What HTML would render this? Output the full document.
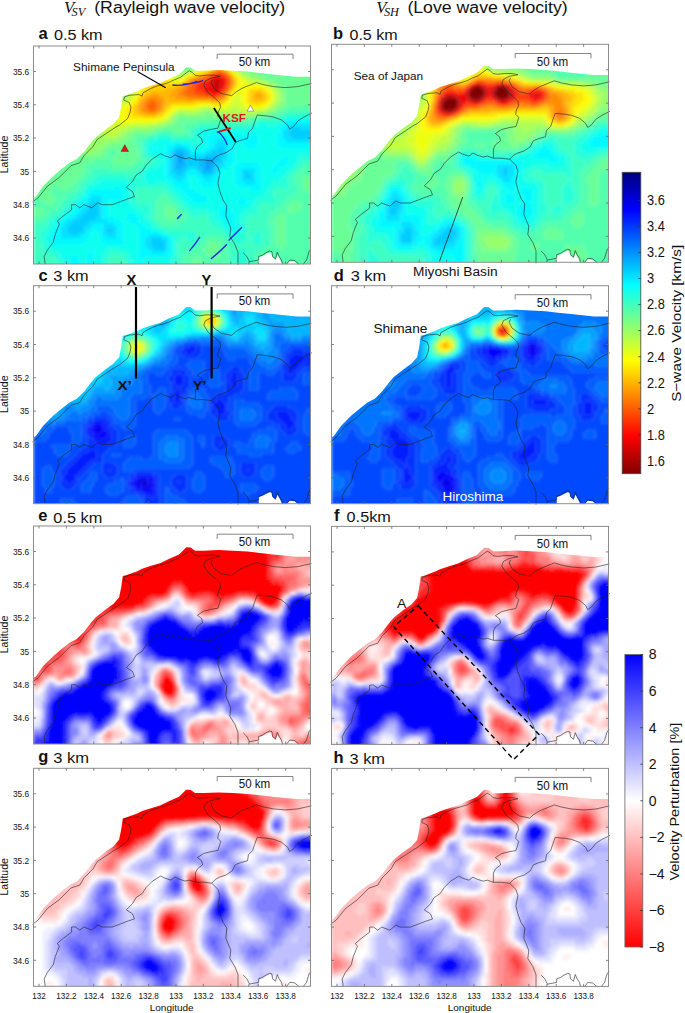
<!DOCTYPE html><html><head><meta charset="utf-8"><style>html,body{margin:0;padding:0;background:#fff;}svg{display:block}text{font-family:"Liberation Sans",sans-serif;fill:#111}</style></head><body><svg width="685" height="1013" viewBox="0 0 685 1013"><defs><clipPath id="mk"><polygon points="-1.0,152.0 2.4,150.4 9.7,140.1 19.9,129.9 28.7,122.6 36.0,116.8 43.3,113.1 50.6,105.8 57.9,96.3 62.3,91.2 72.5,83.2 79.8,78.1 85.6,71.5 87.7,61.3 89.3,50.1 92.6,49.3 103.8,45.2 108.6,42.8 118.3,39.6 126.5,37.2 135.3,32.9 145.5,28.5 150.6,23.4 152.8,21.2 157.2,21.6 161.5,24.8 170.3,24.8 184.9,24.1 199.5,24.8 214.1,25.6 226.5,27.0 239.5,28.4 262.5,30.7 277.0,30.7 277.0,218.0 0.0,218.0 0.0,152.0"/></clipPath><filter id="bl" x="-5%" y="-5%" width="110%" height="110%"><feGaussianBlur stdDeviation="1.6"/></filter><linearGradient id="jet" x1="0" y1="1" x2="0" y2="0"><stop offset="0" stop-color="#800000"/><stop offset="0.125" stop-color="#ff0000"/><stop offset="0.375" stop-color="#ffff00"/><stop offset="0.625" stop-color="#00ffff"/><stop offset="0.875" stop-color="#0000ff"/><stop offset="1" stop-color="#000080"/></linearGradient><linearGradient id="bwr" x1="0" y1="1" x2="0" y2="0"><stop offset="0" stop-color="#ff0000"/><stop offset="0.5" stop-color="#ffffff"/><stop offset="1" stop-color="#0000ff"/></linearGradient></defs><text x="64" y="13.1" font-size="16.8" style="font-family:'Liberation Serif',serif;font-style:italic">V</text><text x="71.6" y="16.2" font-size="12.3" style="font-family:'Liberation Serif',serif;font-style:italic">SV</text><text x="94.2" y="13.1" font-size="17.3" textLength="191" lengthAdjust="spacingAndGlyphs">(Rayleigh wave velocity)</text><text x="376.3" y="13.1" font-size="16.8" style="font-family:'Liberation Serif',serif;font-style:italic">V</text><text x="383.9" y="16.2" font-size="12.3" style="font-family:'Liberation Serif',serif;font-style:italic">SH</text><text x="407.4" y="13.1" font-size="17.3" textLength="160.3" lengthAdjust="spacingAndGlyphs">(Love wave velocity)</text><g transform="translate(33.5,46.0)"><g clip-path="url(#mk)"><g filter="url(#bl)"><g stroke-width="3.3" fill="none"><path stroke="#c2ff3d" d="M0 1.5h15M81 1.5h6M117 1.5h3M168 1.5h6M192 1.5h9M0 4.5h15M81 4.5h6M117 4.5h3M168 4.5h9M192 4.5h9M0 7.5h15M81 7.5h6M117 7.5h3M171 7.5h6M189 7.5h9M0 10.5h18M81 10.5h6M120 10.5h3M174 10.5h6M189 10.5h6M0 13.5h21M81 13.5h9M123 13.5h3M174 13.5h6M192 13.5h3M9 16.5h18M81 16.5h9M126 16.5h6M174 16.5h3M192 16.5h3M12 19.5h15M84 19.5h9M132 19.5h3M195 19.5h3M15 22.5h15M84 22.5h9M168 22.5h3M198 22.5h3M15 25.5h18M87 25.5h6M135 25.5h3M159 25.5h3M201 25.5h3M21 28.5h18M87 28.5h6M138 28.5h3M150 28.5h3M24 31.5h18M87 31.5h6M144 31.5h3M210 31.5h3M27 34.5h15M87 34.5h6M213 34.5h6M27 37.5h21M90 37.5h6M225 37.5h6M30 40.5h27M96 40.5h3M234 40.5h3M36 43.5h24M66 43.5h6M96 43.5h6M39 46.5h39M240 46.5h3M42 49.5h39M96 49.5h3M42 52.5h30M75 52.5h9M93 52.5h3M240 52.5h3M45 55.5h27M78 55.5h15M201 55.5h3M240 55.5h3M51 58.5h21M201 58.5h3M237 58.5h3M54 61.5h21M168 61.5h9M198 61.5h9M234 61.5h3M57 64.5h21M144 64.5h21M183 64.5h15M204 64.5h9M222 64.5h9M57 67.5h21M138 67.5h3M60 70.5h18M135 70.5h3M63 73.5h18M132 73.5h3M69 76.5h12M123 76.5h6M69 79.5h9M93 79.5h21M69 82.5h9M81 82.5h12M69 85.5h18M72 88.5h12"/><path stroke="#acff53" d="M15 1.5h12M60 1.5h21M162 1.5h6M201 1.5h6M15 4.5h12M60 4.5h21M165 4.5h3M201 4.5h6M15 7.5h15M63 7.5h18M120 7.5h3M165 7.5h6M198 7.5h6M18 10.5h15M66 10.5h15M123 10.5h3M168 10.5h6M195 10.5h6M21 13.5h12M69 13.5h12M126 13.5h3M171 13.5h3M195 13.5h3M0 16.5h9M27 16.5h9M69 16.5h12M132 16.5h3M171 16.5h3M195 16.5h3M0 19.5h12M27 19.5h21M69 19.5h15M135 19.5h3M171 19.5h3M0 22.5h15M30 22.5h21M72 22.5h12M135 22.5h3M165 22.5h3M6 25.5h9M33 25.5h21M75 25.5h12M138 25.5h3M156 25.5h3M204 25.5h3M9 28.5h12M39 28.5h24M78 28.5h9M141 28.5h9M207 28.5h6M12 31.5h12M42 31.5h24M81 31.5h6M213 31.5h3M15 34.5h12M42 34.5h27M81 34.5h6M219 34.5h9M18 37.5h9M48 37.5h24M81 37.5h9M231 37.5h3M21 40.5h9M57 40.5h27M87 40.5h9M237 40.5h3M24 43.5h12M60 43.5h6M72 43.5h12M93 43.5h3M240 43.5h3M27 46.5h12M78 46.5h6M93 46.5h6M243 46.5h3M30 49.5h12M81 49.5h6M93 49.5h3M243 49.5h3M33 52.5h9M84 52.5h9M243 52.5h3M36 55.5h9M243 55.5h3M39 58.5h12M240 58.5h3M42 61.5h12M237 61.5h3M45 64.5h12M165 64.5h6M177 64.5h6M198 64.5h6M231 64.5h3M48 67.5h9M141 67.5h3M153 67.5h9M186 67.5h36M51 70.5h9M138 70.5h3M54 73.5h9M135 73.5h3M54 76.5h15M129 76.5h6M60 79.5h9M114 79.5h12M63 82.5h6M93 82.5h6M66 85.5h3M87 85.5h6M66 88.5h6M84 88.5h3M66 91.5h18"/><path stroke="#96ff69" d="M27 1.5h33M120 1.5h3M156 1.5h6M207 1.5h3M27 4.5h33M120 4.5h3M159 4.5h6M207 4.5h3M30 7.5h33M123 7.5h3M162 7.5h3M204 7.5h6M33 10.5h33M126 10.5h3M165 10.5h3M201 10.5h6M33 13.5h36M129 13.5h6M168 13.5h3M198 13.5h3M36 16.5h33M135 16.5h3M168 16.5h3M198 16.5h3M48 19.5h21M168 19.5h3M198 19.5h3M51 22.5h21M138 22.5h3M162 22.5h3M201 22.5h3M0 25.5h6M54 25.5h21M141 25.5h6M150 25.5h6M207 25.5h3M0 28.5h9M63 28.5h15M213 28.5h3M0 31.5h12M66 31.5h15M216 31.5h9M0 34.5h15M69 34.5h12M228 34.5h6M0 37.5h18M72 37.5h9M234 37.5h6M0 40.5h21M84 40.5h3M240 40.5h3M0 43.5h24M84 43.5h9M243 43.5h3M0 46.5h27M84 46.5h9M246 46.5h3M0 49.5h30M87 49.5h6M246 49.5h3M0 52.5h33M246 52.5h3M0 55.5h36M246 55.5h3M0 58.5h39M243 58.5h3M0 61.5h42M240 61.5h3M0 64.5h45M171 64.5h6M234 64.5h6M0 67.5h48M144 67.5h9M162 67.5h6M180 67.5h6M222 67.5h9M0 70.5h51M141 70.5h3M195 70.5h21M0 73.5h54M138 73.5h3M0 76.5h54M135 76.5h3M0 79.5h60M126 79.5h6M12 82.5h51M99 82.5h21M18 85.5h48M93 85.5h6M21 88.5h45M87 88.5h6M24 91.5h42M84 91.5h6M30 94.5h54M36 97.5h39M39 100.5h30M45 103.5h21M51 106.5h9"/><path stroke="#d8ff27" d="M87 1.5h3M114 1.5h3M174 1.5h18M87 4.5h3M114 4.5h3M177 4.5h15M87 7.5h3M114 7.5h3M177 7.5h12M87 10.5h6M117 10.5h3M180 10.5h9M90 13.5h3M120 13.5h3M180 13.5h12M90 16.5h6M123 16.5h3M177 16.5h6M189 16.5h3M93 19.5h6M129 19.5h3M174 19.5h3M192 19.5h3M93 22.5h6M132 22.5h3M171 22.5h3M195 22.5h3M93 25.5h6M132 25.5h3M162 25.5h3M93 28.5h6M135 28.5h3M153 28.5h3M204 28.5h3M93 31.5h6M138 31.5h6M147 31.5h3M207 31.5h3M93 34.5h9M210 34.5h3M96 37.5h6M213 37.5h12M99 40.5h6M231 40.5h3M102 43.5h3M237 43.5h3M99 46.5h3M99 49.5h3M201 49.5h6M240 49.5h3M72 52.5h3M96 52.5h3M198 52.5h9M72 55.5h6M93 55.5h3M198 55.5h3M204 55.5h6M237 55.5h3M72 58.5h21M195 58.5h6M204 58.5h6M75 61.5h12M162 61.5h6M177 61.5h6M192 61.5h6M207 61.5h6M231 61.5h3M78 64.5h6M141 64.5h3M213 64.5h9M78 67.5h6M78 70.5h6M81 73.5h3M129 73.5h3M81 76.5h6M99 76.5h24M78 79.5h15M78 82.5h3"/><path stroke="#eeff11" d="M90 1.5h3M111 1.5h3M90 4.5h3M111 4.5h3M90 7.5h3M111 7.5h3M93 10.5h3M114 10.5h3M93 13.5h6M117 13.5h3M96 16.5h6M120 16.5h3M183 16.5h6M99 19.5h3M126 19.5h3M177 19.5h3M189 19.5h3M99 22.5h6M129 22.5h3M174 22.5h3M99 25.5h6M165 25.5h3M198 25.5h3M99 28.5h6M132 28.5h3M156 28.5h3M201 28.5h3M99 31.5h6M135 31.5h3M150 31.5h3M204 31.5h3M102 34.5h6M138 34.5h9M207 34.5h3M102 37.5h6M207 37.5h6M105 40.5h3M207 40.5h12M225 40.5h6M105 43.5h3M204 43.5h6M234 43.5h3M102 46.5h3M201 46.5h9M237 46.5h3M102 49.5h3M198 49.5h3M207 49.5h3M237 49.5h3M99 52.5h3M207 52.5h3M237 52.5h3M96 55.5h3M195 55.5h3M93 58.5h3M168 58.5h9M192 58.5h3M210 58.5h3M234 58.5h3M87 61.5h6M141 61.5h21M183 61.5h9M213 61.5h18M84 64.5h6M138 64.5h3M84 67.5h6M135 67.5h3M84 70.5h6M132 70.5h3M84 73.5h9M123 73.5h6M87 76.5h12"/><path stroke="#fff900" d="M93 1.5h3M108 1.5h3M93 4.5h6M108 4.5h3M93 7.5h6M108 7.5h3M96 10.5h6M108 10.5h6M99 13.5h18M102 16.5h6M114 16.5h6M102 19.5h6M120 19.5h6M180 19.5h9M105 22.5h3M123 22.5h6M192 22.5h3M105 25.5h3M126 25.5h6M168 25.5h3M105 28.5h6M129 28.5h3M159 28.5h3M105 31.5h6M132 31.5h3M108 34.5h3M135 34.5h3M147 34.5h3M204 34.5h3M108 37.5h3M204 37.5h3M108 40.5h3M204 40.5h3M219 40.5h6M108 43.5h3M201 43.5h3M210 43.5h6M231 43.5h3M105 46.5h3M198 46.5h3M210 46.5h3M234 46.5h3M210 49.5h3M102 52.5h3M195 52.5h3M210 52.5h3M99 55.5h3M192 55.5h3M210 55.5h3M234 55.5h3M96 58.5h3M162 58.5h6M177 58.5h3M189 58.5h3M213 58.5h3M228 58.5h6M93 61.5h3M138 61.5h3M90 64.5h3M135 64.5h3M90 67.5h3M132 67.5h3M90 70.5h6M129 70.5h3M93 73.5h30"/><path stroke="#ffe300" d="M96 1.5h12M99 4.5h9M99 7.5h9M102 10.5h6M108 16.5h6M108 19.5h12M108 22.5h15M177 22.5h3M108 25.5h9M120 25.5h6M171 25.5h3M195 25.5h3M111 28.5h6M123 28.5h6M162 28.5h3M198 28.5h3M111 31.5h6M126 31.5h6M153 31.5h3M201 31.5h3M111 34.5h6M129 34.5h6M150 34.5h3M111 37.5h6M132 37.5h15M111 40.5h6M201 40.5h3M111 43.5h3M216 43.5h15M108 46.5h3M213 46.5h3M231 46.5h3M105 49.5h3M195 49.5h3M213 49.5h3M234 49.5h3M213 52.5h3M234 52.5h3M102 55.5h3M213 55.5h3M231 55.5h3M99 58.5h3M138 58.5h24M180 58.5h9M216 58.5h12M96 61.5h3M135 61.5h3M93 64.5h6M132 64.5h3M93 67.5h6M129 67.5h3M96 70.5h12M123 70.5h6"/><path stroke="#80ff80" d="M123 1.5h3M150 1.5h6M210 1.5h6M123 4.5h3M150 4.5h9M210 4.5h6M126 7.5h3M153 7.5h9M210 7.5h6M129 10.5h6M159 10.5h6M207 10.5h6M135 13.5h3M165 13.5h3M201 13.5h6M138 16.5h3M165 16.5h3M201 16.5h3M138 19.5h6M165 19.5h3M201 19.5h3M141 22.5h3M156 22.5h6M204 22.5h6M147 25.5h3M210 25.5h9M216 28.5h9M225 31.5h6M234 34.5h6M240 37.5h6M243 40.5h6M246 43.5h6M249 46.5h3M249 49.5h3M249 52.5h3M249 55.5h3M246 58.5h6M243 61.5h6M240 64.5h3M168 67.5h12M231 67.5h6M144 70.5h27M180 70.5h15M216 70.5h9M141 73.5h3M198 73.5h12M138 76.5h3M132 79.5h6M0 82.5h12M120 82.5h9M0 85.5h18M99 85.5h21M0 88.5h21M93 88.5h6M0 91.5h24M90 91.5h6M6 94.5h24M84 94.5h9M12 97.5h24M75 97.5h12M15 100.5h24M69 100.5h6M18 103.5h27M66 103.5h6M27 106.5h24M60 106.5h9M33 109.5h33"/><path stroke="#69ff96" d="M126 1.5h6M138 1.5h12M216 1.5h66M126 4.5h9M138 4.5h12M216 4.5h66M129 7.5h24M216 7.5h66M135 10.5h24M213 10.5h69M138 13.5h9M159 13.5h6M207 13.5h75M141 16.5h6M162 16.5h3M204 16.5h78M144 19.5h3M159 19.5h6M204 19.5h78M144 22.5h12M210 22.5h72M219 25.5h63M225 28.5h57M231 31.5h51M240 34.5h42M246 37.5h36M249 40.5h33M252 43.5h30M252 46.5h30M252 49.5h30M252 52.5h30M252 55.5h30M252 58.5h30M249 61.5h6M243 64.5h6M237 67.5h9M171 70.5h9M225 70.5h9M144 73.5h54M210 73.5h9M141 76.5h9M153 76.5h9M138 79.5h12M129 82.5h21M120 85.5h6M141 85.5h9M99 88.5h18M96 91.5h6M0 94.5h6M93 94.5h9M0 97.5h12M87 97.5h15M0 100.5h15M75 100.5h27M0 103.5h18M72 103.5h33M0 106.5h27M69 106.5h6M84 106.5h21M0 109.5h33M66 109.5h9M81 109.5h24M0 112.5h72M78 112.5h27M0 115.5h60M78 115.5h24M0 118.5h54M81 118.5h18M0 121.5h51M0 124.5h51M0 127.5h48M0 130.5h48M270 130.5h12M0 133.5h45M270 133.5h12M0 136.5h42M270 136.5h12M0 139.5h39M270 139.5h12M0 142.5h18M27 142.5h6M270 142.5h12M0 145.5h18M273 145.5h6M0 148.5h18M0 151.5h21M9 154.5h12M12 157.5h6M258 157.5h9M132 160.5h6M255 160.5h12M0 163.5h9M132 163.5h9M255 163.5h12M0 166.5h9M132 166.5h12M255 166.5h6M0 169.5h6M132 169.5h12M246 169.5h6M135 172.5h6M243 172.5h9M240 175.5h12M243 178.5h9M243 181.5h9M243 184.5h9M243 187.5h9M243 190.5h9M243 193.5h9M174 196.5h12M243 196.5h9M174 199.5h12M243 199.5h9M171 202.5h15M246 202.5h3M171 205.5h15M174 208.5h12M162 211.5h3M180 211.5h6M231 211.5h9M159 214.5h9M228 214.5h12M159 217.5h9M228 217.5h12M159 220.5h9M180 220.5h3M228 220.5h12"/><path stroke="#53ffac" d="M132 1.5h6M135 4.5h3M147 13.5h12M147 16.5h15M147 19.5h12M255 61.5h27M249 64.5h33M246 67.5h6M234 70.5h12M219 73.5h6M150 76.5h3M162 76.5h54M150 79.5h15M150 82.5h9M126 85.5h15M150 85.5h6M117 88.5h6M138 88.5h18M102 91.5h12M102 94.5h6M102 97.5h6M102 100.5h6M105 103.5h3M75 106.5h9M105 106.5h3M75 109.5h6M105 109.5h3M72 112.5h6M105 112.5h6M60 115.5h18M102 115.5h9M54 118.5h27M99 118.5h9M51 121.5h12M66 121.5h39M270 121.5h12M51 124.5h6M78 124.5h21M267 124.5h15M48 127.5h9M264 127.5h18M48 130.5h6M261 130.5h9M45 133.5h6M261 133.5h9M42 136.5h6M261 136.5h9M39 139.5h6M264 139.5h6M18 142.5h9M33 142.5h12M264 142.5h6M18 145.5h24M264 145.5h9M279 145.5h3M18 148.5h18M129 148.5h3M261 148.5h21M21 151.5h12M126 151.5h9M255 151.5h27M0 154.5h9M21 154.5h9M123 154.5h15M252 154.5h30M0 157.5h12M18 157.5h9M123 157.5h18M249 157.5h9M267 157.5h15M0 160.5h27M123 160.5h9M138 160.5h6M246 160.5h9M267 160.5h15M9 163.5h15M123 163.5h9M141 163.5h6M243 163.5h12M267 163.5h15M9 166.5h9M123 166.5h9M144 166.5h6M237 166.5h18M261 166.5h21M6 169.5h9M123 169.5h9M144 169.5h9M237 169.5h9M252 169.5h30M0 172.5h12M123 172.5h12M141 172.5h12M234 172.5h9M252 172.5h30M0 175.5h9M126 175.5h24M234 175.5h6M252 175.5h30M129 178.5h15M234 178.5h9M252 178.5h30M237 181.5h6M252 181.5h30M237 184.5h6M252 184.5h30M237 187.5h6M252 187.5h30M174 190.5h15M237 190.5h6M252 190.5h30M171 193.5h21M237 193.5h6M252 193.5h30M168 196.5h6M186 196.5h6M237 196.5h6M252 196.5h30M165 199.5h9M186 199.5h9M234 199.5h9M252 199.5h30M162 202.5h9M186 202.5h9M231 202.5h15M249 202.5h33M153 205.5h18M186 205.5h9M225 205.5h57M150 208.5h24M186 208.5h9M222 208.5h60M150 211.5h12M165 211.5h15M186 211.5h9M222 211.5h9M240 211.5h42M150 214.5h9M168 214.5h27M222 214.5h6M240 214.5h42M150 217.5h9M168 217.5h27M222 217.5h6M240 217.5h42M150 220.5h9M168 220.5h12M183 220.5h12M222 220.5h6M240 220.5h42"/><path stroke="#ffcd00" d="M180 22.5h3M189 22.5h3M117 25.5h3M174 25.5h3M117 28.5h6M165 28.5h3M117 31.5h9M156 31.5h3M117 34.5h12M201 34.5h3M117 37.5h15M147 37.5h3M201 37.5h3M117 40.5h27M114 43.5h18M198 43.5h3M111 46.5h6M195 46.5h3M216 46.5h6M228 46.5h3M108 49.5h3M216 49.5h3M231 49.5h3M105 52.5h3M192 52.5h3M216 52.5h3M231 52.5h3M162 55.5h15M189 55.5h3M216 55.5h6M225 55.5h6M102 58.5h3M135 58.5h3M99 61.5h3M132 61.5h3M99 64.5h3M99 67.5h6M126 67.5h3M108 70.5h15"/><path stroke="#ffb700" d="M183 22.5h6M192 25.5h3M168 28.5h3M195 28.5h3M159 31.5h3M198 31.5h3M153 34.5h3M150 37.5h3M144 40.5h3M198 40.5h3M132 43.5h9M117 46.5h21M222 46.5h6M111 49.5h6M126 49.5h9M192 49.5h3M219 49.5h3M228 49.5h3M108 52.5h3M132 52.5h9M219 52.5h12M105 55.5h3M132 55.5h30M177 55.5h12M222 55.5h3M132 58.5h3M102 61.5h3M129 61.5h3M102 64.5h3M129 64.5h3M105 67.5h6M123 67.5h3"/><path stroke="#ffa100" d="M177 25.5h3M171 28.5h3M162 31.5h3M198 34.5h3M198 37.5h3M147 40.5h3M141 43.5h6M195 43.5h3M138 46.5h6M117 49.5h9M135 49.5h9M222 49.5h6M111 52.5h3M126 52.5h6M141 52.5h12M189 52.5h3M108 55.5h3M129 55.5h3M105 58.5h3M129 58.5h3M105 61.5h3M105 64.5h3M126 64.5h3M111 67.5h12"/><path stroke="#ff8b00" d="M180 25.5h3M189 25.5h3M174 28.5h3M165 31.5h3M156 34.5h3M153 37.5h3M150 40.5h3M147 43.5h3M144 46.5h3M192 46.5h3M144 49.5h6M114 52.5h12M153 52.5h24M186 52.5h3M111 55.5h3M123 55.5h6M108 58.5h3M126 58.5h3M108 61.5h3M126 61.5h3M108 64.5h6M123 64.5h3"/><path stroke="#ff7400" d="M183 25.5h6M192 28.5h3M168 31.5h3M195 31.5h3M159 34.5h3M156 37.5h3M153 40.5h3M195 40.5h3M150 43.5h3M147 46.5h6M150 49.5h12M189 49.5h3M177 52.5h9M114 55.5h9M111 58.5h3M123 58.5h3M111 61.5h3M123 61.5h3M114 64.5h9"/><path stroke="#ff5e00" d="M177 28.5h3M171 31.5h3M162 34.5h6M195 34.5h3M159 37.5h3M195 37.5h3M156 40.5h3M153 43.5h6M192 43.5h3M153 46.5h6M189 46.5h3M162 49.5h9M186 49.5h3M114 58.5h9M114 61.5h9"/><path stroke="#ff4800" d="M180 28.5h3M189 28.5h3M174 31.5h3M192 31.5h3M168 34.5h3M162 37.5h3M159 40.5h3M192 40.5h3M159 43.5h3M159 46.5h9M171 49.5h6M183 49.5h3"/><path stroke="#ff3200" d="M183 28.5h6M171 34.5h3M192 34.5h3M165 37.5h3M192 37.5h3M162 40.5h3M162 43.5h6M189 43.5h3M168 46.5h3M177 49.5h6"/><path stroke="#ff1c00" d="M177 31.5h3M189 31.5h3M174 34.5h3M168 37.5h3M165 40.5h6M168 43.5h3M171 46.5h6M186 46.5h3"/><path stroke="#ff0600" d="M180 31.5h3M186 31.5h3M171 37.5h3M171 40.5h3M189 40.5h3M171 43.5h3M186 43.5h3M177 46.5h9"/><path stroke="#ee0000" d="M183 31.5h3M177 34.5h3M189 34.5h3M174 37.5h3M189 37.5h3M174 40.5h3M174 43.5h6"/><path stroke="#d80000" d="M180 34.5h9M177 37.5h3M186 37.5h3M177 40.5h3M186 40.5h3M180 43.5h6"/><path stroke="#c20000" d="M180 37.5h6M180 40.5h6"/><path stroke="#3dffc2" d="M252 67.5h30M246 70.5h6M225 73.5h21M216 76.5h6M165 79.5h51M159 82.5h6M156 85.5h6M123 88.5h15M156 88.5h3M114 91.5h9M138 91.5h21M108 94.5h6M108 97.5h3M108 100.5h3M108 103.5h3M108 106.5h3M108 109.5h6M111 112.5h6M111 115.5h9M270 115.5h12M108 118.5h9M267 118.5h15M63 121.5h3M105 121.5h9M264 121.5h6M57 124.5h21M99 124.5h9M261 124.5h6M57 127.5h48M258 127.5h6M54 130.5h9M93 130.5h12M255 130.5h6M51 133.5h9M255 133.5h6M48 136.5h9M255 136.5h6M45 139.5h6M255 139.5h9M45 142.5h6M102 142.5h30M243 142.5h9M255 142.5h9M42 145.5h6M102 145.5h33M240 145.5h24M36 148.5h9M102 148.5h27M132 148.5h6M240 148.5h21M33 151.5h9M102 151.5h24M135 151.5h6M240 151.5h15M30 154.5h9M102 154.5h21M138 154.5h6M243 154.5h9M27 157.5h9M105 157.5h9M117 157.5h6M141 157.5h6M228 157.5h21M27 160.5h6M117 160.5h6M144 160.5h6M225 160.5h21M24 163.5h6M117 163.5h6M147 163.5h6M225 163.5h18M18 166.5h9M117 166.5h6M150 166.5h6M225 166.5h12M15 169.5h9M117 169.5h6M153 169.5h6M165 169.5h9M216 169.5h21M12 172.5h6M117 172.5h6M153 172.5h21M213 172.5h21M9 175.5h6M120 175.5h6M150 175.5h27M213 175.5h21M0 178.5h15M123 178.5h6M144 178.5h33M213 178.5h21M0 181.5h12M126 181.5h57M213 181.5h24M0 184.5h9M132 184.5h57M213 184.5h24M0 187.5h6M162 187.5h30M213 187.5h9M228 187.5h9M0 190.5h6M147 190.5h6M162 190.5h12M189 190.5h6M213 190.5h6M228 190.5h9M0 193.5h6M147 193.5h6M162 193.5h9M192 193.5h6M213 193.5h6M228 193.5h9M0 196.5h9M144 196.5h24M192 196.5h9M210 196.5h9M228 196.5h9M0 199.5h9M144 199.5h21M195 199.5h39M0 202.5h9M144 202.5h18M195 202.5h36M0 205.5h12M144 205.5h9M195 205.5h9M213 205.5h12M0 208.5h18M78 208.5h9M144 208.5h6M195 208.5h9M213 208.5h9M0 211.5h21M75 211.5h15M144 211.5h6M195 211.5h6M213 211.5h9M0 214.5h24M75 214.5h18M144 214.5h6M195 214.5h6M213 214.5h9M3 217.5h21M75 217.5h18M144 217.5h6M195 217.5h6M213 217.5h9M0 220.5h24M75 220.5h18M144 220.5h6M195 220.5h6M213 220.5h9"/><path stroke="#27ffd8" d="M252 70.5h30M246 73.5h6M222 76.5h27M216 79.5h9M234 79.5h9M165 82.5h54M162 85.5h6M159 88.5h6M123 91.5h15M159 91.5h6M114 94.5h9M138 94.5h27M111 97.5h6M159 97.5h9M111 100.5h3M111 103.5h3M111 106.5h3M114 109.5h6M267 109.5h15M117 112.5h9M264 112.5h18M120 115.5h9M264 115.5h6M117 118.5h9M261 118.5h6M114 121.5h9M258 121.5h6M108 124.5h6M255 124.5h6M105 127.5h6M252 127.5h6M63 130.5h30M105 130.5h6M249 130.5h6M60 133.5h51M246 133.5h9M57 136.5h9M93 136.5h21M123 136.5h9M240 136.5h15M51 139.5h9M96 139.5h39M237 139.5h18M51 142.5h3M96 142.5h6M132 142.5h6M234 142.5h9M252 142.5h3M48 145.5h3M96 145.5h6M135 145.5h6M234 145.5h6M45 148.5h6M96 148.5h6M138 148.5h6M231 148.5h9M42 151.5h6M96 151.5h6M141 151.5h6M225 151.5h15M39 154.5h6M96 154.5h6M144 154.5h6M222 154.5h21M36 157.5h6M96 157.5h9M114 157.5h3M147 157.5h6M219 157.5h9M33 160.5h6M99 160.5h18M150 160.5h6M219 160.5h6M30 163.5h6M102 163.5h15M153 163.5h9M165 163.5h9M213 163.5h12M27 166.5h6M108 166.5h9M156 166.5h24M210 166.5h15M24 169.5h6M111 169.5h6M159 169.5h6M174 169.5h6M207 169.5h9M18 172.5h9M111 172.5h6M174 172.5h9M207 172.5h6M15 175.5h6M114 175.5h6M177 175.5h9M207 175.5h6M15 178.5h6M117 178.5h6M177 178.5h12M207 178.5h6M12 181.5h6M120 181.5h6M183 181.5h9M207 181.5h6M9 184.5h6M126 184.5h6M189 184.5h6M207 184.5h6M6 187.5h9M132 187.5h30M192 187.5h6M207 187.5h6M222 187.5h6M6 190.5h6M138 190.5h9M153 190.5h9M195 190.5h18M219 190.5h9M6 193.5h6M141 193.5h6M153 193.5h9M198 193.5h15M219 193.5h9M9 196.5h6M141 196.5h3M201 196.5h9M219 196.5h9M9 199.5h6M141 199.5h3M9 202.5h9M75 202.5h9M141 202.5h3M12 205.5h12M72 205.5h21M141 205.5h3M204 205.5h9M18 208.5h9M69 208.5h9M87 208.5h9M141 208.5h3M204 208.5h9M21 211.5h6M69 211.5h6M90 211.5h6M138 211.5h6M201 211.5h12M24 214.5h6M69 214.5h6M93 214.5h6M138 214.5h6M201 214.5h12M0 217.5h3M24 217.5h6M69 217.5h6M93 217.5h6M138 217.5h6M201 217.5h12M24 220.5h3M69 220.5h6M93 220.5h3M138 220.5h6M201 220.5h12"/><path stroke="#11ffee" d="M252 73.5h30M249 76.5h3M225 79.5h9M243 79.5h6M219 82.5h27M168 85.5h78M165 88.5h12M183 88.5h60M165 91.5h9M225 91.5h18M123 94.5h15M165 94.5h9M225 94.5h18M117 97.5h24M147 97.5h12M168 97.5h6M204 97.5h6M225 97.5h18M114 100.5h6M123 100.5h9M156 100.5h18M201 100.5h12M222 100.5h24M114 103.5h6M123 103.5h9M159 103.5h12M201 103.5h81M114 106.5h18M201 106.5h81M120 109.5h12M201 109.5h66M126 112.5h6M201 112.5h48M255 112.5h9M129 115.5h3M201 115.5h45M255 115.5h9M126 118.5h6M198 118.5h6M225 118.5h18M252 118.5h9M123 121.5h9M195 121.5h6M228 121.5h12M246 121.5h12M114 124.5h18M189 124.5h12M228 124.5h9M246 124.5h9M111 127.5h21M189 127.5h12M228 127.5h12M243 127.5h9M111 130.5h21M156 130.5h6M186 130.5h15M228 130.5h21M111 133.5h24M156 133.5h9M186 133.5h15M228 133.5h18M66 136.5h27M114 136.5h9M132 136.5h6M156 136.5h9M183 136.5h18M228 136.5h12M60 139.5h36M135 139.5h6M156 139.5h12M183 139.5h21M228 139.5h9M54 142.5h27M87 142.5h9M138 142.5h9M156 142.5h60M228 142.5h6M51 145.5h6M90 145.5h6M141 145.5h9M162 145.5h72M51 148.5h3M90 148.5h6M144 148.5h9M168 148.5h63M48 151.5h6M90 151.5h6M147 151.5h9M174 151.5h33M210 151.5h15M45 154.5h6M75 154.5h9M90 154.5h6M150 154.5h9M174 154.5h30M213 154.5h9M42 157.5h6M75 157.5h21M153 157.5h51M213 157.5h6M39 160.5h6M75 160.5h24M156 160.5h33M192 160.5h27M36 163.5h6M75 163.5h27M162 163.5h3M174 163.5h12M198 163.5h15M33 166.5h6M75 166.5h33M180 166.5h6M198 166.5h12M30 169.5h6M75 169.5h18M102 169.5h9M180 169.5h6M201 169.5h6M27 172.5h6M81 172.5h12M105 172.5h6M183 172.5h6M201 172.5h6M21 175.5h6M87 175.5h9M105 175.5h9M186 175.5h6M201 175.5h6M21 178.5h3M90 178.5h12M108 178.5h9M189 178.5h6M201 178.5h6M18 181.5h6M90 181.5h15M111 181.5h9M192 181.5h6M201 181.5h6M15 184.5h6M60 184.5h3M90 184.5h15M117 184.5h9M195 184.5h12M15 187.5h6M57 187.5h9M90 187.5h15M126 187.5h6M198 187.5h9M12 190.5h6M57 190.5h9M90 190.5h15M135 190.5h3M12 193.5h6M54 193.5h12M90 193.5h15M138 193.5h3M15 196.5h6M51 196.5h18M90 196.5h15M138 196.5h3M15 199.5h90M138 199.5h3M18 202.5h39M60 202.5h15M84 202.5h21M138 202.5h3M24 205.5h33M60 205.5h12M93 205.5h12M138 205.5h3M27 208.5h27M60 208.5h9M96 208.5h9M135 208.5h6M27 211.5h9M45 211.5h9M60 211.5h9M96 211.5h9M111 211.5h27M30 214.5h6M45 214.5h9M60 214.5h9M99 214.5h6M108 214.5h30M30 217.5h6M48 217.5h6M60 217.5h9M99 217.5h6M108 217.5h30M27 220.5h9M45 220.5h9M60 220.5h9M96 220.5h9M111 220.5h27"/><path stroke="#00f9ff" d="M252 76.5h30M249 79.5h6M246 82.5h6M246 85.5h3M177 88.5h6M243 88.5h6M174 91.5h51M243 91.5h6M174 94.5h9M192 94.5h33M243 94.5h9M141 97.5h6M174 97.5h6M195 97.5h9M210 97.5h15M243 97.5h39M120 100.5h3M132 100.5h9M150 100.5h6M174 100.5h6M195 100.5h6M213 100.5h9M246 100.5h36M120 103.5h3M132 103.5h6M156 103.5h3M171 103.5h6M195 103.5h6M132 106.5h3M159 106.5h12M195 106.5h6M132 109.5h3M195 109.5h6M132 112.5h3M195 112.5h6M249 112.5h6M132 115.5h3M192 115.5h9M246 115.5h9M132 118.5h3M192 118.5h6M204 118.5h21M243 118.5h9M132 121.5h3M189 121.5h6M201 121.5h12M216 121.5h12M240 121.5h6M132 124.5h3M156 124.5h6M186 124.5h3M201 124.5h6M222 124.5h6M237 124.5h9M132 127.5h3M153 127.5h12M183 127.5h6M201 127.5h6M222 127.5h6M240 127.5h3M132 130.5h6M153 130.5h3M162 130.5h6M180 130.5h6M201 130.5h6M222 130.5h6M135 133.5h6M150 133.5h6M165 133.5h6M177 133.5h9M201 133.5h6M222 133.5h6M138 136.5h18M165 136.5h18M201 136.5h9M222 136.5h6M141 139.5h15M168 139.5h15M204 139.5h24M81 142.5h6M147 142.5h9M216 142.5h12M57 145.5h33M150 145.5h12M54 148.5h36M153 148.5h15M54 151.5h3M69 151.5h21M156 151.5h18M207 151.5h3M51 154.5h3M69 154.5h6M84 154.5h6M159 154.5h15M204 154.5h9M48 157.5h6M69 157.5h6M204 157.5h9M45 160.5h6M69 160.5h6M189 160.5h3M42 163.5h6M69 163.5h6M186 163.5h12M39 166.5h6M69 166.5h6M186 166.5h12M36 169.5h6M69 169.5h6M93 169.5h9M186 169.5h15M33 172.5h6M69 172.5h12M93 172.5h12M189 172.5h12M27 175.5h6M75 175.5h12M96 175.5h9M192 175.5h9M24 178.5h6M60 178.5h9M81 178.5h9M102 178.5h6M195 178.5h6M24 181.5h3M57 181.5h12M84 181.5h6M105 181.5h6M198 181.5h3M21 184.5h6M54 184.5h6M63 184.5h6M84 184.5h6M105 184.5h12M21 187.5h6M51 187.5h6M66 187.5h3M84 187.5h6M105 187.5h21M18 190.5h9M48 190.5h9M66 190.5h6M84 190.5h6M105 190.5h9M129 190.5h6M18 193.5h36M66 193.5h24M105 193.5h6M135 193.5h3M21 196.5h30M69 196.5h21M105 196.5h6M135 196.5h3M105 199.5h6M135 199.5h3M57 202.5h3M105 202.5h9M135 202.5h3M57 205.5h3M105 205.5h12M132 205.5h6M54 208.5h6M105 208.5h30M36 211.5h9M54 211.5h6M105 211.5h6M36 214.5h9M54 214.5h6M105 214.5h3M36 217.5h12M54 217.5h6M105 217.5h3M36 220.5h9M54 220.5h6M105 220.5h6"/><path stroke="#00e3ff" d="M255 79.5h27M252 82.5h6M267 82.5h15M249 85.5h6M249 88.5h6M249 91.5h9M183 94.5h9M252 94.5h30M180 97.5h15M141 100.5h9M180 100.5h6M189 100.5h6M138 103.5h3M153 103.5h3M177 103.5h6M192 103.5h3M135 106.5h3M156 106.5h3M171 106.5h6M192 106.5h3M135 109.5h3M156 109.5h15M192 109.5h3M135 112.5h3M189 112.5h6M135 115.5h3M189 115.5h3M135 118.5h3M186 118.5h6M135 121.5h3M156 121.5h6M183 121.5h6M213 121.5h3M135 124.5h3M153 124.5h3M162 124.5h3M183 124.5h3M207 124.5h15M135 127.5h6M150 127.5h3M165 127.5h3M180 127.5h3M207 127.5h3M216 127.5h6M138 130.5h6M147 130.5h6M168 130.5h12M207 130.5h3M219 130.5h3M141 133.5h9M171 133.5h6M207 133.5h15M210 136.5h12M57 151.5h12M54 154.5h15M54 157.5h3M66 157.5h3M51 160.5h3M66 160.5h3M48 163.5h6M66 163.5h3M45 166.5h6M66 166.5h3M42 169.5h6M66 169.5h3M39 172.5h6M63 172.5h6M33 175.5h6M57 175.5h18M30 178.5h6M54 178.5h6M69 178.5h12M27 181.5h6M51 181.5h6M69 181.5h6M78 181.5h6M27 184.5h6M51 184.5h3M69 184.5h3M81 184.5h3M27 187.5h9M45 187.5h6M69 187.5h6M78 187.5h6M27 190.5h21M72 190.5h12M114 190.5h15M111 193.5h6M129 193.5h6M111 196.5h6M132 196.5h3M111 199.5h6M132 199.5h3M114 202.5h6M132 202.5h3M117 205.5h15"/><path stroke="#00cdff" d="M258 82.5h9M255 85.5h27M255 88.5h27M258 91.5h24M186 100.5h3M141 103.5h12M183 103.5h9M138 106.5h3M150 106.5h6M177 106.5h15M138 109.5h3M153 109.5h3M171 109.5h9M183 109.5h9M138 112.5h3M153 112.5h18M186 112.5h3M138 115.5h3M153 115.5h12M183 115.5h6M138 118.5h3M153 118.5h12M183 118.5h3M138 121.5h3M150 121.5h6M162 121.5h6M180 121.5h3M138 124.5h6M147 124.5h6M165 124.5h3M180 124.5h3M141 127.5h9M168 127.5h12M210 127.5h6M144 130.5h3M210 130.5h9M57 157.5h9M54 160.5h12M54 163.5h12M51 166.5h15M48 169.5h18M45 172.5h18M39 175.5h18M36 178.5h18M33 181.5h18M75 181.5h3M33 184.5h18M72 184.5h9M36 187.5h9M75 187.5h3M117 193.5h12M117 196.5h15M117 199.5h15M120 202.5h12"/><path stroke="#00b7ff" d="M141 106.5h9M141 109.5h3M150 109.5h3M180 109.5h3M141 112.5h3M150 112.5h3M171 112.5h15M141 115.5h3M150 115.5h3M165 115.5h6M180 115.5h3M141 118.5h3M147 118.5h6M165 118.5h6M180 118.5h3M141 121.5h9M168 121.5h3M177 121.5h3M144 124.5h3M168 124.5h12"/><path stroke="#00a1ff" d="M144 109.5h6M144 112.5h6M144 115.5h6M171 115.5h9M144 118.5h3M171 118.5h9M171 121.5h6"/></g></g></g><path d="M225.2 218.5V211.5L229 210L233 208L236 206.5L238.2 207L238.8 211L242 214L244 209L247 214.5L249 218.5ZM253 218.5L256.3 215L261 215.5L265 218.5Z" fill="#fff"/><path d="M-1.0 156.0 L4.6 151.8 L14.0 140.1 L25.8 131.4 L37.5 119.7 L46.2 116.8 L50.6 109.5 L59.4 100.7 L63.7 93.4 L72.5 87.6 L81.3 81.7 L86.1 79.0 L94.2 72.5 L96.6 66.1 L97.4 61.3 L95.8 56.5 L90.2 54.0 L91.0 50.9 L95.8 49.3 L105.4 48.5 L108.6 50.1 L109.4 46.8 L118.3 42.0 L124.7 39.6 L129.0 38.5 L135.3 36.5 L139.6 34.3 L146.9 31.4 L150.6 28.5 L155.7 24.8 L158.6 26.3 L161.5 29.2 L165.9 30.0 L173.2 29.2 L180.5 29.2 L186.4 30.4 M186.4 30.4 L177.6 32.1 L171.8 35.1 L170.3 39.4 L174.7 46.7 L182.0 52.6 L186.4 57.0 L187.1 61.3 L184.9 65.7 L184.2 70.0 L187.2 73.0 L186.4 76.0 L184.4 82.2 L178.2 83.2 L170.1 85.2 L163.9 89.3 L168.0 92.4 L169.1 96.5 L163.9 100.6 L161.9 104.7 L161.9 113.9 M179.1 33.6 L177.6 36.5 L180.5 42.4 L187.8 47.5 L198.0 49.7 L202.4 46.0 L208.3 42.4 L215.6 39.4 L222.9 36.5 L229.8 38.6 L240.0 40.6 L252.1 41.6 L264.3 40.6 L278.0 37.5 M209.7 206.8 L213.3 210.4 L215.7 215.2 L215.1 218.5 M215.7 215.8 L225.2 214.0 L225.2 210.4 L228.8 209.2 L232.4 206.8 L236.0 205.0 L238.4 205.6 L239.0 210.4 L242.0 212.8 L243.8 206.2 L245.6 210.4 L248.0 214.0 L249.2 218.5 M252.8 218.5 L256.3 214.0 L261.1 214.6 L265.9 218.5 M269.5 218.5 L273.1 214.0 L275.5 205.6 L277.5 203.0 M11.7 218.0 L10.7 210.5 L13.7 204.4 L19.8 196.3 L21.8 188.1 L25.9 178.0 L23.9 175.0 L29.9 169.9 L38.1 163.8 L38.1 158.7 L42.1 158.7 L46.2 161.8 L50.2 158.7 L58.3 161.8 L64.4 156.7 L68.5 158.7 L78.6 158.7 L86.8 155.7 L94.9 152.6 L101.0 150.6 L99.0 145.5 L92.8 141.5 L99.0 135.4 L102.6 129.2 L108.8 125.1 L112.8 119.0 L119.0 112.8 L127.2 107.7 L131.2 109.8 L137.4 111.8 L141.5 108.7 L145.5 110.8 L151.7 112.8 L155.8 111.8 L161.9 113.9 L170.1 113.9 L178.2 114.9 M178.2 114.9 L184.4 121.0 L186.4 127.1 L184.4 137.4 L186.4 145.5 L189.5 154.0 L193.3 159.7 L192.3 169.9 L197.3 182.0 L196.3 190.2 L201.4 198.3 L204.5 206.4 L204.5 219.0 M178.2 114.9 L182.3 110.8 L186.4 108.7 L192.5 106.7 L198.7 102.6 L201.8 96.5 L206.9 94.4 L214.0 92.4 L215.0 86.3 L219.1 82.2 L221.2 76.0 L223.7 69.0 L233.9 70.0 L240.0 71.0 L248.1 74.0 L254.2 79.1 L256.2 83.2 L260.3 80.2 L264.3 75.0 L270.4 71.0 L278.5 67.0" stroke="#222" stroke-width="0.6" fill="none" stroke-linejoin="round"/><text x="39.6" y="25" font-size="11" textLength="101.6" lengthAdjust="spacingAndGlyphs">Shimane Peninsula</text><path d="M103.9 25.5L132.2 41.7" stroke="#000" stroke-width="1.1"/><path d="M138.9 39Q150 40.5 163.7 35.3M149.1 38.2Q160 38 169.5 34.7" stroke="#1a2ad6" stroke-width="1.3" fill="none"/><path d="M180.4 62.1L202.3 96" stroke="#000" stroke-width="1.8"/><path d="M183.3 86.4L197.3 82" stroke="#e0141e" stroke-width="1.9"/><path d="M184.2 85.5Q190.5 90 193.8 99" stroke="#1a2ad6" stroke-width="1.3" fill="none"/><text x="189.1" y="75.6" font-size="11.6" font-weight="bold" fill="#e0141e" style="fill:#e0141e" textLength="23.4" lengthAdjust="spacingAndGlyphs">KSF</text><path d="M216.9 59.2L220.3 65.2H213.5Z" fill="#fff" stroke="#777" stroke-width="0.6"/><path d="M91.3 98.6L95.1 105.4H87.5Z" fill="#d41a1a" stroke="#801010" stroke-width="0.4"/><path d="M144 172.4L147.7 168.5M156.2 204.6Q162 198 166.1 191.4M177.9 212.5Q186 206 193 198.7M195.6 194L208.1 181.6" stroke="#1a2ad6" stroke-width="1.4" fill="none" stroke-linecap="round"/><rect x="0" y="0" width="277" height="218" fill="none" stroke="#8c8c8c" stroke-width="1"/><path d="M5.5 0v2.5M5.5 218v-2.5M32.9 0v2.5M32.9 218v-2.5M60.3 0v2.5M60.3 218v-2.5M87.7 0v2.5M87.7 218v-2.5M115.1 0v2.5M115.1 218v-2.5M142.5 0v2.5M142.5 218v-2.5M169.9 0v2.5M169.9 218v-2.5M197.3 0v2.5M197.3 218v-2.5M224.7 0v2.5M224.7 218v-2.5M252.1 0v2.5M252.1 218v-2.5M0 25.5h2.5M277 25.5h-2.5M0 58.8h2.5M277 58.8h-2.5M0 92.1h2.5M277 92.1h-2.5M0 125.4h2.5M277 125.4h-2.5M0 158.7h2.5M277 158.7h-2.5M0 192.0h2.5M277 192.0h-2.5" stroke="#666" stroke-width="0.8" fill="none"/><text x="-4.4" y="28.8" font-size="9.8" text-anchor="end" textLength="16.2" lengthAdjust="spacingAndGlyphs">35.6</text><text x="-4.4" y="62.1" font-size="9.8" text-anchor="end" textLength="16.2" lengthAdjust="spacingAndGlyphs">35.4</text><text x="-4.4" y="95.4" font-size="9.8" text-anchor="end" textLength="16.2" lengthAdjust="spacingAndGlyphs">35.2</text><text x="-4.4" y="128.7" font-size="9.8" text-anchor="end" textLength="9.2" lengthAdjust="spacingAndGlyphs">35</text><text x="-4.4" y="162.0" font-size="9.8" text-anchor="end" textLength="16.2" lengthAdjust="spacingAndGlyphs">34.8</text><text x="-4.4" y="195.3" font-size="9.8" text-anchor="end" textLength="16.2" lengthAdjust="spacingAndGlyphs">34.6</text><text x="0" y="0" font-size="10.5" text-anchor="middle" textLength="37.5" lengthAdjust="spacingAndGlyphs" transform="translate(-25.8,108.5) rotate(-90)">Latitude</text><text x="4.9" y="-6.8" font-size="16.5" font-weight="bold">a</text><text x="20.4" y="-6.5" font-size="14.2" textLength="48.6" lengthAdjust="spacingAndGlyphs">0.5 km</text><path d="M183.7 13.0v-4.8h75.8v4.8" stroke="#666" stroke-width="0.8" fill="none"/><text x="221" y="19.7" font-size="12" text-anchor="middle" textLength="31.6" lengthAdjust="spacingAndGlyphs">50 km</text></g><g transform="translate(331.5,44.3)"><g clip-path="url(#mk)"><g filter="url(#bl)"><g stroke-width="3.3" fill="none"><path stroke="#96ff69" d="M0 1.5h54M135 1.5h3M0 4.5h54M0 7.5h57M138 7.5h3M0 10.5h60M144 10.5h3M0 13.5h63M147 13.5h3M0 16.5h66M150 16.5h3M0 19.5h66M153 19.5h3M0 22.5h69M156 22.5h3M0 25.5h69M162 25.5h21M0 28.5h75M186 28.5h6M0 31.5h78M192 31.5h6M0 34.5h54M63 34.5h15M201 34.5h21M0 37.5h54M66 37.5h15M225 37.5h27M0 40.5h54M69 40.5h12M258 40.5h6M0 43.5h57M75 43.5h12M264 43.5h6M0 46.5h60M78 46.5h12M267 46.5h15M0 49.5h63M81 49.5h12M270 49.5h12M0 52.5h63M81 52.5h12M270 52.5h12M0 55.5h66M84 55.5h6M270 55.5h12M0 58.5h66M270 58.5h12M0 61.5h66M267 61.5h15M0 64.5h69M267 64.5h3M0 67.5h72M264 67.5h3M0 70.5h57M66 70.5h12M261 70.5h3M0 73.5h57M66 73.5h15M255 73.5h6M0 76.5h57M63 76.5h15M252 76.5h3M0 79.5h78M168 79.5h15M246 79.5h6M0 82.5h72M126 82.5h6M141 82.5h21M180 82.5h9M204 82.5h9M243 82.5h3M0 85.5h42M48 85.5h21M123 85.5h6M183 85.5h9M198 85.5h12M216 85.5h21M0 88.5h18M21 88.5h21M51 88.5h18M123 88.5h3M183 88.5h21M0 91.5h12M27 91.5h18M57 91.5h6M123 91.5h3M183 91.5h18M33 94.5h12M120 94.5h3M186 94.5h6M39 97.5h9M120 97.5h3M42 100.5h9M117 100.5h6M0 103.5h12M45 103.5h9M114 103.5h6M0 106.5h12M51 106.5h6M105 106.5h9M0 109.5h12M54 109.5h24M102 109.5h3M0 112.5h12M78 112.5h3M99 112.5h3M0 115.5h15M81 115.5h3M96 115.5h3M0 118.5h15M84 118.5h3M93 118.5h3M0 121.5h21M87 121.5h6M9 124.5h15M9 127.5h15M9 130.5h15M0 133.5h21M0 136.5h15M126 136.5h6M0 139.5h12M123 139.5h9M0 142.5h12M123 142.5h9M0 145.5h9M123 145.5h9M126 148.5h6M153 193.5h21M153 196.5h24M156 199.5h21M159 202.5h15"/><path stroke="#acff53" d="M54 1.5h18M54 4.5h18M135 4.5h3M57 7.5h15M135 7.5h3M60 10.5h12M141 10.5h3M63 13.5h9M144 13.5h3M66 16.5h6M147 16.5h3M66 19.5h6M150 19.5h3M69 22.5h6M153 22.5h3M69 25.5h9M156 25.5h6M75 28.5h6M171 28.5h15M78 31.5h3M189 31.5h3M54 34.5h9M78 34.5h6M195 34.5h6M54 37.5h12M81 37.5h3M222 37.5h3M54 40.5h15M81 40.5h6M249 40.5h9M57 43.5h18M87 43.5h6M261 43.5h3M60 46.5h18M90 46.5h3M264 46.5h3M63 49.5h18M264 49.5h6M63 52.5h9M75 52.5h6M267 52.5h3M66 55.5h6M78 55.5h6M90 55.5h3M267 55.5h3M66 58.5h6M78 58.5h12M264 58.5h6M66 61.5h21M264 61.5h3M69 64.5h15M264 64.5h3M72 67.5h12M261 67.5h3M57 70.5h9M78 70.5h6M255 70.5h6M57 73.5h9M81 73.5h3M252 73.5h3M57 76.5h6M78 76.5h6M171 76.5h18M246 76.5h6M78 79.5h3M129 79.5h18M159 79.5h9M183 79.5h30M243 79.5h3M72 82.5h9M123 82.5h3M189 82.5h15M213 82.5h6M237 82.5h6M42 85.5h6M69 85.5h6M120 85.5h3M192 85.5h6M42 88.5h9M69 88.5h6M120 88.5h3M45 91.5h12M63 91.5h9M117 91.5h6M45 94.5h21M117 94.5h3M48 97.5h12M114 97.5h6M51 100.5h6M108 100.5h9M54 103.5h6M105 103.5h9M57 106.5h21M102 106.5h3M78 109.5h3M99 109.5h3M81 112.5h3M96 112.5h3M84 115.5h3M93 115.5h3M87 118.5h6"/><path stroke="#c2ff3d" d="M72 1.5h9M132 1.5h3M72 4.5h9M132 4.5h3M72 7.5h9M72 10.5h6M138 10.5h3M72 13.5h6M141 13.5h3M72 16.5h6M72 19.5h9M75 22.5h6M150 22.5h3M78 25.5h6M81 28.5h3M162 28.5h9M81 31.5h3M186 31.5h3M84 34.5h3M192 34.5h3M84 37.5h3M216 37.5h6M87 40.5h6M228 40.5h21M255 43.5h6M93 46.5h3M261 46.5h3M93 49.5h3M261 49.5h3M72 52.5h3M93 52.5h3M264 52.5h3M72 55.5h6M93 55.5h3M264 55.5h3M72 58.5h6M90 58.5h3M87 61.5h6M261 61.5h3M84 64.5h6M258 64.5h6M84 67.5h3M255 67.5h6M84 70.5h3M252 70.5h3M84 73.5h3M246 73.5h6M84 76.5h3M165 76.5h6M189 76.5h24M243 76.5h3M81 79.5h3M126 79.5h3M147 79.5h12M213 79.5h3M240 79.5h3M81 82.5h3M120 82.5h3M219 82.5h3M234 82.5h3M75 85.5h6M117 85.5h3M75 88.5h3M117 88.5h3M72 91.5h6M111 91.5h6M66 94.5h9M108 94.5h9M60 97.5h15M105 97.5h9M57 100.5h21M102 100.5h6M60 103.5h21M99 103.5h6M78 106.5h6M99 106.5h3M81 109.5h3M96 109.5h3M84 112.5h3M93 112.5h3M87 115.5h6"/><path stroke="#d8ff27" d="M81 1.5h3M129 1.5h3M81 4.5h3M129 4.5h3M81 7.5h6M132 7.5h3M78 10.5h9M135 10.5h3M78 13.5h9M138 13.5h3M78 16.5h12M144 16.5h3M81 19.5h9M147 19.5h3M81 22.5h6M84 25.5h3M153 25.5h3M84 28.5h3M159 28.5h3M84 31.5h3M174 31.5h12M87 34.5h3M189 34.5h3M87 37.5h6M198 37.5h18M93 40.5h3M222 40.5h6M93 43.5h3M246 43.5h9M258 46.5h3M258 49.5h3M261 52.5h3M261 55.5h3M93 58.5h3M261 58.5h3M258 61.5h3M90 64.5h3M255 64.5h3M87 67.5h3M249 67.5h6M87 70.5h3M246 70.5h6M87 73.5h3M168 73.5h45M243 73.5h3M87 76.5h3M129 76.5h36M213 76.5h3M84 79.5h3M123 79.5h3M216 79.5h3M84 82.5h3M117 82.5h3M222 82.5h12M81 85.5h6M114 85.5h3M78 88.5h6M111 88.5h6M78 91.5h6M102 91.5h9M75 94.5h9M99 94.5h9M75 97.5h9M99 97.5h6M78 100.5h6M96 100.5h6M81 103.5h6M96 103.5h3M84 106.5h3M93 106.5h6M84 109.5h12M87 112.5h6"/><path stroke="#eeff11" d="M84 1.5h27M126 1.5h3M84 4.5h27M126 4.5h3M87 7.5h24M126 7.5h6M87 10.5h33M129 10.5h6M87 13.5h9M111 13.5h12M135 13.5h3M90 16.5h3M111 16.5h12M141 16.5h3M90 19.5h3M114 19.5h9M144 19.5h3M87 22.5h6M147 22.5h3M87 25.5h3M150 25.5h3M87 28.5h3M129 28.5h9M156 28.5h3M87 31.5h3M129 31.5h9M168 31.5h6M90 34.5h3M129 34.5h6M186 34.5h3M93 37.5h3M195 37.5h3M219 40.5h3M96 43.5h3M234 43.5h12M96 46.5h3M252 46.5h6M96 49.5h3M255 49.5h3M96 52.5h3M258 52.5h3M96 55.5h3M258 55.5h3M255 58.5h6M93 61.5h3M252 61.5h6M93 64.5h3M249 64.5h6M90 67.5h3M246 67.5h3M90 70.5h3M174 70.5h39M243 70.5h3M162 73.5h6M213 73.5h3M126 76.5h3M240 76.5h3M87 79.5h3M120 79.5h3M219 79.5h3M237 79.5h3M87 82.5h3M114 82.5h3M87 85.5h6M111 85.5h3M84 88.5h27M84 91.5h18M84 94.5h15M84 97.5h15M84 100.5h12M87 103.5h9M87 106.5h6"/><path stroke="#fff900" d="M111 1.5h15M111 4.5h15M111 7.5h15M120 10.5h9M96 13.5h15M123 13.5h12M93 16.5h6M105 16.5h6M123 16.5h6M138 16.5h3M93 19.5h6M108 19.5h6M123 19.5h6M141 19.5h3M93 22.5h3M111 22.5h18M144 22.5h3M90 25.5h6M120 25.5h18M144 25.5h6M90 28.5h6M126 28.5h3M138 28.5h6M150 28.5h6M90 31.5h6M126 31.5h3M138 31.5h3M162 31.5h6M93 34.5h3M126 34.5h3M135 34.5h3M183 34.5h3M96 37.5h3M192 37.5h3M96 40.5h3M216 40.5h3M225 43.5h9M243 46.5h9M252 49.5h3M252 52.5h6M252 55.5h6M96 58.5h3M249 58.5h6M96 61.5h3M246 61.5h6M243 64.5h6M93 67.5h3M243 67.5h3M165 70.5h9M213 70.5h3M90 73.5h3M129 73.5h33M240 73.5h3M90 76.5h3M123 76.5h3M216 76.5h3M237 76.5h3M90 79.5h3M117 79.5h3M222 79.5h3M234 79.5h3M90 82.5h6M111 82.5h3M93 85.5h18"/><path stroke="#80ff80" d="M138 1.5h3M138 4.5h3M141 7.5h3M147 10.5h3M150 13.5h3M153 16.5h3M159 22.5h3M174 22.5h9M183 25.5h9M192 28.5h6M198 31.5h21M222 34.5h3M252 37.5h15M264 40.5h18M270 43.5h12M270 64.5h12M267 67.5h15M264 70.5h6M261 73.5h3M255 76.5h6M252 79.5h3M132 82.5h9M162 82.5h18M246 82.5h6M129 85.5h3M174 85.5h9M210 85.5h6M237 85.5h6M18 88.5h3M126 88.5h3M177 88.5h6M204 88.5h6M12 91.5h15M126 91.5h3M177 91.5h6M201 91.5h3M0 94.5h33M123 94.5h6M177 94.5h9M192 94.5h9M0 97.5h39M123 97.5h6M177 97.5h18M0 100.5h42M123 100.5h3M180 100.5h6M12 103.5h33M120 103.5h3M12 106.5h39M114 106.5h6M12 109.5h42M105 109.5h12M12 112.5h30M51 112.5h27M102 112.5h3M15 115.5h24M78 115.5h3M99 115.5h3M15 118.5h21M81 118.5h3M96 118.5h3M21 121.5h12M84 121.5h3M93 121.5h6M0 124.5h9M24 124.5h9M87 124.5h9M0 127.5h9M24 127.5h9M0 130.5h9M24 130.5h6M21 133.5h9M123 133.5h9M15 136.5h12M120 136.5h6M132 136.5h3M12 139.5h9M120 139.5h3M132 139.5h3M12 142.5h6M120 142.5h3M132 142.5h3M9 145.5h6M120 145.5h3M132 145.5h3M0 148.5h15M120 148.5h6M132 148.5h3M0 151.5h12M123 151.5h9M126 154.5h3M147 187.5h24M147 190.5h30M147 193.5h6M174 193.5h6M147 196.5h6M177 196.5h3M147 199.5h9M177 199.5h3M150 202.5h9M174 202.5h6M150 205.5h27"/><path stroke="#69ff96" d="M141 1.5h3M153 1.5h129M141 4.5h3M153 4.5h129M144 7.5h138M150 10.5h9M162 10.5h120M153 13.5h3M171 13.5h111M156 16.5h3M171 16.5h111M156 19.5h3M171 19.5h111M162 22.5h12M183 22.5h99M192 25.5h30M255 25.5h27M198 28.5h24M261 28.5h21M219 31.5h6M255 31.5h27M225 34.5h57M267 37.5h15M270 70.5h12M264 73.5h18M261 76.5h6M255 79.5h6M252 82.5h3M132 85.5h42M243 85.5h6M129 88.5h6M165 88.5h12M210 88.5h33M129 91.5h3M168 91.5h9M204 91.5h6M129 94.5h6M168 94.5h9M201 94.5h3M129 97.5h6M162 97.5h15M195 97.5h6M126 100.5h6M144 100.5h9M159 100.5h21M186 100.5h9M123 103.5h6M168 103.5h21M120 106.5h6M117 109.5h6M42 112.5h9M105 112.5h15M39 115.5h39M102 115.5h15M273 115.5h6M36 118.5h27M78 118.5h3M99 118.5h6M267 118.5h15M33 121.5h30M81 121.5h3M99 121.5h3M267 121.5h15M33 124.5h30M84 124.5h3M96 124.5h6M264 124.5h18M33 127.5h30M87 127.5h15M261 127.5h9M30 130.5h30M93 130.5h9M117 130.5h15M258 130.5h9M30 133.5h24M96 133.5h9M117 133.5h6M132 133.5h3M255 133.5h12M27 136.5h24M96 136.5h12M114 136.5h6M135 136.5h3M255 136.5h12M21 139.5h30M93 139.5h15M114 139.5h6M135 139.5h3M258 139.5h9M18 142.5h30M93 142.5h9M114 142.5h6M135 142.5h3M258 142.5h9M15 145.5h33M114 145.5h6M135 145.5h3M258 145.5h9M15 148.5h30M117 148.5h3M135 148.5h3M258 148.5h9M12 151.5h30M117 151.5h6M132 151.5h3M258 151.5h9M0 154.5h39M117 154.5h9M129 154.5h6M258 154.5h9M0 157.5h30M120 157.5h15M258 157.5h9M0 160.5h27M120 160.5h15M258 160.5h6M0 163.5h24M123 163.5h15M0 166.5h21M129 166.5h12M0 169.5h21M132 169.5h12M246 169.5h6M0 172.5h18M135 172.5h12M243 172.5h9M0 175.5h18M141 175.5h9M240 175.5h12M0 178.5h18M141 178.5h12M240 178.5h12M0 181.5h18M144 181.5h15M243 181.5h6M0 184.5h21M144 184.5h30M216 184.5h9M0 187.5h21M144 187.5h3M171 187.5h6M213 187.5h18M0 190.5h21M144 190.5h3M177 190.5h6M213 190.5h18M0 193.5h21M144 193.5h3M180 193.5h3M213 193.5h18M0 196.5h21M144 196.5h3M180 196.5h6M0 199.5h21M144 199.5h3M180 199.5h6M201 199.5h6M0 202.5h21M144 202.5h6M180 202.5h6M198 202.5h9M234 202.5h18M0 205.5h21M144 205.5h6M177 205.5h9M201 205.5h6M234 205.5h18M6 208.5h12M144 208.5h42M231 208.5h24M12 211.5h6M147 211.5h36M231 211.5h24M12 214.5h6M147 214.5h36M231 214.5h24M12 217.5h6M147 217.5h36M231 217.5h24M12 220.5h6M147 220.5h36M231 220.5h24"/><path stroke="#53ffac" d="M144 1.5h9M144 4.5h9M159 10.5h3M156 13.5h15M159 16.5h12M159 19.5h12M222 25.5h33M222 28.5h39M225 31.5h30M267 76.5h15M261 79.5h6M255 82.5h6M249 85.5h6M135 88.5h30M243 88.5h6M132 91.5h36M210 91.5h9M225 91.5h18M135 94.5h33M204 94.5h6M135 97.5h27M201 97.5h3M132 100.5h12M153 100.5h6M195 100.5h3M129 103.5h39M189 103.5h6M126 106.5h3M147 106.5h9M159 106.5h27M123 109.5h3M120 112.5h3M270 112.5h12M117 115.5h6M264 115.5h9M279 115.5h3M63 118.5h15M105 118.5h15M261 118.5h6M63 121.5h9M75 121.5h6M102 121.5h21M255 121.5h12M63 124.5h6M78 124.5h6M102 124.5h24M252 124.5h12M63 127.5h6M81 127.5h6M102 127.5h30M249 127.5h12M270 127.5h12M60 130.5h6M84 130.5h9M102 130.5h15M132 130.5h3M249 130.5h9M267 130.5h15M54 133.5h9M84 133.5h12M105 133.5h12M135 133.5h3M249 133.5h6M267 133.5h15M51 136.5h6M84 136.5h12M108 136.5h6M249 136.5h6M267 136.5h15M51 139.5h3M81 139.5h12M108 139.5h6M249 139.5h9M267 139.5h15M48 142.5h3M81 142.5h12M102 142.5h12M249 142.5h9M267 142.5h15M48 145.5h3M81 145.5h33M249 145.5h9M267 145.5h15M45 148.5h3M84 148.5h33M249 148.5h9M267 148.5h15M42 151.5h6M90 151.5h6M108 151.5h9M135 151.5h3M249 151.5h9M267 151.5h15M39 154.5h6M111 154.5h6M135 154.5h3M249 154.5h9M267 154.5h15M30 157.5h15M111 157.5h9M135 157.5h6M249 157.5h9M267 157.5h15M27 160.5h12M114 160.5h6M135 160.5h9M246 160.5h12M264 160.5h18M24 163.5h9M114 163.5h9M138 163.5h9M243 163.5h39M21 166.5h9M120 166.5h9M141 166.5h9M240 166.5h42M21 169.5h6M123 169.5h9M144 169.5h6M237 169.5h9M252 169.5h30M18 172.5h9M129 172.5h6M147 172.5h6M234 172.5h9M252 172.5h30M18 175.5h9M135 175.5h6M150 175.5h6M231 175.5h9M252 175.5h30M18 178.5h9M138 178.5h3M153 178.5h21M213 178.5h27M252 178.5h30M18 181.5h12M138 181.5h6M159 181.5h18M210 181.5h33M249 181.5h33M21 184.5h9M141 184.5h3M174 184.5h6M207 184.5h9M225 184.5h57M21 187.5h9M141 187.5h3M177 187.5h9M204 187.5h9M231 187.5h51M21 190.5h6M141 190.5h3M183 190.5h6M198 190.5h15M231 190.5h51M21 193.5h6M141 193.5h3M183 193.5h30M231 193.5h51M21 196.5h6M141 196.5h3M186 196.5h96M21 199.5h6M141 199.5h3M186 199.5h15M207 199.5h75M21 202.5h6M141 202.5h3M186 202.5h12M207 202.5h27M252 202.5h30M21 205.5h6M141 205.5h3M186 205.5h15M207 205.5h27M252 205.5h30M0 208.5h6M18 208.5h9M141 208.5h3M186 208.5h45M255 208.5h27M0 211.5h12M18 211.5h9M141 211.5h6M183 211.5h48M255 211.5h27M0 214.5h12M18 214.5h9M141 214.5h6M183 214.5h48M255 214.5h27M0 217.5h12M18 217.5h9M141 217.5h6M183 217.5h48M255 217.5h27M0 220.5h12M18 220.5h9M141 220.5h6M183 220.5h48M255 220.5h27"/><path stroke="#ffe300" d="M99 16.5h6M129 16.5h9M99 19.5h9M129 19.5h12M96 22.5h6M105 22.5h6M129 22.5h15M96 25.5h3M114 25.5h6M138 25.5h6M96 28.5h3M120 28.5h6M144 28.5h6M96 31.5h3M123 31.5h3M141 31.5h3M156 31.5h6M96 34.5h6M138 34.5h3M177 34.5h6M99 37.5h3M129 37.5h6M189 37.5h3M99 40.5h3M210 40.5h6M99 43.5h3M222 43.5h3M99 46.5h3M234 46.5h9M99 49.5h3M243 49.5h9M99 52.5h3M246 52.5h6M99 55.5h3M243 55.5h9M243 58.5h6M240 61.5h6M96 64.5h3M240 64.5h3M177 67.5h39M240 67.5h3M93 70.5h3M138 70.5h27M240 70.5h3M93 73.5h3M126 73.5h3M216 73.5h3M93 76.5h3M120 76.5h3M219 76.5h3M93 79.5h3M114 79.5h3M225 79.5h9M96 82.5h6M105 82.5h6"/><path stroke="#ffcd00" d="M102 22.5h3M99 25.5h15M99 28.5h9M117 28.5h3M99 31.5h6M144 31.5h12M102 34.5h3M123 34.5h3M171 34.5h6M102 37.5h3M126 37.5h3M135 37.5h3M186 37.5h3M102 40.5h3M192 40.5h18M102 43.5h3M219 43.5h3M228 46.5h6M237 49.5h6M240 52.5h6M240 55.5h3M99 58.5h3M237 58.5h6M237 61.5h3M207 64.5h9M237 64.5h3M96 67.5h3M159 67.5h18M216 67.5h3M237 67.5h3M132 70.5h6M216 70.5h3M237 70.5h3M237 73.5h3M117 76.5h3M234 76.5h3M96 79.5h3M111 79.5h3M102 82.5h3"/><path stroke="#ffb700" d="M108 28.5h9M105 31.5h3M120 31.5h3M105 34.5h3M141 34.5h3M162 34.5h9M123 37.5h3M183 37.5h3M129 40.5h3M189 40.5h3M216 43.5h3M102 46.5h3M222 46.5h6M102 49.5h3M231 49.5h6M234 52.5h6M234 55.5h6M234 58.5h3M99 61.5h3M213 61.5h3M234 61.5h3M99 64.5h3M180 64.5h27M216 64.5h3M138 67.5h21M96 70.5h3M129 70.5h3M219 70.5h3M96 73.5h3M123 73.5h3M219 73.5h3M234 73.5h3M96 76.5h3M114 76.5h3M222 76.5h3M231 76.5h3M99 79.5h12"/><path stroke="#ffa100" d="M108 31.5h12M108 34.5h3M120 34.5h3M144 34.5h18M105 37.5h3M138 37.5h3M180 37.5h3M105 40.5h3M126 40.5h3M132 40.5h3M186 40.5h3M105 43.5h3M213 43.5h3M219 46.5h3M225 49.5h6M102 52.5h3M228 52.5h6M102 55.5h3M231 55.5h3M231 58.5h3M210 61.5h3M216 61.5h6M231 61.5h3M150 64.5h30M219 64.5h3M234 64.5h3M99 67.5h3M135 67.5h3M219 67.5h3M234 67.5h3M99 70.5h3M234 70.5h3M99 73.5h3M120 73.5h3M222 73.5h3M99 76.5h6M108 76.5h6M225 76.5h6"/><path stroke="#ff8b00" d="M111 34.5h9M108 37.5h3M120 37.5h3M177 37.5h3M108 40.5h3M123 40.5h3M192 43.5h9M210 43.5h3M105 46.5h3M216 46.5h3M105 49.5h3M219 49.5h6M219 52.5h9M219 55.5h12M102 58.5h3M213 58.5h18M156 61.5h6M183 61.5h15M204 61.5h6M222 61.5h9M138 64.5h12M222 64.5h12M132 67.5h3M222 67.5h3M231 67.5h3M126 70.5h3M222 70.5h3M231 70.5h3M102 73.5h3M117 73.5h3M225 73.5h3M231 73.5h3M105 76.5h3"/><path stroke="#ff7400" d="M111 37.5h9M141 37.5h3M156 37.5h6M174 37.5h3M111 40.5h3M120 40.5h3M135 40.5h3M183 40.5h3M108 43.5h3M123 43.5h9M189 43.5h3M201 43.5h9M108 46.5h3M216 49.5h3M216 52.5h3M216 55.5h3M189 58.5h3M210 58.5h3M102 61.5h3M150 61.5h6M162 61.5h3M177 61.5h6M198 61.5h6M102 64.5h3M135 64.5h3M102 67.5h3M129 67.5h3M225 67.5h6M102 70.5h3M225 70.5h6M105 73.5h12M228 73.5h3"/><path stroke="#ff4800" d="M144 37.5h9M183 43.5h3M111 46.5h3M123 46.5h9M186 46.5h3M195 46.5h3M108 49.5h3M189 49.5h6M213 49.5h3M213 52.5h3M105 55.5h3M186 55.5h9M153 58.5h3M162 58.5h3M180 58.5h3M198 58.5h9M135 61.5h12"/><path stroke="#ff5e00" d="M153 37.5h3M162 37.5h12M114 40.5h6M180 40.5h3M111 43.5h12M132 43.5h3M186 43.5h3M189 46.5h6M213 46.5h3M105 52.5h3M213 55.5h3M156 58.5h6M183 58.5h6M192 58.5h6M207 58.5h3M147 61.5h3M165 61.5h12M132 64.5h3M105 70.5h3M123 70.5h3"/><path stroke="#ff3200" d="M138 40.5h3M156 40.5h6M177 40.5h3M114 46.5h9M198 46.5h3M210 46.5h3M186 49.5h3M195 49.5h3M186 52.5h12M156 55.5h6M183 55.5h3M195 55.5h3M210 55.5h3M105 58.5h3M150 58.5h3M177 58.5h3M132 61.5h3M129 64.5h3M105 67.5h3M126 67.5h3M108 70.5h3M120 70.5h3"/><path stroke="#ff0600" d="M141 40.5h3M150 40.5h3M174 40.5h3M156 43.5h3M114 49.5h3M120 49.5h6M183 49.5h3M198 49.5h3M210 49.5h3M156 52.5h3M198 52.5h3M162 55.5h3M180 55.5h3M201 55.5h6M132 58.5h3M138 58.5h3M147 58.5h3M168 58.5h9M129 61.5h3M108 67.5h3M123 67.5h3"/><path stroke="#d80000" d="M144 40.5h6M168 40.5h3M138 43.5h3M177 43.5h3M135 46.5h3M159 46.5h3M159 49.5h3M180 49.5h3M204 49.5h3M111 52.5h3M153 52.5h3M204 52.5h3M135 55.5h3M150 55.5h3"/><path stroke="#ff1c00" d="M153 40.5h3M162 40.5h3M135 43.5h3M180 43.5h3M132 46.5h3M183 46.5h3M201 46.5h9M111 49.5h3M126 49.5h6M108 52.5h3M183 52.5h3M210 52.5h3M153 55.5h3M198 55.5h3M207 55.5h3M135 58.5h3M165 58.5h3M105 61.5h3M105 64.5h3M111 70.5h9"/><path stroke="#ee0000" d="M165 40.5h3M171 40.5h3M153 43.5h3M159 43.5h3M156 46.5h3M180 46.5h3M117 49.5h3M132 49.5h3M156 49.5h3M201 49.5h3M207 49.5h3M126 52.5h9M159 52.5h3M180 52.5h3M201 52.5h3M207 52.5h3M108 55.5h3M129 55.5h6M177 55.5h3M129 58.5h3M141 58.5h6M126 64.5h3"/><path stroke="#800000" d="M141 43.5h9M165 43.5h9M138 46.5h15M165 46.5h12M138 49.5h15M162 49.5h15M138 52.5h12M165 52.5h12M114 55.5h12M144 55.5h3M111 58.5h15M111 61.5h15M111 64.5h12"/><path stroke="#ac0000" d="M150 43.5h3M174 43.5h3M177 46.5h3M135 49.5h3M114 52.5h9M162 52.5h3M177 52.5h3M147 55.5h3M168 55.5h6M126 58.5h3M108 61.5h3M114 67.5h3"/><path stroke="#c20000" d="M162 43.5h3M153 46.5h3M153 49.5h3M123 52.5h3M135 52.5h3M126 55.5h3M138 55.5h3M165 55.5h3M174 55.5h3M108 58.5h3M126 61.5h3M108 64.5h3M111 67.5h3M120 67.5h3"/><path stroke="#960000" d="M162 46.5h3M177 49.5h3M150 52.5h3M111 55.5h3M141 55.5h3M123 64.5h3M117 67.5h3"/><path stroke="#3dffc2" d="M267 79.5h15M261 82.5h6M255 85.5h6M249 88.5h9M219 91.5h6M243 91.5h9M210 94.5h6M222 94.5h24M204 97.5h6M225 97.5h18M198 100.5h6M228 100.5h15M195 103.5h3M228 103.5h15M129 106.5h18M156 106.5h3M186 106.5h9M234 106.5h9M126 109.5h3M147 109.5h39M237 109.5h6M267 109.5h15M123 112.5h3M240 112.5h6M261 112.5h9M123 115.5h3M240 115.5h12M255 115.5h9M120 118.5h6M240 118.5h21M72 121.5h3M123 121.5h3M240 121.5h15M69 124.5h9M126 124.5h6M240 124.5h12M69 127.5h12M132 127.5h3M201 127.5h9M240 127.5h9M66 130.5h18M135 130.5h3M198 130.5h36M240 130.5h9M63 133.5h21M138 133.5h3M204 133.5h33M240 133.5h9M57 136.5h6M75 136.5h9M138 136.5h3M210 136.5h27M240 136.5h9M54 139.5h3M75 139.5h6M138 139.5h3M213 139.5h21M240 139.5h9M51 142.5h3M75 142.5h6M138 142.5h3M159 142.5h3M213 142.5h18M240 142.5h9M51 145.5h3M78 145.5h3M138 145.5h3M156 145.5h9M213 145.5h18M243 145.5h6M48 148.5h3M78 148.5h6M138 148.5h3M156 148.5h9M213 148.5h18M243 148.5h6M48 151.5h3M81 151.5h9M96 151.5h12M138 151.5h3M156 151.5h6M213 151.5h18M243 151.5h6M45 154.5h6M84 154.5h27M138 154.5h6M153 154.5h9M213 154.5h18M243 154.5h6M45 157.5h3M102 157.5h9M141 157.5h18M213 157.5h18M240 157.5h9M39 160.5h6M105 160.5h9M144 160.5h15M216 160.5h12M231 160.5h15M33 163.5h12M102 163.5h12M147 163.5h12M216 163.5h6M231 163.5h12M30 166.5h9M102 166.5h18M150 166.5h9M216 166.5h3M231 166.5h9M27 169.5h9M102 169.5h21M150 169.5h9M165 169.5h9M213 169.5h9M228 169.5h9M27 172.5h6M105 172.5h3M123 172.5h6M153 172.5h24M210 172.5h24M27 175.5h6M129 175.5h6M156 175.5h24M210 175.5h21M27 178.5h6M132 178.5h6M174 178.5h6M207 178.5h6M30 181.5h6M135 181.5h3M177 181.5h6M204 181.5h6M30 184.5h6M138 184.5h3M180 184.5h9M198 184.5h9M30 187.5h6M138 187.5h3M186 187.5h18M27 190.5h9M138 190.5h3M189 190.5h9M27 193.5h9M138 193.5h3M27 196.5h9M42 196.5h6M138 196.5h3M27 199.5h24M138 199.5h3M27 202.5h27M138 202.5h3M27 205.5h9M39 205.5h15M138 205.5h3M27 208.5h9M42 208.5h15M138 208.5h3M27 211.5h9M45 211.5h45M138 211.5h3M27 214.5h9M48 214.5h45M138 214.5h3M27 217.5h9M48 217.5h45M138 217.5h3M27 220.5h9M45 220.5h48M138 220.5h3"/><path stroke="#27ffd8" d="M267 82.5h15M261 85.5h6M258 88.5h6M252 91.5h6M216 94.5h6M246 94.5h9M210 97.5h15M243 97.5h9M204 100.5h6M222 100.5h6M243 100.5h6M198 103.5h6M222 103.5h6M243 103.5h6M195 106.5h6M225 106.5h9M243 106.5h9M267 106.5h15M129 109.5h18M186 109.5h9M228 109.5h9M243 109.5h12M258 109.5h9M126 112.5h3M147 112.5h39M234 112.5h6M246 112.5h15M126 115.5h3M234 115.5h6M252 115.5h3M126 118.5h3M234 118.5h6M126 121.5h6M201 121.5h15M234 121.5h6M132 124.5h6M195 124.5h45M135 127.5h6M192 127.5h9M210 127.5h30M138 130.5h3M192 130.5h6M234 130.5h6M192 133.5h12M237 133.5h3M63 136.5h12M156 136.5h6M195 136.5h15M237 136.5h3M57 139.5h18M141 139.5h3M156 139.5h9M204 139.5h9M234 139.5h6M54 142.5h3M72 142.5h3M141 142.5h3M153 142.5h6M162 142.5h6M207 142.5h6M231 142.5h9M54 145.5h3M72 145.5h6M141 145.5h3M153 145.5h3M165 145.5h3M207 145.5h6M231 145.5h12M51 148.5h3M75 148.5h3M141 148.5h3M150 148.5h6M165 148.5h3M207 148.5h6M231 148.5h12M51 151.5h3M78 151.5h3M141 151.5h15M162 151.5h6M207 151.5h6M231 151.5h12M78 154.5h6M144 154.5h9M162 154.5h6M207 154.5h6M231 154.5h12M48 157.5h3M81 157.5h21M159 157.5h9M207 157.5h6M231 157.5h9M45 160.5h6M84 160.5h21M159 160.5h9M207 160.5h9M228 160.5h3M45 163.5h3M93 163.5h9M159 163.5h12M207 163.5h9M222 163.5h9M39 166.5h6M96 166.5h6M159 166.5h18M207 166.5h9M219 166.5h12M36 169.5h9M96 169.5h6M159 169.5h6M174 169.5h6M207 169.5h6M222 169.5h6M33 172.5h9M96 172.5h9M108 172.5h15M177 172.5h6M204 172.5h6M33 175.5h6M96 175.5h15M123 175.5h6M180 175.5h6M204 175.5h6M33 178.5h6M96 178.5h9M129 178.5h3M180 178.5h9M201 178.5h6M36 181.5h3M132 181.5h3M183 181.5h21M36 184.5h6M135 184.5h3M189 184.5h9M36 187.5h6M135 187.5h3M36 190.5h18M135 190.5h3M36 193.5h21M135 193.5h3M36 196.5h6M48 196.5h9M135 196.5h3M51 199.5h9M135 199.5h3M54 202.5h6M135 202.5h3M36 205.5h3M54 205.5h9M84 205.5h9M135 205.5h3M36 208.5h6M57 208.5h39M135 208.5h3M36 211.5h9M90 211.5h9M135 211.5h3M36 214.5h12M93 214.5h6M135 214.5h3M36 217.5h12M93 217.5h6M135 217.5h3M36 220.5h9M93 220.5h6M135 220.5h3"/><path stroke="#11ffee" d="M267 85.5h15M264 88.5h9M279 88.5h3M258 91.5h9M255 94.5h6M252 97.5h6M210 100.5h12M249 100.5h9M204 103.5h6M216 103.5h6M249 103.5h33M201 106.5h6M219 106.5h6M252 106.5h15M195 109.5h9M222 109.5h6M255 109.5h3M129 112.5h18M186 112.5h15M225 112.5h9M129 115.5h3M144 115.5h72M228 115.5h6M129 118.5h3M192 118.5h42M132 121.5h6M189 121.5h12M216 121.5h18M138 124.5h6M189 124.5h6M141 127.5h6M186 127.5h6M141 130.5h6M150 130.5h12M186 130.5h6M141 133.5h6M150 133.5h15M186 133.5h6M141 136.5h6M150 136.5h6M162 136.5h6M186 136.5h9M150 139.5h6M165 139.5h6M186 139.5h18M57 142.5h15M144 142.5h3M150 142.5h3M168 142.5h6M183 142.5h24M57 145.5h3M69 145.5h3M144 145.5h9M168 145.5h9M183 145.5h6M201 145.5h6M54 148.5h3M72 148.5h3M144 148.5h6M168 148.5h9M180 148.5h9M201 148.5h6M54 151.5h3M72 151.5h6M168 151.5h6M183 151.5h9M201 151.5h6M51 154.5h3M75 154.5h3M168 154.5h6M183 154.5h9M201 154.5h6M51 157.5h3M75 157.5h6M168 157.5h6M183 157.5h9M198 157.5h9M51 160.5h3M75 160.5h9M168 160.5h21M201 160.5h6M48 163.5h3M75 163.5h18M171 163.5h15M201 163.5h6M45 166.5h6M75 166.5h21M177 166.5h9M201 166.5h6M45 169.5h3M75 169.5h21M180 169.5h6M201 169.5h6M42 172.5h6M90 172.5h6M183 172.5h6M198 172.5h6M39 175.5h9M90 175.5h6M111 175.5h12M186 175.5h18M39 178.5h6M90 178.5h6M105 178.5h6M126 178.5h3M189 178.5h12M39 181.5h9M90 181.5h18M129 181.5h3M42 184.5h21M90 184.5h15M132 184.5h3M42 187.5h21M90 187.5h9M132 187.5h3M54 190.5h9M90 190.5h6M132 190.5h3M57 193.5h6M132 193.5h3M57 196.5h6M90 196.5h3M132 196.5h3M60 199.5h3M87 199.5h6M132 199.5h3M60 202.5h6M81 202.5h15M132 202.5h3M63 205.5h21M93 205.5h6M132 205.5h3M96 208.5h6M132 208.5h3M99 211.5h21M132 211.5h3M99 214.5h24M132 214.5h3M99 217.5h24M132 217.5h3M99 220.5h24M132 220.5h3"/><path stroke="#00f9ff" d="M273 88.5h6M267 91.5h15M261 94.5h21M258 97.5h24M258 100.5h24M210 103.5h6M207 106.5h12M204 109.5h18M201 112.5h24M132 115.5h12M216 115.5h12M132 118.5h60M138 121.5h27M183 121.5h6M144 124.5h21M183 124.5h6M147 127.5h18M183 127.5h3M147 130.5h3M162 130.5h3M183 130.5h3M147 133.5h3M165 133.5h3M180 133.5h6M147 136.5h3M168 136.5h3M180 136.5h6M144 139.5h6M171 139.5h15M147 142.5h3M174 142.5h9M60 145.5h9M177 145.5h6M189 145.5h12M57 148.5h3M66 148.5h6M177 148.5h3M189 148.5h12M57 151.5h3M69 151.5h3M174 151.5h9M192 151.5h9M54 154.5h3M72 154.5h3M174 154.5h9M192 154.5h9M54 157.5h3M72 157.5h3M174 157.5h9M192 157.5h6M54 160.5h3M72 160.5h3M189 160.5h12M51 163.5h3M72 163.5h3M186 163.5h15M51 166.5h3M72 166.5h3M186 166.5h15M48 169.5h6M69 169.5h6M186 169.5h15M48 172.5h6M69 172.5h21M189 172.5h9M48 175.5h6M69 175.5h21M45 178.5h24M81 178.5h9M111 178.5h15M48 181.5h21M84 181.5h6M108 181.5h6M126 181.5h3M63 184.5h6M84 184.5h6M105 184.5h3M129 184.5h3M63 187.5h3M87 187.5h3M99 187.5h6M129 187.5h3M63 190.5h3M87 190.5h3M96 190.5h6M129 190.5h3M63 193.5h3M84 193.5h15M129 193.5h3M63 196.5h3M84 196.5h6M93 196.5h6M126 196.5h6M63 199.5h6M81 199.5h6M93 199.5h6M126 199.5h6M66 202.5h15M96 202.5h3M123 202.5h9M99 205.5h6M114 205.5h18M102 208.5h30M120 211.5h12M123 214.5h9M123 217.5h9M123 220.5h9"/><path stroke="#00e3ff" d="M165 121.5h18M165 124.5h6M177 124.5h6M165 127.5h6M177 127.5h6M165 130.5h6M177 130.5h6M168 133.5h12M171 136.5h9M60 148.5h6M60 151.5h9M57 154.5h6M66 154.5h6M57 157.5h3M69 157.5h3M57 160.5h3M69 160.5h3M54 163.5h3M69 163.5h3M54 166.5h3M66 166.5h6M54 169.5h3M66 169.5h3M54 172.5h15M54 175.5h15M69 178.5h12M69 181.5h15M114 181.5h12M69 184.5h3M81 184.5h3M108 184.5h6M123 184.5h6M66 187.5h6M81 187.5h6M105 187.5h6M126 187.5h3M66 190.5h3M81 190.5h6M102 190.5h6M126 190.5h3M66 193.5h3M81 193.5h3M99 193.5h6M123 193.5h6M66 196.5h3M81 196.5h3M99 196.5h3M123 196.5h3M69 199.5h12M99 199.5h3M117 199.5h9M99 202.5h24M105 205.5h9"/><path stroke="#00cdff" d="M171 124.5h6M171 127.5h6M171 130.5h6M63 154.5h3M60 157.5h9M60 160.5h9M57 163.5h12M57 166.5h9M57 169.5h9M72 184.5h9M114 184.5h9M72 187.5h9M111 187.5h15M69 190.5h12M108 190.5h18M69 193.5h12M105 193.5h18M69 196.5h12M102 196.5h21M102 199.5h15"/></g></g></g><path d="M225.2 218.5V211.5L229 210L233 208L236 206.5L238.2 207L238.8 211L242 214L244 209L247 214.5L249 218.5ZM253 218.5L256.3 215L261 215.5L265 218.5Z" fill="#fff"/><path d="M-1.0 156.0 L4.6 151.8 L14.0 140.1 L25.8 131.4 L37.5 119.7 L46.2 116.8 L50.6 109.5 L59.4 100.7 L63.7 93.4 L72.5 87.6 L81.3 81.7 L86.1 79.0 L94.2 72.5 L96.6 66.1 L97.4 61.3 L95.8 56.5 L90.2 54.0 L91.0 50.9 L95.8 49.3 L105.4 48.5 L108.6 50.1 L109.4 46.8 L118.3 42.0 L124.7 39.6 L129.0 38.5 L135.3 36.5 L139.6 34.3 L146.9 31.4 L150.6 28.5 L155.7 24.8 L158.6 26.3 L161.5 29.2 L165.9 30.0 L173.2 29.2 L180.5 29.2 L186.4 30.4 M186.4 30.4 L177.6 32.1 L171.8 35.1 L170.3 39.4 L174.7 46.7 L182.0 52.6 L186.4 57.0 L187.1 61.3 L184.9 65.7 L184.2 70.0 L187.2 73.0 L186.4 76.0 L184.4 82.2 L178.2 83.2 L170.1 85.2 L163.9 89.3 L168.0 92.4 L169.1 96.5 L163.9 100.6 L161.9 104.7 L161.9 113.9 M179.1 33.6 L177.6 36.5 L180.5 42.4 L187.8 47.5 L198.0 49.7 L202.4 46.0 L208.3 42.4 L215.6 39.4 L222.9 36.5 L229.8 38.6 L240.0 40.6 L252.1 41.6 L264.3 40.6 L278.0 37.5 M209.7 206.8 L213.3 210.4 L215.7 215.2 L215.1 218.5 M215.7 215.8 L225.2 214.0 L225.2 210.4 L228.8 209.2 L232.4 206.8 L236.0 205.0 L238.4 205.6 L239.0 210.4 L242.0 212.8 L243.8 206.2 L245.6 210.4 L248.0 214.0 L249.2 218.5 M252.8 218.5 L256.3 214.0 L261.1 214.6 L265.9 218.5 M269.5 218.5 L273.1 214.0 L275.5 205.6 L277.5 203.0 M11.7 218.0 L10.7 210.5 L13.7 204.4 L19.8 196.3 L21.8 188.1 L25.9 178.0 L23.9 175.0 L29.9 169.9 L38.1 163.8 L38.1 158.7 L42.1 158.7 L46.2 161.8 L50.2 158.7 L58.3 161.8 L64.4 156.7 L68.5 158.7 L78.6 158.7 L86.8 155.7 L94.9 152.6 L101.0 150.6 L99.0 145.5 L92.8 141.5 L99.0 135.4 L102.6 129.2 L108.8 125.1 L112.8 119.0 L119.0 112.8 L127.2 107.7 L131.2 109.8 L137.4 111.8 L141.5 108.7 L145.5 110.8 L151.7 112.8 L155.8 111.8 L161.9 113.9 L170.1 113.9 L178.2 114.9 M178.2 114.9 L184.4 121.0 L186.4 127.1 L184.4 137.4 L186.4 145.5 L189.5 154.0 L193.3 159.7 L192.3 169.9 L197.3 182.0 L196.3 190.2 L201.4 198.3 L204.5 206.4 L204.5 219.0 M178.2 114.9 L182.3 110.8 L186.4 108.7 L192.5 106.7 L198.7 102.6 L201.8 96.5 L206.9 94.4 L214.0 92.4 L215.0 86.3 L219.1 82.2 L221.2 76.0 L223.7 69.0 L233.9 70.0 L240.0 71.0 L248.1 74.0 L254.2 79.1 L256.2 83.2 L260.3 80.2 L264.3 75.0 L270.4 71.0 L278.5 67.0" stroke="#222" stroke-width="0.6" fill="none" stroke-linejoin="round"/><text x="22.2" y="35.9" font-size="11.5" textLength="69.4" lengthAdjust="spacingAndGlyphs">Sea of Japan</text><path d="M131.2 152.7L107.9 217.2" stroke="#222" stroke-width="0.8"/><text x="81.6" y="231.7" font-size="12.3" textLength="84.5" lengthAdjust="spacingAndGlyphs">Miyoshi Basin</text><rect x="0" y="0" width="277" height="218" fill="none" stroke="#8c8c8c" stroke-width="1"/><path d="M5.5 0v2.5M5.5 218v-2.5M32.9 0v2.5M32.9 218v-2.5M60.3 0v2.5M60.3 218v-2.5M87.7 0v2.5M87.7 218v-2.5M115.1 0v2.5M115.1 218v-2.5M142.5 0v2.5M142.5 218v-2.5M169.9 0v2.5M169.9 218v-2.5M197.3 0v2.5M197.3 218v-2.5M224.7 0v2.5M224.7 218v-2.5M252.1 0v2.5M252.1 218v-2.5M0 25.5h2.5M277 25.5h-2.5M0 58.8h2.5M277 58.8h-2.5M0 92.1h2.5M277 92.1h-2.5M0 125.4h2.5M277 125.4h-2.5M0 158.7h2.5M277 158.7h-2.5M0 192.0h2.5M277 192.0h-2.5" stroke="#666" stroke-width="0.8" fill="none"/><text x="1.6" y="-5.4" font-size="16.5" font-weight="bold">b</text><text x="18.0" y="-3.9" font-size="14.2" textLength="48.1" lengthAdjust="spacingAndGlyphs">0.5 km</text><path d="M183.7 14.0v-4.8h75.8v4.8" stroke="#666" stroke-width="0.8" fill="none"/><text x="221" y="22.2" font-size="12" text-anchor="middle" textLength="31.6" lengthAdjust="spacingAndGlyphs">50 km</text></g><g transform="translate(33.5,285.7)"><g clip-path="url(#mk)"><g filter="url(#bl)"><g stroke-width="3.3" fill="none"><path stroke="#00e3ff" d="M0 1.5h90M117 1.5h57M0 4.5h90M120 4.5h51M0 7.5h90M123 7.5h45M0 10.5h93M126 10.5h39M0 13.5h75M81 13.5h15M126 13.5h36M0 16.5h75M84 16.5h18M126 16.5h39M0 19.5h45M48 19.5h27M87 19.5h18M129 19.5h42M0 22.5h45M51 22.5h30M102 22.5h6M132 22.5h30M180 22.5h3M0 25.5h45M57 25.5h24M102 25.5h9M135 25.5h9M147 25.5h12M189 25.5h3M0 28.5h48M63 28.5h21M105 28.5h9M138 28.5h3M153 28.5h3M192 28.5h3M0 31.5h48M66 31.5h18M108 31.5h9M138 31.5h3M213 31.5h6M0 34.5h51M69 34.5h15M114 34.5h6M138 34.5h3M213 34.5h6M0 37.5h51M75 37.5h12M96 37.5h12M111 37.5h9M135 37.5h3M195 37.5h3M213 37.5h9M0 40.5h54M84 40.5h36M135 40.5h3M195 40.5h3M0 43.5h57M84 43.5h18M111 43.5h6M132 43.5h3M192 43.5h12M222 43.5h6M0 46.5h60M84 46.5h12M114 46.5h6M129 46.5h6M180 46.5h3M195 46.5h9M222 46.5h9M0 49.5h60M87 49.5h3M117 49.5h18M150 49.5h6M198 49.5h6M225 49.5h6M0 52.5h63M123 52.5h18M225 52.5h6M0 55.5h63M126 55.5h3M0 58.5h66M126 58.5h3M0 61.5h69M0 64.5h72M123 64.5h3M0 67.5h57M63 67.5h12M120 67.5h3M0 70.5h57M66 70.5h12M117 70.5h3M0 73.5h57M69 73.5h21M0 76.5h57M69 76.5h15M90 76.5h6M108 76.5h3M9 79.5h54M15 82.5h30M51 82.5h15M18 85.5h24M54 85.5h12M21 88.5h21M54 88.5h12M24 91.5h18M51 91.5h15M30 94.5h30M36 97.5h18M39 100.5h15M42 103.5h9M42 106.5h6"/><path stroke="#00cdff" d="M90 1.5h6M114 1.5h3M174 1.5h15M90 4.5h6M114 4.5h6M171 4.5h18M90 7.5h6M114 7.5h9M168 7.5h15M93 10.5h6M117 10.5h9M165 10.5h9M96 13.5h9M120 13.5h6M162 13.5h9M102 16.5h6M123 16.5h3M165 16.5h6M105 19.5h6M123 19.5h6M171 19.5h9M108 22.5h3M126 22.5h6M183 22.5h6M111 25.5h6M129 25.5h6M192 25.5h3M213 25.5h6M114 28.5h6M135 28.5h3M210 28.5h12M117 31.5h6M135 31.5h3M195 31.5h3M210 31.5h3M219 31.5h3M120 34.5h3M135 34.5h3M195 34.5h3M207 34.5h6M219 34.5h6M120 37.5h3M198 37.5h3M207 37.5h6M222 37.5h6M120 40.5h6M132 40.5h3M198 40.5h33M117 43.5h15M204 43.5h18M228 43.5h6M120 46.5h9M183 46.5h12M204 46.5h6M219 46.5h3M231 46.5h3M156 49.5h18M195 49.5h3M204 49.5h3M222 49.5h3M231 49.5h3M141 52.5h9M198 52.5h6M222 52.5h3M231 52.5h3M129 55.5h6M225 55.5h6M129 58.5h3M126 61.5h3M126 64.5h3M57 67.5h6M123 67.5h3M57 70.5h9M120 70.5h3M57 73.5h12M114 73.5h3M57 76.5h12M84 76.5h6M111 76.5h3M0 79.5h9M63 79.5h42M0 82.5h15M45 82.5h6M66 82.5h12M0 85.5h18M42 85.5h12M66 85.5h6M0 88.5h21M42 88.5h12M66 88.5h6M12 91.5h12M42 91.5h9M66 91.5h3M15 94.5h15M60 94.5h9M18 97.5h18M54 97.5h12M27 100.5h12M54 100.5h6M33 103.5h9M51 103.5h6M36 106.5h6M48 106.5h6M39 109.5h12"/><path stroke="#00b7ff" d="M96 1.5h6M105 1.5h9M189 1.5h93M96 4.5h6M105 4.5h9M189 4.5h93M96 7.5h18M183 7.5h99M99 10.5h18M174 10.5h36M222 10.5h60M105 13.5h15M171 13.5h6M198 13.5h12M222 13.5h60M108 16.5h15M171 16.5h6M198 16.5h12M222 16.5h60M111 19.5h12M180 19.5h6M198 19.5h15M219 19.5h63M111 22.5h15M189 22.5h9M201 22.5h27M234 22.5h48M117 25.5h12M195 25.5h3M204 25.5h9M219 25.5h9M237 25.5h21M267 25.5h15M120 28.5h15M195 28.5h3M204 28.5h6M222 28.5h6M237 28.5h18M270 28.5h12M123 31.5h12M198 31.5h3M204 31.5h6M222 31.5h6M237 31.5h21M267 31.5h15M123 34.5h12M198 34.5h9M225 34.5h6M240 34.5h42M123 37.5h12M201 37.5h6M228 37.5h6M252 37.5h30M126 40.5h6M231 40.5h3M252 40.5h30M234 43.5h3M255 43.5h27M210 46.5h9M234 46.5h3M255 46.5h27M174 49.5h6M192 49.5h3M207 49.5h3M216 49.5h6M234 49.5h3M258 49.5h9M150 52.5h3M195 52.5h3M204 52.5h3M219 52.5h3M135 55.5h6M201 55.5h3M222 55.5h3M231 55.5h3M132 58.5h3M222 58.5h12M129 61.5h3M228 61.5h3M126 67.5h3M123 70.5h3M117 73.5h3M114 76.5h3M105 79.5h6M78 82.5h24M72 85.5h24M72 88.5h6M81 88.5h12M0 91.5h12M69 91.5h6M0 94.5h15M69 94.5h9M9 97.5h9M66 97.5h12M12 100.5h15M60 100.5h18M15 103.5h18M57 103.5h3M72 103.5h3M27 106.5h9M54 106.5h3M0 109.5h6M33 109.5h6M51 109.5h6M0 112.5h9M33 112.5h21M0 115.5h9M39 115.5h12M18 124.5h3M18 127.5h6"/><path stroke="#00a1ff" d="M102 1.5h3M102 4.5h3M210 10.5h12M177 13.5h21M210 13.5h12M177 16.5h21M210 16.5h12M186 19.5h12M213 19.5h6M198 22.5h3M228 22.5h6M198 25.5h6M228 25.5h9M258 25.5h9M198 28.5h6M228 28.5h9M255 28.5h15M201 31.5h3M228 31.5h9M258 31.5h9M231 34.5h9M234 37.5h18M234 40.5h18M237 43.5h3M249 43.5h6M252 46.5h3M180 49.5h12M210 49.5h6M252 49.5h6M267 49.5h15M153 52.5h12M192 52.5h3M207 52.5h12M234 52.5h3M258 52.5h9M141 55.5h6M195 55.5h6M204 55.5h6M216 55.5h6M234 55.5h3M135 58.5h3M219 58.5h3M234 58.5h3M132 61.5h3M222 61.5h6M231 61.5h6M129 64.5h3M225 64.5h12M129 67.5h3M231 67.5h3M126 70.5h3M120 73.5h6M117 76.5h3M111 79.5h3M102 82.5h6M96 85.5h6M78 88.5h3M93 88.5h6M75 91.5h21M78 94.5h12M0 97.5h9M78 97.5h6M0 100.5h12M78 100.5h6M0 103.5h15M60 103.5h12M75 103.5h6M0 106.5h27M57 106.5h24M6 109.5h27M57 109.5h3M9 112.5h9M24 112.5h9M54 112.5h3M9 115.5h9M27 115.5h12M51 115.5h3M0 118.5h54M0 121.5h30M42 121.5h6M9 124.5h9M21 124.5h9M12 127.5h6M24 127.5h6M12 130.5h15M18 133.5h6"/><path stroke="#00f9ff" d="M75 13.5h6M75 16.5h9M45 19.5h3M75 19.5h12M45 22.5h6M81 22.5h21M162 22.5h6M177 22.5h3M45 25.5h12M81 25.5h21M144 25.5h3M159 25.5h3M186 25.5h3M48 28.5h15M84 28.5h21M141 28.5h12M156 28.5h3M189 28.5h3M48 31.5h18M84 31.5h24M141 31.5h3M147 31.5h12M192 31.5h3M51 34.5h18M84 34.5h30M141 34.5h3M153 34.5h6M192 34.5h3M51 37.5h24M87 37.5h9M108 37.5h3M138 37.5h3M192 37.5h3M54 40.5h30M138 40.5h3M192 40.5h3M57 43.5h12M75 43.5h9M102 43.5h9M135 43.5h3M189 43.5h3M60 46.5h9M78 46.5h6M96 46.5h6M108 46.5h6M135 46.5h3M153 46.5h18M177 46.5h3M60 49.5h9M81 49.5h6M90 49.5h6M114 49.5h3M135 49.5h15M63 52.5h6M81 52.5h9M120 52.5h3M63 55.5h9M123 55.5h3M66 58.5h12M123 58.5h3M69 61.5h12M123 61.5h3M72 64.5h9M120 64.5h3M75 67.5h9M78 70.5h12M90 73.5h3M111 73.5h3M96 76.5h12"/><path stroke="#11ffee" d="M168 22.5h9M162 25.5h3M183 25.5h3M159 28.5h3M144 31.5h3M159 31.5h3M144 34.5h9M141 37.5h3M150 37.5h9M141 40.5h3M153 40.5h6M69 43.5h6M138 43.5h3M150 43.5h12M186 43.5h3M69 46.5h9M102 46.5h6M138 46.5h15M171 46.5h6M69 49.5h12M96 49.5h3M111 49.5h3M69 52.5h12M90 52.5h3M117 52.5h3M72 55.5h18M120 55.5h3M78 58.5h9M120 58.5h3M81 61.5h6M120 61.5h3M81 64.5h6M84 67.5h6M117 67.5h3M90 70.5h3M114 70.5h3M93 73.5h3M108 73.5h3"/><path stroke="#27ffd8" d="M165 25.5h3M162 28.5h3M189 31.5h3M159 34.5h3M144 37.5h6M159 37.5h3M144 40.5h9M159 40.5h3M189 40.5h3M141 43.5h9M162 43.5h3M183 43.5h3M99 49.5h12M93 52.5h3M114 52.5h3M90 55.5h3M117 55.5h3M87 58.5h3M87 64.5h3M117 64.5h3M96 73.5h6M105 73.5h3"/><path stroke="#3dffc2" d="M168 25.5h3M180 25.5h3M186 28.5h3M162 31.5h3M189 34.5h3M189 37.5h3M162 40.5h3M165 43.5h3M96 52.5h3M111 52.5h3M114 55.5h3M117 58.5h3M87 61.5h3M117 61.5h3M90 67.5h3M114 67.5h3M93 70.5h3M111 70.5h3M102 73.5h3"/><path stroke="#53ffac" d="M171 25.5h9M165 28.5h3M162 34.5h3M162 37.5h3M186 40.5h3M168 43.5h3M180 43.5h3M108 52.5h3M93 55.5h3M90 58.5h3M90 61.5h3M90 64.5h3M96 70.5h3M108 70.5h3"/><path stroke="#80ff80" d="M168 28.5h3M165 31.5h3M165 37.5h3M186 37.5h3M96 55.5h3M93 58.5h3M93 64.5h3M102 70.5h6"/><path stroke="#acff53" d="M171 28.5h9M183 31.5h3M99 55.5h9M96 58.5h3M111 61.5h3M99 67.5h3"/><path stroke="#96ff69" d="M180 28.5h3M165 34.5h3M186 34.5h3M168 40.5h3M183 40.5h3M108 55.5h3M111 58.5h3M93 61.5h3M111 64.5h3M96 67.5h3M108 67.5h3"/><path stroke="#69ff96" d="M183 28.5h3M186 31.5h3M165 40.5h3M171 43.5h9M99 52.5h9M111 55.5h3M114 58.5h3M114 61.5h3M114 64.5h3M93 67.5h3M111 67.5h3M99 70.5h3"/><path stroke="#c2ff3d" d="M168 31.5h3M168 37.5h3M171 40.5h3M180 40.5h3M108 58.5h3M96 61.5h3M96 64.5h3M102 67.5h6"/><path stroke="#eeff11" d="M171 31.5h3M180 31.5h3M102 58.5h6M99 61.5h3M99 64.5h3M105 64.5h3"/><path stroke="#fff900" d="M174 31.5h6M171 37.5h3M105 61.5h3M102 64.5h3"/><path stroke="#d8ff27" d="M168 34.5h3M183 34.5h3M183 37.5h3M174 40.5h6M99 58.5h3M108 61.5h3M108 64.5h3"/><path stroke="#ffe300" d="M171 34.5h3M180 34.5h3M180 37.5h3M102 61.5h3"/><path stroke="#ffb700" d="M174 34.5h6"/><path stroke="#ffcd00" d="M174 37.5h6"/><path stroke="#008bff" d="M240 43.5h9M237 46.5h6M246 46.5h6M237 49.5h3M249 49.5h3M165 52.5h12M189 52.5h3M237 52.5h3M252 52.5h6M267 52.5h15M147 55.5h6M192 55.5h3M210 55.5h6M237 55.5h3M258 55.5h9M138 58.5h3M195 58.5h24M237 58.5h3M135 61.5h3M216 61.5h6M237 61.5h3M132 64.5h3M219 64.5h6M237 64.5h6M132 67.5h3M222 67.5h9M234 67.5h9M129 70.5h3M225 70.5h18M126 73.5h6M228 73.5h12M120 76.5h6M234 76.5h3M114 79.5h3M108 82.5h3M102 85.5h3M99 88.5h3M96 91.5h6M90 94.5h9M84 97.5h15M84 100.5h6M81 103.5h6M81 106.5h6M60 109.5h27M18 112.5h6M57 112.5h6M69 112.5h15M18 115.5h9M54 115.5h6M54 118.5h6M30 121.5h12M48 121.5h9M0 124.5h9M30 124.5h24M6 127.5h6M30 127.5h6M45 127.5h3M9 130.5h3M27 130.5h6M9 133.5h9M24 133.5h6M12 136.5h9M135 157.5h9M132 160.5h12M132 163.5h12M132 166.5h12M135 169.5h9"/><path stroke="#0074ff" d="M243 46.5h3M240 49.5h9M177 52.5h12M240 52.5h12M153 55.5h6M165 55.5h12M189 55.5h3M240 55.5h18M267 55.5h15M141 58.5h6M192 58.5h3M240 58.5h6M138 61.5h3M195 61.5h21M240 61.5h6M135 64.5h3M213 64.5h6M243 64.5h3M135 67.5h3M216 67.5h6M243 67.5h3M132 70.5h6M219 70.5h6M243 70.5h3M132 73.5h6M222 73.5h6M240 73.5h6M126 76.5h9M225 76.5h9M237 76.5h9M117 79.5h15M228 79.5h15M111 82.5h6M234 82.5h6M105 85.5h6M102 88.5h6M102 91.5h3M99 94.5h9M99 97.5h9M90 100.5h18M87 103.5h21M87 106.5h21M87 109.5h12M159 109.5h6M63 112.5h6M84 112.5h12M156 112.5h12M60 115.5h36M156 115.5h12M60 118.5h36M156 118.5h12M57 121.5h6M78 121.5h18M159 121.5h9M54 124.5h9M81 124.5h15M207 124.5h12M0 127.5h6M36 127.5h9M48 127.5h9M81 127.5h15M207 127.5h15M0 130.5h9M33 130.5h21M84 130.5h12M207 130.5h15M0 133.5h9M30 133.5h6M39 133.5h9M87 133.5h6M207 133.5h12M0 136.5h12M21 136.5h9M0 139.5h21M0 142.5h12M0 145.5h12M0 148.5h9M132 151.5h12M225 151.5h9M129 154.5h21M222 154.5h15M126 157.5h9M144 157.5h6M222 157.5h12M126 160.5h6M144 160.5h6M222 160.5h12M126 163.5h6M144 163.5h6M126 166.5h6M144 166.5h6M126 169.5h9M144 169.5h6M126 172.5h24M132 175.5h15"/><path stroke="#005eff" d="M159 55.5h6M177 55.5h12M147 58.5h3M168 58.5h24M246 58.5h36M141 61.5h3M189 61.5h6M246 61.5h9M138 64.5h3M189 64.5h24M246 64.5h6M138 67.5h3M192 67.5h24M246 67.5h3M138 70.5h6M192 70.5h27M246 70.5h3M138 73.5h6M195 73.5h6M216 73.5h6M246 73.5h3M135 76.5h9M156 76.5h15M216 76.5h9M246 76.5h3M132 79.5h9M153 79.5h18M219 79.5h9M243 79.5h3M117 82.5h18M156 82.5h15M219 82.5h15M240 82.5h6M111 85.5h21M159 85.5h12M180 85.5h6M216 85.5h27M108 88.5h6M123 88.5h6M159 88.5h9M177 88.5h9M216 88.5h9M234 88.5h6M270 88.5h12M105 91.5h9M177 91.5h9M216 91.5h9M270 91.5h12M108 94.5h6M177 94.5h9M216 94.5h9M270 94.5h12M108 97.5h6M174 97.5h15M216 97.5h9M270 97.5h12M108 100.5h9M177 100.5h9M216 100.5h9M108 103.5h9M126 103.5h6M159 103.5h12M216 103.5h9M246 103.5h15M108 106.5h9M123 106.5h9M156 106.5h15M237 106.5h27M99 109.5h18M120 109.5h12M156 109.5h3M165 109.5h9M234 109.5h30M96 112.5h15M120 112.5h12M153 112.5h3M168 112.5h6M234 112.5h30M96 115.5h6M120 115.5h12M153 115.5h3M168 115.5h6M201 115.5h9M96 118.5h6M120 118.5h12M153 118.5h3M168 118.5h6M201 118.5h24M63 121.5h15M96 121.5h6M120 121.5h12M153 121.5h6M168 121.5h6M201 121.5h27M63 124.5h18M96 124.5h6M120 124.5h9M153 124.5h21M201 124.5h6M219 124.5h9M273 124.5h6M57 127.5h9M75 127.5h6M96 127.5h6M123 127.5h3M156 127.5h15M201 127.5h6M222 127.5h6M273 127.5h6M54 130.5h6M78 130.5h6M96 130.5h6M165 130.5h6M201 130.5h6M222 130.5h6M270 130.5h12M36 133.5h3M48 133.5h6M81 133.5h6M93 133.5h9M141 133.5h6M201 133.5h6M219 133.5h9M270 133.5h12M30 136.5h21M81 136.5h21M201 136.5h24M270 136.5h12M21 139.5h27M87 139.5h15M204 139.5h18M270 139.5h12M12 142.5h9M36 142.5h12M90 142.5h9M234 142.5h6M270 142.5h12M12 145.5h6M36 145.5h12M123 145.5h30M225 145.5h18M270 145.5h12M9 148.5h6M39 148.5h9M120 148.5h36M219 148.5h24M273 148.5h6M0 151.5h15M39 151.5h9M93 151.5h9M120 151.5h12M144 151.5h15M165 151.5h6M219 151.5h6M234 151.5h9M0 154.5h12M39 154.5h9M93 154.5h9M120 154.5h9M150 154.5h9M165 154.5h6M216 154.5h6M237 154.5h6M39 157.5h6M90 157.5h12M120 157.5h6M150 157.5h9M168 157.5h3M201 157.5h6M216 157.5h6M234 157.5h6M258 157.5h6M18 160.5h21M90 160.5h9M120 160.5h6M150 160.5h9M168 160.5h3M201 160.5h21M234 160.5h6M255 160.5h12M21 163.5h15M120 163.5h6M150 163.5h9M204 163.5h36M252 163.5h15M21 166.5h15M120 166.5h6M150 166.5h9M204 166.5h36M255 166.5h6M24 169.5h9M78 169.5h9M120 169.5h6M150 169.5h9M216 169.5h12M96 172.5h12M117 172.5h9M150 172.5h9M177 172.5h21M93 175.5h39M147 175.5h12M177 175.5h21M90 178.5h69M180 178.5h21M12 181.5h6M90 181.5h66M186 181.5h15M231 181.5h9M9 184.5h9M90 184.5h9M189 184.5h12M228 184.5h12M9 187.5h12M57 187.5h6M162 187.5h6M192 187.5h9M228 187.5h12M9 190.5h12M57 190.5h6M162 190.5h9M192 190.5h6M228 190.5h12M9 193.5h12M54 193.5h9M87 193.5h3M159 193.5h12M231 193.5h6M9 196.5h12M51 196.5h9M81 196.5h9M159 196.5h12M9 199.5h12M48 199.5h12M75 199.5h15M159 199.5h12M207 199.5h15M12 202.5h6M48 202.5h9M72 202.5h18M132 202.5h3M159 202.5h12M207 202.5h18M12 205.5h6M48 205.5h9M72 205.5h18M132 205.5h3M162 205.5h6M207 205.5h15M75 208.5h9M132 208.5h6M213 208.5h3M93 211.5h12M132 211.5h12M27 214.5h12M90 214.5h18M132 214.5h18M27 217.5h15M90 217.5h18M132 217.5h21M30 220.5h9M93 220.5h12M132 220.5h15"/><path stroke="#0048ff" d="M150 58.5h18M144 61.5h6M168 61.5h21M255 61.5h27M141 64.5h6M168 64.5h21M252 64.5h6M270 64.5h12M141 67.5h6M168 67.5h24M249 67.5h6M144 70.5h6M165 70.5h27M249 70.5h3M144 73.5h51M201 73.5h15M249 73.5h3M144 76.5h12M171 76.5h45M249 76.5h3M141 79.5h12M171 79.5h48M246 79.5h3M135 82.5h9M147 82.5h9M171 82.5h27M207 82.5h12M246 82.5h3M270 82.5h12M132 85.5h6M153 85.5h6M171 85.5h9M186 85.5h9M207 85.5h9M243 85.5h6M267 85.5h15M114 88.5h9M129 88.5h9M153 88.5h6M168 88.5h9M186 88.5h6M210 88.5h6M225 88.5h9M240 88.5h9M264 88.5h6M114 91.5h21M156 91.5h21M186 91.5h6M210 91.5h6M225 91.5h24M264 91.5h6M114 94.5h21M156 94.5h21M186 94.5h6M210 94.5h6M225 94.5h24M261 94.5h9M114 97.5h24M156 97.5h18M189 97.5h3M210 97.5h6M225 97.5h45M117 100.5h21M156 100.5h21M186 100.5h6M210 100.5h6M225 100.5h57M117 103.5h9M132 103.5h6M153 103.5h6M171 103.5h21M210 103.5h6M225 103.5h21M261 103.5h21M117 106.5h6M132 106.5h6M153 106.5h3M171 106.5h21M207 106.5h30M264 106.5h18M117 109.5h3M132 109.5h3M150 109.5h6M174 109.5h9M201 109.5h33M264 109.5h18M111 112.5h9M132 112.5h3M150 112.5h3M174 112.5h3M195 112.5h39M264 112.5h18M102 115.5h18M132 115.5h3M150 115.5h3M174 115.5h3M195 115.5h6M210 115.5h72M102 118.5h18M132 118.5h6M150 118.5h3M174 118.5h3M195 118.5h6M225 118.5h57M102 121.5h18M132 121.5h6M147 121.5h6M174 121.5h3M195 121.5h6M228 121.5h12M255 121.5h27M102 124.5h18M129 124.5h24M174 124.5h3M195 124.5h6M228 124.5h9M261 124.5h12M279 124.5h3M66 127.5h9M102 127.5h21M126 127.5h30M171 127.5h6M198 127.5h3M228 127.5h6M264 127.5h9M279 127.5h3M60 130.5h18M102 130.5h63M171 130.5h9M195 130.5h6M228 130.5h6M264 130.5h6M54 133.5h6M75 133.5h6M102 133.5h39M147 133.5h36M195 133.5h6M228 133.5h6M264 133.5h6M51 136.5h3M78 136.5h3M102 136.5h99M225 136.5h15M264 136.5h6M48 139.5h6M78 139.5h9M102 139.5h102M222 139.5h24M264 139.5h6M21 142.5h15M48 142.5h3M81 142.5h9M99 142.5h135M240 142.5h6M264 142.5h6M18 145.5h18M48 145.5h3M84 145.5h39M153 145.5h72M243 145.5h6M264 145.5h6M15 148.5h24M48 148.5h3M84 148.5h36M156 148.5h63M243 148.5h9M261 148.5h12M279 148.5h3M15 151.5h24M48 151.5h6M84 151.5h9M102 151.5h18M159 151.5h6M171 151.5h9M192 151.5h27M243 151.5h39M12 154.5h27M48 154.5h6M84 154.5h9M102 154.5h18M159 154.5h6M171 154.5h9M195 154.5h21M243 154.5h39M0 157.5h39M45 157.5h9M84 157.5h6M102 157.5h18M159 157.5h9M171 157.5h9M195 157.5h6M207 157.5h9M240 157.5h18M264 157.5h18M0 160.5h18M39 160.5h15M81 160.5h9M99 160.5h21M159 160.5h9M171 160.5h9M195 160.5h6M240 160.5h15M267 160.5h15M0 163.5h21M36 163.5h12M75 163.5h45M159 163.5h24M192 163.5h12M240 163.5h12M267 163.5h15M0 166.5h21M36 166.5h9M72 166.5h48M159 166.5h45M240 166.5h15M261 166.5h21M0 169.5h24M33 169.5h9M69 169.5h9M87 169.5h33M159 169.5h57M228 169.5h54M0 172.5h39M69 172.5h27M108 172.5h9M159 172.5h18M198 172.5h84M0 175.5h36M69 175.5h24M159 175.5h18M198 175.5h84M0 178.5h33M60 178.5h9M81 178.5h9M159 178.5h21M201 178.5h6M222 178.5h60M0 181.5h12M18 181.5h12M57 181.5h12M84 181.5h6M156 181.5h30M201 181.5h6M222 181.5h9M240 181.5h42M0 184.5h9M18 184.5h9M54 184.5h15M84 184.5h6M99 184.5h90M201 184.5h6M222 184.5h6M240 184.5h42M0 187.5h9M21 187.5h6M51 187.5h6M63 187.5h6M84 187.5h18M120 187.5h42M168 187.5h24M201 187.5h6M222 187.5h6M240 187.5h42M0 190.5h9M21 190.5h6M48 190.5h9M63 190.5h9M81 190.5h15M126 190.5h15M153 190.5h9M171 190.5h21M198 190.5h12M219 190.5h9M240 190.5h42M0 193.5h9M21 193.5h6M45 193.5h9M63 193.5h24M90 193.5h6M126 193.5h12M153 193.5h6M171 193.5h60M237 193.5h45M0 196.5h9M21 196.5h6M45 196.5h6M60 196.5h21M90 196.5h3M126 196.5h12M153 196.5h6M171 196.5h111M0 199.5h9M21 199.5h6M42 199.5h6M60 199.5h15M90 199.5h3M126 199.5h12M153 199.5h6M171 199.5h36M222 199.5h60M0 202.5h12M18 202.5h12M39 202.5h9M57 202.5h15M90 202.5h6M126 202.5h6M135 202.5h6M153 202.5h6M171 202.5h36M225 202.5h57M0 205.5h12M18 205.5h30M57 205.5h15M90 205.5h6M126 205.5h6M135 205.5h9M150 205.5h12M168 205.5h39M222 205.5h60M0 208.5h75M84 208.5h21M126 208.5h6M138 208.5h75M216 208.5h66M0 211.5h93M105 211.5h6M126 211.5h6M144 211.5h138M0 214.5h27M39 214.5h51M108 214.5h3M126 214.5h6M150 214.5h132M0 217.5h27M42 217.5h48M108 217.5h3M126 217.5h6M153 217.5h129M0 220.5h30M39 220.5h54M105 220.5h6M126 220.5h6M147 220.5h135"/><path stroke="#0032ff" d="M150 61.5h6M162 61.5h6M147 64.5h3M162 64.5h6M258 64.5h12M147 67.5h6M159 67.5h9M255 67.5h27M150 70.5h15M252 70.5h6M270 70.5h12M252 73.5h3M252 76.5h3M270 76.5h12M249 79.5h6M267 79.5h15M144 82.5h3M198 82.5h9M249 82.5h6M264 82.5h6M138 85.5h15M195 85.5h12M249 85.5h3M261 85.5h6M138 88.5h6M147 88.5h6M192 88.5h6M204 88.5h6M249 88.5h6M258 88.5h6M135 91.5h6M150 91.5h6M192 91.5h6M204 91.5h6M249 91.5h15M135 94.5h6M150 94.5h6M192 94.5h3M204 94.5h6M249 94.5h12M138 97.5h3M150 97.5h6M192 97.5h6M204 97.5h6M138 100.5h6M147 100.5h9M192 100.5h6M204 100.5h6M138 103.5h6M147 103.5h6M192 103.5h18M138 106.5h3M147 106.5h6M192 106.5h15M135 109.5h6M147 109.5h3M183 109.5h18M135 112.5h6M147 112.5h3M177 112.5h18M135 115.5h6M147 115.5h3M177 115.5h6M189 115.5h6M138 118.5h12M177 118.5h3M192 118.5h3M138 121.5h9M177 121.5h3M192 121.5h3M240 121.5h15M177 124.5h6M192 124.5h3M237 124.5h24M177 127.5h6M192 127.5h6M234 127.5h9M255 127.5h9M180 130.5h15M234 130.5h9M258 130.5h6M60 133.5h15M183 133.5h12M234 133.5h12M258 133.5h6M54 136.5h6M72 136.5h6M240 136.5h9M261 136.5h3M54 139.5h3M75 139.5h3M246 139.5h6M261 139.5h3M51 142.5h3M75 142.5h6M246 142.5h6M258 142.5h6M51 145.5h3M78 145.5h6M249 145.5h15M51 148.5h3M78 148.5h6M252 148.5h9M54 151.5h3M78 151.5h6M180 151.5h12M54 154.5h6M78 154.5h6M180 154.5h15M54 157.5h9M75 157.5h9M180 157.5h6M189 157.5h6M54 160.5h27M180 160.5h15M48 163.5h27M183 163.5h9M45 166.5h9M63 166.5h9M42 169.5h6M63 169.5h6M39 172.5h6M63 172.5h6M36 175.5h6M57 175.5h12M33 178.5h6M54 178.5h6M69 178.5h12M207 178.5h15M30 181.5h6M51 181.5h6M69 181.5h15M207 181.5h15M27 184.5h6M48 184.5h6M69 184.5h6M78 184.5h6M207 184.5h6M216 184.5h6M27 187.5h6M45 187.5h6M69 187.5h15M102 187.5h18M207 187.5h15M27 190.5h3M42 190.5h6M72 190.5h9M96 190.5h6M120 190.5h6M141 190.5h12M210 190.5h9M27 193.5h3M42 193.5h3M96 193.5h3M123 193.5h3M138 193.5h15M27 196.5h6M39 196.5h6M93 196.5h3M123 196.5h3M138 196.5h6M147 196.5h6M27 199.5h15M93 199.5h3M123 199.5h3M138 199.5h15M30 202.5h9M96 202.5h3M123 202.5h3M141 202.5h12M96 205.5h6M123 205.5h3M144 205.5h6M105 208.5h6M123 208.5h3M111 211.5h6M120 211.5h6M111 214.5h15M111 217.5h15M111 220.5h15"/><path stroke="#001cff" d="M156 61.5h6M150 64.5h12M153 67.5h6M258 70.5h12M255 73.5h27M255 76.5h15M255 79.5h12M255 82.5h9M252 85.5h9M144 88.5h3M198 88.5h6M255 88.5h3M141 91.5h9M198 91.5h6M141 94.5h9M195 94.5h9M141 97.5h9M198 97.5h6M144 100.5h3M198 100.5h6M144 103.5h3M141 106.5h6M141 109.5h6M141 112.5h6M141 115.5h6M183 115.5h6M180 118.5h12M180 121.5h12M183 124.5h9M183 127.5h9M243 127.5h12M243 130.5h15M246 133.5h12M60 136.5h12M249 136.5h12M57 139.5h3M69 139.5h6M252 139.5h9M54 142.5h3M72 142.5h3M252 142.5h6M54 145.5h3M72 145.5h6M54 148.5h6M75 148.5h3M57 151.5h3M72 151.5h6M60 154.5h18M63 157.5h12M186 157.5h3M54 166.5h9M48 169.5h15M45 172.5h18M42 175.5h15M39 178.5h15M36 181.5h15M33 184.5h15M75 184.5h3M213 184.5h3M33 187.5h12M30 190.5h12M102 190.5h18M30 193.5h12M99 193.5h3M120 193.5h3M33 196.5h6M96 196.5h3M120 196.5h3M144 196.5h3M96 199.5h3M99 202.5h3M120 202.5h3M102 205.5h6M120 205.5h3M111 208.5h12M117 211.5h3"/><path stroke="#0006ff" d="M60 139.5h9M57 142.5h3M69 142.5h3M57 145.5h3M69 145.5h3M60 148.5h3M66 148.5h9M60 151.5h12M102 193.5h3M114 193.5h6M99 196.5h3M117 196.5h3M99 199.5h3M120 199.5h3M102 202.5h6M117 202.5h3M108 205.5h12"/><path stroke="#0000ee" d="M60 142.5h9M60 145.5h9M63 148.5h3M105 193.5h9M102 196.5h6M114 196.5h3M102 199.5h6M114 199.5h6M108 202.5h9"/><path stroke="#0000d8" d="M108 196.5h6M108 199.5h6"/></g></g></g><path d="M225.2 218.5V211.5L229 210L233 208L236 206.5L238.2 207L238.8 211L242 214L244 209L247 214.5L249 218.5ZM253 218.5L256.3 215L261 215.5L265 218.5Z" fill="#fff"/><path d="M-1.0 156.0 L4.6 151.8 L14.0 140.1 L25.8 131.4 L37.5 119.7 L46.2 116.8 L50.6 109.5 L59.4 100.7 L63.7 93.4 L72.5 87.6 L81.3 81.7 L86.1 79.0 L94.2 72.5 L96.6 66.1 L97.4 61.3 L95.8 56.5 L90.2 54.0 L91.0 50.9 L95.8 49.3 L105.4 48.5 L108.6 50.1 L109.4 46.8 L118.3 42.0 L124.7 39.6 L129.0 38.5 L135.3 36.5 L139.6 34.3 L146.9 31.4 L150.6 28.5 L155.7 24.8 L158.6 26.3 L161.5 29.2 L165.9 30.0 L173.2 29.2 L180.5 29.2 L186.4 30.4 M186.4 30.4 L177.6 32.1 L171.8 35.1 L170.3 39.4 L174.7 46.7 L182.0 52.6 L186.4 57.0 L187.1 61.3 L184.9 65.7 L184.2 70.0 L187.2 73.0 L186.4 76.0 L184.4 82.2 L178.2 83.2 L170.1 85.2 L163.9 89.3 L168.0 92.4 L169.1 96.5 L163.9 100.6 L161.9 104.7 L161.9 113.9 M179.1 33.6 L177.6 36.5 L180.5 42.4 L187.8 47.5 L198.0 49.7 L202.4 46.0 L208.3 42.4 L215.6 39.4 L222.9 36.5 L229.8 38.6 L240.0 40.6 L252.1 41.6 L264.3 40.6 L278.0 37.5 M209.7 206.8 L213.3 210.4 L215.7 215.2 L215.1 218.5 M215.7 215.8 L225.2 214.0 L225.2 210.4 L228.8 209.2 L232.4 206.8 L236.0 205.0 L238.4 205.6 L239.0 210.4 L242.0 212.8 L243.8 206.2 L245.6 210.4 L248.0 214.0 L249.2 218.5 M252.8 218.5 L256.3 214.0 L261.1 214.6 L265.9 218.5 M269.5 218.5 L273.1 214.0 L275.5 205.6 L277.5 203.0 M11.7 218.0 L10.7 210.5 L13.7 204.4 L19.8 196.3 L21.8 188.1 L25.9 178.0 L23.9 175.0 L29.9 169.9 L38.1 163.8 L38.1 158.7 L42.1 158.7 L46.2 161.8 L50.2 158.7 L58.3 161.8 L64.4 156.7 L68.5 158.7 L78.6 158.7 L86.8 155.7 L94.9 152.6 L101.0 150.6 L99.0 145.5 L92.8 141.5 L99.0 135.4 L102.6 129.2 L108.8 125.1 L112.8 119.0 L119.0 112.8 L127.2 107.7 L131.2 109.8 L137.4 111.8 L141.5 108.7 L145.5 110.8 L151.7 112.8 L155.8 111.8 L161.9 113.9 L170.1 113.9 L178.2 114.9 M178.2 114.9 L184.4 121.0 L186.4 127.1 L184.4 137.4 L186.4 145.5 L189.5 154.0 L193.3 159.7 L192.3 169.9 L197.3 182.0 L196.3 190.2 L201.4 198.3 L204.5 206.4 L204.5 219.0 M178.2 114.9 L182.3 110.8 L186.4 108.7 L192.5 106.7 L198.7 102.6 L201.8 96.5 L206.9 94.4 L214.0 92.4 L215.0 86.3 L219.1 82.2 L221.2 76.0 L223.7 69.0 L233.9 70.0 L240.0 71.0 L248.1 74.0 L254.2 79.1 L256.2 83.2 L260.3 80.2 L264.3 75.0 L270.4 71.0 L278.5 67.0" stroke="#222" stroke-width="0.6" fill="none" stroke-linejoin="round"/><path d="M102.5 1.3V92.7M178.1 1.3V92.7" stroke="#000" stroke-width="2.2"/><text x="93.1" y="-0.3" font-size="14" font-weight="bold" textLength="9.8" lengthAdjust="spacingAndGlyphs">X</text><text x="168.1" y="-0.3" font-size="14" font-weight="bold" textLength="9.8" lengthAdjust="spacingAndGlyphs">Y</text><text x="83.9" y="104.3" font-size="13.5" font-weight="bold" textLength="14.3" lengthAdjust="spacingAndGlyphs">X’</text><text x="159.5" y="104.3" font-size="13.5" font-weight="bold" textLength="13.3" lengthAdjust="spacingAndGlyphs">Y’</text><rect x="0" y="0" width="277" height="218" fill="none" stroke="#8c8c8c" stroke-width="1"/><path d="M5.5 0v2.5M5.5 218v-2.5M32.9 0v2.5M32.9 218v-2.5M60.3 0v2.5M60.3 218v-2.5M87.7 0v2.5M87.7 218v-2.5M115.1 0v2.5M115.1 218v-2.5M142.5 0v2.5M142.5 218v-2.5M169.9 0v2.5M169.9 218v-2.5M197.3 0v2.5M197.3 218v-2.5M224.7 0v2.5M224.7 218v-2.5M252.1 0v2.5M252.1 218v-2.5M0 25.5h2.5M277 25.5h-2.5M0 58.8h2.5M277 58.8h-2.5M0 92.1h2.5M277 92.1h-2.5M0 125.4h2.5M277 125.4h-2.5M0 158.7h2.5M277 158.7h-2.5M0 192.0h2.5M277 192.0h-2.5" stroke="#666" stroke-width="0.8" fill="none"/><text x="-4.4" y="28.8" font-size="9.8" text-anchor="end" textLength="16.2" lengthAdjust="spacingAndGlyphs">35.6</text><text x="-4.4" y="62.1" font-size="9.8" text-anchor="end" textLength="16.2" lengthAdjust="spacingAndGlyphs">35.4</text><text x="-4.4" y="95.4" font-size="9.8" text-anchor="end" textLength="16.2" lengthAdjust="spacingAndGlyphs">35.2</text><text x="-4.4" y="128.7" font-size="9.8" text-anchor="end" textLength="9.2" lengthAdjust="spacingAndGlyphs">35</text><text x="-4.4" y="162.0" font-size="9.8" text-anchor="end" textLength="16.2" lengthAdjust="spacingAndGlyphs">34.8</text><text x="-4.4" y="195.3" font-size="9.8" text-anchor="end" textLength="16.2" lengthAdjust="spacingAndGlyphs">34.6</text><text x="0" y="0" font-size="10.5" text-anchor="middle" textLength="37.5" lengthAdjust="spacingAndGlyphs" transform="translate(-25.8,108.5) rotate(-90)">Latitude</text><text x="5.0" y="-5.0" font-size="16.5" font-weight="bold">c</text><text x="19.8" y="-4.7" font-size="14.2" textLength="35.3" lengthAdjust="spacingAndGlyphs">3 km</text><path d="M183.7 13.0v-4.8h75.8v4.8" stroke="#666" stroke-width="0.8" fill="none"/><text x="221" y="19.7" font-size="12" text-anchor="middle" textLength="31.6" lengthAdjust="spacingAndGlyphs">50 km</text></g><g transform="translate(331.5,285.7)"><g clip-path="url(#mk)"><g filter="url(#bl)"><g stroke-width="3.3" fill="none"><path stroke="#0074ff" d="M0 1.5h12M183 1.5h99M0 4.5h12M183 4.5h99M0 7.5h12M180 7.5h102M0 10.5h12M174 10.5h108M0 13.5h15M168 13.5h114M0 16.5h21M168 16.5h114M0 19.5h24M171 19.5h111M0 22.5h27M177 22.5h105M0 25.5h27M189 25.5h93M0 28.5h33M192 28.5h90M0 31.5h36M192 31.5h90M0 34.5h39M192 34.5h90M0 37.5h42M195 37.5h3M207 37.5h45M264 37.5h18M0 40.5h45M213 40.5h36M270 40.5h12M0 43.5h48M213 43.5h33M270 43.5h12M0 46.5h51M195 46.5h6M210 46.5h36M270 46.5h12M0 49.5h54M192 49.5h3M201 49.5h42M267 49.5h15M0 52.5h57M189 52.5h3M213 52.5h24M267 52.5h3M0 55.5h60M216 55.5h15M264 55.5h3M0 58.5h63M138 58.5h12M162 58.5h3M219 58.5h12M264 58.5h3M0 61.5h66M135 61.5h3M222 61.5h9M264 61.5h3M0 64.5h66M132 64.5h3M225 64.5h6M264 64.5h3M0 67.5h69M132 67.5h3M228 67.5h6M261 67.5h6M0 70.5h75M129 70.5h3M231 70.5h6M261 70.5h21M0 73.5h78M123 73.5h3M237 73.5h6M255 73.5h27M0 76.5h81M114 76.5h3M240 76.5h42M0 79.5h81M108 79.5h3M264 79.5h18M0 82.5h81M105 82.5h3M0 85.5h81M96 85.5h6M0 88.5h96M0 91.5h93M0 94.5h75M213 94.5h12M0 97.5h57M63 97.5h9M210 97.5h21M267 97.5h15M0 100.5h57M60 100.5h9M207 100.5h12M225 100.5h9M264 100.5h18M0 103.5h66M210 103.5h24M264 103.5h18M0 106.5h63M219 106.5h15M267 106.5h15M0 109.5h57M270 109.5h12M0 112.5h54M141 112.5h21M0 115.5h54M141 115.5h9M156 115.5h9M0 118.5h57M141 118.5h6M159 118.5h6M0 121.5h60M141 121.5h3M159 121.5h6M0 124.5h63M141 124.5h3M159 124.5h6M0 127.5h51M60 127.5h6M141 127.5h6M156 127.5h9M0 130.5h66M141 130.5h24M0 133.5h60M129 133.5h36M0 136.5h15M24 136.5h21M123 136.5h6M135 136.5h6M150 136.5h18M225 136.5h6M0 139.5h12M27 139.5h18M123 139.5h3M138 139.5h3M153 139.5h15M222 139.5h12M0 142.5h12M30 142.5h12M120 142.5h3M138 142.5h3M156 142.5h12M222 142.5h12M0 145.5h9M30 145.5h12M120 145.5h3M138 145.5h3M156 145.5h9M222 145.5h12M0 148.5h9M33 148.5h6M120 148.5h3M138 148.5h3M159 148.5h6M225 148.5h6M120 151.5h6M138 151.5h3M123 154.5h6M135 154.5h3M126 157.5h12M159 178.5h15M156 181.5h21M153 184.5h9M171 184.5h9M153 187.5h6M174 187.5h6M0 190.5h6M153 190.5h6M174 190.5h6M0 193.5h12M153 193.5h6M174 193.5h6M0 196.5h12M153 196.5h9M171 196.5h9M0 199.5h12M156 199.5h21M0 202.5h9M159 202.5h15"/><path stroke="#008bff" d="M12 1.5h6M165 1.5h18M12 4.5h9M165 4.5h18M12 7.5h9M165 7.5h15M12 10.5h12M162 10.5h12M15 13.5h12M162 13.5h6M21 16.5h9M165 16.5h3M24 19.5h6M165 19.5h6M27 22.5h6M168 22.5h9M27 25.5h12M180 25.5h9M33 28.5h9M186 28.5h6M36 31.5h9M189 31.5h3M39 34.5h6M189 34.5h3M42 37.5h6M192 37.5h3M198 37.5h9M252 37.5h12M45 40.5h9M192 40.5h21M249 40.5h21M48 43.5h9M192 43.5h21M246 43.5h6M261 43.5h9M51 46.5h6M192 46.5h3M201 46.5h9M246 46.5h3M264 46.5h6M54 49.5h6M189 49.5h3M243 49.5h3M264 49.5h3M57 52.5h6M237 52.5h6M264 52.5h3M60 55.5h6M153 55.5h6M186 55.5h3M231 55.5h9M261 55.5h3M63 58.5h6M135 58.5h3M165 58.5h3M183 58.5h3M231 58.5h6M261 58.5h3M66 61.5h6M132 61.5h3M231 61.5h6M261 61.5h3M66 64.5h9M231 64.5h6M258 64.5h6M69 67.5h15M129 67.5h3M234 67.5h6M258 67.5h3M75 70.5h9M126 70.5h3M237 70.5h9M252 70.5h9M78 73.5h6M120 73.5h3M243 73.5h12M81 76.5h6M111 76.5h3M81 79.5h6M105 79.5h3M81 82.5h9M99 82.5h6M81 85.5h15M57 97.5h6M57 100.5h3M219 100.5h6M150 115.5h6M147 118.5h12M144 121.5h15M144 124.5h15M51 127.5h9M147 127.5h9M129 136.5h6M126 139.5h3M135 139.5h3M123 142.5h3M135 142.5h3M123 145.5h3M135 145.5h3M123 148.5h3M135 148.5h3M126 151.5h3M132 151.5h6M129 154.5h6M162 184.5h9M159 187.5h15M159 190.5h15M159 193.5h15M162 196.5h9"/><path stroke="#00a1ff" d="M18 1.5h12M102 1.5h6M132 1.5h3M147 1.5h18M21 4.5h9M147 4.5h18M21 7.5h12M147 7.5h18M24 10.5h12M147 10.5h15M27 13.5h9M147 13.5h15M30 16.5h9M117 16.5h3M156 16.5h9M30 19.5h12M159 19.5h6M33 22.5h15M162 22.5h6M39 25.5h12M171 25.5h9M42 28.5h9M183 28.5h3M45 31.5h9M186 31.5h3M45 34.5h12M186 34.5h3M48 37.5h12M129 37.5h3M189 37.5h3M54 40.5h9M129 40.5h3M189 40.5h3M57 43.5h12M129 43.5h3M189 43.5h3M252 43.5h9M57 46.5h12M189 46.5h3M249 46.5h15M60 49.5h12M84 49.5h6M246 49.5h6M258 49.5h6M63 52.5h12M81 52.5h9M243 52.5h6M258 52.5h6M66 55.5h24M132 55.5h9M150 55.5h3M159 55.5h3M240 55.5h6M258 55.5h3M69 58.5h21M132 58.5h3M168 58.5h3M180 58.5h3M237 58.5h6M258 58.5h3M72 61.5h18M237 61.5h6M258 61.5h3M75 64.5h15M237 64.5h6M255 64.5h3M84 67.5h6M240 67.5h18M84 70.5h6M246 70.5h6M84 73.5h6M117 73.5h3M87 76.5h3M108 76.5h3M87 79.5h6M102 79.5h3M90 82.5h9M129 139.5h6M126 142.5h9M126 145.5h3M132 145.5h3M126 148.5h9M129 151.5h3"/><path stroke="#00b7ff" d="M30 1.5h54M87 1.5h15M108 1.5h24M135 1.5h12M30 4.5h54M90 4.5h57M33 7.5h51M90 7.5h57M36 10.5h45M93 10.5h54M36 13.5h45M99 13.5h48M39 16.5h42M105 16.5h12M120 16.5h36M42 19.5h39M108 19.5h51M48 22.5h36M111 22.5h51M51 25.5h33M117 25.5h54M51 28.5h33M120 28.5h39M180 28.5h3M54 31.5h33M123 31.5h15M183 31.5h3M57 34.5h30M123 34.5h15M60 37.5h30M123 37.5h6M132 37.5h3M186 37.5h3M63 40.5h30M126 40.5h3M132 40.5h3M69 43.5h30M126 43.5h3M132 43.5h3M69 46.5h30M126 46.5h9M72 49.5h12M90 49.5h6M129 49.5h6M252 49.5h6M75 52.5h6M90 52.5h6M129 52.5h9M186 52.5h3M249 52.5h9M90 55.5h3M141 55.5h9M183 55.5h3M246 55.5h12M90 58.5h3M171 58.5h9M243 58.5h15M90 61.5h3M243 61.5h15M90 64.5h3M129 64.5h3M243 64.5h12M90 67.5h3M90 70.5h3M123 70.5h3M90 73.5h3M114 73.5h3M90 76.5h6M105 76.5h3M93 79.5h9M129 145.5h3"/><path stroke="#00cdff" d="M84 1.5h3M84 4.5h6M84 7.5h6M81 10.5h12M81 13.5h18M81 16.5h24M81 19.5h27M84 22.5h12M105 22.5h6M84 25.5h9M108 25.5h9M84 28.5h9M114 28.5h6M159 28.5h6M174 28.5h6M87 31.5h6M117 31.5h6M138 31.5h21M87 34.5h9M120 34.5h3M138 34.5h3M183 34.5h3M90 37.5h9M120 37.5h3M135 37.5h3M93 40.5h9M123 40.5h3M135 40.5h3M186 40.5h3M99 43.5h6M123 43.5h3M99 46.5h3M96 49.5h3M126 49.5h3M135 49.5h3M186 49.5h3M96 52.5h3M153 52.5h6M93 55.5h3M129 55.5h3M162 55.5h3M93 58.5h3M129 58.5h3M129 61.5h3M126 67.5h3M93 73.5h3M111 73.5h3M96 76.5h9"/><path stroke="#00e3ff" d="M96 22.5h9M93 25.5h15M93 28.5h21M165 28.5h9M93 31.5h9M108 31.5h9M159 31.5h3M180 31.5h3M96 34.5h9M114 34.5h6M141 34.5h18M99 37.5h9M117 37.5h3M138 37.5h3M102 40.5h6M120 40.5h3M105 43.5h3M120 43.5h3M135 43.5h3M186 43.5h3M102 46.5h3M123 46.5h3M135 46.5h3M186 46.5h3M99 49.5h3M138 52.5h3M150 52.5h3M96 55.5h3M93 61.5h3M93 64.5h3M93 67.5h3M93 70.5h3M120 70.5h3M96 73.5h3M108 73.5h3"/><path stroke="#00f9ff" d="M102 31.5h6M162 31.5h3M177 31.5h3M105 34.5h9M159 34.5h3M108 37.5h9M141 37.5h3M153 37.5h6M183 37.5h3M108 40.5h12M138 40.5h3M108 43.5h3M105 46.5h3M102 49.5h3M138 49.5h3M99 52.5h3M126 52.5h3M141 52.5h3M159 52.5h3M183 52.5h3M180 55.5h3M96 58.5h3M126 64.5h3M123 67.5h3M96 70.5h3M117 70.5h3M99 73.5h9"/><path stroke="#11ffee" d="M165 31.5h3M174 31.5h3M180 34.5h3M144 37.5h9M111 43.5h9M138 43.5h3M108 46.5h3M120 46.5h3M138 46.5h3M123 49.5h3M153 49.5h6M144 52.5h6M99 55.5h3M126 55.5h3M165 55.5h3M126 58.5h3M96 61.5h3M126 61.5h3M96 64.5h3M96 67.5h3M99 70.5h3"/><path stroke="#27ffd8" d="M168 31.5h6M162 34.5h3M159 37.5h3M141 40.5h3M153 40.5h6M183 40.5h3M111 46.5h3M117 46.5h3M105 49.5h3M183 49.5h3M102 52.5h3M177 55.5h3M99 67.5h3M102 70.5h3M114 70.5h3"/><path stroke="#53ffac" d="M165 34.5h3M180 37.5h3M159 40.5h3M141 43.5h3M150 43.5h3M141 46.5h3M150 46.5h3M108 49.5h3M144 49.5h6M159 49.5h3M105 52.5h3M162 52.5h3M180 52.5h3M102 55.5h3M171 55.5h6M102 67.5h3"/><path stroke="#80ff80" d="M168 34.5h6M180 40.5h3M159 43.5h3M144 46.5h6M159 46.5h3M120 52.5h3M102 58.5h3M123 58.5h3M102 64.5h3M105 67.5h3"/><path stroke="#69ff96" d="M174 34.5h3M162 37.5h3M144 43.5h6M111 49.5h9M123 55.5h3M123 61.5h3M117 67.5h3"/><path stroke="#3dffc2" d="M177 34.5h3M144 40.5h9M153 43.5h6M183 43.5h3M114 46.5h3M153 46.5h6M183 46.5h3M120 49.5h3M141 49.5h3M150 49.5h3M123 52.5h3M168 55.5h3M99 58.5h3M99 61.5h3M99 64.5h3M123 64.5h3M120 67.5h3M105 70.5h9"/><path stroke="#acff53" d="M165 37.5h3M180 43.5h3M180 46.5h3M117 52.5h3M120 55.5h3M111 67.5h3"/><path stroke="#eeff11" d="M168 37.5h6M177 40.5h3M174 52.5h3M117 55.5h3M108 64.5h3"/><path stroke="#d8ff27" d="M174 37.5h3M162 49.5h3M108 55.5h3M105 58.5h3M120 58.5h3M105 61.5h3M120 61.5h3M117 64.5h3"/><path stroke="#96ff69" d="M177 37.5h3M180 49.5h3M108 52.5h3M177 52.5h3M105 55.5h3M102 61.5h3M120 64.5h3M108 67.5h3M114 67.5h3"/><path stroke="#c2ff3d" d="M162 40.5h3M111 52.5h6M165 52.5h3M105 64.5h3"/><path stroke="#ffcd00" d="M165 40.5h3M177 46.5h3"/><path stroke="#ff8b00" d="M168 40.5h6M174 49.5h3"/><path stroke="#ffb700" d="M174 40.5h3M111 58.5h6M111 61.5h6"/><path stroke="#fff900" d="M162 43.5h3M177 49.5h3M168 52.5h6M111 55.5h3M111 64.5h6"/><path stroke="#ff5e00" d="M165 43.5h3M174 43.5h3"/><path stroke="#ff0600" d="M168 43.5h3M171 46.5h3"/><path stroke="#ff1c00" d="M171 43.5h3"/><path stroke="#ffe300" d="M177 43.5h3M162 46.5h3M114 55.5h3M108 58.5h3M117 58.5h3M108 61.5h3M117 61.5h3"/><path stroke="#ff4800" d="M165 46.5h3M174 46.5h3M168 49.5h6"/><path stroke="#ee0000" d="M168 46.5h3"/><path stroke="#ffa100" d="M165 49.5h3"/><path stroke="#005eff" d="M195 49.5h6M192 52.5h3M207 52.5h6M270 52.5h12M189 55.5h3M213 55.5h3M267 55.5h6M279 55.5h3M150 58.5h6M159 58.5h3M186 58.5h3M213 58.5h6M267 58.5h3M138 61.5h6M174 61.5h12M216 61.5h6M267 61.5h3M135 64.5h3M216 64.5h9M267 64.5h6M279 64.5h3M135 67.5h3M216 67.5h12M267 67.5h15M132 70.5h6M216 70.5h15M126 73.5h12M177 73.5h9M216 73.5h21M117 76.5h3M135 76.5h12M171 76.5h15M231 76.5h9M111 79.5h3M135 79.5h12M174 79.5h15M234 79.5h30M108 82.5h3M135 82.5h15M183 82.5h6M237 82.5h45M102 85.5h6M135 85.5h18M186 85.5h9M240 85.5h42M96 88.5h6M132 88.5h9M150 88.5h9M189 88.5h9M93 91.5h9M132 91.5h6M153 91.5h6M189 91.5h48M264 91.5h18M75 94.5h24M132 94.5h6M189 94.5h24M225 94.5h15M258 94.5h24M72 97.5h27M132 97.5h6M192 97.5h18M231 97.5h9M255 97.5h12M69 100.5h9M90 100.5h12M132 100.5h9M201 100.5h6M234 100.5h6M255 100.5h9M66 103.5h9M93 103.5h12M132 103.5h15M159 103.5h24M204 103.5h6M234 103.5h9M258 103.5h6M63 106.5h12M90 106.5h15M132 106.5h54M210 106.5h9M234 106.5h9M261 106.5h6M57 109.5h18M87 109.5h18M132 109.5h54M219 109.5h24M264 109.5h6M54 112.5h9M75 112.5h27M132 112.5h9M162 112.5h24M225 112.5h18M267 112.5h15M54 115.5h6M132 115.5h9M165 115.5h6M228 115.5h15M270 115.5h12M57 118.5h6M108 118.5h12M135 118.5h6M165 118.5h6M231 118.5h12M60 121.5h9M105 121.5h15M135 121.5h6M165 121.5h6M234 121.5h6M63 124.5h6M105 124.5h15M135 124.5h6M165 124.5h6M234 124.5h6M273 124.5h3M66 127.5h3M105 127.5h12M135 127.5h6M165 127.5h6M234 127.5h6M273 127.5h6M66 130.5h3M105 130.5h9M129 130.5h12M165 130.5h6M192 130.5h27M225 130.5h15M270 130.5h12M60 133.5h9M120 133.5h9M165 133.5h6M189 133.5h54M270 133.5h12M15 136.5h9M45 136.5h15M120 136.5h3M141 136.5h9M168 136.5h3M189 136.5h36M231 136.5h12M270 136.5h12M12 139.5h15M45 139.5h6M120 139.5h3M141 139.5h12M168 139.5h3M189 139.5h18M213 139.5h9M234 139.5h9M12 142.5h6M21 142.5h9M42 142.5h6M78 142.5h6M117 142.5h3M141 142.5h3M150 142.5h6M168 142.5h3M189 142.5h12M216 142.5h6M234 142.5h9M9 145.5h9M24 145.5h6M42 145.5h6M78 145.5h24M117 145.5h3M141 145.5h3M150 145.5h6M165 145.5h6M186 145.5h3M216 145.5h6M234 145.5h6M255 145.5h9M9 148.5h6M24 148.5h9M39 148.5h9M81 148.5h21M117 148.5h3M141 148.5h3M153 148.5h6M165 148.5h6M180 148.5h9M216 148.5h9M231 148.5h9M252 148.5h12M0 151.5h15M27 151.5h21M87 151.5h15M117 151.5h3M141 151.5h3M153 151.5h18M177 151.5h12M216 151.5h24M252 151.5h12M0 154.5h12M30 154.5h18M90 154.5h12M117 154.5h6M138 154.5h6M156 154.5h12M177 154.5h12M216 154.5h21M39 157.5h9M90 157.5h12M120 157.5h6M138 157.5h6M177 157.5h9M216 157.5h9M42 160.5h6M93 160.5h12M123 160.5h21M216 160.5h6M42 163.5h6M90 163.5h15M129 163.5h15M216 163.5h6M39 166.5h9M90 166.5h15M129 166.5h15M216 166.5h6M39 169.5h9M90 169.5h15M132 169.5h12M165 169.5h6M216 169.5h9M36 172.5h12M90 172.5h12M132 172.5h9M156 172.5h18M216 172.5h9M39 175.5h6M90 175.5h6M135 175.5h3M150 175.5h27M219 175.5h6M147 178.5h12M174 178.5h6M147 181.5h9M177 181.5h6M51 184.5h12M147 184.5h6M180 184.5h6M0 187.5h18M51 187.5h12M132 187.5h6M147 187.5h6M180 187.5h9M195 187.5h15M6 190.5h12M51 190.5h12M132 190.5h6M147 190.5h6M180 190.5h9M195 190.5h15M12 193.5h6M51 193.5h12M132 193.5h9M147 193.5h6M180 193.5h9M201 193.5h6M12 196.5h9M51 196.5h12M132 196.5h9M147 196.5h6M180 196.5h6M12 199.5h9M51 199.5h9M132 199.5h9M147 199.5h9M177 199.5h9M9 202.5h9M54 202.5h6M132 202.5h9M150 202.5h9M174 202.5h9M0 205.5h18M93 205.5h3M132 205.5h12M150 205.5h33M0 208.5h18M93 208.5h6M132 208.5h12M153 208.5h27M93 211.5h9M132 211.5h12M66 214.5h15M93 214.5h12M132 214.5h12M66 217.5h15M93 217.5h12M132 217.5h12M69 220.5h9M93 220.5h12M132 220.5h12"/><path stroke="#0048ff" d="M195 52.5h12M192 55.5h3M207 55.5h6M273 55.5h6M156 58.5h3M189 58.5h3M210 58.5h3M270 58.5h12M144 61.5h6M168 61.5h6M186 61.5h3M213 61.5h3M270 61.5h12M138 64.5h6M180 64.5h9M213 64.5h3M273 64.5h6M138 67.5h6M180 67.5h9M213 67.5h3M138 70.5h9M177 70.5h12M210 70.5h6M138 73.5h12M171 73.5h6M186 73.5h6M210 73.5h6M120 76.5h15M147 76.5h6M168 76.5h3M186 76.5h6M207 76.5h24M114 79.5h3M129 79.5h6M147 79.5h9M165 79.5h9M189 79.5h9M204 79.5h30M111 82.5h3M129 82.5h6M150 82.5h33M189 82.5h48M108 85.5h3M126 85.5h9M153 85.5h12M180 85.5h6M195 85.5h45M102 88.5h6M126 88.5h6M141 88.5h9M159 88.5h6M183 88.5h6M198 88.5h84M102 91.5h6M126 91.5h6M138 91.5h15M159 91.5h6M183 91.5h6M237 91.5h27M99 94.5h6M126 94.5h6M138 94.5h27M180 94.5h9M240 94.5h18M99 97.5h9M126 97.5h6M138 97.5h33M174 97.5h18M240 97.5h15M78 100.5h12M102 100.5h6M126 100.5h6M141 100.5h60M240 100.5h15M75 103.5h18M105 103.5h6M126 103.5h6M147 103.5h12M183 103.5h21M243 103.5h15M75 106.5h15M105 106.5h6M126 106.5h6M186 106.5h24M243 106.5h18M75 109.5h12M105 109.5h12M120 109.5h12M186 109.5h9M210 109.5h9M243 109.5h6M258 109.5h6M63 112.5h12M102 112.5h30M186 112.5h9M219 112.5h6M243 112.5h6M261 112.5h6M60 115.5h72M171 115.5h24M222 115.5h6M243 115.5h6M264 115.5h6M63 118.5h45M120 118.5h15M171 118.5h24M225 118.5h6M243 118.5h3M267 118.5h15M69 121.5h6M90 121.5h15M120 121.5h15M171 121.5h24M225 121.5h9M240 121.5h6M267 121.5h15M69 124.5h3M96 124.5h9M120 124.5h15M171 124.5h30M219 124.5h15M240 124.5h6M267 124.5h6M276 124.5h6M69 127.5h3M96 127.5h9M117 127.5h18M171 127.5h63M240 127.5h6M264 127.5h9M279 127.5h3M69 130.5h3M96 130.5h9M114 130.5h15M171 130.5h21M219 130.5h6M240 130.5h9M264 130.5h6M69 133.5h3M96 133.5h24M171 133.5h18M243 133.5h6M261 133.5h9M60 136.5h15M93 136.5h27M171 136.5h18M243 136.5h27M51 139.5h9M66 139.5h54M171 139.5h18M207 139.5h6M243 139.5h39M18 142.5h3M48 142.5h6M69 142.5h9M84 142.5h33M144 142.5h6M171 142.5h18M201 142.5h15M243 142.5h39M18 145.5h6M48 145.5h3M72 145.5h6M102 145.5h15M144 145.5h6M171 145.5h15M189 145.5h27M240 145.5h15M264 145.5h18M15 148.5h9M48 148.5h3M75 148.5h6M102 148.5h15M144 148.5h9M171 148.5h9M189 148.5h27M240 148.5h12M264 148.5h18M15 151.5h12M48 151.5h6M78 151.5h9M102 151.5h15M144 151.5h9M171 151.5h6M189 151.5h9M207 151.5h9M240 151.5h12M264 151.5h18M12 154.5h18M48 154.5h6M81 154.5h9M102 154.5h15M144 154.5h12M168 154.5h9M189 154.5h6M210 154.5h6M237 154.5h45M0 157.5h39M48 157.5h6M84 157.5h6M102 157.5h18M144 157.5h33M186 157.5h6M210 157.5h6M225 157.5h57M0 160.5h42M48 160.5h9M84 160.5h9M105 160.5h18M144 160.5h45M210 160.5h6M222 160.5h60M0 163.5h42M48 163.5h6M84 163.5h6M105 163.5h9M120 163.5h9M144 163.5h42M210 163.5h6M222 163.5h60M0 166.5h39M48 166.5h6M84 166.5h6M105 166.5h6M123 166.5h6M144 166.5h36M210 166.5h6M222 166.5h60M0 169.5h39M48 169.5h6M84 169.5h6M105 169.5h3M126 169.5h6M144 169.5h21M171 169.5h9M207 169.5h9M225 169.5h57M0 172.5h36M48 172.5h9M84 172.5h6M102 172.5h6M126 172.5h6M141 172.5h15M174 172.5h6M207 172.5h9M225 172.5h57M0 175.5h39M45 175.5h15M84 175.5h6M96 175.5h9M126 175.5h9M138 175.5h12M177 175.5h6M204 175.5h15M225 175.5h57M0 178.5h63M84 178.5h18M126 178.5h21M180 178.5h6M198 178.5h84M0 181.5h66M84 181.5h15M123 181.5h24M183 181.5h99M0 184.5h51M63 184.5h6M84 184.5h15M126 184.5h21M186 184.5h96M18 187.5h33M63 187.5h6M84 187.5h15M126 187.5h6M138 187.5h9M189 187.5h6M210 187.5h72M18 190.5h33M63 190.5h6M84 190.5h15M126 190.5h6M138 190.5h9M189 190.5h6M210 190.5h72M18 193.5h33M63 193.5h6M84 193.5h15M129 193.5h3M141 193.5h6M189 193.5h12M207 193.5h75M21 196.5h30M63 196.5h3M84 196.5h15M129 196.5h3M141 196.5h6M186 196.5h96M21 199.5h30M60 199.5h9M84 199.5h15M129 199.5h3M141 199.5h6M186 199.5h96M18 202.5h36M60 202.5h9M81 202.5h21M129 202.5h3M141 202.5h9M183 202.5h99M18 205.5h75M96 205.5h9M129 205.5h3M144 205.5h6M183 205.5h99M18 208.5h75M99 208.5h9M126 208.5h6M144 208.5h9M180 208.5h102M0 211.5h93M102 211.5h6M126 211.5h6M144 211.5h138M0 214.5h66M81 214.5h12M105 214.5h6M126 214.5h6M144 214.5h138M0 217.5h66M81 217.5h12M105 217.5h6M126 217.5h6M144 217.5h138M0 220.5h69M78 220.5h15M105 220.5h6M126 220.5h6M144 220.5h138"/><path stroke="#0032ff" d="M195 55.5h12M192 58.5h3M207 58.5h3M150 61.5h6M162 61.5h6M189 61.5h3M210 61.5h3M144 64.5h6M177 64.5h3M189 64.5h3M210 64.5h3M144 67.5h6M177 67.5h3M189 67.5h3M210 67.5h3M147 70.5h6M171 70.5h6M189 70.5h3M207 70.5h3M150 73.5h6M165 73.5h6M192 73.5h3M204 73.5h6M153 76.5h15M192 76.5h15M117 79.5h12M156 79.5h9M198 79.5h6M114 82.5h3M123 82.5h6M111 85.5h3M123 85.5h3M165 85.5h15M108 88.5h6M120 88.5h6M165 88.5h6M174 88.5h9M108 91.5h6M120 91.5h6M165 91.5h6M177 91.5h6M105 94.5h9M120 94.5h6M165 94.5h15M108 97.5h6M120 97.5h6M171 97.5h3M108 100.5h6M120 100.5h6M111 103.5h15M111 106.5h15M117 109.5h3M195 109.5h15M249 109.5h9M195 112.5h9M207 112.5h12M249 112.5h12M195 115.5h6M216 115.5h6M249 115.5h6M258 115.5h6M195 118.5h6M216 118.5h9M246 118.5h6M261 118.5h6M75 121.5h15M195 121.5h30M246 121.5h6M261 121.5h6M72 124.5h9M84 124.5h12M201 124.5h18M246 124.5h6M261 124.5h6M72 127.5h3M90 127.5h6M246 127.5h6M261 127.5h3M72 130.5h3M90 130.5h6M249 130.5h15M72 133.5h6M87 133.5h9M249 133.5h12M75 136.5h18M60 139.5h6M54 142.5h15M51 145.5h6M66 145.5h6M51 148.5h6M69 148.5h6M54 151.5h3M69 151.5h9M198 151.5h9M54 154.5h6M75 154.5h6M195 154.5h15M54 157.5h9M78 157.5h6M192 157.5h6M204 157.5h6M57 160.5h6M78 160.5h6M189 160.5h6M204 160.5h6M54 163.5h6M78 163.5h6M114 163.5h6M186 163.5h6M204 163.5h6M54 166.5h6M78 166.5h6M111 166.5h12M180 166.5h9M204 166.5h6M54 169.5h6M78 169.5h6M108 169.5h9M120 169.5h6M180 169.5h6M201 169.5h6M57 172.5h6M75 172.5h9M108 172.5h6M120 172.5h6M180 172.5h6M198 172.5h9M60 175.5h9M75 175.5h9M105 175.5h9M120 175.5h6M183 175.5h21M63 178.5h9M75 178.5h9M102 178.5h9M117 178.5h9M186 178.5h12M66 181.5h9M78 181.5h6M99 181.5h6M117 181.5h6M69 184.5h3M78 184.5h6M99 184.5h3M120 184.5h6M69 187.5h3M78 187.5h6M99 187.5h3M120 187.5h6M69 190.5h3M81 190.5h3M99 190.5h3M123 190.5h3M69 193.5h3M81 193.5h3M99 193.5h3M126 193.5h3M66 196.5h6M78 196.5h6M99 196.5h3M126 196.5h3M69 199.5h15M99 199.5h6M126 199.5h3M69 202.5h12M102 202.5h3M126 202.5h3M105 205.5h3M123 205.5h6M108 208.5h3M123 208.5h3M108 211.5h9M120 211.5h6M111 214.5h15M111 217.5h15M111 220.5h15"/><path stroke="#001cff" d="M195 58.5h3M204 58.5h3M156 61.5h6M192 61.5h3M207 61.5h3M150 64.5h6M171 64.5h6M192 64.5h3M207 64.5h3M150 67.5h6M171 67.5h6M192 67.5h3M207 67.5h3M153 70.5h6M165 70.5h6M192 70.5h6M204 70.5h3M156 73.5h9M195 73.5h9M117 82.5h6M114 85.5h9M114 88.5h6M171 88.5h3M114 91.5h6M171 91.5h6M114 94.5h6M114 97.5h6M114 100.5h6M204 112.5h3M201 115.5h15M255 115.5h3M201 118.5h15M252 118.5h9M252 121.5h9M81 124.5h3M252 124.5h9M75 127.5h15M252 127.5h9M75 130.5h15M78 133.5h9M57 145.5h9M57 148.5h12M57 151.5h12M60 154.5h15M63 157.5h15M198 157.5h6M63 160.5h15M195 160.5h9M60 163.5h18M192 163.5h12M60 166.5h18M189 166.5h15M60 169.5h18M117 169.5h3M186 169.5h15M63 172.5h12M114 172.5h6M186 172.5h12M69 175.5h6M114 175.5h6M72 178.5h3M111 178.5h6M75 181.5h3M105 181.5h12M72 184.5h6M102 184.5h18M72 187.5h6M102 187.5h6M114 187.5h6M72 190.5h9M102 190.5h3M120 190.5h3M72 193.5h9M102 193.5h3M123 193.5h3M72 196.5h6M102 196.5h6M123 196.5h3M105 199.5h3M123 199.5h3M105 202.5h6M123 202.5h3M108 205.5h6M120 205.5h3M111 208.5h12M117 211.5h3"/><path stroke="#0006ff" d="M198 58.5h6M195 61.5h3M204 61.5h3M156 64.5h15M195 64.5h3M204 64.5h3M156 67.5h15M195 67.5h3M204 67.5h3M159 70.5h6M198 70.5h6M108 187.5h6M105 190.5h15M105 193.5h6M117 193.5h6M108 196.5h3M120 196.5h3M108 199.5h3M120 199.5h3M111 202.5h12M114 205.5h6"/><path stroke="#0000ee" d="M198 61.5h6M198 64.5h6M198 67.5h6M111 193.5h6M111 196.5h9M111 199.5h9"/></g></g></g><path d="M225.2 218.5V211.5L229 210L233 208L236 206.5L238.2 207L238.8 211L242 214L244 209L247 214.5L249 218.5ZM253 218.5L256.3 215L261 215.5L265 218.5Z" fill="#fff"/><path d="M-1.0 156.0 L4.6 151.8 L14.0 140.1 L25.8 131.4 L37.5 119.7 L46.2 116.8 L50.6 109.5 L59.4 100.7 L63.7 93.4 L72.5 87.6 L81.3 81.7 L86.1 79.0 L94.2 72.5 L96.6 66.1 L97.4 61.3 L95.8 56.5 L90.2 54.0 L91.0 50.9 L95.8 49.3 L105.4 48.5 L108.6 50.1 L109.4 46.8 L118.3 42.0 L124.7 39.6 L129.0 38.5 L135.3 36.5 L139.6 34.3 L146.9 31.4 L150.6 28.5 L155.7 24.8 L158.6 26.3 L161.5 29.2 L165.9 30.0 L173.2 29.2 L180.5 29.2 L186.4 30.4 M186.4 30.4 L177.6 32.1 L171.8 35.1 L170.3 39.4 L174.7 46.7 L182.0 52.6 L186.4 57.0 L187.1 61.3 L184.9 65.7 L184.2 70.0 L187.2 73.0 L186.4 76.0 L184.4 82.2 L178.2 83.2 L170.1 85.2 L163.9 89.3 L168.0 92.4 L169.1 96.5 L163.9 100.6 L161.9 104.7 L161.9 113.9 M179.1 33.6 L177.6 36.5 L180.5 42.4 L187.8 47.5 L198.0 49.7 L202.4 46.0 L208.3 42.4 L215.6 39.4 L222.9 36.5 L229.8 38.6 L240.0 40.6 L252.1 41.6 L264.3 40.6 L278.0 37.5 M209.7 206.8 L213.3 210.4 L215.7 215.2 L215.1 218.5 M215.7 215.8 L225.2 214.0 L225.2 210.4 L228.8 209.2 L232.4 206.8 L236.0 205.0 L238.4 205.6 L239.0 210.4 L242.0 212.8 L243.8 206.2 L245.6 210.4 L248.0 214.0 L249.2 218.5 M252.8 218.5 L256.3 214.0 L261.1 214.6 L265.9 218.5 M269.5 218.5 L273.1 214.0 L275.5 205.6 L277.5 203.0 M11.7 218.0 L10.7 210.5 L13.7 204.4 L19.8 196.3 L21.8 188.1 L25.9 178.0 L23.9 175.0 L29.9 169.9 L38.1 163.8 L38.1 158.7 L42.1 158.7 L46.2 161.8 L50.2 158.7 L58.3 161.8 L64.4 156.7 L68.5 158.7 L78.6 158.7 L86.8 155.7 L94.9 152.6 L101.0 150.6 L99.0 145.5 L92.8 141.5 L99.0 135.4 L102.6 129.2 L108.8 125.1 L112.8 119.0 L119.0 112.8 L127.2 107.7 L131.2 109.8 L137.4 111.8 L141.5 108.7 L145.5 110.8 L151.7 112.8 L155.8 111.8 L161.9 113.9 L170.1 113.9 L178.2 114.9 M178.2 114.9 L184.4 121.0 L186.4 127.1 L184.4 137.4 L186.4 145.5 L189.5 154.0 L193.3 159.7 L192.3 169.9 L197.3 182.0 L196.3 190.2 L201.4 198.3 L204.5 206.4 L204.5 219.0 M178.2 114.9 L182.3 110.8 L186.4 108.7 L192.5 106.7 L198.7 102.6 L201.8 96.5 L206.9 94.4 L214.0 92.4 L215.0 86.3 L219.1 82.2 L221.2 76.0 L223.7 69.0 L233.9 70.0 L240.0 71.0 L248.1 74.0 L254.2 79.1 L256.2 83.2 L260.3 80.2 L264.3 75.0 L270.4 71.0 L278.5 67.0" stroke="#222" stroke-width="0.6" fill="none" stroke-linejoin="round"/><text x="41.9" y="47.2" font-size="13.4" textLength="54" lengthAdjust="spacingAndGlyphs">Shimane</text><text x="111" y="215.6" font-size="12.8" fill="#fff" style="fill:#fff" textLength="60.8" lengthAdjust="spacingAndGlyphs">Hiroshima</text><rect x="0" y="0" width="277" height="218" fill="none" stroke="#8c8c8c" stroke-width="1"/><path d="M5.5 0v2.5M5.5 218v-2.5M32.9 0v2.5M32.9 218v-2.5M60.3 0v2.5M60.3 218v-2.5M87.7 0v2.5M87.7 218v-2.5M115.1 0v2.5M115.1 218v-2.5M142.5 0v2.5M142.5 218v-2.5M169.9 0v2.5M169.9 218v-2.5M197.3 0v2.5M197.3 218v-2.5M224.7 0v2.5M224.7 218v-2.5M252.1 0v2.5M252.1 218v-2.5M0 25.5h2.5M277 25.5h-2.5M0 58.8h2.5M277 58.8h-2.5M0 92.1h2.5M277 92.1h-2.5M0 125.4h2.5M277 125.4h-2.5M0 158.7h2.5M277 158.7h-2.5M0 192.0h2.5M277 192.0h-2.5" stroke="#666" stroke-width="0.8" fill="none"/><text x="2.2" y="-5.2" font-size="16.5" font-weight="bold">d</text><text x="19.2" y="-4.7" font-size="14.2" textLength="35.5" lengthAdjust="spacingAndGlyphs">3 km</text><path d="M183.7 13.8v-4.8h75.8v4.8" stroke="#666" stroke-width="0.8" fill="none"/><text x="221" y="21.8" font-size="12" text-anchor="middle" textLength="31.6" lengthAdjust="spacingAndGlyphs">50 km</text></g><g transform="translate(33.5,526.0)"><g clip-path="url(#mk)"><g filter="url(#bl)"><g stroke-width="3.3" fill="none"><path stroke="#ff0000" d="M0 1.5h222M234 1.5h6M267 1.5h3M0 4.5h225M0 7.5h231M0 10.5h231M0 13.5h234M0 16.5h234M0 19.5h234M12 22.5h222M15 25.5h219M15 28.5h219M18 31.5h216M18 34.5h216M18 37.5h216M27 40.5h207M33 43.5h201M33 46.5h201M36 49.5h198M39 52.5h195M42 55.5h99M147 55.5h90M45 58.5h93M150 58.5h90M54 61.5h81M153 61.5h96M57 64.5h78M153 64.5h96M57 67.5h75M180 67.5h21M222 67.5h24M63 70.5h51M225 70.5h21M66 73.5h45M225 73.5h21M69 76.5h42M228 76.5h15M72 79.5h30M132 151.5h3M129 154.5h9M129 157.5h12M129 160.5h12M129 163.5h12M129 166.5h12"/><path stroke="#ff0f0f" d="M222 1.5h12M240 1.5h6M264 1.5h3M270 1.5h3M225 4.5h21M231 7.5h15M231 10.5h6M243 10.5h3M234 13.5h12M234 16.5h15M234 19.5h6M0 22.5h12M234 22.5h3M9 25.5h6M234 25.5h3M12 28.5h3M234 28.5h3M15 31.5h3M234 31.5h3M15 34.5h3M234 34.5h3M15 37.5h3M234 37.5h3M18 40.5h9M30 43.5h3M33 49.5h3M36 52.5h3M234 52.5h3M36 55.5h6M141 55.5h6M3 58.5h6M39 58.5h6M240 58.5h6M48 61.5h6M135 61.5h3M150 61.5h3M54 64.5h3M54 67.5h3M156 67.5h9M177 67.5h3M201 67.5h3M219 67.5h3M57 70.5h6M114 70.5h3M186 70.5h6M222 70.5h3M63 73.5h3M111 73.5h3M66 76.5h3M69 79.5h3M102 79.5h3M234 79.5h6M75 82.5h9M126 160.5h3M135 169.5h3"/><path stroke="#ff1f1f" d="M246 1.5h3M273 1.5h3M246 4.5h3M267 4.5h9M246 7.5h3M237 10.5h6M246 10.5h3M246 13.5h3M249 16.5h3M240 19.5h9M237 22.5h3M0 25.5h9M237 25.5h3M9 28.5h3M237 28.5h3M12 31.5h3M237 31.5h3M12 34.5h3M15 40.5h3M234 40.5h3M18 43.5h12M234 43.5h3M30 46.5h3M234 46.5h3M234 49.5h3M33 52.5h3M0 55.5h9M33 55.5h3M237 55.5h3M0 58.5h3M9 58.5h3M33 58.5h6M138 58.5h3M147 58.5h3M246 58.5h3M0 61.5h12M42 61.5h6M249 61.5h3M0 64.5h3M15 64.5h6M48 64.5h6M15 67.5h6M132 67.5h3M153 67.5h3M165 67.5h6M174 67.5h3M204 67.5h3M213 67.5h6M246 67.5h3M18 70.5h3M54 70.5h3M117 70.5h3M180 70.5h6M192 70.5h6M57 73.5h6M60 76.5h6M63 79.5h6M105 79.5h3M63 82.5h12M84 82.5h15M12 85.5h6M63 85.5h3M15 88.5h3M15 91.5h3M57 91.5h3M0 97.5h3M39 106.5h9M39 109.5h9M42 112.5h6M129 151.5h3M135 151.5h3M126 157.5h3M132 169.5h3"/><path stroke="#ff3f3f" d="M249 1.5h3M261 1.5h3M279 1.5h3M249 4.5h3M249 7.5h3M267 7.5h9M252 13.5h6M261 16.5h3M249 22.5h12M246 25.5h3M0 28.5h3M246 28.5h3M3 31.5h6M3 34.5h9M240 34.5h3M0 37.5h12M237 37.5h3M0 40.5h12M0 43.5h15M3 46.5h12M237 46.5h3M3 49.5h3M9 49.5h3M15 49.5h3M21 49.5h9M237 49.5h3M0 52.5h3M9 52.5h21M240 52.5h3M15 55.5h15M246 55.5h6M18 58.5h12M24 61.5h6M138 61.5h3M147 61.5h3M6 64.5h6M24 64.5h6M39 64.5h3M3 67.5h3M12 67.5h3M24 67.5h3M45 67.5h3M150 67.5h3M0 70.5h3M12 70.5h3M24 70.5h3M48 70.5h3M129 70.5h3M153 70.5h3M162 70.5h6M174 70.5h3M201 70.5h3M219 70.5h3M246 70.5h3M0 73.5h6M12 73.5h3M21 73.5h3M48 73.5h6M192 73.5h3M222 73.5h3M0 76.5h6M12 76.5h3M18 76.5h6M27 76.5h12M48 76.5h9M180 76.5h6M3 79.5h9M18 79.5h6M30 79.5h30M6 82.5h3M21 82.5h3M33 82.5h3M42 82.5h18M3 85.5h3M21 85.5h24M51 85.5h9M81 85.5h6M0 88.5h6M21 88.5h15M54 88.5h3M69 88.5h3M21 91.5h3M30 91.5h3M66 91.5h3M6 94.5h6M21 94.5h12M63 94.5h3M3 97.5h3M9 97.5h6M24 97.5h15M51 97.5h3M60 97.5h3M3 100.5h3M12 100.5h3M36 100.5h21M0 103.5h3M9 103.5h3M21 103.5h6M51 103.5h3M0 106.5h3M6 106.5h6M18 106.5h3M27 106.5h3M51 106.5h3M0 109.5h18M30 109.5h6M15 112.5h3M36 112.5h3M0 115.5h3M15 115.5h6M39 115.5h3M3 118.5h24M21 121.5h9M21 124.5h9M21 127.5h9M24 130.5h3M12 133.5h3M6 136.5h9M0 139.5h15M3 142.5h3M0 145.5h3M129 148.5h3M141 160.5h3M279 172.5h3"/><path stroke="#ff6f6f" d="M252 1.5h3M258 1.5h3M252 4.5h3M261 7.5h3M258 10.5h3M267 13.5h3M264 19.5h3M261 25.5h3M249 31.5h3M243 37.5h3M240 40.5h3M240 46.5h3M243 49.5h21M261 52.5h3M258 55.5h6M255 58.5h9M255 61.5h3M138 64.5h3M150 70.5h3M207 70.5h6M123 73.5h3M156 73.5h18M198 73.5h3M246 73.5h3M117 76.5h3M171 76.5h3M192 76.5h3M114 79.5h3M186 79.5h3M228 79.5h3M108 82.5h3M168 82.5h3M183 82.5h3M237 82.5h3M168 85.5h3M177 85.5h3M78 88.5h9M42 91.5h9M72 91.5h3M42 94.5h6M72 94.5h3M63 100.5h3M57 103.5h3M54 106.5h3M33 118.5h6M48 118.5h3M33 121.5h3M39 121.5h9M0 124.5h6M33 124.5h3M0 127.5h12M3 130.5h6M30 133.5h3M24 136.5h6M18 139.5h3M18 142.5h3M30 145.5h9M6 148.5h3M126 148.5h3M6 151.5h3M267 151.5h6M267 154.5h3M141 157.5h3M276 157.5h3M270 160.5h3M279 160.5h3M273 163.5h9M273 166.5h9M129 169.5h3M273 169.5h3M138 172.5h3M270 175.5h3M267 178.5h3M267 181.5h3M279 181.5h3M267 184.5h3M267 187.5h6M267 190.5h3M261 193.5h6M261 196.5h3M171 199.5h3M177 199.5h3M258 199.5h3M168 202.5h3M174 202.5h3M156 205.5h6M168 205.5h6M159 208.5h6M270 214.5h3M264 217.5h3M273 220.5h3"/><path stroke="#ff7f7f" d="M255 1.5h3M258 4.5h3M255 7.5h6M270 13.5h12M267 16.5h3M264 22.5h3M276 25.5h3M252 28.5h15M273 28.5h9M264 31.5h3M249 34.5h3M246 37.5h6M240 43.5h3M249 43.5h6M249 46.5h18M264 49.5h3M264 52.5h3M264 55.5h3M264 58.5h3M258 61.5h6M255 64.5h3M147 67.5h3M126 73.5h6M153 73.5h3M201 73.5h3M219 73.5h3M168 76.5h3M246 76.5h3M168 79.5h3M111 82.5h3M234 82.5h3M240 82.5h3M99 85.5h3M180 85.5h3M87 88.5h3M171 88.5h3M75 91.5h3M72 97.5h3M66 100.5h6M60 103.5h3M54 109.5h3M51 115.5h3M36 121.5h3M48 121.5h3M36 124.5h3M33 127.5h3M33 130.5h3M30 136.5h3M21 139.5h9M30 142.5h9M18 145.5h3M27 145.5h3M135 145.5h3M9 148.5h6M27 148.5h12M138 148.5h3M267 148.5h6M6 154.5h3M273 154.5h3M0 157.5h3M123 157.5h3M267 157.5h3M279 157.5h3M123 160.5h3M270 163.5h3M126 166.5h3M141 169.5h3M132 172.5h3M270 172.5h3M267 175.5h3M255 190.5h12M270 190.5h12M252 193.5h3M267 193.5h3M174 196.5h6M252 196.5h3M264 196.5h3M255 199.5h3M261 199.5h3M156 202.5h6M177 202.5h3M162 205.5h6M156 208.5h3M165 208.5h6M240 208.5h3M159 211.5h6M240 211.5h3M273 211.5h6M264 214.5h6M276 214.5h3M189 217.5h3M276 217.5h3M186 220.5h6"/><path stroke="#ff2f2f" d="M276 1.5h3M264 4.5h3M276 4.5h3M249 10.5h3M249 13.5h3M252 16.5h9M249 19.5h12M240 22.5h9M240 25.5h6M3 28.5h6M240 28.5h6M9 31.5h3M240 31.5h6M237 34.5h3M12 37.5h3M12 40.5h3M15 43.5h3M15 46.5h15M6 49.5h3M18 49.5h3M30 49.5h3M3 52.5h6M30 52.5h3M237 52.5h3M9 55.5h6M30 55.5h3M240 55.5h6M12 58.5h6M30 58.5h3M141 58.5h6M249 58.5h3M12 61.5h12M30 61.5h12M3 64.5h3M12 64.5h3M21 64.5h3M42 64.5h6M135 64.5h3M150 64.5h3M249 64.5h3M0 67.5h3M21 67.5h3M48 67.5h6M171 67.5h3M207 67.5h6M15 70.5h3M21 70.5h3M51 70.5h3M120 70.5h9M156 70.5h6M177 70.5h3M198 70.5h3M15 73.5h6M54 73.5h3M114 73.5h3M180 73.5h12M15 76.5h3M57 76.5h3M111 76.5h3M243 76.5h3M12 79.5h6M60 79.5h3M108 79.5h3M231 79.5h3M240 79.5h3M9 82.5h12M36 82.5h6M60 82.5h3M99 82.5h3M6 85.5h6M18 85.5h3M60 85.5h3M66 85.5h15M6 88.5h9M18 88.5h3M57 88.5h12M0 91.5h15M18 91.5h3M54 91.5h3M60 91.5h6M0 94.5h6M12 94.5h9M54 94.5h9M15 97.5h9M54 97.5h6M0 100.5h3M15 100.5h21M12 103.5h9M27 103.5h24M12 106.5h6M30 106.5h9M48 106.5h3M36 109.5h3M48 109.5h3M0 112.5h15M39 112.5h3M48 112.5h3M3 115.5h12M42 115.5h6M0 142.5h3M0 148.5h3M132 148.5h3M0 151.5h3M138 154.5h3M126 163.5h3M141 163.5h3M138 169.5h3"/><path stroke="#ff8f8f" d="M255 4.5h3M270 16.5h3M267 19.5h3M267 22.5h3M264 25.5h12M279 25.5h3M267 28.5h6M252 31.5h3M261 31.5h3M267 31.5h12M252 34.5h3M261 34.5h15M252 37.5h12M273 37.5h3M243 40.5h18M246 43.5h3M255 43.5h9M243 46.5h6M267 46.5h3M267 49.5h3M267 52.5h3M273 52.5h3M267 55.5h12M267 58.5h3M264 61.5h3M141 64.5h6M258 64.5h3M252 67.5h3M135 70.5h3M120 76.5h3M165 76.5h3M195 76.5h3M222 76.5h3M117 79.5h3M189 79.5h3M186 82.5h3M243 82.5h3M90 88.5h3M168 88.5h3M174 88.5h3M78 91.5h3M75 94.5h3M72 100.5h3M57 106.5h3M54 112.5h3M51 118.5h3M270 118.5h6M39 124.5h15M36 127.5h3M33 133.5h3M33 136.5h3M30 139.5h9M21 142.5h9M39 142.5h3M21 145.5h6M39 145.5h3M126 145.5h3M267 145.5h3M15 148.5h6M24 148.5h3M39 148.5h3M9 151.5h3M24 151.5h6M273 151.5h3M123 154.5h3M3 157.5h3M267 160.5h3M270 166.5h3M270 169.5h3M264 178.5h3M264 187.5h3M249 190.5h6M246 193.5h6M270 193.5h3M180 196.5h3M249 196.5h3M267 196.5h3M159 199.5h3M168 199.5h3M180 199.5h3M264 199.5h3M162 202.5h6M180 202.5h6M258 202.5h3M174 205.5h3M186 205.5h3M72 208.5h6M171 208.5h3M186 208.5h3M234 208.5h6M243 208.5h3M276 208.5h3M165 211.5h3M186 211.5h6M237 211.5h3M243 211.5h3M270 211.5h3M279 211.5h3M162 214.5h3M186 214.5h6M261 214.5h3M186 217.5h3M261 217.5h3M192 220.5h3M276 220.5h3"/><path stroke="#ff5f5f" d="M261 4.5h3M252 7.5h3M255 10.5h3M261 10.5h21M264 13.5h3M264 16.5h3M261 22.5h3M252 25.5h9M249 28.5h3M246 34.5h3M240 37.5h3M240 49.5h3M249 52.5h12M252 55.5h6M141 61.5h6M147 64.5h3M252 64.5h3M33 67.5h6M135 67.5h3M249 67.5h3M6 70.5h3M30 70.5h12M204 70.5h3M213 70.5h3M39 73.5h6M120 73.5h3M174 73.5h3M174 76.5h3M189 76.5h3M171 79.5h3M105 82.5h3M171 82.5h3M180 82.5h3M93 85.5h6M171 85.5h6M42 88.5h9M75 88.5h3M39 91.5h3M39 94.5h3M48 94.5h3M45 97.5h3M66 97.5h6M60 100.5h3M24 109.5h3M24 112.5h6M51 112.5h3M27 115.5h9M30 118.5h3M39 118.5h3M0 121.5h6M30 121.5h3M6 124.5h12M30 124.5h3M12 127.5h6M30 127.5h3M0 130.5h3M9 130.5h3M30 130.5h3M0 133.5h9M27 133.5h3M18 136.5h6M6 145.5h12M129 145.5h6M126 151.5h3M138 151.5h3M3 154.5h3M270 154.5h3M270 157.5h6M273 160.5h6M276 169.5h6M135 172.5h3M273 172.5h3M273 175.5h3M270 178.5h12M270 181.5h9M270 184.5h3M273 187.5h3M255 193.5h6M255 196.5h6M174 199.5h3M171 202.5h3M273 214.5h3M267 217.5h9M264 220.5h3"/><path stroke="#ff4f4f" d="M279 4.5h3M264 7.5h3M276 7.5h6M252 10.5h3M258 13.5h6M261 19.5h3M249 25.5h3M0 31.5h3M246 31.5h3M0 34.5h3M243 34.5h3M237 40.5h3M237 43.5h3M0 46.5h3M0 49.5h3M12 49.5h3M243 52.5h6M252 58.5h3M252 61.5h3M30 64.5h9M6 67.5h6M27 67.5h6M39 67.5h6M3 70.5h3M9 70.5h3M27 70.5h3M42 70.5h6M132 70.5h3M168 70.5h6M216 70.5h3M6 73.5h6M24 73.5h15M45 73.5h3M117 73.5h3M177 73.5h3M195 73.5h3M6 76.5h6M24 76.5h3M39 76.5h9M114 76.5h3M177 76.5h3M186 76.5h3M225 76.5h3M0 79.5h3M24 79.5h6M111 79.5h3M174 79.5h12M243 79.5h3M0 82.5h6M24 82.5h9M102 82.5h3M174 82.5h6M0 85.5h3M45 85.5h6M87 85.5h6M36 88.5h6M51 88.5h3M72 88.5h3M24 91.5h6M33 91.5h6M51 91.5h3M69 91.5h3M33 94.5h6M51 94.5h3M66 94.5h6M6 97.5h3M39 97.5h6M48 97.5h3M63 97.5h3M6 100.5h6M57 100.5h3M3 103.5h6M54 103.5h3M3 106.5h3M21 106.5h6M18 109.5h6M27 109.5h3M51 109.5h3M18 112.5h6M30 112.5h6M21 115.5h6M36 115.5h3M48 115.5h3M0 118.5h3M27 118.5h3M42 118.5h6M6 121.5h15M18 124.5h3M18 127.5h3M12 130.5h12M27 130.5h3M9 133.5h3M15 133.5h12M0 136.5h6M15 136.5h3M15 139.5h3M6 142.5h12M3 145.5h3M3 148.5h3M135 148.5h3M3 151.5h3M0 154.5h3M126 154.5h3M141 166.5h3M276 172.5h3M276 175.5h6M273 184.5h9M276 187.5h6M267 220.5h6"/><path stroke="#ff9f9f" d="M273 16.5h9M270 19.5h9M270 22.5h12M255 31.5h6M279 31.5h3M255 34.5h6M276 34.5h3M264 37.5h9M276 37.5h3M261 40.5h3M273 40.5h6M243 43.5h3M264 43.5h3M270 49.5h3M270 52.5h3M276 52.5h3M279 55.5h3M270 58.5h6M267 61.5h3M138 67.5h3M132 73.5h3M150 73.5h3M204 73.5h3M216 73.5h3M162 76.5h3M198 76.5h3M165 79.5h3M246 79.5h3M114 82.5h3M165 82.5h3M102 85.5h3M165 85.5h3M183 85.5h3M93 88.5h3M177 88.5h3M81 91.5h6M75 97.5h3M63 103.5h3M270 115.5h6M267 118.5h3M276 118.5h3M51 121.5h3M270 121.5h9M39 127.5h3M48 127.5h6M36 130.5h3M36 136.5h3M267 136.5h6M267 139.5h6M129 142.5h6M267 142.5h6M279 142.5h3M270 145.5h3M279 145.5h3M21 148.5h3M123 148.5h3M273 148.5h3M30 151.5h3M123 151.5h3M264 151.5h3M141 154.5h3M264 154.5h3M276 154.5h3M144 163.5h3M267 163.5h3M141 172.5h3M252 172.5h3M267 172.5h3M135 175.5h6M240 175.5h9M264 175.5h3M243 178.5h3M264 181.5h3M264 184.5h3M249 187.5h15M246 190.5h3M171 196.5h3M189 196.5h6M246 196.5h3M156 199.5h3M162 199.5h6M183 199.5h3M252 199.5h3M186 202.5h3M261 202.5h3M75 205.5h3M177 205.5h9M234 205.5h9M174 208.5h3M183 208.5h3M189 208.5h3M225 208.5h9M273 208.5h3M279 208.5h3M72 211.5h6M156 211.5h3M168 211.5h6M192 211.5h3M228 211.5h9M261 211.5h3M159 214.5h3M165 214.5h3M192 214.5h3M237 214.5h6M279 214.5h3M183 217.5h3M192 217.5h3M237 217.5h3M183 220.5h3M237 220.5h3M261 220.5h3"/><path stroke="#ffafaf" d="M279 19.5h3M279 34.5h3M279 37.5h3M264 40.5h9M279 40.5h3M267 43.5h9M270 46.5h3M273 49.5h3M279 52.5h3M276 58.5h6M270 61.5h3M261 64.5h3M144 67.5h3M147 70.5h3M249 70.5h3M123 76.5h3M153 76.5h9M120 79.5h3M192 79.5h3M231 82.5h3M105 85.5h6M96 88.5h3M165 88.5h3M87 91.5h3M78 94.5h6M78 97.5h6M75 100.5h9M66 103.5h3M57 109.5h3M90 112.5h3M54 115.5h3M267 115.5h3M267 121.5h3M279 121.5h3M54 124.5h3M276 124.5h6M42 127.5h6M36 133.5h3M270 133.5h3M273 136.5h3M39 139.5h3M273 139.5h9M42 142.5h3M273 142.5h6M42 145.5h3M138 145.5h3M273 145.5h6M264 148.5h3M12 151.5h3M21 151.5h3M33 151.5h6M9 154.5h3M24 154.5h3M120 154.5h3M207 154.5h6M279 154.5h3M6 157.5h3M120 157.5h3M210 157.5h3M264 157.5h3M0 160.5h3M123 163.5h3M144 166.5h3M267 166.5h3M228 169.5h6M267 169.5h3M129 172.5h3M249 172.5h3M255 172.5h3M264 172.5h3M132 175.5h3M141 175.5h3M237 175.5h3M249 175.5h9M261 175.5h3M138 178.5h3M240 178.5h3M246 178.5h9M261 178.5h3M246 181.5h12M249 184.5h15M246 187.5h3M225 190.5h6M243 190.5h3M189 193.5h3M225 193.5h6M243 193.5h3M273 193.5h3M279 193.5h3M162 196.5h3M168 196.5h3M183 196.5h6M243 196.5h3M270 196.5h3M186 199.5h9M246 199.5h6M267 199.5h3M189 202.5h3M255 202.5h3M264 202.5h3M72 205.5h3M189 205.5h3M228 205.5h6M243 205.5h3M258 205.5h6M78 208.5h3M177 208.5h6M192 208.5h3M213 208.5h12M261 208.5h3M69 211.5h3M174 211.5h3M183 211.5h3M201 211.5h6M213 211.5h15M246 211.5h3M258 211.5h3M264 211.5h6M72 214.5h3M183 214.5h3M234 214.5h3M243 214.5h3M258 214.5h3M162 217.5h6M240 217.5h3M279 217.5h3M162 220.5h3M180 220.5h3M195 220.5h3M234 220.5h3M240 220.5h3M279 220.5h3"/><path stroke="#ffbfbf" d="M276 43.5h6M273 46.5h3M276 49.5h3M273 61.5h3M141 67.5h3M255 67.5h3M135 73.5h3M207 73.5h9M126 76.5h3M201 76.5h3M162 79.5h3M195 79.5h3M225 79.5h3M117 82.5h3M189 82.5h3M186 85.5h3M180 88.5h3M84 94.5h3M84 97.5h3M69 103.5h3M60 106.5h3M90 109.5h3M87 112.5h3M93 112.5h3M90 115.5h6M276 115.5h3M54 118.5h3M54 121.5h3M267 124.5h9M54 127.5h3M39 130.5h3M267 133.5h3M273 133.5h3M39 136.5h3M264 136.5h3M276 136.5h3M42 139.5h3M264 139.5h3M126 142.5h3M135 142.5h3M123 145.5h3M264 145.5h3M42 148.5h3M276 148.5h6M39 151.5h3M120 151.5h3M141 151.5h3M207 151.5h6M276 151.5h3M27 154.5h3M207 157.5h3M3 160.5h3M120 160.5h3M144 160.5h3M264 160.5h3M228 166.5h3M144 169.5h3M225 169.5h3M252 169.5h6M231 172.5h18M258 172.5h6M234 175.5h3M258 175.5h3M135 178.5h3M141 178.5h3M237 178.5h3M255 178.5h6M219 181.5h3M243 181.5h3M258 181.5h6M246 184.5h3M225 187.5h6M243 187.5h3M222 190.5h3M174 193.5h9M192 193.5h3M222 193.5h3M240 193.5h3M276 193.5h3M159 196.5h3M165 196.5h3M195 196.5h3M228 196.5h3M195 199.5h3M243 199.5h3M192 202.5h3M231 202.5h12M252 202.5h3M267 202.5h3M78 205.5h3M153 205.5h3M192 205.5h3M225 205.5h3M264 205.5h3M69 208.5h3M81 208.5h3M153 208.5h3M198 208.5h15M246 208.5h3M258 208.5h3M264 208.5h3M270 208.5h3M78 211.5h3M177 211.5h6M195 211.5h6M207 211.5h6M75 214.5h3M156 214.5h3M168 214.5h3M195 214.5h3M201 214.5h6M213 214.5h9M228 214.5h6M159 217.5h3M180 217.5h3M195 217.5h3M216 217.5h3M234 217.5h3M258 217.5h3M159 220.5h3M165 220.5h3M198 220.5h3M216 220.5h3"/><path stroke="#ffcfcf" d="M276 46.5h6M279 49.5h3M264 64.5h3M138 70.5h3M129 76.5h3M150 76.5h3M219 76.5h3M123 79.5h3M159 79.5h3M198 79.5h3M162 82.5h3M192 82.5h3M111 85.5h3M162 85.5h3M237 85.5h6M99 88.5h3M183 88.5h3M90 91.5h3M84 100.5h3M72 103.5h3M81 103.5h3M87 109.5h3M93 109.5h3M57 112.5h3M87 115.5h3M264 118.5h3M279 118.5h3M264 121.5h3M57 127.5h3M270 127.5h3M279 127.5h3M42 130.5h3M270 130.5h3M39 133.5h3M45 139.5h3M45 142.5h3M264 142.5h3M120 148.5h3M141 148.5h3M207 148.5h3M15 151.5h6M279 151.5h3M213 154.5h3M213 157.5h3M210 160.5h12M264 163.5h3M225 166.5h3M231 166.5h3M264 166.5h3M126 169.5h3M234 169.5h3M249 169.5h3M264 169.5h3M144 172.5h3M228 172.5h3M144 175.5h3M231 175.5h3M216 178.5h6M234 178.5h3M138 181.5h3M216 181.5h3M240 181.5h3M228 184.5h3M243 184.5h3M222 187.5h3M231 190.5h3M237 190.5h6M171 193.5h3M183 193.5h6M231 193.5h9M225 196.5h3M231 196.5h12M198 199.5h3M228 199.5h15M270 199.5h3M153 202.5h3M195 202.5h6M228 202.5h3M243 202.5h9M81 205.5h3M195 205.5h12M246 205.5h3M255 205.5h3M267 205.5h3M273 205.5h9M84 208.5h6M195 208.5h3M255 208.5h3M267 208.5h3M81 211.5h6M255 211.5h3M69 214.5h3M171 214.5h12M198 214.5h3M207 214.5h6M222 214.5h6M246 214.5h3M255 214.5h3M72 217.5h6M177 217.5h3M198 217.5h6M213 217.5h3M219 217.5h3M231 217.5h3M243 217.5h3M177 220.5h3M219 220.5h3M231 220.5h3"/><path stroke="#ffdfdf" d="M276 61.5h3M144 70.5h3M147 73.5h3M132 76.5h3M153 79.5h6M195 82.5h3M246 82.5h3M189 85.5h3M243 85.5h3M162 88.5h3M93 91.5h3M168 91.5h9M87 94.5h3M75 103.5h6M84 103.5h3M63 106.5h3M87 106.5h9M84 112.5h3M96 112.5h3M270 112.5h6M57 115.5h3M96 115.5h3M264 115.5h3M90 118.5h9M57 124.5h3M264 124.5h3M267 127.5h3M273 127.5h6M45 130.5h9M267 130.5h3M273 130.5h3M42 133.5h3M264 133.5h3M276 133.5h3M42 136.5h3M279 136.5h3M138 142.5h3M45 145.5h3M141 145.5h3M204 151.5h3M261 151.5h3M12 154.5h3M21 154.5h3M30 154.5h3M204 154.5h3M261 154.5h3M9 157.5h3M216 157.5h6M6 160.5h3M207 160.5h3M222 160.5h3M0 163.5h6M213 163.5h18M219 166.5h6M147 169.5h3M222 169.5h3M258 169.5h6M147 172.5h6M219 172.5h9M129 175.5h3M147 175.5h3M219 175.5h6M132 178.5h3M144 178.5h3M222 178.5h3M231 178.5h3M135 181.5h3M222 181.5h3M231 181.5h3M219 184.5h9M231 184.5h3M231 187.5h3M240 187.5h3M186 190.5h6M234 190.5h3M162 193.5h9M195 193.5h3M156 196.5h3M198 196.5h3M222 196.5h3M273 196.5h3M279 196.5h3M84 199.5h3M201 199.5h3M75 202.5h12M201 202.5h3M270 202.5h3M84 205.5h6M207 205.5h18M249 205.5h6M270 205.5h3M90 208.5h3M249 208.5h6M66 211.5h3M87 211.5h3M153 211.5h3M249 211.5h3M78 214.5h3M69 217.5h3M156 217.5h3M168 217.5h3M204 217.5h3M222 217.5h3M228 217.5h3M246 217.5h3M69 220.5h9M201 220.5h3M213 220.5h3M222 220.5h3M243 220.5h3M258 220.5h3"/><path stroke="#ffefef" d="M279 61.5h3M267 64.5h9M141 70.5h3M252 70.5h3M249 73.5h3M135 76.5h3M204 76.5h3M216 76.5h3M126 79.5h3M150 79.5h3M120 82.5h3M159 82.5h3M228 82.5h3M114 85.5h3M192 85.5h3M234 85.5h3M102 88.5h3M186 88.5h3M165 91.5h3M177 91.5h3M87 97.5h3M87 100.5h3M87 103.5h3M84 106.5h3M60 109.5h3M84 109.5h3M96 109.5h3M237 112.5h3M276 112.5h3M237 115.5h3M57 118.5h3M237 118.5h6M57 121.5h3M54 130.5h3M276 130.5h6M45 136.5h3M261 136.5h3M48 139.5h3M129 139.5h6M261 139.5h3M48 142.5h3M123 142.5h3M45 148.5h3M204 148.5h3M210 148.5h3M261 148.5h3M213 151.5h3M144 157.5h3M204 157.5h3M222 157.5h3M261 157.5h3M225 160.5h3M261 160.5h3M147 166.5h3M216 166.5h3M252 166.5h6M219 169.5h3M237 169.5h3M246 169.5h3M126 172.5h3M153 172.5h6M150 175.5h9M216 175.5h3M225 175.5h6M129 178.5h3M141 181.5h3M225 181.5h6M234 181.5h6M216 184.5h3M234 184.5h3M240 184.5h3M219 187.5h3M234 187.5h6M180 190.5h6M159 193.5h3M219 193.5h3M276 196.5h3M81 199.5h3M153 199.5h3M225 199.5h3M87 202.5h3M204 202.5h3M225 202.5h3M90 205.5h3M90 211.5h3M252 211.5h3M66 214.5h3M81 214.5h3M249 214.5h6M78 217.5h3M174 217.5h3M207 217.5h6M225 217.5h3M255 217.5h3M78 220.5h3M156 220.5h3M204 220.5h3M228 220.5h3M246 220.5h3"/><path stroke="#efefff" d="M276 64.5h3M144 73.5h3M210 76.5h6M249 76.5h3M132 79.5h3M147 79.5h3M126 82.5h3M147 82.5h3M117 85.5h3M108 88.5h3M189 88.5h3M180 91.5h3M93 94.5h3M90 97.5h3M90 100.5h3M78 106.5h3M81 109.5h3M99 109.5h3M234 109.5h3M240 109.5h3M60 112.5h3M264 112.5h3M60 115.5h3M243 115.5h3M234 118.5h3M243 118.5h3M99 121.5h3M261 121.5h3M60 124.5h3M261 124.5h3M225 127.5h3M228 130.5h6M51 133.5h3M126 139.5h3M135 139.5h3M141 142.5h3M171 145.5h3M204 145.5h6M117 148.5h3M144 148.5h3M171 148.5h3M144 151.5h3M15 154.5h3M144 154.5h3M222 154.5h3M21 157.5h3M27 157.5h3M225 157.5h3M9 160.5h3M204 160.5h3M228 160.5h3M207 163.5h3M258 163.5h3M0 166.5h3M6 166.5h3M249 166.5h3M3 169.5h3M159 172.5h3M96 175.5h3M159 175.5h3M96 178.5h3M126 178.5h3M150 178.5h6M0 181.5h3M129 181.5h3M3 184.5h3M183 187.5h3M189 187.5h3M216 187.5h3M0 190.5h6M162 190.5h3M0 193.5h6M156 193.5h3M198 193.5h3M3 196.5h3M81 196.5h3M87 196.5h3M153 196.5h3M204 196.5h3M78 199.5h3M222 199.5h3M276 199.5h6M72 202.5h3M207 202.5h3M216 202.5h6M63 211.5h3M63 214.5h3M87 214.5h3M81 217.5h3M252 217.5h3M57 220.5h6M81 220.5h3M207 220.5h3M249 220.5h3M255 220.5h3"/><path stroke="#cfcfff" d="M279 64.5h3M261 67.5h3M273 67.5h3M141 76.5h6M138 79.5h9M204 79.5h3M219 79.5h3M249 79.5h3M132 82.5h3M141 82.5h3M201 82.5h3M225 82.5h3M120 85.5h3M144 85.5h3M153 85.5h3M114 88.5h3M195 88.5h3M237 88.5h3M102 91.5h3M183 91.5h3M96 94.5h3M96 100.5h3M99 106.5h3M237 106.5h3M243 106.5h3M78 109.5h3M231 109.5h3M273 109.5h6M63 112.5h3M231 112.5h3M279 112.5h3M81 115.5h3M231 115.5h3M246 115.5h3M84 118.5h3M102 118.5h3M246 118.5h3M87 121.5h3M102 121.5h3M63 124.5h9M93 124.5h3M231 124.5h6M243 124.5h3M258 124.5h3M66 127.5h3M99 127.5h3M234 127.5h3M258 127.5h3M99 130.5h6M225 130.5h3M258 130.5h3M99 133.5h3M231 133.5h3M105 136.5h3M51 139.5h3M102 139.5h3M117 139.5h6M138 139.5h3M99 142.5h6M117 142.5h3M198 142.5h6M258 142.5h3M99 145.5h6M177 145.5h3M198 145.5h3M210 145.5h3M258 145.5h3M102 148.5h3M168 148.5h3M177 148.5h6M258 148.5h3M45 151.5h3M102 151.5h3M174 151.5h3M201 151.5h3M219 151.5h3M114 160.5h3M105 163.5h6M117 163.5h3M204 163.5h3M252 163.5h3M9 166.5h3M108 166.5h3M153 166.5h6M201 166.5h9M237 166.5h3M246 166.5h3M102 169.5h6M123 169.5h3M201 169.5h3M87 172.5h3M99 172.5h3M123 172.5h3M213 172.5h3M6 175.5h3M99 175.5h3M123 175.5h3M6 178.5h3M99 178.5h3M159 178.5h3M6 181.5h3M87 184.5h3M93 184.5h3M132 184.5h3M141 184.5h3M183 184.5h3M87 187.5h3M165 187.5h3M174 187.5h3M180 187.5h3M213 187.5h3M87 190.5h3M159 190.5h3M195 190.5h3M213 190.5h3M6 193.5h3M153 193.5h3M204 193.5h3M213 193.5h3M6 196.5h3M207 196.5h9M150 199.5h3M210 199.5h6M48 202.5h6M93 202.5h3M150 202.5h3M48 205.5h6M51 208.5h3M60 211.5h3M96 211.5h9M57 214.5h6M93 214.5h3M84 217.5h3M90 217.5h6M84 220.5h3"/><path stroke="#ffffff" d="M258 67.5h3M138 73.5h3M147 76.5h3M207 76.5h3M129 79.5h3M201 79.5h3M222 79.5h3M123 82.5h3M150 82.5h9M198 82.5h3M159 85.5h3M195 85.5h3M105 88.5h3M96 91.5h3M90 94.5h3M90 103.5h6M66 106.5h3M81 106.5h3M96 106.5h3M237 109.5h3M99 112.5h3M234 112.5h3M240 112.5h3M267 112.5h3M84 115.5h3M99 115.5h3M234 115.5h3M240 115.5h3M279 115.5h3M87 118.5h3M99 118.5h3M93 121.5h6M237 121.5h6M60 127.5h3M228 127.5h3M264 127.5h3M57 130.5h3M264 130.5h3M45 133.5h6M261 133.5h3M279 133.5h3M48 136.5h3M261 142.5h3M48 145.5h3M120 145.5h3M261 145.5h3M42 151.5h3M117 151.5h3M18 154.5h3M33 154.5h6M117 154.5h3M216 154.5h6M24 157.5h3M117 157.5h3M117 160.5h3M6 163.5h3M120 163.5h3M147 163.5h3M210 163.5h3M231 163.5h3M261 163.5h3M3 166.5h3M123 166.5h3M213 166.5h3M234 166.5h3M258 166.5h6M150 169.5h9M216 169.5h3M240 169.5h6M216 172.5h3M90 175.5h6M126 175.5h3M90 178.5h6M147 178.5h3M213 178.5h3M225 178.5h6M90 181.5h6M132 181.5h3M213 181.5h3M0 184.5h3M237 184.5h3M0 187.5h6M186 187.5h3M165 190.5h15M192 190.5h3M219 190.5h3M84 196.5h3M201 196.5h3M219 196.5h3M87 199.5h3M204 199.5h3M273 199.5h3M90 202.5h3M222 202.5h3M273 202.5h9M69 205.5h3M93 205.5h3M66 208.5h3M93 208.5h3M84 214.5h3M153 214.5h3M66 217.5h3M171 217.5h3M249 217.5h3M66 220.5h3M168 220.5h3M174 220.5h3M210 220.5h3M225 220.5h3"/><path stroke="#afafff" d="M264 67.5h3M252 73.5h3M210 79.5h9M249 82.5h3M126 85.5h3M117 88.5h3M144 88.5h3M150 88.5h9M246 88.5h3M108 91.5h3M192 91.5h3M240 91.5h6M162 94.5h9M177 94.5h3M99 103.5h3M237 103.5h3M243 103.5h3M102 106.5h3M231 106.5h3M69 109.5h9M270 109.5h3M279 109.5h3M66 112.5h3M75 112.5h3M246 112.5h3M66 115.5h3M75 115.5h6M66 118.5h9M249 118.5h3M258 118.5h3M75 121.5h3M84 121.5h3M249 121.5h9M90 124.5h3M222 124.5h3M246 124.5h3M252 124.5h3M69 127.5h3M93 127.5h3M222 127.5h3M240 127.5h6M255 127.5h3M96 130.5h3M105 130.5h3M255 130.5h3M234 133.5h3M255 133.5h3M108 136.5h6M117 136.5h3M132 136.5h3M108 139.5h3M201 139.5h3M111 142.5h3M144 142.5h3M168 142.5h3M177 142.5h3M195 142.5h3M207 142.5h3M186 145.5h3M195 145.5h3M147 148.5h3M186 148.5h3M216 148.5h3M105 151.5h3M114 151.5h3M147 151.5h3M183 151.5h3M42 154.5h3M99 154.5h9M114 154.5h3M147 154.5h3M171 154.5h3M36 157.5h3M105 157.5h3M21 160.5h6M102 160.5h3M150 160.5h3M255 160.5h3M12 163.5h3M153 163.5h3M249 163.5h3M93 166.5h9M111 166.5h3M117 166.5h3M159 166.5h3M198 166.5h3M240 166.5h6M81 169.5h3M108 169.5h3M120 169.5h3M207 169.5h3M84 172.5h3M105 172.5h3M162 172.5h3M210 172.5h3M9 175.5h3M102 175.5h3M210 175.5h3M123 178.5h3M162 178.5h3M84 181.5h3M183 181.5h3M189 181.5h3M84 184.5h3M129 184.5h3M144 184.5h3M153 184.5h3M180 184.5h3M210 184.5h3M84 187.5h3M150 187.5h15M90 190.5h3M147 190.5h6M204 190.5h3M210 190.5h3M90 193.5h3M45 199.5h3M0 202.5h3M45 202.5h3M54 202.5h3M45 205.5h3M54 205.5h3M66 205.5h3M45 208.5h3M54 208.5h9M102 208.5h3M42 211.5h3M105 211.5h3M150 211.5h3M39 214.5h3M48 214.5h6M99 214.5h3M105 214.5h3M39 217.5h3M45 217.5h3M96 217.5h3M87 220.5h3M96 220.5h3"/><path stroke="#9f9fff" d="M267 67.5h3M279 67.5h3M129 85.5h3M138 85.5h3M201 85.5h3M228 85.5h3M120 88.5h3M234 88.5h3M111 91.5h3M156 91.5h3M195 91.5h3M102 94.5h6M159 94.5h3M240 94.5h6M99 97.5h3M240 97.5h3M99 100.5h3M237 100.5h6M234 103.5h3M228 109.5h3M246 109.5h3M267 109.5h3M69 112.5h6M228 112.5h3M69 115.5h6M249 115.5h3M258 115.5h3M75 118.5h9M228 118.5h3M252 118.5h6M81 121.5h3M105 121.5h3M222 121.5h3M75 124.5h3M84 124.5h6M249 124.5h3M72 127.5h3M246 127.5h3M252 127.5h3M66 130.5h3M237 130.5h3M60 133.5h3M96 133.5h3M108 133.5h3M225 133.5h3M54 136.5h3M96 136.5h3M120 136.5h12M135 136.5h3M198 136.5h6M255 136.5h3M96 139.5h3M141 139.5h3M195 139.5h3M255 139.5h3M96 142.5h3M108 142.5h3M180 142.5h6M51 145.5h3M96 145.5h3M108 145.5h6M147 145.5h3M165 145.5h3M189 145.5h6M96 148.5h3M108 148.5h6M165 148.5h3M189 148.5h3M195 148.5h3M219 148.5h3M255 148.5h3M48 151.5h3M96 151.5h3M198 151.5h3M225 151.5h3M255 151.5h3M168 154.5h3M174 154.5h3M255 154.5h3M99 157.5h6M108 157.5h6M198 157.5h3M255 157.5h3M15 160.5h6M27 160.5h3M99 160.5h3M198 160.5h3M96 163.5h6M156 163.5h3M198 163.5h3M246 163.5h3M12 166.5h3M81 166.5h12M114 166.5h3M12 169.5h3M111 169.5h3M117 169.5h3M162 169.5h3M81 172.5h3M120 172.5h3M198 172.5h6M84 175.5h3M9 178.5h3M84 178.5h3M186 178.5h3M9 181.5h3M99 181.5h3M159 181.5h3M9 184.5h3M96 184.5h3M147 184.5h6M156 184.5h3M168 184.5h12M9 187.5h3M141 187.5h9M210 187.5h3M9 190.5h3M207 190.5h3M147 193.5h3M45 196.5h9M147 196.5h3M42 199.5h3M54 199.5h3M93 199.5h3M6 202.5h3M69 202.5h3M39 211.5h3M150 214.5h3M51 217.5h3M45 220.5h3"/><path stroke="#bfbfff" d="M270 67.5h3M276 67.5h3M255 70.5h3M207 79.5h3M135 82.5h6M123 85.5h3M141 85.5h3M147 88.5h3M198 88.5h3M105 91.5h3M159 91.5h3M186 91.5h6M99 94.5h3M171 94.5h6M96 97.5h3M240 103.5h3M234 106.5h3M66 109.5h3M102 109.5h3M78 112.5h3M102 112.5h3M261 112.5h3M63 115.5h3M102 115.5h3M63 118.5h3M231 118.5h3M63 121.5h12M225 121.5h9M246 121.5h3M258 121.5h3M72 124.5h3M102 124.5h3M255 124.5h3M96 127.5h3M102 127.5h3M237 127.5h3M63 130.5h3M234 130.5h3M57 133.5h3M105 133.5h3M228 133.5h3M99 136.5h3M114 136.5h3M99 139.5h3M105 139.5h3M111 139.5h6M198 139.5h3M51 142.5h3M105 142.5h3M114 142.5h3M171 142.5h6M204 142.5h3M105 145.5h3M114 145.5h3M180 145.5h6M99 148.5h3M105 148.5h3M114 148.5h3M183 148.5h3M198 148.5h3M99 151.5h3M168 151.5h3M177 151.5h6M222 151.5h3M201 154.5h3M225 154.5h3M15 157.5h6M33 157.5h3M114 157.5h3M147 157.5h3M201 157.5h3M228 157.5h3M12 160.5h3M105 160.5h9M201 160.5h3M231 160.5h3M102 163.5h3M111 163.5h6M150 163.5h3M201 163.5h3M234 163.5h3M102 166.5h3M120 166.5h3M9 169.5h3M84 169.5h18M198 169.5h3M204 169.5h3M210 169.5h3M9 172.5h3M102 172.5h3M162 175.5h3M210 178.5h3M126 181.5h3M147 181.5h12M186 181.5h3M210 181.5h3M189 184.5h3M90 187.5h3M177 187.5h3M192 187.5h3M84 190.5h3M153 190.5h6M198 190.5h6M81 193.5h3M150 193.5h3M207 193.5h6M78 196.5h3M90 196.5h3M150 196.5h3M6 199.5h3M48 199.5h6M75 199.5h3M3 202.5h3M96 205.5h3M150 205.5h3M48 208.5h3M99 208.5h3M150 208.5h3M45 211.5h15M42 214.5h6M54 214.5h3M96 214.5h3M102 214.5h3M42 217.5h3M54 217.5h3M87 217.5h3M39 220.5h6M54 220.5h3M90 220.5h6M153 220.5h3"/><path stroke="#6f6fff" d="M258 70.5h3M273 70.5h6M207 82.5h3M219 82.5h3M225 85.5h3M126 88.5h3M138 88.5h3M231 88.5h3M249 88.5h3M120 91.5h3M234 91.5h3M147 94.5h3M183 94.5h6M192 94.5h6M234 94.5h3M246 94.5h3M153 97.5h6M165 97.5h3M108 100.5h3M231 100.5h3M225 103.5h3M246 103.5h3M225 106.5h3M270 106.5h3M225 109.5h3M261 109.5h3M225 112.5h3M225 115.5h3M219 121.5h3M108 124.5h3M78 127.5h12M72 130.5h3M90 130.5h3M111 130.5h6M90 133.5h3M120 133.5h3M201 133.5h3M249 133.5h3M90 136.5h3M225 136.5h3M234 136.5h3M252 136.5h3M147 139.5h3M180 139.5h6M192 139.5h3M150 142.5h3M162 145.5h3M216 145.5h3M93 148.5h3M162 148.5h3M51 151.5h3M93 151.5h3M162 151.5h3M228 151.5h3M252 151.5h3M93 154.5h3M162 154.5h3M186 154.5h3M195 154.5h3M252 154.5h3M93 157.5h3M153 157.5h3M165 157.5h6M174 157.5h3M195 157.5h3M246 157.5h6M36 160.5h3M159 160.5h3M237 160.5h6M24 163.5h3M81 163.5h9M162 163.5h3M18 166.5h3M15 169.5h3M75 169.5h3M192 169.5h3M192 172.5h3M81 175.5h3M165 175.5h3M186 175.5h6M204 175.5h3M12 178.5h3M165 178.5h3M180 178.5h3M195 178.5h12M123 181.5h3M165 181.5h6M174 181.5h6M195 181.5h9M99 184.5h3M195 184.5h6M81 187.5h3M93 190.5h3M42 193.5h12M93 193.5h3M144 196.5h3M36 199.5h3M9 202.5h3M36 202.5h3M57 202.5h3M36 205.5h3M102 205.5h3M0 208.5h6M36 208.5h3M36 211.5h3M108 211.5h3M108 217.5h3M102 220.5h6"/><path stroke="#4f4fff" d="M261 70.5h3M252 79.5h3M129 88.5h6M123 91.5h3M117 94.5h3M144 94.5h3M177 97.5h3M228 97.5h3M153 100.5h3M162 100.5h3M225 100.5h3M273 103.5h6M222 106.5h3M249 106.5h3M264 106.5h3M108 109.5h3M222 109.5h3M108 112.5h3M222 112.5h3M219 115.5h6M108 118.5h3M216 118.5h3M111 124.5h3M111 127.5h6M219 127.5h3M75 130.5h3M84 130.5h6M198 130.5h6M69 133.5h3M87 133.5h3M123 133.5h12M204 133.5h3M243 133.5h3M60 136.5h3M168 136.5h3M207 136.5h3M222 136.5h3M249 136.5h3M210 139.5h3M222 139.5h12M153 142.5h3M222 142.5h6M252 142.5h3M54 145.5h3M90 145.5h3M153 145.5h3M90 148.5h3M156 148.5h6M90 151.5h3M156 151.5h3M231 151.5h3M90 154.5h3M156 154.5h3M90 157.5h3M186 157.5h6M237 157.5h6M39 160.5h3M84 160.5h6M165 160.5h9M33 163.5h3M78 163.5h3M21 166.5h3M165 169.5h3M75 172.5h3M189 172.5h3M15 175.5h3M78 175.5h3M111 175.5h3M117 175.5h3M105 178.5h3M120 178.5h3M177 178.5h3M12 190.5h3M12 193.5h3M39 193.5h3M36 196.5h3M72 196.5h3M60 202.5h6M99 202.5h3M144 202.5h3M9 205.5h3M105 205.5h3M0 211.5h6M129 211.5h6M129 214.5h6M129 217.5h3M147 217.5h3M108 220.5h3M129 220.5h3M147 220.5h3"/><path stroke="#3f3fff" d="M264 70.5h6M252 82.5h3M222 85.5h3M204 88.5h3M228 88.5h3M138 91.5h3M231 91.5h3M249 91.5h3M231 94.5h3M147 97.5h3M180 97.5h3M192 97.5h6M111 100.5h3M156 103.5h6M222 103.5h3M270 103.5h3M279 103.5h3M252 109.5h3M258 109.5h3M108 115.5h3M210 115.5h9M213 118.5h3M111 121.5h3M216 121.5h3M78 130.5h6M120 130.5h3M195 130.5h3M72 133.5h3M135 133.5h3M192 133.5h3M87 136.5h3M144 136.5h9M165 136.5h3M177 136.5h3M189 136.5h3M237 136.5h3M57 139.5h3M87 139.5h3M153 139.5h3M162 139.5h3M219 139.5h3M87 142.5h3M156 142.5h6M216 142.5h6M228 142.5h3M156 145.5h6M228 145.5h3M54 148.5h3M249 151.5h3M51 154.5h3M234 154.5h3M246 154.5h3M45 157.5h3M87 157.5h3M81 160.5h3M174 160.5h3M189 160.5h3M75 163.5h3M165 163.5h3M189 163.5h3M24 166.5h3M165 166.5h3M189 166.5h3M21 169.5h3M72 169.5h3M189 169.5h3M18 172.5h3M186 172.5h3M114 175.5h3M180 175.5h3M168 178.5h3M126 187.5h3M42 190.5h12M132 190.5h6M12 196.5h3M57 196.5h3M96 196.5h3M141 196.5h3M12 199.5h3M33 199.5h3M33 202.5h3M33 205.5h3M9 208.5h3M33 208.5h3M132 208.5h3M6 211.5h3M33 211.5h3M0 214.5h3M33 214.5h3M111 214.5h3M135 214.5h3M33 217.5h3M135 217.5h3M33 220.5h3M135 220.5h3"/><path stroke="#5f5fff" d="M270 70.5h3M279 70.5h3M255 73.5h3M210 82.5h9M204 85.5h3M135 88.5h3M141 91.5h3M201 91.5h3M114 94.5h3M198 94.5h3M111 97.5h3M150 97.5h3M168 97.5h9M231 97.5h3M246 97.5h3M156 100.5h6M228 100.5h3M246 100.5h3M108 103.5h3M108 106.5h3M267 106.5h3M249 109.5h3M252 112.5h6M219 118.5h3M108 121.5h3M219 124.5h3M108 127.5h3M117 130.5h3M66 133.5h3M195 133.5h3M222 133.5h3M240 133.5h3M246 133.5h3M141 136.5h3M171 136.5h6M192 136.5h3M90 139.5h3M150 139.5h3M165 139.5h3M186 139.5h6M252 139.5h3M54 142.5h3M90 142.5h3M162 142.5h3M213 142.5h3M219 145.5h9M252 145.5h3M153 148.5h3M228 148.5h3M252 148.5h3M153 151.5h3M159 151.5h3M48 154.5h3M153 154.5h3M159 154.5h3M189 154.5h6M231 154.5h3M249 154.5h3M42 157.5h3M156 157.5h9M177 157.5h9M192 157.5h3M234 157.5h3M243 157.5h3M90 160.5h3M162 160.5h3M192 160.5h3M27 163.5h6M192 163.5h3M75 166.5h3M192 166.5h3M18 169.5h3M15 172.5h3M165 172.5h3M108 175.5h3M183 175.5h3M81 178.5h3M12 181.5h3M81 181.5h3M102 181.5h3M171 181.5h3M12 184.5h3M81 184.5h3M12 187.5h3M96 187.5h3M129 187.5h3M78 190.5h3M138 190.5h3M54 193.5h3M75 193.5h3M141 193.5h3M57 199.5h3M69 199.5h3M96 199.5h3M144 199.5h3M66 202.5h3M147 205.5h3M6 208.5h3M108 208.5h3M147 208.5h3M147 211.5h3M147 214.5h3M132 217.5h3M132 220.5h3"/><path stroke="#dfdfff" d="M141 73.5h3M138 76.5h3M135 79.5h3M129 82.5h3M144 82.5h3M147 85.5h6M156 85.5h3M198 85.5h3M231 85.5h3M246 85.5h3M111 88.5h3M159 88.5h3M192 88.5h3M240 88.5h6M99 91.5h3M162 91.5h3M93 97.5h3M93 100.5h3M96 103.5h3M69 106.5h9M240 106.5h3M63 109.5h3M243 109.5h3M81 112.5h3M243 112.5h3M261 115.5h3M60 118.5h3M261 118.5h3M60 121.5h3M90 121.5h3M234 121.5h3M243 121.5h3M96 124.5h6M225 124.5h6M237 124.5h6M63 127.5h3M231 127.5h3M261 127.5h3M60 130.5h3M261 130.5h3M54 133.5h3M102 133.5h3M258 133.5h3M51 136.5h3M102 136.5h3M258 136.5h3M123 139.5h3M258 139.5h3M120 142.5h3M117 145.5h3M144 145.5h3M168 145.5h3M174 145.5h3M201 145.5h3M48 148.5h3M174 148.5h3M201 148.5h3M213 148.5h3M171 151.5h3M216 151.5h3M258 151.5h3M39 154.5h3M258 154.5h3M12 157.5h3M30 157.5h3M258 157.5h3M147 160.5h3M258 160.5h3M9 163.5h3M255 163.5h3M105 166.5h3M150 166.5h3M210 166.5h3M0 169.5h3M6 169.5h3M159 169.5h3M213 169.5h3M0 172.5h9M90 172.5h9M0 175.5h6M87 175.5h3M213 175.5h3M0 178.5h6M87 178.5h3M156 178.5h3M3 181.5h3M87 181.5h3M96 181.5h3M144 181.5h3M6 184.5h3M90 184.5h3M135 184.5h6M186 184.5h3M213 184.5h3M6 187.5h3M168 187.5h6M6 190.5h3M216 190.5h3M84 193.5h6M201 193.5h3M216 193.5h3M0 196.5h3M216 196.5h3M0 199.5h6M90 199.5h3M207 199.5h3M216 199.5h6M210 202.5h6M63 208.5h3M96 208.5h3M93 211.5h3M90 214.5h3M57 217.5h9M153 217.5h3M63 220.5h3M171 220.5h3M252 220.5h3"/><path stroke="#1f1fff" d="M258 73.5h3M255 76.5h3M210 85.5h3M219 85.5h3M225 88.5h3M252 88.5h3M129 91.5h6M204 91.5h3M228 91.5h3M141 94.5h3M249 94.5h3M144 97.5h3M249 97.5h3M270 97.5h6M168 100.5h3M249 100.5h3M267 100.5h3M276 100.5h3M153 103.5h3M219 103.5h3M264 103.5h3M111 106.5h3M156 106.5h6M252 106.5h3M213 109.5h6M207 115.5h3M111 118.5h3M207 118.5h3M210 121.5h6M216 124.5h3M198 127.5h6M123 130.5h3M192 130.5h3M78 133.5h6M141 133.5h3M168 133.5h3M174 133.5h3M189 133.5h3M207 133.5h3M66 136.5h3M84 136.5h3M156 136.5h9M210 136.5h3M240 136.5h6M60 139.5h3M84 139.5h3M57 142.5h3M84 142.5h3M231 142.5h3M249 142.5h3M231 145.5h3M249 145.5h3M54 151.5h3M246 151.5h3M84 154.5h3M48 157.5h3M81 157.5h3M39 163.5h3M72 163.5h3M171 163.5h3M180 163.5h9M30 166.5h6M168 166.5h3M186 166.5h3M24 169.5h3M21 172.5h3M168 172.5h3M18 175.5h3M177 175.5h3M117 178.5h3M15 181.5h3M120 181.5h3M15 184.5h3M15 187.5h3M15 190.5h3M57 190.5h3M129 190.5h3M15 193.5h3M135 193.5h3M15 196.5h3M60 196.5h3M138 196.5h3M63 199.5h3M99 199.5h3M12 205.5h3M132 205.5h12M111 208.5h3M126 208.5h3M138 208.5h6M30 211.5h3M138 211.5h6M9 214.5h3M138 214.5h6M6 217.5h3M6 220.5h3M126 220.5h3"/><path stroke="#0000ff" d="M261 73.5h12M279 73.5h3M258 76.5h24M255 79.5h27M255 82.5h27M255 85.5h27M207 88.5h18M255 88.5h27M207 91.5h21M252 91.5h30M126 94.5h12M204 94.5h21M252 94.5h18M279 94.5h3M120 97.5h24M204 97.5h18M252 97.5h15M279 97.5h3M117 100.5h30M174 100.5h18M198 100.5h21M252 100.5h12M114 103.5h39M168 103.5h51M252 103.5h9M114 106.5h42M165 106.5h51M255 106.5h3M114 109.5h45M162 109.5h48M114 112.5h93M114 115.5h93M114 118.5h93M117 121.5h90M120 124.5h81M204 124.5h12M123 127.5h72M207 127.5h12M129 130.5h60M207 130.5h12M153 133.5h12M180 133.5h6M210 133.5h9M63 139.5h18M240 139.5h6M60 142.5h24M237 142.5h12M57 145.5h27M234 145.5h15M57 148.5h27M237 148.5h12M57 151.5h27M240 151.5h3M57 154.5h24M54 157.5h27M48 160.5h27M42 163.5h30M39 166.5h30M171 166.5h12M27 169.5h42M171 169.5h12M24 172.5h45M171 172.5h9M21 175.5h51M174 175.5h3M18 178.5h60M18 181.5h60M111 181.5h9M18 184.5h60M108 184.5h15M18 187.5h24M57 187.5h21M102 187.5h21M18 190.5h18M60 190.5h12M102 190.5h24M18 193.5h15M63 193.5h6M99 193.5h33M18 196.5h12M99 196.5h39M18 199.5h12M102 199.5h36M15 202.5h15M108 202.5h30M15 205.5h15M114 205.5h15M15 208.5h15M114 208.5h12M15 211.5h15M114 211.5h12M15 214.5h15M114 214.5h9M12 217.5h18M114 217.5h12M15 220.5h15M114 220.5h12"/><path stroke="#0f0fff" d="M273 73.5h6M213 85.5h6M123 94.5h3M138 94.5h3M225 94.5h3M270 94.5h9M117 97.5h3M201 97.5h3M222 97.5h3M267 97.5h3M276 97.5h3M114 100.5h3M147 100.5h3M171 100.5h3M192 100.5h6M219 100.5h3M264 100.5h3M279 100.5h3M165 103.5h3M261 103.5h3M162 106.5h3M216 106.5h3M258 106.5h3M111 109.5h3M159 109.5h3M210 109.5h3M111 112.5h3M207 112.5h3M111 115.5h3M114 121.5h3M207 121.5h3M117 124.5h3M201 124.5h3M120 127.5h3M195 127.5h3M204 127.5h3M126 130.5h3M189 130.5h3M144 133.5h9M165 133.5h3M177 133.5h3M186 133.5h3M69 136.5h15M213 136.5h6M81 139.5h3M237 139.5h3M246 139.5h3M234 142.5h3M84 145.5h3M84 148.5h3M234 148.5h3M84 151.5h3M237 151.5h3M243 151.5h3M54 154.5h3M81 154.5h3M51 157.5h3M45 160.5h3M75 160.5h3M174 163.5h6M36 166.5h3M69 166.5h3M183 166.5h3M69 169.5h3M168 169.5h3M183 169.5h3M69 172.5h3M180 172.5h3M72 175.5h3M171 175.5h3M111 178.5h6M78 181.5h3M108 181.5h3M78 184.5h3M105 184.5h3M42 187.5h15M123 187.5h3M36 190.5h3M72 190.5h3M99 190.5h3M126 190.5h3M33 193.5h3M60 193.5h3M69 193.5h3M132 193.5h3M30 196.5h3M63 196.5h6M15 199.5h3M30 199.5h3M138 199.5h3M30 202.5h3M105 202.5h3M138 202.5h3M30 205.5h3M111 205.5h3M129 205.5h3M12 208.5h3M30 208.5h3M12 211.5h3M12 214.5h3M30 214.5h3M123 214.5h3M9 217.5h3M30 217.5h3M9 220.5h6M30 220.5h3"/><path stroke="#7f7fff" d="M252 76.5h3M123 88.5h3M201 88.5h3M117 91.5h3M144 91.5h3M246 91.5h3M111 94.5h3M150 94.5h6M189 94.5h3M108 97.5h3M159 97.5h6M234 97.5h3M105 100.5h3M105 103.5h3M228 103.5h3M249 112.5h3M258 112.5h3M105 115.5h3M252 115.5h6M222 118.5h3M75 127.5h3M69 130.5h3M108 130.5h3M222 130.5h3M240 130.5h6M249 130.5h3M63 133.5h3M117 133.5h3M198 133.5h3M237 133.5h3M252 133.5h3M57 136.5h3M93 136.5h3M138 136.5h3M195 136.5h3M204 136.5h3M54 139.5h3M93 139.5h3M144 139.5h3M168 139.5h3M177 139.5h3M207 139.5h3M93 142.5h3M165 142.5h3M189 142.5h3M93 145.5h3M150 145.5h3M150 148.5h3M225 148.5h3M150 151.5h3M189 151.5h9M45 154.5h3M111 154.5h3M150 154.5h3M165 154.5h3M183 154.5h3M171 157.5h3M252 157.5h3M33 160.5h3M93 160.5h3M156 160.5h3M195 160.5h3M234 160.5h3M243 160.5h9M18 163.5h6M90 163.5h3M195 163.5h3M240 163.5h3M15 166.5h3M78 166.5h3M162 166.5h3M195 166.5h3M78 172.5h3M111 172.5h9M12 175.5h3M105 175.5h3M192 175.5h12M192 178.5h3M192 181.5h3M204 181.5h3M126 184.5h3M201 184.5h9M132 187.5h3M141 190.5h3M39 196.5h3M54 196.5h3M93 196.5h3M9 199.5h3M39 202.5h3M147 202.5h3M6 205.5h3M39 205.5h6M60 205.5h3M39 208.5h3M36 214.5h3M108 214.5h3M36 217.5h3M36 220.5h3M48 220.5h6M99 220.5h3M150 220.5h3"/><path stroke="#8f8fff" d="M204 82.5h3M222 82.5h3M132 85.5h6M249 85.5h3M141 88.5h3M114 91.5h3M147 91.5h9M198 91.5h3M237 91.5h3M108 94.5h3M156 94.5h3M180 94.5h3M237 94.5h3M102 97.5h6M237 97.5h3M243 97.5h3M102 100.5h3M234 100.5h3M243 100.5h3M102 103.5h3M231 103.5h3M105 106.5h3M228 106.5h3M246 106.5h3M273 106.5h9M105 109.5h3M264 109.5h3M105 112.5h3M228 115.5h3M105 118.5h3M225 118.5h3M78 121.5h3M78 124.5h6M105 124.5h3M90 127.5h3M105 127.5h3M249 127.5h3M93 130.5h3M246 130.5h3M252 130.5h3M93 133.5h3M111 133.5h6M228 136.5h6M171 139.5h6M204 139.5h3M147 142.5h3M186 142.5h3M192 142.5h3M210 142.5h3M255 142.5h3M213 145.5h3M255 145.5h3M51 148.5h3M192 148.5h3M222 148.5h3M108 151.5h6M165 151.5h3M186 151.5h3M96 154.5h3M108 154.5h3M177 154.5h6M198 154.5h3M228 154.5h3M39 157.5h3M96 157.5h3M150 157.5h3M231 157.5h3M30 160.5h3M96 160.5h3M153 160.5h3M252 160.5h3M15 163.5h3M93 163.5h3M159 163.5h3M237 163.5h3M243 163.5h3M78 169.5h3M114 169.5h3M195 169.5h3M12 172.5h3M108 172.5h3M195 172.5h3M204 172.5h6M120 175.5h3M207 175.5h3M102 178.5h3M183 178.5h3M189 178.5h3M207 178.5h3M162 181.5h3M180 181.5h3M207 181.5h3M159 184.5h9M192 184.5h3M93 187.5h3M135 187.5h6M195 187.5h15M81 190.5h3M144 190.5h3M9 193.5h3M78 193.5h3M144 193.5h3M9 196.5h3M42 196.5h3M75 196.5h3M39 199.5h3M72 199.5h3M147 199.5h3M42 202.5h3M96 202.5h3M0 205.5h6M57 205.5h3M63 205.5h3M99 205.5h3M42 208.5h3M105 208.5h3M48 217.5h3M99 217.5h9M150 217.5h3"/><path stroke="#2f2fff" d="M207 85.5h3M252 85.5h3M126 91.5h3M135 91.5h3M120 94.5h3M201 94.5h3M228 94.5h3M114 97.5h3M183 97.5h9M198 97.5h3M225 97.5h3M150 100.5h3M165 100.5h3M222 100.5h3M270 100.5h6M111 103.5h3M162 103.5h3M249 103.5h3M267 103.5h3M219 106.5h3M261 106.5h3M219 109.5h3M255 109.5h3M210 112.5h12M210 118.5h3M114 124.5h3M117 127.5h3M204 130.5h3M219 130.5h3M75 133.5h3M84 133.5h3M138 133.5h3M171 133.5h3M219 133.5h3M63 136.5h3M153 136.5h3M180 136.5h9M219 136.5h3M246 136.5h3M156 139.5h6M213 139.5h6M234 139.5h3M249 139.5h3M87 145.5h3M87 148.5h3M231 148.5h3M249 148.5h3M87 151.5h3M234 151.5h3M87 154.5h3M237 154.5h9M84 157.5h3M42 160.5h3M78 160.5h3M177 160.5h12M36 163.5h3M168 163.5h3M27 166.5h3M72 166.5h3M186 169.5h3M72 172.5h3M183 172.5h3M75 175.5h3M168 175.5h3M15 178.5h3M78 178.5h3M108 178.5h3M171 178.5h6M105 181.5h3M102 184.5h3M123 184.5h3M78 187.5h3M99 187.5h3M39 190.5h3M54 190.5h3M75 190.5h3M96 190.5h3M36 193.5h3M57 193.5h3M72 193.5h3M96 193.5h3M138 193.5h3M33 196.5h3M69 196.5h3M60 199.5h3M66 199.5h3M141 199.5h3M12 202.5h3M102 202.5h3M141 202.5h3M108 205.5h3M144 205.5h3M129 208.5h3M135 208.5h3M144 208.5h3M9 211.5h3M111 211.5h3M126 211.5h3M135 211.5h3M144 211.5h3M3 214.5h6M126 214.5h3M144 214.5h3M0 217.5h6M111 217.5h3M126 217.5h3M138 217.5h9M0 220.5h6M111 220.5h3M138 220.5h9"/></g></g></g><path d="M225.2 218.5V211.5L229 210L233 208L236 206.5L238.2 207L238.8 211L242 214L244 209L247 214.5L249 218.5ZM253 218.5L256.3 215L261 215.5L265 218.5Z" fill="#fff"/><path d="M-1.0 156.0 L4.6 151.8 L14.0 140.1 L25.8 131.4 L37.5 119.7 L46.2 116.8 L50.6 109.5 L59.4 100.7 L63.7 93.4 L72.5 87.6 L81.3 81.7 L86.1 79.0 L94.2 72.5 L96.6 66.1 L97.4 61.3 L95.8 56.5 L90.2 54.0 L91.0 50.9 L95.8 49.3 L105.4 48.5 L108.6 50.1 L109.4 46.8 L118.3 42.0 L124.7 39.6 L129.0 38.5 L135.3 36.5 L139.6 34.3 L146.9 31.4 L150.6 28.5 L155.7 24.8 L158.6 26.3 L161.5 29.2 L165.9 30.0 L173.2 29.2 L180.5 29.2 L186.4 30.4 M186.4 30.4 L177.6 32.1 L171.8 35.1 L170.3 39.4 L174.7 46.7 L182.0 52.6 L186.4 57.0 L187.1 61.3 L184.9 65.7 L184.2 70.0 L187.2 73.0 L186.4 76.0 L184.4 82.2 L178.2 83.2 L170.1 85.2 L163.9 89.3 L168.0 92.4 L169.1 96.5 L163.9 100.6 L161.9 104.7 L161.9 113.9 M179.1 33.6 L177.6 36.5 L180.5 42.4 L187.8 47.5 L198.0 49.7 L202.4 46.0 L208.3 42.4 L215.6 39.4 L222.9 36.5 L229.8 38.6 L240.0 40.6 L252.1 41.6 L264.3 40.6 L278.0 37.5 M209.7 206.8 L213.3 210.4 L215.7 215.2 L215.1 218.5 M215.7 215.8 L225.2 214.0 L225.2 210.4 L228.8 209.2 L232.4 206.8 L236.0 205.0 L238.4 205.6 L239.0 210.4 L242.0 212.8 L243.8 206.2 L245.6 210.4 L248.0 214.0 L249.2 218.5 M252.8 218.5 L256.3 214.0 L261.1 214.6 L265.9 218.5 M269.5 218.5 L273.1 214.0 L275.5 205.6 L277.5 203.0 M11.7 218.0 L10.7 210.5 L13.7 204.4 L19.8 196.3 L21.8 188.1 L25.9 178.0 L23.9 175.0 L29.9 169.9 L38.1 163.8 L38.1 158.7 L42.1 158.7 L46.2 161.8 L50.2 158.7 L58.3 161.8 L64.4 156.7 L68.5 158.7 L78.6 158.7 L86.8 155.7 L94.9 152.6 L101.0 150.6 L99.0 145.5 L92.8 141.5 L99.0 135.4 L102.6 129.2 L108.8 125.1 L112.8 119.0 L119.0 112.8 L127.2 107.7 L131.2 109.8 L137.4 111.8 L141.5 108.7 L145.5 110.8 L151.7 112.8 L155.8 111.8 L161.9 113.9 L170.1 113.9 L178.2 114.9 M178.2 114.9 L184.4 121.0 L186.4 127.1 L184.4 137.4 L186.4 145.5 L189.5 154.0 L193.3 159.7 L192.3 169.9 L197.3 182.0 L196.3 190.2 L201.4 198.3 L204.5 206.4 L204.5 219.0 M178.2 114.9 L182.3 110.8 L186.4 108.7 L192.5 106.7 L198.7 102.6 L201.8 96.5 L206.9 94.4 L214.0 92.4 L215.0 86.3 L219.1 82.2 L221.2 76.0 L223.7 69.0 L233.9 70.0 L240.0 71.0 L248.1 74.0 L254.2 79.1 L256.2 83.2 L260.3 80.2 L264.3 75.0 L270.4 71.0 L278.5 67.0" stroke="#222" stroke-width="0.6" fill="none" stroke-linejoin="round"/><rect x="0" y="0" width="277" height="218" fill="none" stroke="#8c8c8c" stroke-width="1"/><path d="M5.5 0v2.5M5.5 218v-2.5M32.9 0v2.5M32.9 218v-2.5M60.3 0v2.5M60.3 218v-2.5M87.7 0v2.5M87.7 218v-2.5M115.1 0v2.5M115.1 218v-2.5M142.5 0v2.5M142.5 218v-2.5M169.9 0v2.5M169.9 218v-2.5M197.3 0v2.5M197.3 218v-2.5M224.7 0v2.5M224.7 218v-2.5M252.1 0v2.5M252.1 218v-2.5M0 25.5h2.5M277 25.5h-2.5M0 58.8h2.5M277 58.8h-2.5M0 92.1h2.5M277 92.1h-2.5M0 125.4h2.5M277 125.4h-2.5M0 158.7h2.5M277 158.7h-2.5M0 192.0h2.5M277 192.0h-2.5" stroke="#666" stroke-width="0.8" fill="none"/><text x="-4.4" y="28.8" font-size="9.8" text-anchor="end" textLength="16.2" lengthAdjust="spacingAndGlyphs">35.6</text><text x="-4.4" y="62.1" font-size="9.8" text-anchor="end" textLength="16.2" lengthAdjust="spacingAndGlyphs">35.4</text><text x="-4.4" y="95.4" font-size="9.8" text-anchor="end" textLength="16.2" lengthAdjust="spacingAndGlyphs">35.2</text><text x="-4.4" y="128.7" font-size="9.8" text-anchor="end" textLength="9.2" lengthAdjust="spacingAndGlyphs">35</text><text x="-4.4" y="162.0" font-size="9.8" text-anchor="end" textLength="16.2" lengthAdjust="spacingAndGlyphs">34.8</text><text x="-4.4" y="195.3" font-size="9.8" text-anchor="end" textLength="16.2" lengthAdjust="spacingAndGlyphs">34.6</text><text x="0" y="0" font-size="10.5" text-anchor="middle" textLength="37.5" lengthAdjust="spacingAndGlyphs" transform="translate(-25.8,108.5) rotate(-90)">Latitude</text><text x="4.8" y="-5.0" font-size="16.5" font-weight="bold">e</text><text x="19.8" y="-2.9" font-size="14.2" textLength="49.0" lengthAdjust="spacingAndGlyphs">0.5 km</text><path d="M183.7 13.0v-4.8h75.8v4.8" stroke="#666" stroke-width="0.8" fill="none"/><text x="221" y="19.7" font-size="12" text-anchor="middle" textLength="31.6" lengthAdjust="spacingAndGlyphs">50 km</text></g><g transform="translate(331.5,526.4)"><g clip-path="url(#mk)"><g filter="url(#bl)"><g stroke-width="3.3" fill="none"><path stroke="#ff3f3f" d="M0 1.5h3M18 1.5h3M33 1.5h9M45 1.5h3M54 1.5h3M72 1.5h6M132 1.5h3M156 1.5h6M0 4.5h6M18 4.5h3M30 4.5h12M48 4.5h3M54 4.5h3M132 4.5h3M3 7.5h3M18 7.5h24M48 7.5h3M57 7.5h6M3 10.5h6M15 10.5h36M63 10.5h3M135 10.5h6M0 13.5h9M27 13.5h24M63 13.5h3M138 13.5h9M0 16.5h6M30 16.5h9M60 16.5h3M144 16.5h3M0 19.5h6M33 19.5h6M60 19.5h3M3 22.5h6M18 22.5h6M33 22.5h9M60 22.5h3M144 22.5h3M0 25.5h9M15 25.5h12M33 25.5h9M63 25.5h12M138 25.5h6M192 25.5h6M3 28.5h6M15 28.5h6M24 28.5h3M36 28.5h3M75 28.5h3M192 28.5h6M15 31.5h15M36 31.5h18M63 31.5h6M78 31.5h6M192 31.5h3M21 34.5h6M33 34.5h6M54 34.5h3M60 34.5h9M81 34.5h6M138 34.5h3M189 34.5h3M195 34.5h3M27 37.5h6M54 37.5h3M60 37.5h6M84 37.5h3M183 37.5h3M204 37.5h3M27 40.5h3M54 40.5h3M63 40.5h6M84 40.5h3M141 40.5h6M153 40.5h12M174 40.5h3M213 40.5h3M225 40.5h3M6 43.5h6M27 43.5h3M54 43.5h18M81 43.5h6M252 43.5h3M3 46.5h3M9 46.5h6M27 46.5h3M54 46.5h9M81 46.5h6M0 49.5h3M12 49.5h3M27 49.5h6M78 49.5h9M12 52.5h3M33 52.5h3M78 52.5h6M87 52.5h3M36 55.5h3M81 55.5h6M90 55.5h3M9 58.5h3M21 58.5h3M36 58.5h3M54 58.5h15M81 58.5h12M6 61.5h3M18 61.5h9M36 61.5h3M57 61.5h6M66 61.5h3M81 61.5h9M0 64.5h6M18 64.5h3M30 64.5h6M60 64.5h6M69 64.5h3M81 64.5h6M246 64.5h3M0 67.5h3M18 67.5h3M42 67.5h9M63 67.5h9M78 67.5h6M186 67.5h3M246 67.5h3M0 70.5h24M42 70.5h9M69 70.5h6M192 70.5h3M246 70.5h3M3 73.5h3M15 73.5h3M24 73.5h3M42 73.5h12M72 73.5h3M78 73.5h3M180 73.5h3M195 73.5h3M204 73.5h3M216 73.5h3M0 76.5h6M15 76.5h3M24 76.5h3M42 76.5h12M72 76.5h6M165 76.5h3M174 76.5h6M195 76.5h6M0 79.5h12M15 79.5h3M24 79.5h6M36 79.5h21M144 79.5h3M192 79.5h6M9 82.5h12M36 82.5h3M54 82.5h9M192 82.5h3M9 85.5h9M54 85.5h3M63 85.5h3M189 85.5h6M39 88.5h3M111 88.5h3M186 88.5h6M42 91.5h3M57 91.5h3M111 91.5h3M186 91.5h6M186 94.5h3M42 97.5h3M42 100.5h3M45 103.5h6M54 106.5h3M57 109.5h3M78 109.5h3M90 115.5h3M129 139.5h3M126 142.5h3M132 142.5h3M129 145.5h3M165 196.5h3M180 199.5h3M174 202.5h3M183 202.5h3M174 205.5h3M183 205.5h3"/><path stroke="#ff4f4f" d="M3 1.5h3M15 1.5h3M48 1.5h6M153 1.5h3M162 1.5h3M204 1.5h6M6 4.5h12M51 4.5h3M150 4.5h15M6 7.5h12M51 7.5h6M135 7.5h3M144 7.5h12M162 7.5h18M9 10.5h6M51 10.5h12M141 10.5h12M165 10.5h18M9 13.5h18M51 13.5h12M147 13.5h3M165 13.5h9M183 13.5h3M6 16.5h24M39 16.5h21M147 16.5h3M168 16.5h6M6 19.5h3M15 19.5h18M39 19.5h21M147 19.5h3M9 22.5h3M15 22.5h3M24 22.5h9M42 22.5h18M192 22.5h6M9 25.5h6M27 25.5h6M42 25.5h3M51 25.5h12M144 25.5h3M189 25.5h3M198 25.5h3M0 28.5h3M9 28.5h6M27 28.5h9M39 28.5h36M138 28.5h6M189 28.5h3M198 28.5h6M3 31.5h12M30 31.5h6M54 31.5h9M69 31.5h9M138 31.5h3M189 31.5h3M195 31.5h9M6 34.5h15M27 34.5h6M57 34.5h3M69 34.5h3M78 34.5h3M186 34.5h3M198 34.5h6M6 37.5h21M57 37.5h3M66 37.5h3M78 37.5h6M141 37.5h3M180 37.5h3M207 37.5h3M3 40.5h12M24 40.5h3M57 40.5h6M69 40.5h15M147 40.5h6M165 40.5h9M216 40.5h9M228 40.5h3M0 43.5h6M12 43.5h3M21 43.5h6M0 46.5h3M15 46.5h12M255 46.5h3M15 49.5h12M15 52.5h18M84 52.5h3M252 52.5h3M12 55.5h15M87 55.5h3M12 58.5h3M18 58.5h3M24 58.5h3M9 61.5h3M15 61.5h3M27 61.5h3M33 61.5h3M63 61.5h3M6 64.5h6M15 64.5h3M66 64.5h3M3 67.5h15M75 70.5h6M183 70.5h3M189 70.5h3M18 73.5h6M75 73.5h3M192 73.5h3M207 73.5h3M213 73.5h3M246 73.5h3M18 76.5h6M168 76.5h6M192 76.5h3M201 76.5h3M219 76.5h3M246 76.5h3M18 79.5h6M123 79.5h3M198 79.5h3M246 79.5h3M0 82.5h9M21 82.5h15M117 82.5h3M150 82.5h9M189 82.5h3M195 82.5h3M246 82.5h3M3 85.5h6M18 85.5h6M33 85.5h6M57 85.5h6M186 85.5h3M6 88.5h18M33 88.5h6M57 88.5h6M192 88.5h3M18 91.5h3M27 91.5h15M27 94.5h12M42 94.5h3M111 94.5h3M30 97.5h6M186 97.5h3M39 100.5h3M108 100.5h3M39 103.5h6M51 106.5h3M69 109.5h9M60 112.5h6M81 112.5h3M126 139.5h3M132 139.5h3M126 145.5h3M132 145.5h3M162 193.5h9M162 196.5h3M168 196.5h6M162 199.5h18M183 199.5h3M168 202.5h6M171 205.5h3M177 208.5h6"/><path stroke="#ff5f5f" d="M6 1.5h9M135 1.5h3M147 1.5h6M189 1.5h6M201 1.5h3M135 4.5h3M144 4.5h6M165 4.5h3M177 4.5h3M192 4.5h3M138 7.5h6M156 7.5h6M180 7.5h6M189 7.5h6M162 10.5h3M183 10.5h12M150 13.5h3M162 13.5h3M174 13.5h9M186 13.5h12M165 16.5h3M174 16.5h3M180 16.5h9M195 16.5h6M9 19.5h6M168 19.5h9M183 19.5h6M195 19.5h6M12 22.5h3M186 22.5h6M198 22.5h3M45 25.5h6M186 25.5h3M201 25.5h3M144 28.5h3M186 28.5h3M0 31.5h3M141 31.5h3M186 31.5h3M3 34.5h3M72 34.5h6M141 34.5h3M183 34.5h3M204 34.5h3M0 37.5h6M69 37.5h9M177 37.5h3M210 37.5h3M0 40.5h3M15 40.5h9M231 40.5h21M15 43.5h6M255 43.5h3M255 49.5h3M27 55.5h9M15 58.5h3M27 58.5h3M33 58.5h3M249 58.5h3M12 61.5h3M30 61.5h3M12 64.5h3M186 70.5h3M210 73.5h3M180 76.5h3M204 76.5h3M138 79.5h6M162 79.5h3M189 79.5h3M222 79.5h3M0 85.5h3M24 85.5h9M114 85.5h3M195 85.5h3M228 85.5h3M0 88.5h6M24 88.5h9M183 88.5h3M231 88.5h3M243 88.5h3M6 91.5h12M21 91.5h6M183 91.5h3M192 91.5h3M237 91.5h3M21 94.5h6M39 94.5h3M183 94.5h3M189 94.5h3M27 97.5h3M36 97.5h6M183 97.5h3M30 100.5h9M0 103.5h3M30 103.5h9M30 106.5h12M48 106.5h3M54 109.5h3M99 109.5h3M84 115.5h3M21 133.5h3M126 136.5h6M135 142.5h3M36 145.5h3M135 145.5h3M27 148.5h9M129 148.5h3M165 190.5h3M171 193.5h3M174 196.5h6M165 202.5h3M186 202.5h3M168 205.5h3M186 205.5h3M174 208.5h3M183 208.5h3M174 220.5h6"/><path stroke="#ff2f2f" d="M21 1.5h12M42 1.5h3M69 1.5h3M78 1.5h3M126 1.5h6M21 4.5h9M42 4.5h6M57 4.5h3M69 4.5h12M129 4.5h3M0 7.5h3M42 7.5h6M63 7.5h15M132 7.5h3M0 10.5h3M66 10.5h9M132 10.5h3M66 13.5h6M132 13.5h6M63 16.5h3M135 16.5h9M63 19.5h3M144 19.5h3M0 22.5h3M63 22.5h12M135 22.5h9M75 25.5h6M135 25.5h3M21 28.5h3M78 28.5h9M135 28.5h3M84 31.5h6M135 31.5h3M39 34.5h6M51 34.5h3M87 34.5h3M192 34.5h3M33 37.5h9M87 37.5h3M138 37.5h3M186 37.5h3M198 37.5h6M30 40.5h15M87 40.5h3M177 40.5h3M210 40.5h3M30 43.5h24M72 43.5h9M87 43.5h3M240 43.5h12M6 46.5h3M30 46.5h24M63 46.5h3M75 46.5h6M87 46.5h3M3 49.5h9M33 49.5h30M72 49.5h6M87 49.5h3M0 52.5h6M9 52.5h3M36 52.5h24M72 52.5h6M90 52.5h3M9 55.5h3M39 55.5h3M48 55.5h18M72 55.5h9M93 55.5h3M249 55.5h3M6 58.5h3M39 58.5h3M51 58.5h3M69 58.5h3M78 58.5h3M93 58.5h3M0 61.5h6M39 61.5h3M51 61.5h6M69 61.5h3M78 61.5h3M90 61.5h3M246 61.5h3M21 64.5h9M36 64.5h24M78 64.5h3M87 64.5h3M21 67.5h15M39 67.5h3M51 67.5h12M72 67.5h6M84 67.5h3M183 67.5h3M189 67.5h3M24 70.5h9M39 70.5h3M51 70.5h3M63 70.5h6M81 70.5h3M180 70.5h3M207 70.5h9M0 73.5h3M6 73.5h9M27 73.5h3M39 73.5h3M54 73.5h3M69 73.5h3M198 73.5h6M6 76.5h9M27 76.5h3M36 76.5h6M54 76.5h3M78 76.5h3M12 79.5h3M30 79.5h6M57 79.5h6M75 79.5h3M120 79.5h3M159 79.5h3M225 79.5h3M39 82.5h6M48 82.5h6M63 82.5h3M114 82.5h3M228 82.5h3M39 85.5h3M111 85.5h3M243 85.5h3M42 88.5h3M54 88.5h3M63 88.5h3M234 88.5h3M240 88.5h3M45 91.5h3M54 91.5h3M60 91.5h3M45 94.5h3M45 97.5h3M45 100.5h3M51 103.5h3M105 103.5h3M102 106.5h3M66 109.5h3M96 109.5h3M93 112.5h3M87 115.5h3M129 142.5h3M177 202.5h6M177 205.5h6"/><path stroke="#ff1f1f" d="M57 1.5h3M66 1.5h3M81 1.5h3M117 1.5h9M60 4.5h9M81 4.5h3M120 4.5h9M78 7.5h6M123 7.5h9M75 10.5h12M129 10.5h3M72 13.5h18M129 13.5h3M66 16.5h9M84 16.5h3M129 16.5h6M66 19.5h9M132 19.5h12M75 22.5h6M132 22.5h3M81 25.5h9M132 25.5h3M87 28.5h6M132 28.5h3M90 31.5h3M45 34.5h6M90 34.5h3M135 34.5h3M42 37.5h3M51 37.5h3M90 37.5h3M189 37.5h9M45 40.5h9M90 40.5h3M138 40.5h3M180 40.5h6M207 40.5h3M90 43.5h3M165 43.5h9M219 43.5h3M234 43.5h6M66 46.5h9M90 46.5h3M252 46.5h3M63 49.5h3M69 49.5h3M90 49.5h3M252 49.5h3M6 52.5h3M60 52.5h6M69 52.5h3M93 52.5h3M0 55.5h9M42 55.5h6M66 55.5h6M0 58.5h6M42 58.5h9M72 58.5h6M42 61.5h9M72 61.5h6M93 61.5h3M72 64.5h6M90 64.5h6M36 67.5h3M87 67.5h6M180 67.5h3M192 67.5h3M33 70.5h6M54 70.5h9M84 70.5h3M195 70.5h3M204 70.5h3M216 70.5h3M30 73.5h9M57 73.5h12M81 73.5h3M171 73.5h9M219 73.5h3M30 76.5h6M57 76.5h15M162 76.5h3M222 76.5h3M63 79.5h12M78 79.5h3M117 79.5h3M147 79.5h3M156 79.5h3M45 82.5h3M66 82.5h6M111 82.5h3M243 82.5h3M42 85.5h3M48 85.5h6M66 85.5h3M231 85.5h3M45 88.5h3M51 88.5h3M66 88.5h3M237 88.5h3M48 91.5h6M63 91.5h3M48 94.5h12M48 97.5h9M108 97.5h3M48 100.5h9M54 103.5h3M57 106.5h3M60 109.5h6M81 109.5h3M84 112.5h3"/><path stroke="#ff0f0f" d="M60 1.5h6M84 1.5h3M114 1.5h3M84 4.5h3M117 4.5h3M84 7.5h3M117 7.5h6M87 10.5h3M120 10.5h9M90 13.5h3M123 13.5h6M75 16.5h9M87 16.5h9M123 16.5h6M75 19.5h21M126 19.5h6M81 22.5h15M126 22.5h6M90 25.5h9M129 25.5h3M93 28.5h6M93 31.5h6M132 31.5h3M93 34.5h3M45 37.5h6M93 37.5h3M135 37.5h3M93 40.5h3M186 40.5h21M93 43.5h3M141 43.5h15M159 43.5h6M174 43.5h6M213 43.5h6M222 43.5h12M93 46.5h3M249 46.5h3M66 49.5h3M93 49.5h3M66 52.5h3M96 52.5h3M249 52.5h3M96 55.5h3M96 58.5h3M246 58.5h3M96 61.5h3M96 64.5h3M186 64.5h6M93 67.5h3M195 67.5h3M210 67.5h6M87 70.5h3M177 70.5h3M198 70.5h6M219 70.5h3M168 73.5h3M81 76.5h3M132 76.5h9M114 79.5h3M150 79.5h6M243 79.5h3M72 82.5h6M108 82.5h3M45 85.5h3M69 85.5h3M108 85.5h3M240 85.5h3M48 88.5h3M108 88.5h3M108 91.5h3M60 94.5h3M108 94.5h3M57 97.5h3M57 103.5h3M69 106.5h12"/><path stroke="#ff0000" d="M87 1.5h27M87 4.5h30M87 7.5h30M90 10.5h30M93 13.5h30M96 16.5h27M96 19.5h30M96 22.5h30M99 25.5h30M99 28.5h33M99 31.5h33M96 34.5h39M96 37.5h39M96 40.5h42M96 43.5h45M156 43.5h3M180 43.5h33M96 46.5h153M96 49.5h156M99 52.5h150M99 55.5h150M99 58.5h147M99 61.5h147M99 64.5h87M192 64.5h54M96 67.5h84M198 67.5h12M216 67.5h30M90 70.5h87M222 70.5h24M84 73.5h84M222 73.5h24M84 76.5h48M141 76.5h21M225 76.5h21M81 79.5h33M228 79.5h15M78 82.5h30M231 82.5h12M72 85.5h36M234 85.5h6M69 88.5h39M66 91.5h42M63 94.5h45M60 97.5h48M57 100.5h51M60 103.5h45M60 106.5h9M81 106.5h21M84 109.5h12M87 112.5h6"/><path stroke="#ff7f7f" d="M138 1.5h6M183 1.5h3M171 4.5h3M210 4.5h3M222 4.5h6M198 7.5h9M198 10.5h6M153 13.5h9M201 13.5h3M153 16.5h3M159 16.5h3M216 16.5h3M243 16.5h3M150 19.5h3M162 19.5h3M204 19.5h3M165 22.5h3M177 22.5h6M204 22.5h6M147 25.5h3M165 25.5h6M174 25.5h3M183 25.5h3M207 25.5h3M147 28.5h3M171 28.5h15M207 28.5h3M174 31.5h9M207 31.5h12M147 34.5h3M174 34.5h3M210 34.5h9M150 37.5h15M171 37.5h3M219 37.5h9M243 37.5h6M255 40.5h3M258 43.5h3M252 55.5h3M249 61.5h3M186 73.5h3M210 76.5h6M129 79.5h6M165 79.5h3M174 79.5h3M180 79.5h3M186 79.5h3M204 79.5h3M120 82.5h3M153 85.5h6M114 88.5h3M6 94.5h3M9 97.5h9M189 97.5h3M0 100.5h3M12 100.5h15M183 100.5h3M24 103.5h3M105 106.5h3M27 109.5h3M39 109.5h3M48 109.5h3M33 112.5h3M54 112.5h3M78 112.5h3M30 115.5h3M60 115.5h6M93 115.5h3M0 124.5h6M24 127.5h6M15 130.5h6M30 130.5h3M15 133.5h3M30 133.5h3M15 136.5h3M24 136.5h6M123 136.5h3M132 136.5h3M18 139.5h3M135 139.5h3M33 142.5h6M42 142.5h3M0 145.5h3M27 145.5h3M42 145.5h3M21 148.5h3M39 148.5h3M33 151.5h3M171 190.5h3M159 193.5h3M162 205.5h3M189 205.5h3M168 208.5h3M171 211.5h3M183 211.5h3M174 214.5h9M174 217.5h3M180 217.5h3M171 220.5h3"/><path stroke="#ff6f6f" d="M144 1.5h3M165 1.5h3M177 1.5h6M186 1.5h3M195 1.5h6M210 1.5h3M222 1.5h6M138 4.5h6M168 4.5h3M174 4.5h3M180 4.5h12M195 4.5h15M186 7.5h3M195 7.5h3M153 10.5h9M195 10.5h3M198 13.5h3M150 16.5h3M162 16.5h3M177 16.5h3M189 16.5h6M201 16.5h3M165 19.5h3M177 19.5h6M189 19.5h6M201 19.5h3M147 22.5h3M168 22.5h9M183 22.5h3M201 22.5h3M171 25.5h3M204 25.5h3M204 28.5h3M144 31.5h3M183 31.5h3M204 31.5h3M0 34.5h3M144 34.5h3M177 34.5h6M207 34.5h3M144 37.5h6M174 37.5h3M213 37.5h6M252 40.5h3M30 58.5h3M183 73.5h3M189 73.5h3M189 76.5h3M207 76.5h3M216 76.5h3M126 79.5h3M135 79.5h3M177 79.5h3M201 79.5h3M147 82.5h3M159 82.5h3M186 82.5h3M198 82.5h3M225 82.5h3M183 85.5h3M246 85.5h3M195 88.5h3M0 91.5h6M234 91.5h3M240 91.5h3M9 94.5h12M18 97.5h9M27 100.5h3M186 100.5h3M27 103.5h3M0 106.5h3M27 106.5h3M42 106.5h6M30 109.5h9M51 109.5h3M30 112.5h3M57 112.5h3M66 112.5h3M96 112.5h3M21 130.5h9M18 133.5h3M24 133.5h6M18 136.5h6M123 139.5h3M39 142.5h3M123 142.5h3M30 145.5h6M39 145.5h3M123 145.5h3M24 148.5h3M36 148.5h3M126 148.5h3M132 148.5h3M24 151.5h9M162 190.5h3M168 190.5h3M174 193.5h3M159 196.5h3M180 196.5h6M159 199.5h3M186 199.5h3M162 202.5h3M165 205.5h3M171 208.5h3M186 208.5h3M174 211.5h9M177 217.5h3M180 220.5h3"/><path stroke="#ff8f8f" d="M168 1.5h3M174 1.5h3M219 1.5h3M228 1.5h3M213 4.5h3M219 4.5h3M228 4.5h3M207 7.5h9M222 7.5h6M204 10.5h3M213 10.5h6M204 13.5h3M213 13.5h6M240 13.5h6M156 16.5h3M204 16.5h3M210 16.5h6M219 16.5h3M240 16.5h3M153 19.5h9M207 19.5h12M243 19.5h3M261 19.5h3M150 22.5h3M156 22.5h9M210 22.5h3M258 22.5h6M156 25.5h9M177 25.5h6M210 25.5h3M156 28.5h15M210 28.5h6M147 31.5h12M150 34.5h6M219 34.5h3M243 34.5h3M165 37.5h6M228 37.5h6M237 37.5h6M249 37.5h3M258 40.5h3M258 46.5h3M255 52.5h3M249 64.5h3M249 67.5h3M183 76.5h6M168 79.5h6M183 79.5h3M207 79.5h3M219 79.5h3M162 82.5h3M183 82.5h3M159 85.5h3M180 85.5h3M198 85.5h3M180 88.5h3M180 91.5h3M231 91.5h3M0 94.5h6M180 94.5h3M192 94.5h3M6 97.5h3M111 97.5h3M180 97.5h3M3 100.5h3M9 100.5h3M3 103.5h3M12 103.5h9M0 109.5h3M42 109.5h6M102 109.5h3M0 112.5h3M27 112.5h3M36 112.5h3M51 112.5h3M75 112.5h3M9 115.5h6M27 115.5h3M33 115.5h3M57 115.5h3M6 118.5h9M27 118.5h3M87 118.5h3M0 121.5h15M24 121.5h3M6 124.5h6M24 124.5h6M0 127.5h6M18 127.5h6M30 127.5h3M12 130.5h3M12 133.5h3M126 133.5h6M30 136.5h3M15 139.5h3M21 139.5h3M36 139.5h9M0 142.5h6M15 142.5h9M30 142.5h3M138 142.5h3M3 145.5h3M21 145.5h6M138 145.5h3M0 148.5h3M42 148.5h3M123 148.5h3M135 148.5h3M21 151.5h3M36 151.5h3M126 151.5h6M162 187.5h6M159 190.5h3M174 190.5h3M177 193.5h3M186 196.5h3M279 196.5h3M159 202.5h3M189 202.5h3M165 208.5h3M189 208.5h3M168 211.5h3M186 211.5h3M168 214.5h6M183 214.5h3M168 217.5h6M183 217.5h3M165 220.5h6M183 220.5h3"/><path stroke="#ff9f9f" d="M171 1.5h3M213 1.5h3M264 1.5h3M279 1.5h3M216 4.5h3M279 4.5h3M216 7.5h6M228 7.5h3M279 7.5h3M207 10.5h6M219 10.5h9M207 13.5h6M219 13.5h3M237 13.5h3M207 16.5h3M237 16.5h3M246 16.5h3M258 16.5h6M219 19.5h3M240 19.5h3M246 19.5h3M258 19.5h3M264 19.5h3M153 22.5h3M213 22.5h6M255 22.5h3M150 25.5h6M213 25.5h3M258 25.5h3M150 28.5h6M216 28.5h3M159 31.5h6M171 31.5h3M219 31.5h3M240 31.5h9M156 34.5h6M171 34.5h3M222 34.5h3M240 34.5h3M246 34.5h3M258 34.5h3M234 37.5h3M252 37.5h9M249 70.5h3M249 73.5h3M210 79.5h3M144 82.5h3M177 82.5h6M201 82.5h3M249 82.5h3M117 85.5h3M150 85.5h3M228 88.5h3M114 91.5h3M195 91.5h3M0 97.5h6M6 100.5h3M189 100.5h3M21 103.5h3M108 103.5h3M3 106.5h3M24 106.5h3M3 109.5h3M3 112.5h3M39 112.5h3M48 112.5h3M69 112.5h6M99 112.5h3M0 115.5h9M15 115.5h3M36 115.5h3M54 115.5h3M81 115.5h3M0 118.5h6M15 118.5h3M24 118.5h3M30 118.5h3M57 118.5h3M90 118.5h3M15 121.5h3M21 121.5h3M27 121.5h3M12 124.5h3M21 124.5h3M30 124.5h3M6 127.5h12M9 130.5h3M33 130.5h3M33 133.5h3M12 136.5h3M33 136.5h3M0 139.5h9M12 139.5h3M24 139.5h12M120 139.5h3M6 142.5h9M24 142.5h6M120 142.5h3M15 145.5h6M141 145.5h3M39 151.5h3M144 151.5h3M27 154.5h6M126 154.5h3M159 184.5h3M159 187.5h3M168 187.5h3M180 193.5h3M279 193.5h3M189 199.5h3M279 199.5h3M162 208.5h3M192 208.5h3M165 211.5h3M189 211.5h3M165 214.5h3M165 217.5h3M228 217.5h6M228 220.5h6"/><path stroke="#ffafaf" d="M216 1.5h3M231 1.5h3M261 1.5h3M267 1.5h3M276 1.5h3M231 4.5h3M264 4.5h3M276 4.5h3M276 7.5h3M228 10.5h3M237 10.5h6M222 13.5h6M246 13.5h3M258 13.5h9M222 16.5h3M264 16.5h3M276 16.5h6M222 19.5h3M255 19.5h3M276 19.5h6M219 22.5h3M240 22.5h9M264 22.5h3M216 25.5h3M240 25.5h3M252 25.5h6M261 25.5h3M240 28.5h9M258 28.5h3M165 31.5h6M237 31.5h3M258 31.5h6M162 34.5h9M225 34.5h6M237 34.5h3M249 34.5h3M255 34.5h3M261 34.5h3M261 37.5h3M261 40.5h3M261 43.5h3M258 49.5h3M249 76.5h3M213 79.5h6M249 79.5h3M165 82.5h6M174 82.5h3M204 82.5h3M162 85.5h3M177 85.5h3M198 88.5h3M246 88.5h3M243 91.5h3M192 97.5h3M180 100.5h3M6 103.5h6M186 103.5h3M12 106.5h12M24 109.5h3M6 112.5h12M24 112.5h3M42 112.5h6M18 115.5h3M24 115.5h3M51 115.5h3M18 118.5h6M33 118.5h3M54 118.5h3M60 118.5h3M84 118.5h3M18 121.5h3M30 121.5h3M54 121.5h6M15 124.5h6M54 124.5h3M33 127.5h3M54 127.5h3M0 130.5h9M9 133.5h3M123 133.5h3M132 133.5h3M0 136.5h3M9 136.5h3M36 136.5h9M120 136.5h3M9 139.5h3M6 145.5h9M120 145.5h3M18 148.5h3M138 148.5h9M42 151.5h3M123 151.5h3M132 151.5h3M24 154.5h3M123 154.5h3M144 154.5h3M123 157.5h6M126 160.5h3M273 181.5h6M156 184.5h3M162 184.5h3M279 184.5h3M171 187.5h3M177 190.5h3M183 193.5h3M156 196.5h3M216 196.5h3M276 196.5h3M156 199.5h3M276 199.5h3M159 205.5h3M192 205.5h3M162 211.5h3M192 211.5h6M162 214.5h3M186 214.5h6M228 214.5h6M186 217.5h3M225 217.5h3M186 220.5h3M225 220.5h3M234 220.5h3"/><path stroke="#ffcfcf" d="M234 1.5h3M258 1.5h3M234 4.5h3M258 4.5h3M234 7.5h3M252 7.5h6M270 7.5h3M246 10.5h9M270 10.5h3M252 13.5h3M228 16.5h9M228 19.5h3M234 19.5h3M270 19.5h3M225 22.5h12M267 22.5h3M276 22.5h6M228 25.5h9M264 25.5h3M222 28.5h3M231 28.5h6M228 31.5h3M234 31.5h3M252 31.5h3M264 31.5h3M267 34.5h3M264 37.5h3M261 46.5h3M252 61.5h3M252 64.5h3M252 67.5h3M252 70.5h6M141 82.5h3M120 85.5h3M168 85.5h3M174 85.5h3M162 88.5h3M177 91.5h3M228 91.5h3M114 94.5h3M231 94.5h3M9 109.5h3M18 109.5h6M105 109.5h3M21 112.5h3M102 112.5h3M78 115.5h3M39 118.5h3M45 118.5h6M63 118.5h3M60 121.5h3M48 124.5h3M48 127.5h3M57 127.5h3M36 130.5h3M48 130.5h9M39 133.5h6M45 136.5h3M117 136.5h3M117 139.5h3M138 139.5h3M6 148.5h9M147 148.5h3M18 151.5h3M138 151.5h3M36 154.5h3M147 154.5h3M129 157.5h3M141 157.5h6M279 157.5h3M138 160.5h6M270 178.5h3M276 178.5h3M162 181.5h3M270 181.5h3M273 184.5h3M174 187.5h3M276 187.5h3M156 190.5h3M180 190.5h3M255 190.5h9M276 190.5h3M186 193.5h3M216 193.5h3M261 193.5h3M273 193.5h3M189 196.5h3M219 196.5h3M255 196.5h3M261 196.5h3M270 196.5h3M6 199.5h3M243 199.5h3M270 199.5h3M156 202.5h3M213 202.5h6M234 202.5h3M243 202.5h3M195 205.5h3M237 205.5h3M198 208.5h3M234 208.5h3M159 211.5h3M198 211.5h3M225 211.5h3M234 211.5h3M279 211.5h3M198 214.5h3M279 214.5h3M192 217.5h9M51 220.5h3M189 220.5h3M222 220.5h3M273 220.5h3"/><path stroke="#ffefef" d="M237 1.5h3M255 1.5h3M237 4.5h3M246 4.5h3M267 25.5h3M267 28.5h3M270 31.5h3M270 34.5h3M267 37.5h3M264 43.5h3M258 70.5h3M255 73.5h3M126 82.5h3M132 82.5h3M219 82.5h3M204 85.5h3M171 88.5h6M177 97.5h3M231 97.5h6M180 103.5h3M108 106.5h3M69 115.5h3M99 115.5h3M39 121.5h6M39 124.5h6M60 124.5h3M39 127.5h3M39 130.5h3M126 130.5h3M51 133.5h3M48 136.5h3M117 142.5h3M144 142.5h3M147 145.5h3M48 148.5h3M9 151.5h9M48 151.5h3M120 154.5h3M279 154.5h3M132 157.5h6M132 160.5h6M144 160.5h3M279 160.5h3M129 163.5h3M135 163.5h9M273 172.5h3M270 175.5h3M276 175.5h3M162 178.5h3M261 178.5h6M165 181.5h3M258 181.5h3M171 184.5h3M258 184.5h3M267 184.5h6M153 187.5h3M177 187.5h3M252 187.5h6M273 187.5h3M183 190.5h3M249 190.5h3M267 190.5h6M249 193.5h3M267 193.5h3M6 196.5h3M240 196.5h6M252 196.5h3M0 199.5h3M246 199.5h3M258 199.5h3M0 202.5h3M210 202.5h3M219 202.5h3M246 202.5h3M264 202.5h3M273 202.5h3M219 205.5h3M243 205.5h3M264 205.5h6M156 208.5h3M222 208.5h3M228 208.5h3M258 208.5h3M201 211.5h3M219 211.5h3M237 211.5h3M255 211.5h6M276 211.5h3M0 214.5h3M81 214.5h6M201 214.5h3M237 214.5h3M255 214.5h3M3 217.5h3M54 217.5h3M78 217.5h9M159 217.5h3M255 217.5h3M276 217.5h3M3 220.5h3M57 220.5h3M192 220.5h6M204 220.5h3M219 220.5h3M255 220.5h6M270 220.5h3M276 220.5h3"/><path stroke="#efefff" d="M240 1.5h6M276 25.5h6M273 28.5h3M276 31.5h6M273 37.5h3M270 40.5h6M267 43.5h12M264 46.5h3M258 67.5h3M258 73.5h3M252 79.5h3M216 82.5h3M222 85.5h3M249 88.5h3M168 91.5h3M174 91.5h3M246 91.5h3M195 97.5h3M234 100.5h6M186 106.5h3M159 109.5h3M105 112.5h3M72 115.5h3M159 115.5h3M66 118.5h3M96 118.5h3M63 121.5h3M60 130.5h3M132 130.5h3M114 136.5h3M138 136.5h3M114 139.5h3M141 139.5h3M117 148.5h3M150 151.5h3M225 151.5h6M264 151.5h6M276 151.5h3M9 154.5h6M18 154.5h3M150 154.5h3M225 154.5h6M267 154.5h3M24 157.5h3M30 157.5h3M267 157.5h3M267 160.5h9M144 163.5h3M279 163.5h3M126 166.5h6M135 166.5h6M273 169.5h6M156 172.5h3M153 175.5h3M162 175.5h3M252 175.5h3M267 175.5h3M279 175.5h3M165 178.5h3M249 178.5h9M168 181.5h3M249 181.5h6M174 184.5h3M252 184.5h3M3 187.5h6M180 187.5h3M246 187.5h3M153 190.5h3M216 190.5h6M243 190.5h3M153 193.5h3M189 193.5h3M222 193.5h3M9 196.5h3M192 196.5h3M207 196.5h3M234 196.5h3M153 199.5h3M195 199.5h3M207 199.5h3M231 199.5h3M252 199.5h3M9 202.5h3M153 202.5h3M207 202.5h3M231 202.5h3M249 202.5h3M258 202.5h3M207 205.5h3M246 205.5h3M258 205.5h3M273 205.5h3M0 208.5h6M213 208.5h3M243 208.5h3M252 208.5h3M270 208.5h6M51 211.5h9M252 211.5h3M261 211.5h3M267 211.5h9M6 214.5h3M48 214.5h3M54 214.5h9M75 214.5h3M87 214.5h3M156 214.5h3M204 214.5h3M240 214.5h3M252 214.5h3M270 214.5h3M6 217.5h3M60 217.5h3M72 217.5h3M87 217.5h3M252 217.5h3M6 220.5h3M72 220.5h3M87 220.5h3M159 220.5h3M207 220.5h3M216 220.5h3M249 220.5h3M261 220.5h3"/><path stroke="#ffffff" d="M246 1.5h9M240 4.5h6M270 25.5h6M270 28.5h3M273 31.5h3M273 34.5h9M270 37.5h3M276 37.5h6M267 40.5h3M276 40.5h6M279 43.5h3M261 49.5h3M255 64.5h3M252 76.5h3M129 82.5h3M213 82.5h3M252 82.5h3M201 88.5h3M225 88.5h3M153 91.5h15M228 94.5h3M237 97.5h3M177 100.5h3M192 100.5h3M159 112.5h3M75 115.5h3M81 118.5h3M60 127.5h3M123 130.5h3M54 133.5h3M117 133.5h3M135 133.5h3M48 139.5h3M48 142.5h3M48 145.5h3M117 145.5h3M3 151.5h6M270 151.5h6M48 154.5h3M270 154.5h3M27 157.5h3M120 157.5h3M147 157.5h3M270 157.5h3M276 160.5h3M123 163.5h3M132 163.5h3M276 172.5h3M156 175.5h6M153 178.5h3M258 178.5h3M255 181.5h3M255 184.5h3M249 187.5h3M267 187.5h6M246 190.5h3M210 193.5h3M243 193.5h6M3 196.5h3M153 196.5h3M237 196.5h3M246 196.5h6M9 199.5h3M249 199.5h3M255 199.5h3M198 202.5h3M261 202.5h3M0 205.5h9M201 205.5h3M210 205.5h3M231 205.5h3M261 205.5h3M270 205.5h3M276 205.5h3M201 208.5h3M216 208.5h3M225 208.5h3M240 208.5h3M255 208.5h3M261 208.5h9M276 208.5h3M0 211.5h6M156 211.5h3M240 211.5h3M3 214.5h3M51 214.5h3M78 214.5h3M219 214.5h3M258 214.5h3M273 214.5h3M48 217.5h3M57 217.5h3M75 217.5h3M204 217.5h3M219 217.5h3M258 217.5h3M270 217.5h3M279 217.5h3M48 220.5h3M60 220.5h3M75 220.5h12M252 220.5h3"/><path stroke="#ffbfbf" d="M270 1.5h6M261 4.5h3M267 4.5h9M231 7.5h3M258 7.5h12M273 7.5h3M231 10.5h6M243 10.5h3M255 10.5h15M273 10.5h9M228 13.5h9M249 13.5h3M255 13.5h3M267 13.5h15M225 16.5h3M249 16.5h9M267 16.5h9M225 19.5h3M237 19.5h3M249 19.5h6M267 19.5h3M273 19.5h3M222 22.5h3M237 22.5h3M249 22.5h6M219 25.5h3M237 25.5h3M243 25.5h9M219 28.5h3M237 28.5h3M249 28.5h9M261 28.5h3M222 31.5h6M249 31.5h3M255 31.5h3M231 34.5h6M252 34.5h3M264 34.5h3M252 58.5h3M123 82.5h3M171 82.5h3M207 82.5h3M222 82.5h3M165 85.5h3M201 85.5h3M225 85.5h3M249 85.5h3M153 88.5h9M177 88.5h3M195 94.5h3M234 94.5h6M183 103.5h3M6 106.5h6M6 109.5h3M12 109.5h6M18 112.5h3M21 115.5h3M39 115.5h12M66 115.5h3M96 115.5h3M36 118.5h3M51 118.5h3M33 121.5h3M51 121.5h3M33 124.5h3M51 124.5h3M57 124.5h3M51 127.5h3M0 133.5h9M36 133.5h3M3 136.5h6M135 136.5h3M45 139.5h3M45 142.5h3M141 142.5h3M45 145.5h3M144 145.5h3M3 148.5h3M15 148.5h3M45 148.5h3M120 148.5h3M45 151.5h3M135 151.5h3M141 151.5h3M147 151.5h3M33 154.5h3M129 154.5h3M141 154.5h3M123 160.5h3M273 178.5h3M156 181.5h6M279 181.5h3M165 184.5h3M276 184.5h3M156 187.5h3M279 187.5h3M279 190.5h3M156 193.5h3M255 193.5h6M276 193.5h3M213 196.5h3M258 196.5h3M273 196.5h3M213 199.5h6M237 199.5h6M273 199.5h3M192 202.5h3M237 202.5h6M279 202.5h3M159 208.5h3M195 208.5h3M228 211.5h6M192 214.5h6M225 214.5h3M234 214.5h3M162 217.5h3M189 217.5h3M234 217.5h3M162 220.5h3"/><path stroke="#ffdfdf" d="M249 4.5h9M237 7.5h15M231 19.5h3M270 22.5h6M222 25.5h6M225 28.5h6M264 28.5h3M231 31.5h3M267 31.5h3M264 40.5h3M258 52.5h3M255 55.5h3M255 67.5h3M252 73.5h3M135 82.5h6M210 82.5h3M147 85.5h3M171 85.5h3M117 88.5h3M150 88.5h3M165 88.5h6M198 91.5h3M177 94.5h3M240 94.5h3M111 100.5h3M189 103.5h3M42 118.5h3M93 118.5h3M36 121.5h3M45 121.5h6M36 124.5h3M45 124.5h3M36 127.5h3M42 127.5h6M42 130.5h6M57 130.5h3M129 130.5h3M45 133.5h6M120 133.5h3M0 151.5h3M120 151.5h3M21 154.5h3M39 154.5h9M132 154.5h9M273 154.5h6M138 157.5h3M273 157.5h6M129 160.5h3M126 163.5h3M273 175.5h3M156 178.5h6M267 178.5h3M279 178.5h3M153 181.5h3M261 181.5h9M153 184.5h3M168 184.5h3M261 184.5h6M258 187.5h9M252 190.5h3M264 190.5h3M273 190.5h3M213 193.5h3M219 193.5h3M252 193.5h3M264 193.5h3M270 193.5h3M210 196.5h3M264 196.5h6M3 199.5h3M192 199.5h3M210 199.5h3M219 199.5h3M234 199.5h3M261 199.5h9M3 202.5h6M195 202.5h3M267 202.5h6M276 202.5h3M156 205.5h3M198 205.5h3M213 205.5h6M234 205.5h3M240 205.5h3M279 205.5h3M219 208.5h3M231 208.5h3M237 208.5h3M279 208.5h3M222 211.5h3M159 214.5h3M222 214.5h3M276 214.5h3M0 217.5h3M51 217.5h3M201 217.5h3M222 217.5h3M237 217.5h3M273 217.5h3M0 220.5h3M54 220.5h3M198 220.5h6M237 220.5h3"/><path stroke="#dfdfff" d="M276 28.5h3M273 46.5h9M255 58.5h3M255 61.5h3M123 85.5h3M144 85.5h3M207 85.5h3M252 85.5h3M147 88.5h3M117 91.5h3M150 91.5h3M171 91.5h3M225 91.5h3M174 94.5h3M198 94.5h3M243 94.5h3M240 97.5h3M162 109.5h3M162 112.5h3M102 115.5h3M156 115.5h3M87 121.5h3M264 124.5h3M120 130.5h3M57 133.5h3M51 136.5h3M108 139.5h6M108 142.5h3M147 142.5h3M258 145.5h6M150 148.5h3M225 148.5h6M261 148.5h12M117 151.5h3M261 151.5h3M279 151.5h3M0 154.5h3M6 154.5h3M15 154.5h3M264 154.5h3M9 157.5h6M33 157.5h6M42 157.5h6M225 157.5h3M264 157.5h3M120 160.5h3M147 160.5h3M264 160.5h3M276 163.5h3M132 166.5h3M141 166.5h3M276 166.5h6M156 169.5h3M279 169.5h3M153 172.5h3M159 172.5h3M270 172.5h3M279 172.5h3M249 175.5h3M255 175.5h12M150 178.5h3M246 178.5h3M150 181.5h3M246 181.5h3M0 184.5h6M249 184.5h3M0 187.5h3M243 187.5h3M3 190.5h6M186 190.5h3M213 190.5h3M6 193.5h3M240 193.5h3M0 196.5h3M222 196.5h3M198 199.5h3M201 202.5h3M255 202.5h3M153 205.5h3M204 205.5h3M222 205.5h3M249 205.5h3M255 205.5h3M6 208.5h3M51 208.5h9M153 208.5h3M204 208.5h9M6 211.5h3M48 211.5h3M60 211.5h3M81 211.5h6M204 211.5h3M216 211.5h3M243 211.5h3M264 211.5h3M267 214.5h3M63 217.5h3M207 217.5h3M216 217.5h3M240 217.5h3M261 217.5h3M267 217.5h3M63 220.5h3M69 220.5h3M210 220.5h6M267 220.5h3M279 220.5h3"/><path stroke="#cfcfff" d="M279 28.5h3M267 46.5h6M255 76.5h3M120 88.5h3M114 97.5h3M228 97.5h3M231 100.5h3M240 100.5h3M111 103.5h3M177 103.5h3M237 103.5h3M183 106.5h3M108 109.5h3M156 112.5h3M90 121.5h3M264 121.5h3M267 124.5h3M207 130.5h3M114 133.5h3M207 133.5h3M54 136.5h3M111 136.5h3M105 139.5h3M276 139.5h6M105 142.5h3M111 142.5h6M258 142.5h6M225 145.5h3M264 145.5h3M258 148.5h3M273 148.5h3M51 151.5h3M222 151.5h3M3 154.5h3M222 154.5h3M261 154.5h3M6 157.5h3M21 157.5h3M39 157.5h3M150 157.5h3M228 157.5h3M261 157.5h3M6 160.5h6M261 160.5h3M6 163.5h3M147 163.5h3M273 163.5h3M6 166.5h3M153 166.5h6M273 166.5h3M6 169.5h3M129 169.5h3M135 169.5h9M153 169.5h3M252 172.5h3M150 175.5h3M165 175.5h3M246 175.5h3M168 178.5h3M243 178.5h3M171 181.5h3M243 181.5h3M6 184.5h3M150 184.5h3M243 184.5h6M240 187.5h3M0 190.5h3M222 190.5h3M240 190.5h3M3 193.5h3M207 193.5h3M237 193.5h3M195 196.5h3M231 196.5h3M201 199.5h6M222 199.5h3M204 202.5h3M222 202.5h3M252 202.5h3M9 205.5h3M54 205.5h3M228 205.5h3M252 205.5h3M48 208.5h3M60 208.5h3M246 208.5h6M45 211.5h3M78 211.5h3M87 211.5h3M153 211.5h3M207 211.5h3M246 211.5h6M45 214.5h3M63 214.5h3M72 214.5h3M207 214.5h3M216 214.5h3M243 214.5h3M249 214.5h3M261 214.5h6M45 217.5h3M66 217.5h6M210 217.5h6M246 217.5h6M264 217.5h3M66 220.5h3M240 220.5h3M246 220.5h3M264 220.5h3"/><path stroke="#afafff" d="M264 49.5h3M279 49.5h3M261 70.5h3M258 76.5h3M255 79.5h3M126 85.5h3M141 85.5h3M210 85.5h3M147 91.5h3M225 94.5h3M174 100.5h3M192 103.5h3M165 106.5h3M165 109.5h3M108 112.5h3M276 112.5h3M105 115.5h3M276 115.5h3M69 118.5h3M66 121.5h3M93 121.5h3M270 121.5h3M270 124.5h3M279 124.5h3M63 127.5h3M261 127.5h3M270 127.5h12M63 130.5h3M135 130.5h3M210 130.5h3M270 130.5h9M111 133.5h3M138 133.5h3M213 133.5h3M219 133.5h3M261 133.5h3M273 133.5h3M207 136.5h3M213 136.5h12M276 136.5h6M219 139.5h6M258 139.5h3M270 139.5h3M51 142.5h3M102 142.5h3M222 142.5h3M228 142.5h3M273 142.5h3M105 145.5h3M222 145.5h3M255 145.5h3M267 145.5h6M279 145.5h3M231 148.5h3M255 148.5h3M276 148.5h6M153 151.5h3M231 151.5h3M51 154.5h3M153 154.5h3M258 154.5h3M117 157.5h3M153 157.5h3M222 157.5h3M258 157.5h3M153 160.5h3M228 160.5h3M258 160.5h3M255 163.5h3M261 163.5h3M147 166.5h6M159 166.5h3M270 166.5h3M3 169.5h3M126 169.5h3M144 169.5h3M150 169.5h3M252 169.5h3M6 172.5h6M132 172.5h3M141 172.5h3M258 172.5h3M267 172.5h3M135 175.5h3M168 175.5h3M243 175.5h3M171 178.5h3M240 178.5h3M0 181.5h9M174 181.5h3M237 184.5h3M183 187.5h3M216 187.5h3M222 187.5h3M150 190.5h3M237 190.5h3M0 193.5h3M192 193.5h3M201 196.5h3M225 196.5h3M12 199.5h3M57 199.5h6M228 199.5h3M54 202.5h3M228 202.5h3M48 205.5h3M63 205.5h3M9 208.5h3M45 208.5h3M63 208.5h3M150 208.5h3M9 211.5h3M72 211.5h3M90 211.5h3M66 214.5h3M153 214.5h3"/><path stroke="#8f8fff" d="M267 49.5h6M258 58.5h3M261 67.5h3M129 85.5h3M213 85.5h6M255 85.5h3M123 88.5h3M252 88.5h3M249 91.5h3M246 94.5h3M159 97.5h12M156 100.5h3M171 100.5h3M195 100.5h3M156 103.5h3M165 103.5h3M231 103.5h3M243 103.5h3M168 106.5h3M153 112.5h3M270 115.5h3M72 118.5h6M102 118.5h3M162 118.5h3M273 118.5h3M81 121.5h3M96 121.5h3M258 121.5h3M276 121.5h3M66 124.5h3M258 124.5h3M117 127.5h6M111 130.5h3M201 130.5h3M213 130.5h6M222 130.5h3M225 136.5h3M258 136.5h3M147 139.5h3M207 139.5h6M228 139.5h6M216 142.5h3M234 142.5h3M102 145.5h3M219 145.5h3M234 145.5h3M153 148.5h3M219 148.5h3M111 151.5h3M255 151.5h3M114 154.5h3M156 154.5h3M219 154.5h3M21 160.5h3M30 160.5h6M42 160.5h6M159 160.5h3M222 160.5h3M225 163.5h6M252 163.5h3M12 166.5h3M162 166.5h3M258 166.5h3M267 166.5h3M12 169.5h3M249 169.5h3M267 169.5h3M3 172.5h3M12 172.5h3M165 172.5h3M261 172.5h6M9 175.5h3M129 175.5h3M144 175.5h3M237 175.5h6M3 178.5h6M132 178.5h6M9 181.5h3M147 181.5h3M225 181.5h6M234 181.5h3M228 184.5h6M12 187.5h3M213 187.5h3M231 187.5h3M12 190.5h3M207 190.5h3M231 190.5h3M12 193.5h3M195 193.5h3M228 193.5h3M63 196.5h3M150 199.5h3M42 208.5h3M66 208.5h3M78 208.5h3M84 208.5h9M69 211.5h3M93 214.5h3M150 214.5h3"/><path stroke="#9f9fff" d="M273 49.5h6M258 61.5h3M261 73.5h3M255 82.5h3M132 85.5h9M144 88.5h3M222 91.5h3M117 94.5h3M150 94.5h3M153 97.5h6M171 97.5h3M243 97.5h3M228 100.5h3M243 100.5h3M159 103.5h6M174 103.5h3M111 106.5h3M156 106.5h3M180 106.5h3M165 112.5h3M273 112.5h3M153 115.5h3M273 115.5h3M153 118.5h3M261 118.5h12M276 118.5h6M156 121.5h6M273 121.5h3M279 121.5h3M273 124.5h6M123 127.5h9M204 127.5h6M114 130.5h3M219 130.5h3M261 130.5h3M279 130.5h3M108 133.5h3M216 133.5h3M222 133.5h3M276 133.5h6M57 136.5h3M105 136.5h3M141 136.5h3M204 136.5h3M54 139.5h3M102 139.5h3M213 139.5h6M225 139.5h3M267 139.5h3M150 142.5h3M219 142.5h3M231 142.5h3M255 142.5h3M267 142.5h6M231 145.5h3M273 145.5h6M108 148.5h6M114 151.5h3M219 151.5h3M231 154.5h3M156 157.5h3M15 160.5h3M24 160.5h6M36 160.5h6M156 160.5h3M255 160.5h3M12 163.5h3M120 163.5h3M159 163.5h3M258 163.5h3M0 166.5h3M252 166.5h6M147 169.5h3M162 169.5h3M255 169.5h3M129 172.5h3M144 172.5h6M246 172.5h3M6 175.5h3M132 175.5h3M138 175.5h6M147 175.5h3M147 178.5h3M237 178.5h3M237 181.5h3M9 184.5h3M180 184.5h3M222 184.5h6M234 184.5h3M225 187.5h3M234 187.5h3M189 190.5h3M225 190.5h3M234 190.5h3M150 193.5h3M204 193.5h3M225 193.5h3M231 193.5h3M12 196.5h3M57 196.5h6M150 196.5h3M228 196.5h3M54 199.5h3M63 199.5h3M225 199.5h3M12 202.5h3M51 202.5h3M63 202.5h3M150 202.5h3M225 202.5h3M150 205.5h3M39 211.5h3M66 211.5h3M150 211.5h3M39 214.5h3M42 217.5h3M156 220.5h3"/><path stroke="#bfbfff" d="M261 52.5h3M258 55.5h3M258 64.5h3M219 85.5h3M204 88.5h3M222 88.5h3M201 91.5h3M153 94.5h21M174 97.5h3M234 103.5h3M240 103.5h3M159 106.5h6M189 106.5h3M156 109.5h3M279 112.5h3M162 115.5h3M279 115.5h3M78 118.5h3M99 118.5h3M156 118.5h6M84 121.5h3M261 121.5h3M267 121.5h3M63 124.5h3M261 124.5h3M264 127.5h6M117 130.5h3M204 130.5h3M264 130.5h6M60 133.5h3M204 133.5h3M210 133.5h3M264 133.5h9M108 136.5h3M210 136.5h3M261 136.5h15M51 139.5h3M144 139.5h3M261 139.5h6M273 139.5h3M225 142.5h3M264 142.5h3M276 142.5h6M51 145.5h3M108 145.5h9M150 145.5h3M228 145.5h3M51 148.5h3M114 148.5h3M222 148.5h3M258 151.5h3M117 154.5h3M0 157.5h6M15 157.5h6M48 157.5h3M0 160.5h6M12 160.5h3M150 160.5h3M225 160.5h3M0 163.5h6M9 163.5h3M150 163.5h9M264 163.5h9M3 166.5h3M9 166.5h3M123 166.5h3M144 166.5h3M9 169.5h3M132 169.5h3M159 169.5h3M270 169.5h3M135 172.5h6M150 172.5h3M162 172.5h3M249 172.5h3M255 172.5h3M240 181.5h3M177 184.5h3M240 184.5h3M9 187.5h3M150 187.5h3M219 187.5h3M237 187.5h3M9 190.5h3M210 190.5h3M9 193.5h3M234 193.5h3M198 196.5h3M204 196.5h3M57 202.5h6M51 205.5h3M57 205.5h6M225 205.5h3M42 211.5h3M63 211.5h3M75 211.5h3M210 211.5h6M9 214.5h3M42 214.5h3M69 214.5h3M90 214.5h3M210 214.5h6M246 214.5h3M9 217.5h3M90 217.5h3M156 217.5h3M243 217.5h3M9 220.5h3M45 220.5h3M90 220.5h3M243 220.5h3"/><path stroke="#7f7fff" d="M264 52.5h3M261 55.5h3M207 88.5h3M219 88.5h3M120 91.5h3M198 97.5h3M225 97.5h3M114 100.5h3M153 100.5h3M159 100.5h12M168 103.5h6M177 106.5h3M237 106.5h6M111 109.5h3M168 109.5h3M186 109.5h3M276 109.5h6M270 112.5h3M108 115.5h3M165 115.5h3M264 115.5h6M258 118.5h3M69 121.5h3M99 121.5h3M159 124.5h3M114 127.5h3M132 127.5h3M210 127.5h3M108 130.5h3M63 133.5h3M105 133.5h3M201 133.5h3M225 133.5h3M258 133.5h3M60 136.5h3M102 136.5h3M204 139.5h3M234 139.5h3M255 139.5h3M54 142.5h3M99 142.5h3M213 142.5h3M237 142.5h3M153 145.5h3M105 148.5h3M234 148.5h3M156 151.5h3M255 154.5h3M51 157.5h3M114 157.5h3M231 157.5h3M255 157.5h3M18 160.5h3M48 160.5h3M117 160.5h3M162 163.5h3M249 166.5h3M261 166.5h6M0 169.5h3M123 169.5h3M258 169.5h3M126 172.5h3M234 172.5h6M243 172.5h3M3 175.5h3M12 175.5h3M171 175.5h3M231 175.5h6M0 178.5h3M9 178.5h3M138 178.5h3M144 178.5h3M174 178.5h3M234 178.5h3M177 181.5h3M222 181.5h3M231 181.5h3M12 184.5h3M147 184.5h3M219 184.5h3M186 187.5h3M228 187.5h3M192 190.5h3M228 190.5h3M57 193.5h6M198 193.5h6M54 196.5h3M51 199.5h3M48 202.5h3M66 202.5h3M12 205.5h3M45 205.5h3M66 205.5h3M75 208.5h3M81 208.5h3M93 211.5h3M147 211.5h3M39 217.5h3M93 217.5h3M153 217.5h3M12 220.5h3M42 220.5h3M93 220.5h3"/><path stroke="#5f5fff" d="M267 52.5h3M273 52.5h6M261 58.5h3M261 61.5h3M258 82.5h3M126 88.5h3M219 91.5h3M246 100.5h3M114 103.5h3M153 103.5h3M228 103.5h3M153 106.5h3M192 106.5h3M243 106.5h3M183 109.5h3M270 109.5h3M168 112.5h3M261 112.5h6M111 115.5h3M150 115.5h3M258 115.5h3M108 118.5h3M150 118.5h3M255 118.5h3M78 121.5h3M102 121.5h9M255 121.5h3M87 124.5h3M108 124.5h21M162 124.5h3M204 124.5h3M135 127.5h3M66 130.5h3M105 130.5h3M141 133.5h3M228 133.5h3M234 136.5h3M255 136.5h3M153 139.5h3M201 139.5h3M237 139.5h3M201 142.5h9M240 142.5h3M252 142.5h3M99 145.5h3M156 145.5h3M210 145.5h6M102 148.5h3M213 148.5h3M234 151.5h3M252 151.5h3M54 154.5h3M159 154.5h3M111 157.5h3M162 157.5h3M252 157.5h3M114 160.5h3M168 160.5h3M18 163.5h12M36 163.5h12M168 163.5h3M222 163.5h3M249 163.5h3M120 166.5h3M225 166.5h12M15 169.5h3M228 169.5h3M240 169.5h6M15 172.5h3M228 172.5h3M0 175.5h3M126 175.5h3M174 175.5h3M228 175.5h3M15 178.5h3M15 181.5h3M132 181.5h6M144 181.5h3M15 184.5h3M183 184.5h3M15 187.5h3M15 190.5h3M195 190.5h3M204 190.5h3M15 193.5h3M54 193.5h3M15 196.5h3M51 196.5h3M66 196.5h3M15 199.5h3M48 199.5h3M42 205.5h3M69 205.5h3M36 211.5h3M36 217.5h3M147 217.5h3M39 220.5h3M153 220.5h3"/><path stroke="#4f4fff" d="M270 52.5h3M264 55.5h3M138 88.5h3M210 88.5h3M216 88.5h3M255 88.5h3M252 91.5h3M249 94.5h3M117 97.5h3M222 97.5h3M225 100.5h3M246 103.5h3M114 106.5h3M231 106.5h3M171 109.5h3M150 112.5h3M111 118.5h3M165 118.5h3M72 121.5h3M111 121.5h3M120 121.5h6M69 124.5h3M84 124.5h3M90 124.5h9M102 124.5h6M129 124.5h3M210 124.5h3M255 124.5h3M105 127.5h3M156 127.5h3M162 127.5h3M225 127.5h3M159 130.5h3M198 130.5h3M102 133.5h3M198 133.5h3M231 133.5h3M255 133.5h3M99 136.5h3M198 136.5h3M198 139.5h3M252 139.5h3M156 142.5h3M198 142.5h3M201 145.5h9M240 145.5h3M249 145.5h3M183 148.5h3M210 148.5h3M237 148.5h3M105 151.5h3M159 151.5h3M180 151.5h6M213 151.5h3M108 154.5h3M177 154.5h9M252 154.5h3M54 157.5h3M165 157.5h3M177 157.5h9M216 157.5h3M51 160.5h3M171 160.5h3M180 160.5h6M219 160.5h3M30 163.5h6M48 163.5h3M117 163.5h3M171 163.5h3M180 163.5h6M234 163.5h3M18 166.5h3M168 166.5h3M180 166.5h6M237 166.5h3M246 166.5h3M168 169.5h3M183 169.5h3M171 172.5h3M18 175.5h3M225 175.5h3M18 178.5h3M177 178.5h3M222 178.5h3M18 181.5h3M129 181.5h3M138 181.5h6M180 181.5h3M219 181.5h3M18 184.5h3M213 184.5h3M18 187.5h3M189 187.5h3M207 187.5h3M57 190.5h6M147 190.5h3M15 202.5h3M45 202.5h3M69 202.5h3M39 205.5h3M72 205.5h3M87 205.5h6M147 205.5h3M36 208.5h3M96 211.5h3M96 214.5h3M144 214.5h3M96 217.5h3M144 217.5h3M36 220.5h3M147 220.5h6"/><path stroke="#6f6fff" d="M279 52.5h3M261 64.5h3M261 76.5h3M258 79.5h3M141 88.5h3M144 91.5h3M204 91.5h3M147 94.5h3M201 94.5h3M222 94.5h3M150 97.5h3M246 97.5h3M171 106.5h6M234 106.5h3M153 109.5h3M189 109.5h3M273 109.5h3M111 112.5h3M267 112.5h3M261 115.5h3M105 118.5h3M153 121.5h3M162 121.5h3M156 124.5h3M207 124.5h3M66 127.5h3M108 127.5h6M159 127.5h3M201 127.5h3M213 127.5h12M258 127.5h3M138 130.5h3M225 130.5h3M258 130.5h3M144 136.5h3M201 136.5h3M228 136.5h6M57 139.5h3M99 139.5h3M150 139.5h3M153 142.5h3M210 142.5h3M54 145.5h3M216 145.5h3M237 145.5h3M252 145.5h3M54 148.5h3M156 148.5h3M216 148.5h3M252 148.5h3M54 151.5h3M108 151.5h3M216 151.5h3M111 154.5h3M216 154.5h3M159 157.5h3M219 157.5h3M162 160.5h6M231 160.5h3M252 160.5h3M15 163.5h3M165 163.5h3M231 163.5h3M15 166.5h3M165 166.5h3M165 169.5h3M231 169.5h9M246 169.5h3M261 169.5h6M0 172.5h3M168 172.5h3M231 172.5h3M240 172.5h3M15 175.5h3M12 178.5h3M129 178.5h3M141 178.5h3M225 178.5h9M12 181.5h3M216 184.5h3M147 187.5h3M210 187.5h3M63 193.5h3M66 199.5h3M12 208.5h3M39 208.5h3M69 208.5h6M93 208.5h3M147 208.5h3M12 211.5h3M12 214.5h3M36 214.5h3M147 214.5h3M12 217.5h3M150 217.5h3"/><path stroke="#2f2fff" d="M267 55.5h3M279 55.5h3M264 58.5h3M264 67.5h3M264 76.5h3M261 82.5h3M213 88.5h3M144 94.5h3M204 94.5h3M147 97.5h3M201 97.5h3M249 97.5h3M117 100.5h3M150 103.5h3M225 103.5h3M228 106.5h3M273 106.5h9M150 109.5h3M177 109.5h3M192 109.5h3M234 109.5h3M240 109.5h3M261 109.5h6M117 115.5h6M168 115.5h3M252 118.5h3M129 121.5h3M150 121.5h3M207 121.5h6M81 124.5h3M165 124.5h3M201 124.5h3M138 127.5h3M165 127.5h3M198 127.5h3M99 133.5h3M156 133.5h3M162 133.5h3M195 133.5h3M234 133.5h3M159 136.5h3M192 136.5h3M237 136.5h3M60 139.5h3M96 139.5h3M189 139.5h3M249 139.5h3M159 142.5h3M186 142.5h3M246 142.5h3M159 145.5h3M180 145.5h3M246 145.5h3M189 148.5h6M198 148.5h6M240 148.5h3M102 151.5h3M189 151.5h3M237 151.5h3M165 154.5h3M171 154.5h3M234 157.5h3M54 160.5h3M216 160.5h3M51 163.5h3M114 163.5h3M189 163.5h3M237 163.5h3M246 163.5h3M24 166.5h6M174 166.5h3M189 166.5h3M120 169.5h3M171 169.5h9M189 169.5h3M177 172.5h9M180 175.5h3M222 175.5h3M21 178.5h3M180 178.5h3M126 181.5h3M183 181.5h3M216 181.5h3M129 184.5h3M135 184.5h3M210 184.5h3M21 187.5h3M192 187.5h3M21 190.5h3M54 190.5h3M21 193.5h3M51 193.5h3M21 196.5h3M48 196.5h3M45 199.5h3M18 202.5h3M72 202.5h3M36 205.5h3M96 205.5h3M15 208.5h3M144 208.5h3M33 211.5h3M141 214.5h3M141 217.5h3"/><path stroke="#1f1fff" d="M270 55.5h9M264 61.5h3M264 64.5h3M264 79.5h3M126 91.5h3M138 91.5h3M210 91.5h3M216 91.5h3M123 94.5h3M252 94.5h3M120 97.5h3M219 97.5h3M198 100.5h3M222 100.5h3M249 100.5h3M117 103.5h3M249 103.5h3M150 106.5h3M249 106.5h3M270 106.5h3M231 109.5h3M243 109.5h6M258 109.5h3M117 112.5h3M147 112.5h3M171 112.5h3M186 112.5h6M255 112.5h3M123 115.5h3M147 115.5h3M252 115.5h3M126 118.5h3M204 121.5h3M213 121.5h3M252 121.5h3M72 124.5h3M135 124.5h3M225 124.5h3M252 124.5h3M99 127.5h3M153 127.5h3M228 127.5h3M69 130.5h3M99 130.5h3M141 130.5h3M165 130.5h3M195 130.5h3M231 130.5h3M252 130.5h3M144 133.5h3M153 133.5h3M192 133.5h3M252 133.5h3M66 136.5h3M189 136.5h3M240 136.5h3M249 136.5h3M159 139.5h3M186 139.5h3M243 139.5h6M183 142.5h3M57 145.5h3M57 148.5h3M96 148.5h3M162 148.5h3M177 148.5h3M195 148.5h3M243 148.5h6M57 151.5h3M162 151.5h3M174 151.5h3M207 151.5h3M249 151.5h3M57 154.5h3M105 154.5h3M168 154.5h3M189 154.5h3M210 154.5h3M249 154.5h3M189 157.5h3M213 157.5h3M249 157.5h3M108 160.5h3M189 160.5h3M216 163.5h3M243 163.5h3M30 166.5h21M117 166.5h3M192 166.5h3M219 166.5h3M21 169.5h3M192 169.5h3M222 169.5h3M21 172.5h3M186 172.5h6M222 172.5h3M21 175.5h3M123 175.5h3M183 175.5h3M183 178.5h3M219 178.5h3M213 181.5h3M24 184.5h3M126 184.5h3M138 184.5h6M24 187.5h3M60 187.5h3M132 187.5h3M144 187.5h3M195 187.5h3M204 187.5h3M51 190.5h3M66 190.5h3M69 196.5h3M21 199.5h3M39 202.5h3M75 202.5h3M90 202.5h6M33 208.5h3M15 211.5h3M99 211.5h3M141 211.5h3M15 214.5h3M99 214.5h3M15 217.5h3M30 217.5h3M99 217.5h3M15 220.5h3M30 220.5h3M141 220.5h3"/><path stroke="#0f0fff" d="M267 58.5h3M264 82.5h3M261 85.5h3M258 88.5h3M129 91.5h3M213 91.5h3M255 91.5h3M141 94.5h3M207 94.5h3M216 94.5h3M147 100.5h3M117 106.5h3M195 106.5h3M267 106.5h3M117 109.5h3M249 109.5h3M255 109.5h3M120 112.5h3M183 112.5h3M252 112.5h3M129 118.5h3M147 118.5h3M168 118.5h3M210 118.5h3M132 121.5h3M201 121.5h3M216 121.5h9M75 124.5h6M150 124.5h3M198 124.5h3M90 127.5h9M195 127.5h3M252 127.5h3M153 130.5h3M192 130.5h3M234 130.5h3M69 133.5h3M147 133.5h6M165 133.5h3M189 133.5h3M237 133.5h3M249 133.5h3M96 136.5h3M162 136.5h3M186 136.5h3M243 136.5h6M162 139.5h3M183 139.5h3M93 142.5h3M162 142.5h3M180 142.5h3M93 145.5h3M162 145.5h3M93 148.5h3M99 151.5h3M165 151.5h9M192 151.5h6M201 151.5h6M192 154.5h3M207 154.5h3M237 154.5h3M57 157.5h3M105 157.5h3M192 157.5h3M210 157.5h3M57 160.5h3M192 160.5h3M213 160.5h3M237 160.5h3M246 160.5h3M54 163.5h3M111 163.5h3M192 163.5h3M240 163.5h3M24 169.5h3M195 169.5h3M219 169.5h3M192 172.5h3M186 175.5h3M219 175.5h3M24 178.5h3M123 178.5h3M186 178.5h3M216 178.5h3M24 181.5h3M123 181.5h3M186 181.5h3M189 184.5h3M207 184.5h3M54 187.5h6M63 187.5h3M126 187.5h6M135 187.5h3M198 187.5h6M24 190.5h3M24 193.5h3M48 193.5h3M69 193.5h3M24 196.5h3M45 196.5h3M24 199.5h3M42 199.5h3M72 199.5h3M21 202.5h3M36 202.5h3M78 202.5h3M87 202.5h3M96 202.5h3M18 205.5h3M33 205.5h3M144 205.5h3M99 208.5h3M30 211.5h3M30 214.5h3M138 214.5h3M138 217.5h3M99 220.5h3"/><path stroke="#0000ff" d="M270 58.5h12M267 61.5h15M267 64.5h15M267 67.5h15M267 70.5h15M267 73.5h15M267 76.5h15M267 79.5h15M267 82.5h15M264 85.5h18M261 88.5h21M132 91.5h6M258 91.5h24M126 94.5h15M210 94.5h6M255 94.5h27M123 97.5h24M204 97.5h15M252 97.5h30M120 100.5h27M201 100.5h21M252 100.5h30M120 103.5h30M198 103.5h27M252 103.5h30M120 106.5h30M198 106.5h30M252 106.5h15M120 109.5h30M195 109.5h36M252 109.5h3M123 112.5h24M174 112.5h9M192 112.5h60M126 115.5h21M171 115.5h81M132 118.5h15M171 118.5h39M213 118.5h39M135 121.5h15M168 121.5h33M225 121.5h27M138 124.5h12M168 124.5h30M228 124.5h24M72 127.5h18M141 127.5h12M168 127.5h27M231 127.5h21M72 130.5h27M144 130.5h9M168 130.5h24M237 130.5h15M72 133.5h27M168 133.5h21M240 133.5h9M69 136.5h27M165 136.5h21M63 139.5h33M165 139.5h18M60 142.5h33M165 142.5h15M60 145.5h33M165 145.5h15M60 148.5h33M165 148.5h12M60 151.5h39M198 151.5h3M240 151.5h9M60 154.5h45M195 154.5h12M240 154.5h9M60 157.5h45M195 157.5h15M237 157.5h12M60 160.5h48M195 160.5h18M240 160.5h6M57 163.5h54M195 163.5h21M51 166.5h66M195 166.5h24M27 169.5h93M198 169.5h21M24 172.5h99M195 172.5h27M24 175.5h99M189 175.5h30M27 178.5h96M189 178.5h27M27 181.5h96M189 181.5h24M27 184.5h99M192 184.5h15M27 187.5h27M66 187.5h60M138 187.5h6M27 190.5h24M69 190.5h78M27 193.5h21M72 193.5h75M27 196.5h18M72 196.5h75M27 199.5h15M75 199.5h72M24 202.5h12M81 202.5h6M99 202.5h48M21 205.5h12M99 205.5h45M18 208.5h15M102 208.5h42M18 211.5h12M102 211.5h39M18 214.5h12M102 214.5h36M18 217.5h12M102 217.5h36M18 220.5h12M102 220.5h39"/><path stroke="#3f3fff" d="M264 70.5h3M264 73.5h3M261 79.5h3M258 85.5h3M129 88.5h9M123 91.5h3M141 91.5h3M207 91.5h3M120 94.5h3M219 94.5h3M150 100.5h3M195 103.5h3M246 106.5h3M114 109.5h3M174 109.5h3M180 109.5h3M237 109.5h3M267 109.5h3M114 112.5h3M258 112.5h3M114 115.5h3M255 115.5h3M114 118.5h12M75 121.5h3M114 121.5h6M126 121.5h3M165 121.5h3M99 124.5h3M132 124.5h3M153 124.5h3M213 124.5h12M69 127.5h3M102 127.5h3M255 127.5h3M102 130.5h3M156 130.5h3M162 130.5h3M228 130.5h3M255 130.5h3M66 133.5h3M159 133.5h3M63 136.5h3M147 136.5h12M195 136.5h3M252 136.5h3M156 139.5h3M192 139.5h6M240 139.5h3M57 142.5h3M96 142.5h3M189 142.5h9M243 142.5h3M249 142.5h3M96 145.5h3M183 145.5h18M243 145.5h3M99 148.5h3M159 148.5h3M180 148.5h3M186 148.5h3M204 148.5h6M249 148.5h3M177 151.5h3M186 151.5h3M210 151.5h3M162 154.5h3M174 154.5h3M186 154.5h3M213 154.5h3M234 154.5h3M108 157.5h3M168 157.5h9M186 157.5h3M111 160.5h3M174 160.5h6M186 160.5h3M234 160.5h3M249 160.5h3M174 163.5h6M186 163.5h3M219 163.5h3M21 166.5h3M171 166.5h3M177 166.5h3M186 166.5h3M222 166.5h3M240 166.5h6M18 169.5h3M180 169.5h3M186 169.5h3M225 169.5h3M18 172.5h3M123 172.5h3M174 172.5h3M225 172.5h3M177 175.5h3M126 178.5h3M21 181.5h3M21 184.5h3M132 184.5h3M144 184.5h3M186 184.5h3M18 190.5h3M63 190.5h3M198 190.5h6M18 193.5h3M66 193.5h3M147 193.5h3M18 196.5h3M147 196.5h3M18 199.5h3M69 199.5h3M147 199.5h3M42 202.5h3M147 202.5h3M15 205.5h3M75 205.5h12M93 205.5h3M96 208.5h3M144 211.5h3M33 214.5h3M33 217.5h3M33 220.5h3M96 220.5h3M144 220.5h3"/></g></g></g><path d="M225.2 218.5V211.5L229 210L233 208L236 206.5L238.2 207L238.8 211L242 214L244 209L247 214.5L249 218.5ZM253 218.5L256.3 215L261 215.5L265 218.5Z" fill="#fff"/><path d="M-1.0 156.0 L4.6 151.8 L14.0 140.1 L25.8 131.4 L37.5 119.7 L46.2 116.8 L50.6 109.5 L59.4 100.7 L63.7 93.4 L72.5 87.6 L81.3 81.7 L86.1 79.0 L94.2 72.5 L96.6 66.1 L97.4 61.3 L95.8 56.5 L90.2 54.0 L91.0 50.9 L95.8 49.3 L105.4 48.5 L108.6 50.1 L109.4 46.8 L118.3 42.0 L124.7 39.6 L129.0 38.5 L135.3 36.5 L139.6 34.3 L146.9 31.4 L150.6 28.5 L155.7 24.8 L158.6 26.3 L161.5 29.2 L165.9 30.0 L173.2 29.2 L180.5 29.2 L186.4 30.4 M186.4 30.4 L177.6 32.1 L171.8 35.1 L170.3 39.4 L174.7 46.7 L182.0 52.6 L186.4 57.0 L187.1 61.3 L184.9 65.7 L184.2 70.0 L187.2 73.0 L186.4 76.0 L184.4 82.2 L178.2 83.2 L170.1 85.2 L163.9 89.3 L168.0 92.4 L169.1 96.5 L163.9 100.6 L161.9 104.7 L161.9 113.9 M179.1 33.6 L177.6 36.5 L180.5 42.4 L187.8 47.5 L198.0 49.7 L202.4 46.0 L208.3 42.4 L215.6 39.4 L222.9 36.5 L229.8 38.6 L240.0 40.6 L252.1 41.6 L264.3 40.6 L278.0 37.5 M209.7 206.8 L213.3 210.4 L215.7 215.2 L215.1 218.5 M215.7 215.8 L225.2 214.0 L225.2 210.4 L228.8 209.2 L232.4 206.8 L236.0 205.0 L238.4 205.6 L239.0 210.4 L242.0 212.8 L243.8 206.2 L245.6 210.4 L248.0 214.0 L249.2 218.5 M252.8 218.5 L256.3 214.0 L261.1 214.6 L265.9 218.5 M269.5 218.5 L273.1 214.0 L275.5 205.6 L277.5 203.0 M11.7 218.0 L10.7 210.5 L13.7 204.4 L19.8 196.3 L21.8 188.1 L25.9 178.0 L23.9 175.0 L29.9 169.9 L38.1 163.8 L38.1 158.7 L42.1 158.7 L46.2 161.8 L50.2 158.7 L58.3 161.8 L64.4 156.7 L68.5 158.7 L78.6 158.7 L86.8 155.7 L94.9 152.6 L101.0 150.6 L99.0 145.5 L92.8 141.5 L99.0 135.4 L102.6 129.2 L108.8 125.1 L112.8 119.0 L119.0 112.8 L127.2 107.7 L131.2 109.8 L137.4 111.8 L141.5 108.7 L145.5 110.8 L151.7 112.8 L155.8 111.8 L161.9 113.9 L170.1 113.9 L178.2 114.9 M178.2 114.9 L184.4 121.0 L186.4 127.1 L184.4 137.4 L186.4 145.5 L189.5 154.0 L193.3 159.7 L192.3 169.9 L197.3 182.0 L196.3 190.2 L201.4 198.3 L204.5 206.4 L204.5 219.0 M178.2 114.9 L182.3 110.8 L186.4 108.7 L192.5 106.7 L198.7 102.6 L201.8 96.5 L206.9 94.4 L214.0 92.4 L215.0 86.3 L219.1 82.2 L221.2 76.0 L223.7 69.0 L233.9 70.0 L240.0 71.0 L248.1 74.0 L254.2 79.1 L256.2 83.2 L260.3 80.2 L264.3 75.0 L270.4 71.0 L278.5 67.0" stroke="#222" stroke-width="0.6" fill="none" stroke-linejoin="round"/><text x="65.5" y="82" font-size="12.6" textLength="9.3" lengthAdjust="spacingAndGlyphs">A</text><rect x="0" y="0" width="277" height="218" fill="none" stroke="#8c8c8c" stroke-width="1"/><path d="M5.5 0v2.5M5.5 218v-2.5M32.9 0v2.5M32.9 218v-2.5M60.3 0v2.5M60.3 218v-2.5M87.7 0v2.5M87.7 218v-2.5M115.1 0v2.5M115.1 218v-2.5M142.5 0v2.5M142.5 218v-2.5M169.9 0v2.5M169.9 218v-2.5M197.3 0v2.5M197.3 218v-2.5M224.7 0v2.5M224.7 218v-2.5M252.1 0v2.5M252.1 218v-2.5M0 25.5h2.5M277 25.5h-2.5M0 58.8h2.5M277 58.8h-2.5M0 92.1h2.5M277 92.1h-2.5M0 125.4h2.5M277 125.4h-2.5M0 158.7h2.5M277 158.7h-2.5M0 192.0h2.5M277 192.0h-2.5" stroke="#666" stroke-width="0.8" fill="none"/><text x="2.4" y="-5.4" font-size="16.5" font-weight="bold">f</text><text x="15.1" y="-4.5" font-size="14.2" textLength="44.2" lengthAdjust="spacingAndGlyphs">0.5km</text><path d="M183.7 13.8v-4.8h75.8v4.8" stroke="#666" stroke-width="0.8" fill="none"/><text x="221" y="21.7" font-size="12" text-anchor="middle" textLength="31.6" lengthAdjust="spacingAndGlyphs">50 km</text></g><g transform="translate(33.5,768.3)"><g clip-path="url(#mk)"><g filter="url(#bl)"><g stroke-width="3.3" fill="none"><path stroke="#ff3f3f" d="M0 1.5h9M216 1.5h3M0 4.5h9M216 4.5h3M0 7.5h12M216 7.5h3M9 10.5h3M213 10.5h3M12 13.5h3M213 13.5h3M15 16.5h3M213 16.5h3M18 19.5h3M213 19.5h3M21 22.5h3M216 22.5h3M24 25.5h3M219 25.5h3M27 28.5h3M222 28.5h3M30 31.5h3M225 31.5h3M33 34.5h3M228 34.5h3M36 37.5h3M39 40.5h3M231 40.5h3M42 43.5h3M45 46.5h3M231 46.5h3M48 49.5h3M51 52.5h3M141 52.5h12M183 52.5h6M54 55.5h3M129 55.5h3M201 55.5h3M57 58.5h3M228 58.5h3M60 61.5h3M213 61.5h3M63 64.5h3M120 64.5h3M219 64.5h9M66 67.5h3M117 67.5h3M69 70.5h3M111 70.5h3M72 73.5h3M105 73.5h3M231 73.5h3M240 73.5h3M234 76.5h3M240 76.5h3M78 79.5h3M96 79.5h3M81 82.5h3M93 82.5h3M132 145.5h9M144 151.5h3M126 154.5h3M144 154.5h3M144 157.5h3M126 160.5h3M132 166.5h6"/><path stroke="#ff2f2f" d="M9 1.5h3M213 1.5h3M9 4.5h3M213 4.5h3M12 7.5h3M213 7.5h3M12 10.5h6M210 10.5h3M15 13.5h3M210 13.5h3M18 16.5h3M210 16.5h3M21 19.5h3M210 19.5h3M24 22.5h3M213 22.5h3M27 25.5h3M216 25.5h3M30 28.5h3M219 28.5h3M33 31.5h3M222 31.5h3M36 34.5h3M225 34.5h3M39 37.5h3M228 37.5h3M42 40.5h3M45 43.5h3M231 43.5h3M48 46.5h3M51 49.5h3M54 52.5h3M135 52.5h6M189 52.5h3M57 55.5h3M204 55.5h3M228 55.5h3M60 58.5h3M210 58.5h3M63 61.5h3M216 61.5h3M66 64.5h3M69 67.5h3M72 70.5h3M108 70.5h3M75 73.5h3M102 73.5h3M234 73.5h6M78 76.5h3M99 76.5h3M237 76.5h3M81 79.5h3M84 82.5h9M156 109.5h3M168 115.5h3M162 124.5h3M168 124.5h3M129 148.5h3M141 148.5h3M126 157.5h3M141 160.5h3M138 163.5h3"/><path stroke="#ff1f1f" d="M12 1.5h6M207 1.5h6M12 4.5h6M207 4.5h6M15 7.5h3M207 7.5h6M18 10.5h3M207 10.5h3M18 13.5h3M207 13.5h3M21 16.5h3M207 16.5h3M24 19.5h3M27 22.5h3M210 22.5h3M30 25.5h3M213 25.5h3M33 28.5h3M216 28.5h3M36 31.5h3M39 34.5h3M42 37.5h3M45 40.5h3M48 43.5h6M51 46.5h3M54 49.5h3M57 52.5h3M132 52.5h3M192 52.5h9M60 55.5h6M126 55.5h3M207 55.5h3M63 58.5h3M123 58.5h3M213 58.5h3M66 61.5h3M225 61.5h3M69 64.5h3M72 67.5h3M114 67.5h3M75 70.5h3M105 70.5h3M78 73.5h3M93 79.5h3M162 109.5h3M156 118.5h3M165 124.5h3M138 148.5h3M141 151.5h3M141 157.5h3M129 163.5h3"/><path stroke="#ff0f0f" d="M18 1.5h3M201 1.5h6M18 4.5h3M204 4.5h3M18 7.5h3M204 7.5h3M21 10.5h3M204 10.5h3M21 13.5h6M24 16.5h6M27 19.5h6M207 19.5h3M30 22.5h6M207 22.5h3M33 25.5h6M210 25.5h3M36 28.5h6M39 31.5h6M219 31.5h3M42 34.5h6M222 34.5h3M45 37.5h6M225 37.5h3M48 40.5h6M228 40.5h3M54 43.5h3M54 46.5h6M57 49.5h6M165 49.5h15M60 52.5h6M129 52.5h3M201 52.5h9M228 52.5h3M66 55.5h3M210 55.5h3M66 58.5h3M69 61.5h3M120 61.5h3M219 61.5h6M72 64.5h3M117 64.5h3M75 67.5h3M111 67.5h3M78 70.5h3M102 70.5h3M99 73.5h3M81 76.5h3M96 76.5h3M84 79.5h3M90 79.5h3M159 109.5h3M156 112.5h3M165 112.5h3M156 115.5h3M168 118.5h3M159 121.5h3M168 121.5h3M132 148.5h6M129 151.5h3M141 154.5h3M132 163.5h6"/><path stroke="#ff0000" d="M21 1.5h180M21 4.5h183M21 7.5h183M24 10.5h180M27 13.5h180M30 16.5h177M33 19.5h174M36 22.5h171M39 25.5h171M42 28.5h174M45 31.5h174M48 34.5h174M51 37.5h174M54 40.5h174M57 43.5h174M60 46.5h171M63 49.5h102M180 49.5h51M66 52.5h63M210 52.5h18M69 55.5h57M213 55.5h15M69 58.5h54M216 58.5h12M72 61.5h48M75 64.5h42M78 67.5h33M81 70.5h21M81 73.5h18M84 76.5h12M87 79.5h3M159 112.5h6M159 115.5h9M159 118.5h9M162 121.5h6M132 151.5h9M129 154.5h12M129 157.5h12M129 160.5h12"/><path stroke="#ff4f4f" d="M219 1.5h3M219 4.5h3M219 7.5h3M0 10.5h9M216 10.5h3M6 13.5h6M216 13.5h3M12 16.5h3M216 16.5h3M15 19.5h3M216 19.5h3M18 22.5h3M219 22.5h3M21 25.5h3M222 25.5h3M24 28.5h3M27 31.5h3M30 34.5h3M33 37.5h3M231 37.5h3M36 40.5h3M39 43.5h3M42 46.5h3M45 49.5h3M231 49.5h3M48 52.5h3M153 52.5h6M180 52.5h3M51 55.5h3M198 55.5h3M54 58.5h3M126 58.5h3M207 58.5h3M57 61.5h3M123 61.5h3M228 61.5h3M60 64.5h3M63 67.5h3M225 67.5h6M66 70.5h3M114 70.5h3M231 70.5h6M69 73.5h3M108 73.5h3M75 76.5h3M102 76.5h3M84 85.5h6M156 121.5h3M171 121.5h3M159 124.5h3M171 124.5h3M165 127.5h6M141 145.5h3M144 148.5h3M126 151.5h3M144 160.5h3M141 163.5h3M129 166.5h3"/><path stroke="#ff5f5f" d="M222 1.5h3M222 4.5h3M222 7.5h3M219 10.5h3M0 13.5h6M219 13.5h3M6 16.5h6M219 16.5h3M12 19.5h3M219 19.5h3M15 22.5h3M222 22.5h3M18 25.5h3M21 28.5h3M225 28.5h3M24 31.5h3M228 31.5h3M27 34.5h3M231 34.5h3M30 37.5h3M234 37.5h3M33 40.5h3M36 43.5h3M39 46.5h3M42 49.5h3M45 52.5h3M159 52.5h9M177 52.5h3M48 55.5h3M132 55.5h3M192 55.5h6M51 58.5h3M204 58.5h3M54 61.5h3M210 61.5h3M57 64.5h3M216 64.5h3M228 64.5h3M60 67.5h3M222 67.5h3M63 70.5h3M228 70.5h3M237 70.5h3M66 73.5h3M228 73.5h3M72 76.5h3M231 76.5h3M243 76.5h3M75 79.5h3M99 79.5h3M78 82.5h3M96 82.5h3M81 85.5h3M90 85.5h3M159 106.5h3M165 109.5h3M168 112.5h3M171 118.5h3M162 127.5h3M171 127.5h3M129 145.5h3M144 145.5h3M147 151.5h3M147 154.5h3M147 157.5h3M126 163.5h3M138 166.5h3"/><path stroke="#ff6f6f" d="M225 1.5h3M225 4.5h3M225 7.5h3M222 10.5h3M222 13.5h3M0 16.5h6M222 16.5h3M9 19.5h3M222 19.5h3M12 22.5h3M225 22.5h3M15 25.5h3M225 25.5h3M18 28.5h3M228 28.5h3M21 31.5h3M231 31.5h6M24 34.5h3M234 34.5h3M27 37.5h3M30 40.5h3M234 40.5h3M33 43.5h3M36 46.5h3M39 49.5h3M42 52.5h3M168 52.5h9M231 52.5h3M45 55.5h3M135 55.5h3M189 55.5h3M48 58.5h3M51 61.5h3M54 64.5h3M57 67.5h3M231 67.5h3M60 70.5h3M225 70.5h3M240 70.5h3M63 73.5h3M111 73.5h3M243 73.5h3M66 76.5h6M105 76.5h3M72 79.5h3M237 79.5h6M75 82.5h3M78 85.5h3M93 85.5h3M78 88.5h12M75 91.5h6M72 94.5h9M72 97.5h9M72 100.5h6M156 106.5h3M162 106.5h3M153 112.5h3M153 115.5h3M171 115.5h3M168 130.5h3M135 142.5h6M126 148.5h3M147 148.5h3M147 160.5h3M144 163.5h3M132 169.5h6"/><path stroke="#ff7f7f" d="M228 1.5h3M228 4.5h3M228 7.5h3M225 10.5h6M225 13.5h6M225 16.5h6M0 19.5h9M225 19.5h6M9 22.5h3M228 22.5h3M12 25.5h3M228 25.5h6M15 28.5h3M231 28.5h9M18 31.5h3M237 31.5h21M21 34.5h3M237 34.5h21M24 37.5h3M237 37.5h3M27 40.5h3M30 43.5h3M234 43.5h3M33 46.5h3M36 49.5h3M39 52.5h3M42 55.5h3M138 55.5h6M186 55.5h3M261 55.5h6M45 58.5h3M129 58.5h3M201 58.5h3M261 58.5h3M48 61.5h3M126 61.5h3M207 61.5h3M51 64.5h3M123 64.5h3M213 64.5h3M54 67.5h3M120 67.5h3M219 67.5h3M57 70.5h3M117 70.5h3M60 73.5h3M63 76.5h3M108 76.5h3M228 76.5h3M69 79.5h3M102 79.5h3M234 79.5h3M72 82.5h3M99 82.5h3M75 85.5h3M75 88.5h3M72 91.5h3M81 91.5h3M69 94.5h3M81 94.5h3M69 97.5h3M69 100.5h3M78 100.5h3M153 109.5h3M165 130.5h3M171 130.5h3M132 142.5h3M141 142.5h6M147 145.5h3M150 148.5h3M150 151.5h3M150 154.5h3M150 157.5h3M126 166.5h3M141 166.5h3M129 169.5h3"/><path stroke="#ff8f8f" d="M231 1.5h6M231 4.5h6M231 7.5h3M231 10.5h3M231 13.5h3M231 16.5h3M231 19.5h3M0 22.5h9M231 22.5h3M9 25.5h3M234 25.5h3M12 28.5h3M240 28.5h18M15 31.5h3M258 31.5h3M18 34.5h3M258 34.5h3M21 37.5h3M240 37.5h3M249 37.5h12M24 40.5h3M27 43.5h3M30 46.5h3M234 46.5h3M33 49.5h3M36 52.5h3M258 52.5h9M39 55.5h3M144 55.5h6M183 55.5h3M231 55.5h3M258 55.5h3M267 55.5h6M279 55.5h3M42 58.5h3M198 58.5h3M258 58.5h3M264 58.5h6M45 61.5h3M48 64.5h3M231 64.5h3M51 67.5h3M234 67.5h3M54 70.5h3M222 70.5h3M57 73.5h3M114 73.5h3M225 73.5h3M60 76.5h3M63 79.5h6M105 79.5h3M231 79.5h3M243 79.5h3M69 82.5h3M72 85.5h3M96 85.5h3M72 88.5h3M90 88.5h3M69 91.5h3M84 91.5h3M66 97.5h3M81 97.5h3M66 100.5h3M72 103.5h6M153 118.5h3M174 121.5h3M273 121.5h3M156 124.5h3M174 124.5h3M159 127.5h3M162 130.5h3M129 142.5h3M147 142.5h3M126 145.5h3M150 145.5h3M153 148.5h3M153 151.5h3M123 154.5h3M153 154.5h3M123 157.5h3M123 160.5h3M150 160.5h3M147 163.5h3M144 166.5h3M138 169.5h3"/><path stroke="#ff9f9f" d="M237 1.5h6M237 4.5h6M234 7.5h6M234 10.5h3M234 13.5h3M234 16.5h3M234 19.5h3M234 22.5h3M0 25.5h9M237 25.5h21M9 28.5h3M258 28.5h6M12 31.5h3M261 31.5h3M15 34.5h3M261 34.5h3M15 37.5h6M243 37.5h6M261 37.5h3M21 40.5h3M237 40.5h3M252 40.5h9M24 43.5h3M27 46.5h3M30 49.5h3M258 49.5h9M30 52.5h6M267 52.5h15M36 55.5h3M150 55.5h6M273 55.5h6M39 58.5h3M132 58.5h3M192 58.5h6M231 58.5h3M270 58.5h12M42 61.5h3M204 61.5h3M231 61.5h3M261 61.5h3M45 64.5h3M210 64.5h3M48 67.5h3M216 67.5h3M51 70.5h3M243 70.5h3M54 73.5h3M246 73.5h3M57 76.5h3M111 76.5h3M246 76.5h3M60 79.5h3M63 82.5h6M102 82.5h3M69 85.5h3M69 88.5h3M93 88.5h3M66 91.5h3M87 91.5h3M66 94.5h3M84 94.5h3M81 100.5h3M69 103.5h3M78 103.5h3M156 103.5h6M153 106.5h3M165 106.5h3M168 109.5h3M171 112.5h3M93 115.5h3M93 118.5h9M174 118.5h3M270 118.5h12M93 121.5h12M270 121.5h3M276 121.5h6M99 124.5h6M270 124.5h12M174 127.5h3M273 127.5h3M165 133.5h6M135 139.5h9M150 142.5h3M153 145.5h3M123 151.5h3M153 157.5h3M153 160.5h3M123 163.5h3M150 163.5h6M147 166.5h6M126 169.5h3M141 169.5h3M132 172.5h3M162 196.5h6M162 199.5h9M162 202.5h9M165 205.5h3"/><path stroke="#ffafaf" d="M243 1.5h9M243 4.5h9M240 7.5h9M237 10.5h6M237 13.5h3M237 16.5h3M237 19.5h3M237 22.5h6M252 22.5h9M258 25.5h9M0 28.5h9M264 28.5h3M6 31.5h6M264 31.5h3M9 34.5h6M264 34.5h3M12 37.5h3M264 37.5h3M15 40.5h6M249 40.5h3M261 40.5h6M18 43.5h6M255 43.5h9M21 46.5h6M258 46.5h9M24 49.5h6M234 49.5h3M267 49.5h3M27 52.5h3M255 52.5h3M30 55.5h6M156 55.5h6M180 55.5h3M255 55.5h3M33 58.5h6M135 58.5h3M189 58.5h3M255 58.5h3M36 61.5h6M129 61.5h3M258 61.5h3M264 61.5h3M39 64.5h6M42 67.5h6M123 67.5h3M237 67.5h3M45 70.5h6M120 70.5h3M219 70.5h3M51 73.5h3M117 73.5h3M222 73.5h3M51 76.5h6M225 76.5h3M54 79.5h6M108 79.5h3M57 82.5h6M63 85.5h6M99 85.5h3M66 88.5h3M63 91.5h3M90 91.5h3M63 94.5h3M63 97.5h3M84 97.5h3M63 100.5h3M66 103.5h3M90 115.5h3M96 115.5h6M273 115.5h6M90 118.5h3M102 118.5h3M201 118.5h6M105 121.5h3M153 121.5h3M201 121.5h6M267 121.5h3M93 124.5h6M105 124.5h3M267 124.5h3M99 127.5h6M270 127.5h3M276 127.5h6M162 133.5h3M171 133.5h3M12 139.5h6M132 139.5h3M144 139.5h6M153 142.5h3M156 145.5h3M123 148.5h3M156 148.5h3M156 151.5h3M156 154.5h3M156 157.5h3M156 160.5h3M156 163.5h3M153 166.5h6M144 169.5h3M150 169.5h9M129 172.5h3M135 172.5h3M162 190.5h3M159 193.5h9M159 196.5h3M168 196.5h3M159 199.5h3M171 199.5h3M159 202.5h3M171 202.5h3M159 205.5h6M168 205.5h6M162 208.5h9M162 211.5h6M75 214.5h3M186 214.5h12M75 217.5h3M183 217.5h15M75 220.5h3M186 220.5h12"/><path stroke="#ffbfbf" d="M252 1.5h30M252 4.5h30M249 7.5h33M243 10.5h39M240 13.5h6M258 13.5h24M240 16.5h3M258 16.5h24M240 19.5h6M252 19.5h30M243 22.5h9M261 22.5h21M267 25.5h15M267 28.5h15M0 31.5h6M267 31.5h15M0 34.5h9M267 34.5h15M3 37.5h9M267 37.5h3M0 40.5h15M240 40.5h3M246 40.5h3M267 40.5h3M0 43.5h18M237 43.5h3M252 43.5h3M264 43.5h6M0 46.5h21M255 46.5h3M267 46.5h3M0 49.5h24M255 49.5h3M270 49.5h12M0 52.5h27M0 55.5h30M162 55.5h3M177 55.5h3M0 58.5h33M138 58.5h3M186 58.5h3M0 61.5h36M201 61.5h3M255 61.5h3M267 61.5h6M279 61.5h3M0 64.5h39M126 64.5h3M207 64.5h3M234 64.5h3M0 67.5h42M213 67.5h3M0 70.5h45M246 70.5h3M0 73.5h51M0 76.5h51M114 76.5h3M0 79.5h54M111 79.5h3M228 79.5h3M246 79.5h3M0 82.5h57M105 82.5h3M237 82.5h6M0 85.5h63M0 88.5h66M96 88.5h3M0 91.5h63M0 94.5h63M87 94.5h3M0 97.5h63M0 100.5h54M57 100.5h6M84 100.5h3M0 103.5h54M63 103.5h3M81 103.5h3M162 103.5h3M183 103.5h6M237 103.5h6M0 106.5h54M240 106.5h3M0 109.5h27M36 109.5h15M0 112.5h27M36 112.5h15M90 112.5h9M0 115.5h27M36 115.5h15M102 115.5h3M174 115.5h3M201 115.5h6M270 115.5h3M279 115.5h3M0 118.5h27M36 118.5h12M105 118.5h3M198 118.5h3M207 118.5h3M267 118.5h3M0 121.5h45M90 121.5h3M108 121.5h3M0 124.5h42M108 124.5h3M201 124.5h3M0 127.5h39M96 127.5h3M105 127.5h6M156 127.5h3M267 127.5h3M0 130.5h36M159 130.5h3M174 130.5h3M270 130.5h12M0 133.5h33M0 136.5h27M165 136.5h6M0 139.5h12M18 139.5h9M129 139.5h3M150 139.5h6M0 142.5h24M126 142.5h3M156 142.5h6M9 145.5h12M159 145.5h3M159 148.5h3M159 151.5h3M123 166.5h3M147 169.5h3M126 172.5h3M138 172.5h3M150 172.5h9M153 175.5h9M156 178.5h6M156 181.5h6M156 184.5h6M159 187.5h6M159 190.5h3M165 190.5h3M168 193.5h3M171 196.5h3M174 202.5h3M174 205.5h3M159 208.5h3M171 208.5h6M195 208.5h6M72 211.5h6M159 211.5h3M168 211.5h36M72 214.5h3M78 214.5h3M156 214.5h30M198 214.5h6M72 217.5h3M78 217.5h3M156 217.5h27M198 217.5h6M72 220.5h3M78 220.5h3M159 220.5h27M198 220.5h6"/><path stroke="#ffcfcf" d="M246 13.5h12M243 16.5h15M246 19.5h6M0 37.5h3M270 37.5h12M243 40.5h3M270 40.5h12M270 43.5h12M270 46.5h12M165 55.5h3M174 55.5h3M141 58.5h6M195 61.5h6M273 61.5h6M240 67.5h3M108 82.5h3M234 82.5h3M243 82.5h3M102 85.5h3M93 91.5h3M54 100.5h3M183 100.5h6M237 100.5h9M54 103.5h9M84 103.5h3M153 103.5h3M189 103.5h3M234 103.5h3M243 103.5h3M54 106.5h3M69 106.5h15M183 106.5h6M234 106.5h6M243 106.5h3M27 109.5h9M51 109.5h6M171 109.5h3M27 112.5h9M51 112.5h3M87 112.5h3M99 112.5h3M174 112.5h3M273 112.5h6M27 115.5h9M51 115.5h3M87 115.5h3M105 115.5h3M198 115.5h3M207 115.5h3M267 115.5h3M27 118.5h9M48 118.5h3M87 118.5h3M108 118.5h3M264 118.5h3M45 121.5h3M111 121.5h3M198 121.5h3M207 121.5h3M264 121.5h3M42 124.5h3M90 124.5h3M111 124.5h3M153 124.5h3M204 124.5h3M264 124.5h3M39 127.5h6M93 127.5h3M111 127.5h3M264 127.5h3M36 130.5h6M96 130.5h12M267 130.5h3M33 133.5h6M159 133.5h3M27 136.5h6M138 136.5h9M159 136.5h6M27 139.5h3M156 139.5h12M24 142.5h3M162 142.5h3M0 145.5h9M21 145.5h3M123 145.5h3M6 148.5h18M159 154.5h3M159 157.5h3M159 160.5h3M159 163.5h3M159 166.5h3M123 169.5h3M159 169.5h3M141 172.5h9M159 172.5h3M129 175.5h9M150 175.5h3M153 178.5h3M153 181.5h3M162 184.5h3M156 187.5h3M165 187.5h3M156 190.5h3M168 190.5h3M156 193.5h3M171 193.5h3M156 196.5h3M156 199.5h3M174 199.5h3M156 202.5h3M156 205.5h3M177 205.5h3M198 205.5h6M156 208.5h3M177 208.5h18M201 208.5h6M78 211.5h3M156 211.5h3M204 211.5h3M69 214.5h3M204 214.5h6M69 217.5h3M204 217.5h6M156 220.5h3M204 220.5h3"/><path stroke="#ffefef" d="M240 43.5h3M246 43.5h3M252 49.5h3M252 52.5h3M234 55.5h3M252 55.5h3M153 58.5h3M252 58.5h3M135 61.5h3M189 61.5h3M234 61.5h3M252 61.5h3M129 64.5h3M201 64.5h3M261 64.5h3M126 67.5h3M210 67.5h3M246 67.5h3M123 70.5h3M249 70.5h3M120 73.5h3M249 73.5h3M249 76.5h3M111 82.5h3M228 82.5h3M246 82.5h3M105 85.5h3M96 91.5h3M240 97.5h3M87 100.5h3M153 100.5h3M159 100.5h3M180 100.5h3M189 100.5h3M231 100.5h3M246 100.5h3M87 103.5h3M165 103.5h3M228 103.5h3M87 106.5h3M150 106.5h3M180 106.5h3M231 106.5h3M246 106.5h3M57 109.5h3M81 109.5h6M96 109.5h6M150 109.5h3M174 109.5h3M180 109.5h6M189 109.5h3M234 109.5h3M243 109.5h3M84 112.5h3M105 112.5h3M150 112.5h3M195 112.5h6M204 112.5h6M267 112.5h3M54 115.5h3M111 115.5h3M150 115.5h3M177 115.5h3M264 115.5h3M114 118.5h3M177 118.5h3M195 118.5h3M261 118.5h3M51 121.5h3M210 121.5h3M261 121.5h3M48 124.5h3M87 124.5h3M261 124.5h3M114 127.5h3M153 127.5h3M177 127.5h3M207 127.5h3M261 127.5h3M45 130.5h3M114 130.5h3M264 130.5h3M42 133.5h3M96 133.5h3M105 133.5h6M153 133.5h3M174 133.5h3M267 133.5h3M39 136.5h3M129 136.5h3M33 139.5h3M168 139.5h3M30 142.5h3M165 142.5h3M27 145.5h3M165 145.5h3M27 148.5h3M0 151.5h9M24 151.5h3M120 151.5h3M6 154.5h18M120 154.5h3M120 160.5h3M162 160.5h3M120 163.5h3M162 163.5h3M162 166.5h3M162 169.5h3M123 172.5h3M162 172.5h3M141 175.5h9M162 175.5h3M150 181.5h3M165 184.5h3M153 187.5h3M168 187.5h3M153 190.5h3M171 190.5h3M174 193.5h3M177 199.5h3M198 199.5h6M273 199.5h6M153 202.5h3M180 202.5h3M195 202.5h3M204 202.5h3M270 202.5h12M153 205.5h3M183 205.5h9M207 205.5h3M273 205.5h6M210 208.5h3M81 211.5h3M210 211.5h3M246 211.5h3M12 214.5h9M150 214.5h3M243 214.5h12M12 217.5h9M150 217.5h3M243 217.5h12M12 220.5h6M150 220.5h3M210 220.5h3M243 220.5h12"/><path stroke="#ffffff" d="M243 43.5h3M249 46.5h3M156 58.5h3M180 58.5h3M234 58.5h3M138 61.5h9M186 61.5h3M198 64.5h3M237 64.5h3M252 64.5h3M264 64.5h3M207 67.5h3M249 67.5h3M213 70.5h3M144 73.5h6M144 76.5h6M219 76.5h3M222 79.5h3M249 79.5h3M114 82.5h3M225 82.5h3M108 85.5h3M102 88.5h3M210 88.5h9M99 91.5h3M213 91.5h3M93 94.5h3M90 97.5h3M183 97.5h6M234 97.5h6M243 97.5h6M129 100.5h3M162 100.5h3M228 100.5h3M126 103.5h9M150 103.5h3M192 103.5h3M90 106.5h6M123 106.5h9M171 106.5h3M177 106.5h3M192 106.5h3M228 106.5h3M60 109.5h6M78 109.5h3M102 109.5h3M123 109.5h6M177 109.5h3M192 109.5h6M231 109.5h3M270 109.5h12M57 112.5h3M108 112.5h6M123 112.5h3M177 112.5h3M192 112.5h3M210 112.5h3M264 112.5h3M84 115.5h3M114 115.5h9M213 115.5h3M54 118.5h3M84 118.5h3M117 118.5h6M150 118.5h3M213 118.5h3M117 121.5h3M195 121.5h3M117 124.5h3M210 124.5h3M48 127.5h3M87 127.5h3M117 127.5h3M198 127.5h3M90 130.5h3M153 130.5h3M201 130.5h6M45 133.5h3M93 133.5h3M111 133.5h3M141 133.5h12M42 136.5h3M96 136.5h9M126 136.5h3M270 136.5h12M36 139.5h6M123 139.5h3M33 142.5h3M168 142.5h3M30 145.5h3M30 148.5h3M120 148.5h3M165 148.5h3M27 151.5h3M165 151.5h3M0 154.5h6M24 154.5h3M165 154.5h3M210 154.5h6M0 157.5h21M165 157.5h3M210 157.5h9M0 160.5h12M213 160.5h6M0 163.5h9M0 166.5h9M120 166.5h3M0 169.5h9M0 172.5h9M0 175.5h9M123 175.5h3M0 178.5h9M129 178.5h9M147 178.5h3M0 181.5h9M165 181.5h3M0 184.5h9M150 184.5h3M0 187.5h9M0 190.5h9M0 193.5h9M153 193.5h3M0 196.5h9M153 196.5h3M177 196.5h3M201 196.5h3M270 196.5h12M0 199.5h9M153 199.5h3M195 199.5h3M204 199.5h3M267 199.5h6M279 199.5h3M0 202.5h9M183 202.5h3M192 202.5h3M207 202.5h3M267 202.5h3M0 205.5h12M75 205.5h3M210 205.5h3M264 205.5h9M279 205.5h3M0 208.5h21M69 208.5h3M81 208.5h3M150 208.5h3M213 208.5h3M243 208.5h9M261 208.5h21M0 211.5h24M66 211.5h3M150 211.5h3M213 211.5h3M240 211.5h6M249 211.5h33M0 214.5h12M21 214.5h3M66 214.5h3M213 214.5h3M240 214.5h3M255 214.5h27M0 217.5h12M21 217.5h3M66 217.5h3M84 217.5h3M213 217.5h3M240 217.5h3M255 217.5h27M0 220.5h12M18 220.5h6M66 220.5h3M213 220.5h3M240 220.5h3M255 220.5h27"/><path stroke="#ffdfdf" d="M249 43.5h3M237 46.5h3M252 46.5h3M234 52.5h3M168 55.5h6M147 58.5h6M183 58.5h3M132 61.5h3M192 61.5h3M204 64.5h3M255 64.5h6M243 67.5h3M216 70.5h3M219 73.5h3M117 76.5h3M222 76.5h3M114 79.5h3M225 79.5h3M231 82.5h3M99 88.5h3M90 94.5h3M87 97.5h3M156 100.5h3M234 100.5h3M180 103.5h3M231 103.5h3M246 103.5h3M57 106.5h12M84 106.5h3M168 106.5h3M189 106.5h3M87 109.5h9M186 109.5h3M237 109.5h6M54 112.5h3M102 112.5h3M201 112.5h3M270 112.5h3M279 112.5h3M108 115.5h3M195 115.5h3M210 115.5h3M51 118.5h3M111 118.5h3M210 118.5h3M48 121.5h3M87 121.5h3M114 121.5h3M177 121.5h3M45 124.5h3M114 124.5h3M177 124.5h3M198 124.5h3M207 124.5h3M45 127.5h3M90 127.5h3M201 127.5h6M42 130.5h3M93 130.5h3M108 130.5h6M156 130.5h3M39 133.5h3M99 133.5h6M156 133.5h3M270 133.5h12M33 136.5h6M132 136.5h6M147 136.5h12M171 136.5h3M30 139.5h3M126 139.5h3M27 142.5h3M123 142.5h3M24 145.5h3M162 145.5h3M0 148.5h6M24 148.5h3M162 148.5h3M9 151.5h15M162 151.5h3M162 154.5h3M120 157.5h3M162 157.5h3M126 175.5h3M138 175.5h3M150 178.5h3M162 178.5h3M162 181.5h3M153 184.5h3M174 196.5h3M177 202.5h3M198 202.5h6M180 205.5h3M192 205.5h6M204 205.5h3M72 208.5h9M153 208.5h3M207 208.5h3M69 211.5h3M153 211.5h3M207 211.5h3M81 214.5h3M153 214.5h3M210 214.5h3M81 217.5h3M153 217.5h3M210 217.5h3M69 220.5h3M81 220.5h3M153 220.5h3M207 220.5h3"/><path stroke="#dfdfff" d="M240 46.5h3M246 46.5h3M249 49.5h3M162 58.5h3M177 58.5h3M153 61.5h3M183 61.5h3M249 61.5h3M135 64.5h9M147 64.5h3M186 64.5h3M273 64.5h6M129 67.5h3M141 67.5h3M147 67.5h6M204 67.5h3M255 67.5h3M126 70.5h3M141 70.5h3M210 70.5h3M252 70.5h3M123 73.5h3M141 73.5h3M153 73.5h3M141 76.5h3M153 76.5h3M141 79.5h3M150 79.5h3M117 82.5h3M144 82.5h6M216 82.5h6M249 82.5h3M114 85.5h3M207 85.5h3M222 85.5h12M246 85.5h3M108 88.5h3M204 88.5h3M222 88.5h3M102 91.5h3M207 91.5h3M273 91.5h6M99 94.5h3M210 94.5h3M219 94.5h6M240 94.5h9M273 94.5h6M126 97.5h12M153 97.5h9M216 97.5h15M249 97.5h3M93 100.5h3M123 100.5h3M135 100.5h3M165 100.5h3M177 100.5h3M192 100.5h3M219 100.5h6M93 103.5h6M120 103.5h3M135 103.5h3M219 103.5h3M102 106.5h6M120 106.5h3M195 106.5h3M219 106.5h3M270 106.5h12M111 109.5h9M201 109.5h24M249 109.5h3M264 109.5h3M129 112.5h3M219 112.5h6M228 112.5h6M243 112.5h3M261 112.5h3M180 115.5h3M219 115.5h3M258 115.5h3M126 118.5h3M192 118.5h3M216 118.5h3M258 118.5h3M54 121.5h3M123 121.5h3M123 124.5h3M150 124.5h3M213 124.5h3M51 127.5h3M84 127.5h3M123 127.5h3M150 127.5h3M123 130.5h3M147 130.5h3M198 130.5h3M210 130.5h3M48 133.5h3M87 133.5h3M120 133.5h9M48 136.5h3M90 136.5h3M111 136.5h12M174 136.5h3M201 136.5h3M207 136.5h3M45 139.5h3M93 139.5h12M120 139.5h3M201 139.5h9M270 139.5h3M279 139.5h3M39 142.5h3M204 142.5h6M36 145.5h3M204 145.5h9M33 148.5h3M168 148.5h3M204 148.5h3M213 148.5h3M33 151.5h3M168 151.5h3M204 151.5h3M216 151.5h3M30 154.5h3M168 154.5h3M204 154.5h3M219 154.5h3M27 157.5h3M168 157.5h3M204 157.5h3M222 157.5h3M21 160.5h3M204 160.5h3M222 160.5h3M18 163.5h3M207 163.5h6M222 163.5h6M15 166.5h3M165 166.5h3M213 166.5h12M15 169.5h3M165 169.5h3M12 172.5h3M165 172.5h3M12 175.5h3M120 175.5h3M12 178.5h3M123 178.5h3M12 181.5h3M129 181.5h6M168 181.5h3M12 184.5h3M12 187.5h3M12 190.5h3M150 190.5h3M267 190.5h15M12 193.5h3M177 193.5h3M198 193.5h3M204 193.5h3M264 193.5h3M12 196.5h3M180 196.5h3M195 196.5h3M207 196.5h3M261 196.5h3M12 199.5h3M183 199.5h3M192 199.5h3M210 199.5h3M261 199.5h3M15 202.5h6M150 202.5h3M213 202.5h3M258 202.5h3M21 205.5h6M69 205.5h3M81 205.5h3M216 205.5h3M237 205.5h21M24 208.5h3M66 208.5h3M84 208.5h3M147 208.5h3M216 208.5h3M234 208.5h6M27 211.5h3M147 211.5h3M219 211.5h3M234 211.5h3M27 214.5h3M63 214.5h3M219 214.5h3M234 214.5h3M27 217.5h3M63 217.5h3M219 217.5h3M234 217.5h3M27 220.5h3M63 220.5h3M219 220.5h3M234 220.5h3"/><path stroke="#cfcfff" d="M243 46.5h3M249 52.5h3M249 55.5h3M165 58.5h3M174 58.5h3M249 58.5h3M156 61.5h3M150 64.5h3M183 64.5h3M240 64.5h3M246 64.5h3M132 67.5h3M138 67.5h3M153 67.5h3M186 67.5h18M258 67.5h3M138 70.5h3M153 70.5h3M186 70.5h3M156 73.5h3M183 73.5h3M213 73.5h3M252 73.5h3M171 76.5h12M216 76.5h3M120 79.5h3M153 79.5h3M168 79.5h12M216 79.5h3M141 82.5h3M150 82.5h3M168 82.5h9M210 82.5h6M117 85.5h3M144 85.5h3M171 85.5h3M204 85.5h3M249 85.5h3M111 88.5h6M201 88.5h3M225 88.5h3M105 91.5h6M204 91.5h3M222 91.5h3M252 91.5h21M279 91.5h3M102 94.5h3M180 94.5h9M225 94.5h15M249 94.5h24M279 94.5h3M96 97.5h3M123 97.5h3M138 97.5h15M162 97.5h3M177 97.5h3M192 97.5h3M213 97.5h3M252 97.5h6M267 97.5h15M96 100.5h3M120 100.5h3M138 100.5h3M147 100.5h3M216 100.5h3M252 100.5h3M99 103.5h6M117 103.5h3M147 103.5h3M171 103.5h6M216 103.5h3M252 103.5h3M273 103.5h6M108 106.5h12M147 106.5h3M213 106.5h6M252 106.5h3M267 106.5h3M132 109.5h3M261 109.5h3M63 112.5h3M78 112.5h3M225 112.5h3M246 112.5h3M258 112.5h3M60 115.5h3M81 115.5h3M129 115.5h3M183 115.5h3M189 115.5h3M222 115.5h3M57 118.5h3M180 118.5h3M219 118.5h3M255 118.5h3M126 121.5h3M180 121.5h3M192 121.5h3M216 121.5h3M255 121.5h3M54 124.5h3M126 124.5h3M255 124.5h3M126 127.5h3M195 127.5h3M213 127.5h3M255 127.5h3M51 130.5h3M84 130.5h3M126 130.5h6M141 130.5h6M258 130.5h3M51 133.5h3M198 133.5h3M210 133.5h3M261 133.5h3M87 136.5h3M210 136.5h3M264 136.5h3M48 139.5h3M90 139.5h3M105 139.5h6M117 139.5h3M210 139.5h3M267 139.5h3M42 142.5h6M90 142.5h12M117 142.5h3M171 142.5h3M201 142.5h3M210 142.5h3M270 142.5h12M39 145.5h3M93 145.5h6M201 145.5h3M213 145.5h3M36 148.5h3M93 148.5h6M201 148.5h3M216 148.5h3M93 151.5h6M117 151.5h3M201 151.5h3M219 151.5h3M33 154.5h3M93 154.5h6M117 154.5h3M201 154.5h3M222 154.5h3M30 157.5h3M93 157.5h9M117 157.5h3M201 157.5h3M225 157.5h3M24 160.5h6M90 160.5h12M117 160.5h3M168 160.5h3M201 160.5h3M225 160.5h3M21 163.5h3M90 163.5h15M117 163.5h3M201 163.5h6M18 166.5h3M90 166.5h12M117 166.5h3M204 166.5h9M225 166.5h3M18 169.5h3M93 169.5h9M117 169.5h3M216 169.5h12M261 169.5h3M15 172.5h3M258 172.5h6M15 175.5h3M15 178.5h3M120 178.5h3M15 181.5h3M126 181.5h3M135 181.5h12M15 184.5h3M147 184.5h3M171 184.5h3M15 187.5h3M174 187.5h3M198 187.5h6M267 187.5h15M15 190.5h3M177 190.5h3M198 190.5h9M264 190.5h3M15 193.5h3M150 193.5h3M195 193.5h3M207 193.5h3M261 193.5h3M15 196.5h3M150 196.5h3M192 196.5h3M210 196.5h3M258 196.5h3M15 199.5h6M150 199.5h3M186 199.5h6M213 199.5h3M231 199.5h9M255 199.5h6M21 202.5h12M75 202.5h3M216 202.5h9M228 202.5h30M27 205.5h6M66 205.5h3M219 205.5h6M231 205.5h6M27 208.5h6M219 208.5h6M231 208.5h3M30 211.5h3M63 211.5h3M87 211.5h3M222 211.5h3M231 211.5h3M30 214.5h3M87 214.5h3M102 214.5h6M144 214.5h3M222 214.5h3M231 214.5h3M30 217.5h3M87 217.5h3M102 217.5h6M144 217.5h3M222 217.5h3M231 217.5h3M30 220.5h3M87 220.5h3M102 220.5h6M222 220.5h3M231 220.5h3"/><path stroke="#efefff" d="M237 49.5h3M159 58.5h3M147 61.5h6M132 64.5h3M144 64.5h3M189 64.5h9M249 64.5h3M267 64.5h6M279 64.5h3M144 67.5h3M252 67.5h3M144 70.5h9M150 73.5h3M216 73.5h3M120 76.5h3M150 76.5h3M117 79.5h3M144 79.5h6M219 79.5h3M222 82.5h3M111 85.5h3M210 85.5h12M234 85.5h12M105 88.5h3M207 88.5h3M219 88.5h3M210 91.5h3M216 91.5h6M96 94.5h3M213 94.5h6M93 97.5h3M180 97.5h3M189 97.5h3M231 97.5h3M90 100.5h3M126 100.5h3M132 100.5h3M150 100.5h3M225 100.5h3M249 100.5h3M90 103.5h3M123 103.5h3M168 103.5h3M177 103.5h3M222 103.5h6M249 103.5h3M96 106.5h6M132 106.5h3M174 106.5h3M222 106.5h6M249 106.5h3M66 109.5h12M105 109.5h6M120 109.5h3M129 109.5h3M198 109.5h3M225 109.5h6M246 109.5h3M267 109.5h3M60 112.5h3M81 112.5h3M114 112.5h9M126 112.5h3M180 112.5h12M213 112.5h6M234 112.5h9M57 115.5h3M123 115.5h6M192 115.5h3M216 115.5h3M261 115.5h3M123 118.5h3M84 121.5h3M120 121.5h3M150 121.5h3M213 121.5h3M258 121.5h3M51 124.5h3M84 124.5h3M120 124.5h3M195 124.5h3M258 124.5h3M120 127.5h3M210 127.5h3M258 127.5h3M48 130.5h3M87 130.5h3M117 130.5h6M150 130.5h3M177 130.5h3M207 130.5h3M261 130.5h3M90 133.5h3M114 133.5h6M129 133.5h12M201 133.5h9M264 133.5h3M45 136.5h3M93 136.5h3M105 136.5h6M123 136.5h3M204 136.5h3M267 136.5h3M42 139.5h3M171 139.5h3M273 139.5h6M36 142.5h3M120 142.5h3M33 145.5h3M120 145.5h3M168 145.5h3M207 148.5h6M30 151.5h3M207 151.5h9M27 154.5h3M207 154.5h3M216 154.5h3M21 157.5h6M207 157.5h3M219 157.5h3M12 160.5h9M165 160.5h3M207 160.5h6M219 160.5h3M9 163.5h9M165 163.5h3M213 163.5h9M9 166.5h6M9 169.5h6M120 169.5h3M9 172.5h3M120 172.5h3M9 175.5h3M165 175.5h3M9 178.5h3M126 178.5h3M138 178.5h9M165 178.5h3M9 181.5h3M147 181.5h3M9 184.5h3M168 184.5h3M9 187.5h3M150 187.5h3M171 187.5h3M9 190.5h3M174 190.5h3M9 193.5h3M201 193.5h3M267 193.5h15M9 196.5h3M198 196.5h3M204 196.5h3M264 196.5h6M9 199.5h3M180 199.5h3M207 199.5h3M264 199.5h3M9 202.5h6M186 202.5h6M210 202.5h3M261 202.5h6M12 205.5h9M72 205.5h3M78 205.5h3M150 205.5h3M213 205.5h3M258 205.5h6M21 208.5h3M240 208.5h3M252 208.5h9M24 211.5h3M84 211.5h3M216 211.5h3M237 211.5h3M24 214.5h3M84 214.5h3M147 214.5h3M216 214.5h3M237 214.5h3M24 217.5h3M147 217.5h3M216 217.5h3M237 217.5h3M24 220.5h3M84 220.5h3M147 220.5h3M216 220.5h3M237 220.5h3"/><path stroke="#afafff" d="M240 49.5h3M246 49.5h3M159 61.5h3M156 64.5h3M180 64.5h3M156 67.5h3M180 67.5h3M129 70.5h9M159 70.5h3M177 70.5h3M195 70.5h3M204 70.5h3M255 70.5h3M126 73.5h3M159 73.5h15M189 73.5h3M210 73.5h3M123 76.5h3M162 76.5h3M186 76.5h3M138 79.5h3M156 79.5h9M183 79.5h3M210 79.5h3M252 79.5h3M120 82.5h3M138 82.5h3M153 82.5h3M165 82.5h3M180 82.5h3M201 82.5h3M252 82.5h3M120 85.5h3M150 85.5h3M165 85.5h3M177 85.5h3M198 85.5h3M255 85.5h3M120 88.5h3M138 88.5h3M147 88.5h3M168 88.5h3M177 88.5h3M198 88.5h3M117 91.5h6M135 91.5h6M147 91.5h6M168 91.5h15M198 91.5h3M231 91.5h9M108 94.5h18M153 94.5h9M171 94.5h6M192 94.5h3M204 94.5h3M105 97.5h15M165 97.5h6M174 97.5h3M195 97.5h3M105 100.5h12M171 100.5h3M195 100.5h3M210 100.5h3M258 100.5h6M141 103.5h6M258 103.5h9M201 106.5h3M207 106.5h3M258 106.5h3M147 109.5h3M69 112.5h9M63 115.5h3M249 115.5h6M60 118.5h3M183 118.5h3M189 118.5h3M225 118.5h6M249 118.5h6M129 121.5h3M222 121.5h3M252 121.5h3M57 124.5h3M129 124.5h3M192 124.5h3M219 124.5h3M132 127.5h3M180 127.5h3M216 127.5h3M252 127.5h3M81 130.5h3M195 130.5h3M54 133.5h3M213 133.5h3M258 133.5h3M54 136.5h3M84 136.5h3M213 136.5h3M261 136.5h3M54 139.5h3M174 139.5h3M198 139.5h3M213 139.5h3M264 139.5h3M51 142.5h3M87 142.5h3M108 142.5h9M198 142.5h3M216 142.5h3M267 142.5h3M48 145.5h3M87 145.5h3M102 145.5h6M198 145.5h3M219 145.5h3M267 145.5h3M42 148.5h6M87 148.5h3M102 148.5h3M198 148.5h3M222 148.5h3M267 148.5h3M42 151.5h3M87 151.5h3M102 151.5h3M198 151.5h3M225 151.5h3M267 151.5h3M39 154.5h3M84 154.5h6M105 154.5h3M174 154.5h3M198 154.5h3M228 154.5h3M267 154.5h3M36 157.5h3M84 157.5h3M105 157.5h3M174 157.5h3M198 157.5h3M231 157.5h3M264 157.5h3M33 160.5h3M81 160.5h6M105 160.5h3M195 160.5h3M231 160.5h3M261 160.5h3M27 163.5h6M81 163.5h3M108 163.5h3M114 163.5h3M195 163.5h3M231 163.5h3M255 163.5h6M24 166.5h3M81 166.5h6M108 166.5h3M114 166.5h3M195 166.5h3M231 166.5h3M255 166.5h3M21 169.5h3M84 169.5h3M105 169.5h6M114 169.5h3M168 169.5h3M195 169.5h3M231 169.5h3M252 169.5h3M21 172.5h3M87 172.5h3M105 172.5h12M168 172.5h3M195 172.5h3M210 172.5h21M249 172.5h3M21 175.5h3M90 175.5h18M114 175.5h3M168 175.5h3M195 175.5h3M204 175.5h6M249 175.5h3M273 175.5h6M21 178.5h3M96 178.5h3M117 178.5h3M195 178.5h3M204 178.5h3M243 178.5h6M270 178.5h12M21 181.5h3M120 181.5h3M171 181.5h3M195 181.5h3M204 181.5h3M237 181.5h6M24 184.5h3M126 184.5h6M135 184.5h9M174 184.5h3M195 184.5h3M204 184.5h3M237 184.5h3M21 187.5h6M177 187.5h3M207 187.5h3M234 187.5h6M21 190.5h12M147 190.5h3M180 190.5h3M192 190.5h3M234 190.5h3M252 190.5h3M21 193.5h15M147 193.5h3M183 193.5h3M189 193.5h3M210 193.5h3M228 193.5h6M249 193.5h6M36 196.5h3M186 196.5h3M216 196.5h9M249 196.5h6M39 199.5h3M147 199.5h3M39 202.5h6M66 202.5h3M84 202.5h3M147 202.5h3M42 205.5h9M63 205.5h3M87 205.5h3M48 208.5h15M90 208.5h3M99 208.5h6M144 208.5h3M54 211.5h6M93 211.5h6M108 211.5h3M54 214.5h6M93 214.5h3M111 214.5h3M54 217.5h6M93 217.5h3M54 220.5h6M93 220.5h3M111 220.5h3"/><path stroke="#9f9fff" d="M243 49.5h3M237 55.5h3M237 58.5h3M162 61.5h3M177 61.5h3M246 61.5h3M159 64.5h3M159 67.5h3M264 67.5h3M162 70.5h3M174 70.5h3M198 70.5h6M135 73.5h3M192 73.5h3M189 76.5h3M210 76.5h3M123 79.5h3M186 79.5h3M204 79.5h6M156 82.5h9M198 82.5h3M138 85.5h3M153 85.5h3M180 85.5h3M195 85.5h3M258 85.5h3M150 88.5h3M165 88.5h3M180 88.5h3M195 88.5h3M123 91.5h12M153 91.5h3M165 91.5h3M183 91.5h15M162 94.5h9M195 94.5h9M171 97.5h3M207 97.5h3M210 103.5h3M138 106.5h3M144 106.5h3M204 106.5h3M135 109.5h3M147 112.5h3M78 115.5h3M132 115.5h3M186 118.5h3M231 118.5h18M60 121.5h3M183 121.5h3M189 121.5h3M225 121.5h6M246 121.5h6M147 124.5h3M222 124.5h3M249 124.5h3M57 127.5h3M78 127.5h3M135 127.5h3M144 127.5h3M219 127.5h3M249 127.5h3M57 130.5h3M180 130.5h3M216 130.5h3M252 130.5h3M57 133.5h3M81 133.5h3M216 133.5h3M255 133.5h3M57 136.5h3M216 136.5h3M57 139.5h3M84 139.5h3M216 139.5h3M54 142.5h6M219 142.5h3M51 145.5h3M108 145.5h9M222 145.5h3M48 148.5h3M84 148.5h3M105 148.5h3M114 148.5h3M225 148.5h3M45 151.5h3M84 151.5h3M105 151.5h3M114 151.5h3M174 151.5h3M228 151.5h6M42 154.5h3M81 154.5h3M108 154.5h3M114 154.5h3M195 154.5h3M231 154.5h3M264 154.5h3M39 157.5h3M81 157.5h3M108 157.5h9M177 157.5h3M195 157.5h3M234 157.5h3M261 157.5h3M36 160.5h6M78 160.5h3M108 160.5h9M174 160.5h3M189 160.5h6M234 160.5h3M255 160.5h6M33 163.5h3M78 163.5h3M111 163.5h3M171 163.5h3M189 163.5h6M234 163.5h3M252 163.5h3M27 166.5h6M78 166.5h3M111 166.5h3M189 166.5h6M234 166.5h3M252 166.5h3M24 169.5h6M81 169.5h3M111 169.5h3M192 169.5h3M234 169.5h3M249 169.5h3M24 172.5h3M84 172.5h3M192 172.5h3M231 172.5h6M246 172.5h3M24 175.5h3M87 175.5h3M108 175.5h6M192 175.5h3M210 175.5h27M243 175.5h6M24 178.5h3M90 178.5h6M99 178.5h18M171 178.5h3M192 178.5h3M207 178.5h6M234 178.5h9M24 181.5h6M117 181.5h3M192 181.5h3M207 181.5h3M234 181.5h3M27 184.5h3M123 184.5h3M192 184.5h3M207 184.5h3M234 184.5h3M27 187.5h6M144 187.5h3M192 187.5h3M210 187.5h3M231 187.5h3M33 190.5h3M183 190.5h3M189 190.5h3M210 190.5h3M228 190.5h6M36 193.5h3M186 193.5h3M213 193.5h15M39 196.5h3M147 196.5h3M42 199.5h3M72 199.5h9M45 202.5h6M63 202.5h3M87 202.5h3M51 205.5h12M90 205.5h6M144 205.5h3M93 208.5h6M105 208.5h3M111 211.5h3M141 211.5h3M114 214.5h3M141 214.5h3M114 217.5h3M141 217.5h3M114 220.5h3M141 220.5h3"/><path stroke="#bfbfff" d="M237 52.5h3M168 58.5h6M180 61.5h3M237 61.5h3M153 64.5h3M243 64.5h3M135 67.5h3M183 67.5h3M261 67.5h3M156 70.5h3M180 70.5h6M189 70.5h6M207 70.5h3M138 73.5h3M174 73.5h9M186 73.5h3M138 76.5h3M156 76.5h6M165 76.5h6M183 76.5h3M213 76.5h3M252 76.5h3M165 79.5h3M180 79.5h3M213 79.5h3M177 82.5h3M204 82.5h6M141 85.5h3M147 85.5h3M168 85.5h3M174 85.5h3M201 85.5h3M252 85.5h3M117 88.5h3M141 88.5h6M171 88.5h6M228 88.5h54M111 91.5h6M141 91.5h6M201 91.5h3M225 91.5h6M240 91.5h12M105 94.5h3M126 94.5h27M177 94.5h3M189 94.5h3M207 94.5h3M99 97.5h6M120 97.5h3M210 97.5h3M258 97.5h9M99 100.5h6M117 100.5h3M141 100.5h6M168 100.5h3M174 100.5h3M213 100.5h3M255 100.5h3M264 100.5h18M105 103.5h12M138 103.5h3M195 103.5h3M213 103.5h3M255 103.5h3M267 103.5h6M279 103.5h3M135 106.5h3M198 106.5h3M210 106.5h3M255 106.5h3M261 106.5h6M252 109.5h9M66 112.5h3M132 112.5h3M249 112.5h9M186 115.5h3M225 115.5h24M255 115.5h3M81 118.5h3M129 118.5h3M222 118.5h3M57 121.5h3M81 121.5h3M219 121.5h3M81 124.5h3M180 124.5h3M216 124.5h3M252 124.5h3M54 127.5h3M81 127.5h3M129 127.5h3M147 127.5h3M54 130.5h3M132 130.5h9M213 130.5h3M255 130.5h3M84 133.5h3M177 133.5h3M51 136.5h3M198 136.5h3M51 139.5h3M87 139.5h3M111 139.5h6M48 142.5h3M102 142.5h6M213 142.5h3M42 145.5h6M90 145.5h3M99 145.5h3M117 145.5h3M171 145.5h3M216 145.5h3M270 145.5h12M39 148.5h3M90 148.5h3M99 148.5h3M117 148.5h3M171 148.5h3M219 148.5h3M270 148.5h12M36 151.5h6M90 151.5h3M99 151.5h3M171 151.5h3M222 151.5h3M270 151.5h12M36 154.5h3M90 154.5h3M99 154.5h6M171 154.5h3M225 154.5h3M270 154.5h12M33 157.5h3M87 157.5h6M102 157.5h3M171 157.5h3M228 157.5h3M267 157.5h15M30 160.5h3M87 160.5h3M102 160.5h3M171 160.5h3M198 160.5h3M228 160.5h3M264 160.5h18M24 163.5h3M84 163.5h6M105 163.5h3M168 163.5h3M198 163.5h3M228 163.5h3M261 163.5h21M21 166.5h3M87 166.5h3M102 166.5h6M168 166.5h3M198 166.5h6M228 166.5h3M258 166.5h24M87 169.5h6M102 169.5h3M198 169.5h18M228 169.5h3M255 169.5h6M264 169.5h18M18 172.5h3M90 172.5h15M117 172.5h3M198 172.5h12M252 172.5h6M264 172.5h18M18 175.5h3M117 175.5h3M198 175.5h6M252 175.5h21M279 175.5h3M18 178.5h3M168 178.5h3M198 178.5h6M249 178.5h21M18 181.5h3M123 181.5h3M198 181.5h6M243 181.5h39M18 184.5h6M132 184.5h3M144 184.5h3M198 184.5h6M240 184.5h42M18 187.5h3M147 187.5h3M195 187.5h3M204 187.5h3M240 187.5h27M18 190.5h3M195 190.5h3M207 190.5h3M237 190.5h15M255 190.5h9M18 193.5h3M180 193.5h3M192 193.5h3M234 193.5h15M255 193.5h6M18 196.5h18M183 196.5h3M189 196.5h3M213 196.5h3M225 196.5h24M255 196.5h3M21 199.5h18M216 199.5h15M240 199.5h15M33 202.5h6M69 202.5h6M78 202.5h6M225 202.5h3M33 205.5h9M84 205.5h3M147 205.5h3M225 205.5h6M33 208.5h15M63 208.5h3M87 208.5h3M225 208.5h6M33 211.5h21M60 211.5h3M90 211.5h3M99 211.5h9M144 211.5h3M225 211.5h6M33 214.5h21M60 214.5h3M90 214.5h3M96 214.5h6M108 214.5h3M225 214.5h6M33 217.5h21M60 217.5h3M90 217.5h3M96 217.5h6M108 217.5h6M225 217.5h6M33 220.5h21M60 220.5h3M90 220.5h3M96 220.5h6M108 220.5h3M144 220.5h3M225 220.5h6"/><path stroke="#7f7fff" d="M240 52.5h3M246 55.5h3M168 61.5h6M243 61.5h3M162 64.5h3M162 67.5h3M174 67.5h3M273 67.5h6M258 70.5h3M201 73.5h3M255 73.5h3M132 76.5h3M198 76.5h9M126 79.5h3M255 79.5h3M186 82.5h9M159 85.5h3M183 85.5h3M189 85.5h6M270 85.5h12M126 88.5h9M156 88.5h6M186 88.5h6M201 97.5h3M201 103.5h6M138 109.5h3M135 112.5h3M69 115.5h9M63 121.5h3M186 121.5h3M135 124.5h3M144 124.5h3M183 124.5h3M189 124.5h3M231 124.5h12M75 127.5h3M228 127.5h18M60 130.5h3M75 130.5h3M225 130.5h21M60 133.5h3M78 133.5h3M222 133.5h6M234 133.5h18M195 136.5h3M222 136.5h6M231 136.5h15M255 136.5h3M81 139.5h3M222 139.5h21M60 142.5h3M225 142.5h18M60 145.5h3M231 145.5h3M240 145.5h3M54 148.5h3M81 148.5h3M195 148.5h3M240 148.5h3M51 151.5h3M240 151.5h6M261 151.5h3M48 154.5h3M78 154.5h3M180 154.5h3M192 154.5h3M240 154.5h6M258 154.5h3M48 157.5h3M75 157.5h3M183 157.5h6M240 157.5h6M249 157.5h9M45 160.5h6M72 160.5h3M240 160.5h12M45 163.5h6M72 163.5h3M237 163.5h12M42 166.5h12M72 166.5h3M174 166.5h3M180 166.5h6M237 166.5h12M33 169.5h45M186 169.5h3M240 169.5h6M30 172.5h6M48 172.5h21M78 172.5h3M171 172.5h3M186 172.5h3M30 175.5h3M54 175.5h6M63 175.5h6M81 175.5h3M186 175.5h3M30 178.5h3M57 178.5h3M63 178.5h3M84 178.5h3M174 178.5h3M186 178.5h3M216 178.5h6M33 181.5h3M57 181.5h9M87 181.5h3M177 181.5h3M186 181.5h3M213 181.5h6M225 181.5h6M33 184.5h3M60 184.5h6M90 184.5h3M96 184.5h9M117 184.5h3M180 184.5h9M213 184.5h3M225 184.5h6M36 187.5h3M60 187.5h3M90 187.5h9M126 187.5h3M213 187.5h15M39 190.5h3M132 190.5h12M219 190.5h3M42 193.5h3M144 193.5h3M45 196.5h3M57 196.5h12M81 196.5h12M144 196.5h3M51 199.5h12M90 199.5h6M144 199.5h3M96 202.5h3M105 205.5h3M141 205.5h3M111 208.5h3M117 211.5h3M138 211.5h3M138 214.5h3M138 217.5h3M117 220.5h3M138 220.5h3"/><path stroke="#6f6fff" d="M243 52.5h3M165 64.5h3M174 64.5h3M165 67.5h9M129 76.5h3M255 76.5h3M132 79.5h3M126 82.5h3M132 82.5h3M258 82.5h3M126 85.5h9M186 85.5h3M201 100.5h6M144 109.5h3M135 115.5h3M66 118.5h3M75 118.5h3M66 121.5h3M75 121.5h3M135 121.5h3M63 124.5h3M75 124.5h3M138 124.5h3M186 124.5h3M63 127.5h6M72 127.5h3M183 127.5h3M63 130.5h12M192 130.5h3M63 133.5h6M72 133.5h6M180 133.5h3M228 133.5h6M63 136.5h3M78 136.5h3M228 136.5h3M246 136.5h9M63 139.5h3M177 139.5h3M195 139.5h3M243 139.5h6M258 139.5h3M63 142.5h3M81 142.5h3M195 142.5h3M243 142.5h3M261 142.5h3M81 145.5h3M195 145.5h3M243 145.5h3M261 145.5h3M57 148.5h3M243 148.5h3M261 148.5h3M54 151.5h3M78 151.5h3M177 151.5h3M192 151.5h3M246 151.5h3M51 154.5h3M75 154.5h3M183 154.5h9M246 154.5h12M72 157.5h3M246 157.5h3M51 160.5h3M69 160.5h3M51 163.5h3M69 163.5h3M54 166.5h18M177 166.5h3M174 169.5h3M180 169.5h6M36 172.5h12M69 172.5h9M174 172.5h3M183 172.5h3M33 175.5h6M48 175.5h6M69 175.5h3M78 175.5h3M174 175.5h3M183 175.5h3M33 178.5h3M54 178.5h3M66 178.5h3M81 178.5h3M177 178.5h9M54 181.5h3M66 181.5h3M84 181.5h3M180 181.5h6M219 181.5h6M36 184.5h3M57 184.5h3M66 184.5h3M87 184.5h3M105 184.5h12M216 184.5h9M57 187.5h3M63 187.5h6M87 187.5h3M99 187.5h3M123 187.5h3M57 190.5h12M87 190.5h12M129 190.5h3M45 193.5h3M54 193.5h15M84 193.5h12M138 193.5h6M48 196.5h9M69 196.5h12M93 196.5h3M141 196.5h3M96 199.5h3M141 199.5h3M99 202.5h6M141 202.5h3M138 205.5h3M114 208.5h3M138 208.5h3M120 214.5h3M120 217.5h3M120 220.5h3"/><path stroke="#8f8fff" d="M246 52.5h3M246 58.5h3M165 61.5h3M174 61.5h3M240 61.5h3M177 64.5h3M177 67.5h3M267 67.5h6M279 67.5h3M165 70.5h9M129 73.5h6M195 73.5h6M204 73.5h6M126 76.5h3M135 76.5h3M192 76.5h6M207 76.5h3M135 79.5h3M189 79.5h15M123 82.5h3M135 82.5h3M183 82.5h3M195 82.5h3M255 82.5h3M123 85.5h3M135 85.5h3M156 85.5h3M162 85.5h3M261 85.5h9M123 88.5h3M135 88.5h3M153 88.5h3M162 88.5h3M183 88.5h3M192 88.5h3M156 91.5h9M198 97.5h3M204 97.5h3M198 100.5h3M207 100.5h3M198 103.5h3M207 103.5h3M141 106.5h3M66 115.5h3M147 115.5h3M63 118.5h3M78 118.5h3M132 118.5h3M147 118.5h3M78 121.5h3M132 121.5h3M147 121.5h3M231 121.5h15M60 124.5h3M78 124.5h3M132 124.5h3M225 124.5h6M243 124.5h6M60 127.5h3M138 127.5h6M192 127.5h3M222 127.5h6M246 127.5h3M78 130.5h3M219 130.5h6M246 130.5h6M195 133.5h3M219 133.5h3M252 133.5h3M60 136.5h3M81 136.5h3M177 136.5h3M219 136.5h3M258 136.5h3M60 139.5h3M219 139.5h3M261 139.5h3M84 142.5h3M174 142.5h3M222 142.5h3M264 142.5h3M54 145.5h6M84 145.5h3M174 145.5h3M225 145.5h6M234 145.5h6M264 145.5h3M51 148.5h3M108 148.5h6M174 148.5h3M228 148.5h12M264 148.5h3M48 151.5h3M81 151.5h3M108 151.5h6M195 151.5h3M234 151.5h6M264 151.5h3M45 154.5h3M111 154.5h3M177 154.5h3M234 154.5h6M261 154.5h3M42 157.5h6M78 157.5h3M180 157.5h3M189 157.5h6M237 157.5h3M258 157.5h3M42 160.5h3M75 160.5h3M177 160.5h12M237 160.5h3M252 160.5h3M36 163.5h9M75 163.5h3M174 163.5h15M249 163.5h3M33 166.5h9M75 166.5h3M171 166.5h3M186 166.5h3M249 166.5h3M30 169.5h3M78 169.5h3M171 169.5h3M189 169.5h3M237 169.5h3M246 169.5h3M27 172.5h3M81 172.5h3M189 172.5h3M237 172.5h9M27 175.5h3M60 175.5h3M84 175.5h3M171 175.5h3M189 175.5h3M237 175.5h6M27 178.5h3M60 178.5h3M87 178.5h3M189 178.5h3M213 178.5h3M222 178.5h12M30 181.5h3M90 181.5h27M174 181.5h3M189 181.5h3M210 181.5h3M231 181.5h3M30 184.5h3M93 184.5h3M120 184.5h3M177 184.5h3M189 184.5h3M210 184.5h3M231 184.5h3M33 187.5h3M129 187.5h15M180 187.5h12M228 187.5h3M36 190.5h3M144 190.5h3M186 190.5h3M213 190.5h6M222 190.5h6M39 193.5h3M42 196.5h3M45 199.5h6M63 199.5h9M81 199.5h9M51 202.5h12M90 202.5h6M144 202.5h3M96 205.5h9M108 208.5h3M141 208.5h3M114 211.5h3M117 214.5h3M117 217.5h3"/><path stroke="#5f5fff" d="M240 55.5h6M240 58.5h6M168 64.5h6M261 70.5h3M129 79.5h3M129 82.5h3M261 82.5h3M141 109.5h3M69 118.5h6M135 118.5h3M69 121.5h6M66 124.5h9M141 124.5h3M69 127.5h3M189 127.5h3M69 133.5h3M66 136.5h12M66 139.5h3M78 139.5h3M249 139.5h3M255 139.5h3M66 142.5h3M246 142.5h3M63 145.5h3M246 145.5h3M60 148.5h6M78 148.5h3M177 148.5h3M246 148.5h3M57 151.5h3M75 151.5h3M180 151.5h3M249 151.5h3M255 151.5h6M54 154.5h3M72 154.5h3M51 157.5h3M69 157.5h3M54 160.5h3M54 163.5h15M177 169.5h3M177 172.5h6M39 175.5h9M72 175.5h6M177 175.5h6M36 178.5h6M51 178.5h3M69 178.5h6M78 178.5h3M36 181.5h3M69 181.5h3M81 181.5h3M39 184.5h3M54 184.5h3M69 184.5h3M84 184.5h3M39 187.5h3M54 187.5h3M84 187.5h3M102 187.5h6M120 187.5h3M42 190.5h3M54 190.5h3M69 190.5h3M84 190.5h3M99 190.5h3M126 190.5h3M48 193.5h6M69 193.5h6M78 193.5h6M96 193.5h3M132 193.5h6M96 196.5h3M138 196.5h3M99 199.5h3M138 199.5h3M138 202.5h3M108 205.5h3M117 208.5h3M120 211.5h3M135 211.5h3M123 214.5h3M135 214.5h3M123 217.5h3M135 217.5h3M135 220.5h3"/><path stroke="#4f4fff" d="M264 70.5h3M258 73.5h3M258 79.5h3M264 82.5h3M138 112.5h3M144 112.5h3M138 121.5h3M144 121.5h3M186 127.5h3M183 130.5h3M192 133.5h3M180 136.5h3M69 139.5h9M252 139.5h3M69 142.5h3M78 142.5h3M177 142.5h3M249 142.5h3M258 142.5h3M66 145.5h3M78 145.5h3M177 145.5h3M249 145.5h3M258 145.5h3M66 148.5h3M75 148.5h3M192 148.5h3M249 148.5h3M258 148.5h3M60 151.5h15M189 151.5h3M252 151.5h3M57 154.5h3M66 154.5h6M54 157.5h3M66 157.5h3M57 160.5h12M42 178.5h9M75 178.5h3M39 181.5h6M48 181.5h6M72 181.5h3M78 181.5h3M42 184.5h3M51 184.5h3M81 184.5h3M42 187.5h3M51 187.5h3M69 187.5h3M81 187.5h3M108 187.5h12M45 190.5h9M72 190.5h3M78 190.5h6M102 190.5h3M75 193.5h3M99 193.5h3M129 193.5h3M99 196.5h3M132 196.5h6M102 199.5h3M135 199.5h3M105 202.5h3M135 202.5h3M111 205.5h3M135 205.5h3M120 208.5h3M135 208.5h3M123 211.5h3M126 214.5h3M132 214.5h3M126 217.5h3M132 217.5h3M123 220.5h3M132 220.5h3"/><path stroke="#2f2fff" d="M267 70.5h6M276 70.5h6M261 79.5h3M141 115.5h3M141 118.5h3M186 130.5h3M183 133.5h3M192 139.5h3M192 142.5h3M180 148.5h3M189 148.5h3M108 190.5h3M120 190.5h3M105 193.5h3M105 199.5h3M129 199.5h3M129 202.5h3M117 205.5h3M126 205.5h6"/><path stroke="#1f1fff" d="M273 70.5h3M261 73.5h3M189 133.5h3M180 139.5h3M180 145.5h3M183 148.5h3M111 190.5h9M123 193.5h3M105 196.5h3M126 196.5h3M126 199.5h3M111 202.5h3M126 202.5h3M120 205.5h6"/><path stroke="#0f0fff" d="M264 73.5h3M261 76.5h3M264 79.5h3M186 133.5h3M183 136.5h3M189 136.5h3M180 142.5h3M189 145.5h3M186 148.5h3M108 193.5h3M120 193.5h3M108 196.5h3M123 196.5h3M108 199.5h3M114 202.5h3M123 202.5h3"/><path stroke="#0000ff" d="M267 73.5h15M264 76.5h18M267 79.5h15M186 136.5h3M183 139.5h9M183 142.5h9M183 145.5h6M111 193.5h9M111 196.5h12M111 199.5h15M117 202.5h6"/><path stroke="#3f3fff" d="M258 76.5h3M267 82.5h15M141 112.5h3M138 115.5h3M144 115.5h3M138 118.5h3M144 118.5h3M141 121.5h3M189 130.5h3M192 136.5h3M72 142.5h6M252 142.5h6M69 145.5h9M192 145.5h3M252 145.5h6M69 148.5h6M252 148.5h6M183 151.5h6M60 154.5h6M57 157.5h9M45 181.5h3M75 181.5h3M45 184.5h6M72 184.5h9M45 187.5h6M72 187.5h9M75 190.5h3M105 190.5h3M123 190.5h3M102 193.5h3M126 193.5h3M102 196.5h3M129 196.5h3M132 199.5h3M108 202.5h3M132 202.5h3M114 205.5h3M132 205.5h3M123 208.5h12M126 211.5h9M129 214.5h3M129 217.5h3M126 220.5h6"/></g></g></g><path d="M225.2 218.5V211.5L229 210L233 208L236 206.5L238.2 207L238.8 211L242 214L244 209L247 214.5L249 218.5ZM253 218.5L256.3 215L261 215.5L265 218.5Z" fill="#fff"/><path d="M-1.0 156.0 L4.6 151.8 L14.0 140.1 L25.8 131.4 L37.5 119.7 L46.2 116.8 L50.6 109.5 L59.4 100.7 L63.7 93.4 L72.5 87.6 L81.3 81.7 L86.1 79.0 L94.2 72.5 L96.6 66.1 L97.4 61.3 L95.8 56.5 L90.2 54.0 L91.0 50.9 L95.8 49.3 L105.4 48.5 L108.6 50.1 L109.4 46.8 L118.3 42.0 L124.7 39.6 L129.0 38.5 L135.3 36.5 L139.6 34.3 L146.9 31.4 L150.6 28.5 L155.7 24.8 L158.6 26.3 L161.5 29.2 L165.9 30.0 L173.2 29.2 L180.5 29.2 L186.4 30.4 M186.4 30.4 L177.6 32.1 L171.8 35.1 L170.3 39.4 L174.7 46.7 L182.0 52.6 L186.4 57.0 L187.1 61.3 L184.9 65.7 L184.2 70.0 L187.2 73.0 L186.4 76.0 L184.4 82.2 L178.2 83.2 L170.1 85.2 L163.9 89.3 L168.0 92.4 L169.1 96.5 L163.9 100.6 L161.9 104.7 L161.9 113.9 M179.1 33.6 L177.6 36.5 L180.5 42.4 L187.8 47.5 L198.0 49.7 L202.4 46.0 L208.3 42.4 L215.6 39.4 L222.9 36.5 L229.8 38.6 L240.0 40.6 L252.1 41.6 L264.3 40.6 L278.0 37.5 M209.7 206.8 L213.3 210.4 L215.7 215.2 L215.1 218.5 M215.7 215.8 L225.2 214.0 L225.2 210.4 L228.8 209.2 L232.4 206.8 L236.0 205.0 L238.4 205.6 L239.0 210.4 L242.0 212.8 L243.8 206.2 L245.6 210.4 L248.0 214.0 L249.2 218.5 M252.8 218.5 L256.3 214.0 L261.1 214.6 L265.9 218.5 M269.5 218.5 L273.1 214.0 L275.5 205.6 L277.5 203.0 M11.7 218.0 L10.7 210.5 L13.7 204.4 L19.8 196.3 L21.8 188.1 L25.9 178.0 L23.9 175.0 L29.9 169.9 L38.1 163.8 L38.1 158.7 L42.1 158.7 L46.2 161.8 L50.2 158.7 L58.3 161.8 L64.4 156.7 L68.5 158.7 L78.6 158.7 L86.8 155.7 L94.9 152.6 L101.0 150.6 L99.0 145.5 L92.8 141.5 L99.0 135.4 L102.6 129.2 L108.8 125.1 L112.8 119.0 L119.0 112.8 L127.2 107.7 L131.2 109.8 L137.4 111.8 L141.5 108.7 L145.5 110.8 L151.7 112.8 L155.8 111.8 L161.9 113.9 L170.1 113.9 L178.2 114.9 M178.2 114.9 L184.4 121.0 L186.4 127.1 L184.4 137.4 L186.4 145.5 L189.5 154.0 L193.3 159.7 L192.3 169.9 L197.3 182.0 L196.3 190.2 L201.4 198.3 L204.5 206.4 L204.5 219.0 M178.2 114.9 L182.3 110.8 L186.4 108.7 L192.5 106.7 L198.7 102.6 L201.8 96.5 L206.9 94.4 L214.0 92.4 L215.0 86.3 L219.1 82.2 L221.2 76.0 L223.7 69.0 L233.9 70.0 L240.0 71.0 L248.1 74.0 L254.2 79.1 L256.2 83.2 L260.3 80.2 L264.3 75.0 L270.4 71.0 L278.5 67.0" stroke="#222" stroke-width="0.6" fill="none" stroke-linejoin="round"/><rect x="0" y="0" width="277" height="218" fill="none" stroke="#8c8c8c" stroke-width="1"/><path d="M5.5 0v2.5M5.5 218v-2.5M32.9 0v2.5M32.9 218v-2.5M60.3 0v2.5M60.3 218v-2.5M87.7 0v2.5M87.7 218v-2.5M115.1 0v2.5M115.1 218v-2.5M142.5 0v2.5M142.5 218v-2.5M169.9 0v2.5M169.9 218v-2.5M197.3 0v2.5M197.3 218v-2.5M224.7 0v2.5M224.7 218v-2.5M252.1 0v2.5M252.1 218v-2.5M0 25.5h2.5M277 25.5h-2.5M0 58.8h2.5M277 58.8h-2.5M0 92.1h2.5M277 92.1h-2.5M0 125.4h2.5M277 125.4h-2.5M0 158.7h2.5M277 158.7h-2.5M0 192.0h2.5M277 192.0h-2.5" stroke="#666" stroke-width="0.8" fill="none"/><text x="-4.4" y="28.8" font-size="9.8" text-anchor="end" textLength="16.2" lengthAdjust="spacingAndGlyphs">35.6</text><text x="-4.4" y="62.1" font-size="9.8" text-anchor="end" textLength="16.2" lengthAdjust="spacingAndGlyphs">35.4</text><text x="-4.4" y="95.4" font-size="9.8" text-anchor="end" textLength="16.2" lengthAdjust="spacingAndGlyphs">35.2</text><text x="-4.4" y="128.7" font-size="9.8" text-anchor="end" textLength="9.2" lengthAdjust="spacingAndGlyphs">35</text><text x="-4.4" y="162.0" font-size="9.8" text-anchor="end" textLength="16.2" lengthAdjust="spacingAndGlyphs">34.8</text><text x="-4.4" y="195.3" font-size="9.8" text-anchor="end" textLength="16.2" lengthAdjust="spacingAndGlyphs">34.6</text><text x="0" y="0" font-size="10.5" text-anchor="middle" textLength="37.5" lengthAdjust="spacingAndGlyphs" transform="translate(-25.8,108.5) rotate(-90)">Latitude</text><text x="5.5" y="230.9" font-size="9.6" text-anchor="middle" textLength="13.5" lengthAdjust="spacingAndGlyphs">132</text><text x="32.9" y="230.9" font-size="9.6" text-anchor="middle" textLength="20.3" lengthAdjust="spacingAndGlyphs">132.2</text><text x="60.3" y="230.9" font-size="9.6" text-anchor="middle" textLength="20.3" lengthAdjust="spacingAndGlyphs">132.4</text><text x="87.7" y="230.9" font-size="9.6" text-anchor="middle" textLength="20.3" lengthAdjust="spacingAndGlyphs">132.6</text><text x="115.1" y="230.9" font-size="9.6" text-anchor="middle" textLength="20.3" lengthAdjust="spacingAndGlyphs">132.8</text><text x="142.5" y="230.9" font-size="9.6" text-anchor="middle" textLength="13.5" lengthAdjust="spacingAndGlyphs">133</text><text x="169.9" y="230.9" font-size="9.6" text-anchor="middle" textLength="20.3" lengthAdjust="spacingAndGlyphs">133.2</text><text x="197.3" y="230.9" font-size="9.6" text-anchor="middle" textLength="20.3" lengthAdjust="spacingAndGlyphs">133.4</text><text x="224.7" y="230.9" font-size="9.6" text-anchor="middle" textLength="20.3" lengthAdjust="spacingAndGlyphs">133.6</text><text x="252.1" y="230.9" font-size="9.6" text-anchor="middle" textLength="20.3" lengthAdjust="spacingAndGlyphs">133.8</text><text x="138.2" y="242.3" font-size="9.6" text-anchor="middle" textLength="44" lengthAdjust="spacingAndGlyphs">Longitude</text><text x="4.8" y="-6.3" font-size="16.5" font-weight="bold">g</text><text x="19.8" y="-5.6" font-size="14.2" textLength="35.8" lengthAdjust="spacingAndGlyphs">3 km</text><path d="M183.7 13.0v-4.8h75.8v4.8" stroke="#666" stroke-width="0.8" fill="none"/><text x="221" y="19.7" font-size="12" text-anchor="middle" textLength="31.6" lengthAdjust="spacingAndGlyphs">50 km</text></g><g transform="translate(331.5,768.4)"><g clip-path="url(#mk)"><g filter="url(#bl)"><g stroke-width="3.3" fill="none"><path stroke="#ff7f7f" d="M0 1.5h54M90 1.5h3M111 1.5h3M171 1.5h3M177 1.5h6M189 1.5h3M0 4.5h54M90 4.5h3M111 4.5h3M171 4.5h9M189 4.5h3M0 7.5h54M111 7.5h3M186 7.5h6M0 10.5h57M93 10.5h3M114 10.5h3M183 10.5h3M0 13.5h60M99 13.5h3M117 13.5h3M183 13.5h3M0 16.5h63M105 16.5h3M153 16.5h3M0 19.5h66M123 19.5h3M162 19.5h3M0 22.5h66M108 22.5h3M126 22.5h3M0 25.5h69M111 25.5h3M129 25.5h3M0 28.5h72M114 28.5h3M183 28.5h3M0 31.5h75M162 31.5h3M0 34.5h69M72 34.5h6M120 34.5h3M186 34.5h3M0 37.5h69M75 37.5h6M189 37.5h3M12 40.5h69M192 40.5h3M210 40.5h6M15 43.5h72M123 43.5h3M192 43.5h3M207 43.5h3M216 43.5h3M246 43.5h3M258 43.5h3M15 46.5h66M87 46.5h3M135 46.5h3M192 46.5h3M210 46.5h3M216 46.5h3M261 46.5h3M18 49.5h51M72 49.5h9M90 49.5h3M189 49.5h3M240 49.5h3M21 52.5h45M75 52.5h6M90 52.5h3M156 52.5h6M174 52.5h3M186 52.5h3M240 52.5h3M264 52.5h3M24 55.5h42M78 55.5h3M264 55.5h3M27 58.5h39M78 58.5h6M90 58.5h3M240 58.5h3M264 58.5h3M30 61.5h36M78 61.5h12M240 61.5h3M33 64.5h36M81 64.5h6M246 64.5h6M258 64.5h3M36 67.5h36M39 70.5h42M228 70.5h6M42 73.5h39M225 73.5h9M45 76.5h36M108 76.5h3M51 79.5h33M54 82.5h9M69 82.5h24M57 85.5h6M72 85.5h9M60 88.5h6M72 88.5h6M63 91.5h15M228 100.5h3M228 103.5h3M171 115.5h9M165 118.5h6M174 118.5h6M168 121.5h6M123 136.5h6M141 136.5h3M45 139.5h3M123 139.5h3M144 139.5h3M42 142.5h9M144 142.5h3M45 145.5h3M123 145.5h3M144 145.5h3M126 151.5h3M141 151.5h3M138 154.5h3M132 157.5h3M174 181.5h9M171 184.5h3M186 184.5h3M171 187.5h3M189 187.5h3M171 190.5h3M0 193.5h9M171 193.5h3M192 193.5h3M0 196.5h12M171 196.5h3M0 199.5h6M171 199.5h3M171 202.5h3M171 205.5h6M192 205.5h3M171 208.5h6M189 208.5h3M171 211.5h18M171 214.5h18M171 217.5h15M171 220.5h18"/><path stroke="#ff6f6f" d="M54 1.5h9M168 1.5h3M183 1.5h6M54 4.5h12M168 4.5h3M180 4.5h9M54 7.5h12M90 7.5h3M171 7.5h15M57 10.5h12M90 10.5h3M180 10.5h3M60 13.5h9M93 13.5h6M156 13.5h6M63 16.5h6M102 16.5h3M162 16.5h3M66 19.5h6M105 19.5h3M66 22.5h6M69 25.5h6M108 25.5h3M72 28.5h6M132 28.5h3M75 31.5h6M117 31.5h3M153 31.5h3M183 31.5h3M78 34.5h3M135 34.5h3M156 34.5h6M81 37.5h3M120 37.5h3M135 37.5h3M81 40.5h6M135 40.5h3M189 40.5h3M87 43.5h3M135 43.5h3M210 43.5h6M249 43.5h3M255 43.5h3M90 46.5h3M123 46.5h3M213 46.5h3M243 46.5h3M69 49.5h3M138 49.5h3M261 49.5h3M66 52.5h9M144 52.5h3M153 52.5h3M177 52.5h3M66 55.5h12M93 55.5h3M240 55.5h3M66 58.5h12M123 58.5h3M66 61.5h12M90 61.5h3M243 61.5h3M261 61.5h3M69 64.5h12M87 64.5h3M120 64.5h3M252 64.5h6M72 67.5h15M81 70.5h6M81 73.5h3M81 76.5h6M84 79.5h6M63 82.5h6M93 82.5h3M102 82.5h3M63 85.5h9M66 88.5h6M171 118.5h3M129 136.5h12M141 139.5h3M123 142.5h3M141 142.5h3M141 145.5h3M141 148.5h3M138 151.5h3M129 154.5h3M135 154.5h3M174 184.5h6M183 184.5h3M174 187.5h3M174 190.5h3M189 190.5h3M174 193.5h3M174 196.5h3M192 196.5h3M174 199.5h3M192 199.5h3M174 202.5h6M192 202.5h3M177 205.5h3M189 205.5h3M177 208.5h12"/><path stroke="#ff5f5f" d="M63 1.5h27M144 1.5h3M66 4.5h24M144 4.5h3M66 7.5h24M114 7.5h3M168 7.5h3M69 10.5h9M87 10.5h3M117 10.5h3M177 10.5h3M69 13.5h6M90 13.5h3M120 13.5h3M153 13.5h3M162 13.5h3M180 13.5h3M69 16.5h6M96 16.5h6M123 16.5h3M180 16.5h3M72 19.5h3M102 19.5h3M126 19.5h3M72 22.5h6M105 22.5h3M150 22.5h3M75 25.5h6M78 28.5h3M111 28.5h3M114 31.5h3M135 31.5h3M81 34.5h3M162 34.5h3M84 37.5h3M186 37.5h3M87 40.5h3M90 43.5h3M189 43.5h3M252 43.5h3M189 46.5h3M246 46.5h3M258 46.5h3M93 49.5h3M123 49.5h3M243 49.5h3M93 52.5h3M123 52.5h3M147 52.5h6M180 52.5h6M243 52.5h3M261 52.5h3M123 55.5h3M243 55.5h3M93 58.5h3M243 58.5h3M261 58.5h3M246 61.5h3M90 64.5h3M87 67.5h3M111 70.5h3M84 73.5h3M105 79.5h3M96 82.5h6M126 139.5h3M138 139.5h3M126 142.5h3M126 145.5h3M126 148.5h3M138 148.5h3M132 154.5h3M180 184.5h3M177 187.5h3M186 187.5h3M189 193.5h3M177 196.5h3M177 199.5h3M180 202.5h3M189 202.5h3M180 205.5h9"/><path stroke="#ff8f8f" d="M93 1.5h3M174 1.5h3M192 1.5h3M93 4.5h3M192 4.5h3M93 7.5h3M96 10.5h3M111 10.5h3M186 10.5h3M102 13.5h3M114 13.5h3M120 16.5h3M156 16.5h6M183 16.5h3M108 19.5h3M153 19.5h3M183 19.5h3M162 22.5h3M183 22.5h3M183 25.5h3M117 28.5h3M153 28.5h3M162 28.5h3M120 31.5h3M132 31.5h3M69 34.5h3M69 37.5h6M0 40.5h12M123 40.5h3M195 40.5h3M204 40.5h6M216 40.5h3M246 40.5h15M0 43.5h15M195 43.5h12M219 43.5h3M243 43.5h3M261 43.5h3M9 46.5h6M81 46.5h6M207 46.5h3M219 46.5h3M240 46.5h3M12 49.5h6M81 49.5h9M216 49.5h3M264 49.5h3M15 52.5h6M81 52.5h9M162 52.5h12M237 52.5h3M18 55.5h6M81 55.5h12M237 55.5h3M21 58.5h6M84 58.5h6M237 58.5h3M24 61.5h6M123 61.5h3M237 61.5h3M264 61.5h3M27 64.5h6M234 64.5h12M30 67.5h6M117 67.5h3M228 67.5h9M33 70.5h6M225 70.5h3M234 70.5h3M36 73.5h6M39 76.5h6M225 76.5h6M45 79.5h6M156 79.5h9M48 82.5h6M159 82.5h12M51 85.5h6M81 85.5h3M165 85.5h3M54 88.5h6M78 88.5h3M57 91.5h6M78 91.5h3M63 94.5h15M225 100.5h3M231 100.5h3M225 103.5h3M231 103.5h3M165 115.5h6M180 115.5h3M162 118.5h3M180 118.5h3M165 121.5h3M174 121.5h3M165 124.5h9M123 133.5h21M42 136.5h9M120 136.5h3M144 136.5h3M42 139.5h3M48 139.5h3M120 139.5h3M147 139.5h3M39 142.5h3M120 142.5h3M147 142.5h3M42 145.5h3M48 145.5h3M42 148.5h3M123 148.5h3M144 148.5h3M126 154.5h3M129 157.5h3M135 157.5h3M168 181.5h6M183 181.5h3M168 184.5h3M165 187.5h6M0 190.5h9M165 190.5h6M192 190.5h3M9 193.5h3M165 193.5h6M12 196.5h3M165 196.5h6M195 196.5h3M6 199.5h6M165 199.5h6M195 199.5h3M165 202.5h6M195 202.5h3M165 205.5h6M195 205.5h3M165 208.5h6M192 208.5h3M165 211.5h6M189 211.5h3M165 214.5h6M189 214.5h3M165 217.5h6M186 217.5h6M165 220.5h6M189 220.5h3"/><path stroke="#ffafaf" d="M96 1.5h3M96 4.5h3M99 7.5h3M105 7.5h3M195 7.5h3M102 10.5h6M195 10.5h3M189 13.5h3M111 16.5h6M186 16.5h3M204 16.5h6M111 19.5h3M120 19.5h3M156 19.5h6M204 19.5h6M114 22.5h3M120 22.5h3M117 25.5h9M120 28.5h9M186 28.5h3M123 31.5h3M132 34.5h3M192 34.5h3M132 37.5h3M198 37.5h9M219 37.5h6M240 37.5h9M255 37.5h9M126 40.5h3M132 40.5h3M222 40.5h6M237 40.5h6M264 40.5h3M225 43.5h3M234 43.5h6M132 46.5h3M198 46.5h6M225 46.5h3M234 46.5h3M267 46.5h3M0 49.5h6M135 49.5h3M210 49.5h3M222 49.5h3M234 49.5h3M267 49.5h3M0 52.5h9M126 52.5h3M234 52.5h3M267 52.5h3M6 55.5h6M180 55.5h3M186 55.5h3M9 58.5h6M231 58.5h3M12 61.5h6M231 61.5h3M267 61.5h3M15 64.5h6M123 64.5h3M18 67.5h6M240 67.5h18M21 70.5h6M114 70.5h3M222 70.5h3M237 70.5h3M24 73.5h9M222 73.5h3M27 76.5h9M144 76.5h9M159 76.5h6M222 76.5h3M30 79.5h9M108 79.5h3M147 79.5h3M225 79.5h6M33 82.5h9M150 82.5h3M39 85.5h6M99 85.5h3M156 85.5h3M42 88.5h6M84 88.5h6M162 88.5h9M45 91.5h9M84 91.5h3M48 94.5h9M81 94.5h3M54 97.5h12M78 97.5h6M222 97.5h3M231 97.5h3M66 100.5h12M234 100.5h3M234 103.5h3M225 106.5h3M231 106.5h3M54 112.5h6M165 112.5h9M180 112.5h3M54 115.5h6M159 115.5h3M159 118.5h3M183 118.5h3M159 121.5h3M180 121.5h3M159 124.5h3M162 127.5h6M171 127.5h3M117 130.5h30M165 130.5h6M39 133.5h6M48 133.5h3M114 133.5h3M150 133.5h3M36 136.5h3M51 136.5h3M114 136.5h3M153 136.5h3M36 139.5h3M153 139.5h3M36 142.5h3M117 142.5h3M153 142.5h3M165 142.5h6M36 145.5h3M51 145.5h3M120 145.5h3M150 145.5h3M165 145.5h6M36 148.5h3M48 148.5h3M150 148.5h3M162 148.5h9M36 151.5h9M123 151.5h3M147 151.5h3M162 151.5h9M144 154.5h3M162 154.5h9M126 157.5h3M141 157.5h3M162 157.5h9M132 160.5h6M162 160.5h9M12 163.5h9M162 163.5h9M12 166.5h9M162 166.5h9M162 169.5h9M162 172.5h12M162 175.5h6M174 175.5h3M162 178.5h3M180 178.5h3M162 181.5h3M0 184.5h6M159 184.5h3M6 187.5h3M159 187.5h3M192 187.5h3M12 190.5h3M159 190.5h3M15 193.5h3M159 193.5h3M18 196.5h3M159 196.5h3M15 199.5h3M159 199.5h3M198 199.5h3M9 202.5h3M159 202.5h3M198 202.5h3M159 205.5h3M198 205.5h3M159 208.5h3M198 208.5h3M159 211.5h3M195 211.5h3M159 214.5h3M195 214.5h3M159 217.5h3M195 217.5h3M159 220.5h3M195 220.5h3"/><path stroke="#ffbfbf" d="M99 1.5h3M105 1.5h3M198 1.5h6M210 1.5h72M99 4.5h9M198 4.5h6M210 4.5h72M102 7.5h3M198 7.5h84M198 10.5h84M192 13.5h90M198 16.5h6M210 16.5h72M114 19.5h6M186 19.5h3M198 19.5h6M210 19.5h72M117 22.5h3M156 22.5h6M201 22.5h81M186 25.5h3M201 25.5h9M222 25.5h27M258 25.5h24M156 28.5h6M222 28.5h24M261 28.5h21M126 31.5h6M189 31.5h6M201 31.5h3M219 31.5h30M258 31.5h24M126 34.5h3M195 34.5h87M126 37.5h3M225 37.5h15M264 37.5h18M129 40.5h3M228 40.5h9M267 40.5h6M279 40.5h3M129 43.5h3M228 43.5h6M267 43.5h3M129 46.5h3M228 46.5h6M129 49.5h3M207 49.5h3M225 49.5h9M270 49.5h3M279 49.5h3M138 52.5h3M216 52.5h9M228 52.5h6M270 52.5h12M0 55.5h6M126 55.5h3M231 55.5h3M270 55.5h12M0 58.5h9M228 58.5h3M270 58.5h12M0 61.5h12M228 61.5h3M0 64.5h15M225 64.5h3M264 64.5h3M0 67.5h18M120 67.5h3M258 67.5h3M0 70.5h21M0 73.5h24M237 73.5h3M0 76.5h27M138 76.5h6M165 76.5h3M234 76.5h3M0 79.5h30M141 79.5h6M171 79.5h3M222 79.5h3M231 79.5h3M0 82.5h33M147 82.5h3M174 82.5h3M0 85.5h39M102 85.5h3M153 85.5h3M174 85.5h3M0 88.5h42M90 88.5h3M156 88.5h6M171 88.5h3M0 91.5h45M87 91.5h3M0 94.5h48M84 94.5h3M0 97.5h54M84 97.5h3M234 97.5h3M0 100.5h66M78 100.5h3M144 100.5h9M219 100.5h3M0 103.5h75M144 103.5h6M219 103.5h3M0 106.5h66M222 106.5h3M0 109.5h66M0 112.5h54M60 112.5h6M162 112.5h3M183 112.5h3M0 115.5h54M60 115.5h3M186 115.5h3M0 118.5h63M0 121.5h45M48 121.5h12M156 121.5h3M0 124.5h45M156 124.5h3M177 124.5h3M0 127.5h51M156 127.5h6M174 127.5h3M0 130.5h54M114 130.5h3M147 130.5h18M171 130.5h3M0 133.5h39M51 133.5h3M111 133.5h3M153 133.5h18M0 136.5h27M33 136.5h3M111 136.5h3M156 136.5h15M0 139.5h27M33 139.5h3M114 139.5h3M156 139.5h18M0 142.5h24M33 142.5h3M156 142.5h9M171 142.5h3M0 145.5h27M30 145.5h6M153 145.5h12M171 145.5h3M0 148.5h36M120 148.5h3M153 148.5h9M171 148.5h3M0 151.5h36M45 151.5h3M150 151.5h12M171 151.5h3M0 154.5h42M123 154.5h3M147 154.5h3M156 154.5h6M171 154.5h3M0 157.5h36M144 157.5h3M156 157.5h6M171 157.5h3M0 160.5h33M129 160.5h3M138 160.5h3M156 160.5h6M171 160.5h3M0 163.5h12M21 163.5h9M156 163.5h6M171 163.5h3M0 166.5h12M21 166.5h6M156 166.5h6M171 166.5h3M0 169.5h24M156 169.5h6M171 169.5h3M0 172.5h18M156 172.5h6M174 172.5h3M0 175.5h6M159 175.5h3M177 175.5h3M0 178.5h6M159 178.5h3M183 178.5h3M0 181.5h6M159 181.5h3M6 184.5h3M9 187.5h3M15 190.5h3M195 190.5h3M18 193.5h3M198 196.5h3M18 199.5h3M201 199.5h3M12 202.5h6M201 202.5h3M0 205.5h6M201 205.5h3M201 208.5h3M198 211.5h3M198 214.5h3M198 217.5h3M198 220.5h3"/><path stroke="#ffcfcf" d="M102 1.5h3M204 1.5h6M204 4.5h6M189 16.5h9M195 19.5h3M186 22.5h3M195 22.5h6M156 25.5h6M198 25.5h3M210 25.5h12M249 25.5h9M189 28.5h33M246 28.5h15M195 31.5h6M204 31.5h15M249 31.5h9M129 34.5h3M129 37.5h3M273 40.5h6M270 43.5h12M270 46.5h12M132 49.5h3M195 49.5h3M273 49.5h6M213 52.5h3M225 52.5h3M177 55.5h3M189 55.5h3M225 55.5h6M126 58.5h3M183 58.5h3M225 58.5h3M225 61.5h3M270 61.5h12M267 64.5h3M222 67.5h3M261 67.5h3M240 70.5h3M141 73.5h15M135 76.5h3M168 76.5h3M138 79.5h3M174 79.5h3M144 82.5h3M225 82.5h6M150 85.5h3M93 88.5h3M153 88.5h3M174 88.5h3M159 91.5h12M87 94.5h3M222 94.5h12M144 97.5h9M219 97.5h3M81 100.5h3M141 100.5h3M237 100.5h3M75 103.5h6M141 103.5h3M150 103.5h3M66 106.5h6M234 106.5h3M66 109.5h3M228 109.5h3M159 112.5h3M186 112.5h3M63 115.5h3M156 115.5h3M63 118.5h3M156 118.5h3M186 118.5h3M45 121.5h3M60 121.5h3M183 121.5h3M45 124.5h15M153 124.5h3M180 124.5h3M51 127.5h6M111 127.5h21M144 127.5h12M54 130.5h3M111 130.5h3M54 133.5h3M108 133.5h3M171 133.5h3M27 136.5h6M54 136.5h3M108 136.5h3M171 136.5h3M27 139.5h6M54 139.5h3M111 139.5h3M24 142.5h9M54 142.5h3M114 142.5h3M174 142.5h3M27 145.5h3M117 145.5h3M174 145.5h3M51 148.5h3M174 148.5h3M48 151.5h3M174 151.5h3M42 154.5h3M150 154.5h6M174 154.5h3M36 157.5h6M147 157.5h9M174 157.5h3M33 160.5h3M141 160.5h6M150 160.5h6M174 160.5h3M30 163.5h3M153 163.5h3M27 166.5h3M153 166.5h3M24 169.5h3M153 169.5h3M174 169.5h3M18 172.5h6M153 172.5h3M6 175.5h12M156 175.5h3M180 175.5h3M6 178.5h6M156 178.5h3M186 178.5h3M6 181.5h6M156 181.5h3M189 181.5h3M9 184.5h3M156 184.5h3M192 184.5h3M12 187.5h3M156 187.5h3M18 190.5h3M156 190.5h3M21 193.5h3M156 193.5h3M198 193.5h3M21 196.5h3M156 196.5h3M201 196.5h3M156 199.5h3M156 202.5h3M204 202.5h3M6 205.5h6M156 205.5h3M204 205.5h3M156 208.5h3M204 208.5h3M156 211.5h3M201 211.5h3M156 214.5h3M201 214.5h3M156 217.5h3M201 217.5h3M156 220.5h3M201 220.5h3"/><path stroke="#ff9f9f" d="M108 1.5h3M195 1.5h3M108 4.5h3M195 4.5h3M96 7.5h3M108 7.5h3M192 7.5h3M99 10.5h3M108 10.5h3M189 10.5h6M105 13.5h9M186 13.5h3M108 16.5h3M117 16.5h3M111 22.5h3M123 22.5h3M153 22.5h3M114 25.5h3M126 25.5h3M153 25.5h3M162 25.5h3M129 28.5h3M156 31.5h6M186 31.5h3M123 34.5h3M189 34.5h3M123 37.5h3M192 37.5h6M207 37.5h12M249 37.5h6M198 40.5h6M219 40.5h3M243 40.5h3M261 40.5h3M126 43.5h3M132 43.5h3M222 43.5h3M240 43.5h3M264 43.5h3M0 46.5h9M126 46.5h3M195 46.5h3M204 46.5h3M222 46.5h3M237 46.5h3M264 46.5h3M6 49.5h6M126 49.5h3M192 49.5h3M213 49.5h3M219 49.5h3M237 49.5h3M9 52.5h6M141 52.5h3M189 52.5h3M12 55.5h6M183 55.5h3M234 55.5h3M267 55.5h3M15 58.5h6M234 58.5h3M267 58.5h3M18 61.5h6M234 61.5h3M21 64.5h6M228 64.5h6M261 64.5h3M24 67.5h6M225 67.5h3M237 67.5h3M27 70.5h6M33 73.5h3M111 73.5h3M234 73.5h3M36 76.5h3M153 76.5h6M231 76.5h3M39 79.5h6M150 79.5h6M165 79.5h6M42 82.5h6M105 82.5h3M153 82.5h6M171 82.5h3M45 85.5h6M84 85.5h15M159 85.5h6M168 85.5h6M48 88.5h6M81 88.5h3M54 91.5h3M81 91.5h3M57 94.5h6M78 94.5h3M66 97.5h12M225 97.5h6M222 100.5h3M222 103.5h3M228 106.5h3M174 112.5h6M162 115.5h3M183 115.5h3M162 121.5h3M177 121.5h3M162 124.5h3M174 124.5h3M168 127.5h3M45 133.5h3M117 133.5h6M144 133.5h6M39 136.5h3M117 136.5h3M147 136.5h6M39 139.5h3M51 139.5h3M117 139.5h3M150 139.5h3M51 142.5h3M150 142.5h3M39 145.5h3M147 145.5h3M39 148.5h3M45 148.5h3M147 148.5h3M144 151.5h3M141 154.5h3M138 157.5h3M168 175.5h6M165 178.5h15M165 181.5h3M186 181.5h3M162 184.5h6M189 184.5h3M0 187.5h6M162 187.5h3M9 190.5h3M162 190.5h3M12 193.5h3M162 193.5h3M195 193.5h3M15 196.5h3M162 196.5h3M12 199.5h3M162 199.5h3M0 202.5h9M162 202.5h3M162 205.5h3M162 208.5h3M195 208.5h3M162 211.5h3M192 211.5h3M162 214.5h3M192 214.5h3M162 217.5h3M192 217.5h3M162 220.5h3M192 220.5h3"/><path stroke="#ff4f4f" d="M114 1.5h3M141 1.5h3M147 1.5h3M165 1.5h3M114 4.5h3M141 4.5h3M147 4.5h3M165 4.5h3M144 7.5h6M165 7.5h3M78 10.5h9M150 10.5h27M75 13.5h15M150 13.5h3M75 16.5h21M150 16.5h3M75 19.5h12M99 19.5h3M150 19.5h3M165 19.5h3M180 19.5h3M78 22.5h6M129 22.5h3M165 22.5h3M180 22.5h3M81 25.5h3M105 25.5h3M132 25.5h3M150 25.5h3M165 25.5h3M180 25.5h3M81 28.5h3M108 28.5h3M150 28.5h3M165 28.5h3M81 31.5h3M165 31.5h3M84 34.5h3M117 34.5h3M183 34.5h3M87 37.5h3M90 40.5h3M120 40.5h3M186 40.5h3M93 46.5h3M249 46.5h3M255 46.5h3M186 49.5h3M246 49.5h3M258 49.5h3M261 55.5h3M93 61.5h3M249 61.5h3M258 61.5h3M114 67.5h3M87 70.5h3M87 73.5h3M108 73.5h3M87 76.5h3M90 79.5h3M129 139.5h9M138 142.5h3M138 145.5h3M129 151.5h9M180 187.5h6M177 190.5h3M186 190.5h3M177 193.5h3M180 196.5h3M189 196.5h3M180 199.5h3M189 199.5h3M183 202.5h6"/><path stroke="#ff2f2f" d="M117 1.5h3M138 1.5h3M153 1.5h3M162 1.5h3M117 4.5h3M138 4.5h3M153 4.5h3M162 4.5h3M156 7.5h6M144 10.5h3M147 13.5h3M168 13.5h9M177 16.5h3M129 19.5h3M90 22.5h12M87 25.5h6M99 25.5h6M87 28.5h3M102 28.5h3M87 31.5h3M108 31.5h3M90 34.5h3M114 34.5h3M138 34.5h3M165 34.5h3M90 37.5h6M138 37.5h3M156 37.5h6M93 40.5h3M138 43.5h3M96 46.5h3M120 46.5h3M96 49.5h3M183 49.5h3M249 49.5h9M258 52.5h3M258 55.5h3M249 58.5h3M96 61.5h3M117 64.5h3M90 70.5h3M90 73.5h3M90 76.5h3M105 76.5h3M93 79.5h3M102 79.5h3M132 145.5h3"/><path stroke="#ff0000" d="M120 1.5h15M123 4.5h12M123 7.5h15M126 10.5h15M129 13.5h15M132 16.5h15M171 16.5h3M132 19.5h15M171 19.5h6M135 22.5h12M171 22.5h6M138 25.5h9M171 25.5h6M141 28.5h6M171 28.5h6M141 31.5h9M171 31.5h9M141 34.5h9M168 34.5h12M102 37.5h12M141 37.5h12M165 37.5h15M102 40.5h15M141 40.5h42M99 43.5h18M141 43.5h42M99 46.5h21M141 46.5h42M102 49.5h18M147 49.5h9M102 52.5h18M102 55.5h18M102 58.5h18M102 61.5h18M99 64.5h18M96 67.5h15M93 70.5h15M93 73.5h15M96 76.5h9"/><path stroke="#ff0f0f" d="M135 1.5h3M120 4.5h3M135 4.5h3M144 13.5h3M129 16.5h3M174 16.5h3M147 19.5h3M168 19.5h3M147 22.5h3M168 22.5h3M177 22.5h3M147 25.5h3M168 25.5h3M177 25.5h3M138 28.5h3M147 28.5h3M168 28.5h3M177 28.5h3M168 31.5h3M99 34.5h12M150 34.5h3M99 37.5h3M114 37.5h3M153 37.5h3M180 37.5h3M99 40.5h3M117 43.5h3M99 49.5h3M144 49.5h3M156 49.5h21M99 52.5h3M120 52.5h3M99 55.5h3M120 55.5h3M252 55.5h3M99 58.5h3M120 58.5h3M99 61.5h3M96 64.5h3M93 76.5h3"/><path stroke="#ff3f3f" d="M150 1.5h3M150 4.5h3M117 7.5h3M141 7.5h3M150 7.5h6M162 7.5h3M120 10.5h3M147 10.5h3M123 13.5h3M165 13.5h3M177 13.5h3M126 16.5h3M165 16.5h3M87 19.5h12M84 22.5h6M102 22.5h3M84 25.5h3M84 28.5h3M105 28.5h3M135 28.5h3M180 28.5h3M84 31.5h3M111 31.5h3M150 31.5h3M180 31.5h3M87 34.5h3M153 34.5h3M117 37.5h3M183 37.5h3M93 43.5h3M120 43.5h3M186 43.5h3M138 46.5h3M186 46.5h3M252 46.5h3M141 49.5h3M96 52.5h3M246 52.5h3M96 55.5h3M246 55.5h3M96 58.5h3M246 58.5h3M258 58.5h3M120 61.5h3M252 61.5h6M93 64.5h3M90 67.5h3M129 142.5h9M129 145.5h3M135 145.5h3M129 148.5h9M180 190.5h6M180 193.5h9M183 196.5h6M183 199.5h6"/><path stroke="#ff1f1f" d="M156 1.5h6M156 4.5h6M120 7.5h3M138 7.5h3M123 10.5h3M141 10.5h3M126 13.5h3M147 16.5h3M168 16.5h3M177 19.5h3M132 22.5h3M93 25.5h6M135 25.5h3M90 28.5h12M90 31.5h18M138 31.5h3M93 34.5h6M111 34.5h3M180 34.5h3M96 37.5h3M162 37.5h3M96 40.5h3M117 40.5h3M138 40.5h3M183 40.5h3M96 43.5h3M183 43.5h3M183 46.5h3M120 49.5h3M177 49.5h6M249 52.5h9M249 55.5h3M255 55.5h3M252 58.5h6M93 67.5h3M111 67.5h3M108 70.5h3M96 79.5h6"/><path stroke="#ffdfdf" d="M189 19.5h6M189 22.5h6M189 25.5h9M198 49.5h9M129 52.5h3M135 52.5h3M192 52.5h3M147 55.5h6M222 55.5h3M186 58.5h3M126 61.5h3M222 64.5h3M270 64.5h12M123 67.5h3M264 67.5h3M117 70.5h3M243 70.5h3M135 73.5h6M156 73.5h6M219 73.5h3M111 76.5h3M171 76.5h3M219 76.5h3M237 76.5h3M135 79.5h3M234 79.5h3M108 82.5h3M141 82.5h3M177 82.5h3M222 82.5h3M231 82.5h3M105 85.5h3M147 85.5h3M177 85.5h3M96 88.5h3M150 88.5h3M90 91.5h3M150 91.5h9M171 91.5h3M144 94.5h15M87 97.5h3M141 97.5h3M153 97.5h3M237 97.5h3M84 100.5h3M153 100.5h3M216 100.5h3M81 103.5h3M153 103.5h3M216 103.5h3M237 103.5h3M72 106.5h3M144 106.5h12M219 106.5h3M69 109.5h3M156 109.5h30M225 109.5h3M231 109.5h3M66 112.5h3M156 112.5h3M66 115.5h3M63 121.5h3M153 121.5h3M60 124.5h3M108 124.5h6M57 127.5h3M108 127.5h3M132 127.5h12M177 127.5h3M57 130.5h3M108 130.5h3M174 130.5h3M174 133.5h3M174 136.5h3M108 139.5h3M174 139.5h3M111 142.5h3M54 145.5h3M114 145.5h3M177 148.5h3M120 151.5h3M177 151.5h3M45 154.5h3M177 154.5h3M42 157.5h3M123 157.5h3M36 160.5h3M126 160.5h3M147 160.5h3M33 163.5h3M132 163.5h21M174 163.5h3M30 166.5h3M147 166.5h6M174 166.5h3M27 169.5h3M150 169.5h3M24 172.5h6M150 172.5h3M177 172.5h3M18 175.5h9M153 175.5h3M12 178.5h6M153 178.5h3M12 181.5h3M153 181.5h3M12 184.5h3M15 187.5h3M195 187.5h3M21 190.5h3M21 199.5h3M204 199.5h3M18 202.5h3M207 202.5h3M12 205.5h3M207 205.5h3M0 208.5h6M207 208.5h3M204 211.5h3M204 214.5h3M153 217.5h3M204 217.5h3M204 220.5h3"/><path stroke="#ffefef" d="M132 52.5h3M210 52.5h3M144 55.5h3M153 55.5h3M174 55.5h3M219 55.5h3M180 58.5h3M222 58.5h3M222 61.5h3M126 64.5h3M267 67.5h3M219 70.5h3M246 70.5h12M132 73.5h3M162 73.5h3M240 73.5h3M132 76.5h3M174 76.5h3M132 79.5h3M177 79.5h3M219 79.5h3M138 82.5h3M144 85.5h3M225 85.5h6M99 88.5h3M147 88.5h3M177 88.5h3M93 91.5h3M147 91.5h3M174 91.5h3M225 91.5h6M90 94.5h3M159 94.5h6M219 94.5h3M234 94.5h3M90 97.5h3M156 97.5h3M216 97.5h3M87 100.5h3M138 100.5h3M156 100.5h3M240 100.5h3M84 103.5h3M138 103.5h3M156 103.5h3M75 106.5h6M141 106.5h3M156 106.5h6M237 106.5h3M72 109.5h3M150 109.5h6M186 109.5h3M222 109.5h3M69 112.5h3M153 112.5h3M189 112.5h3M153 115.5h3M189 115.5h3M66 118.5h3M105 118.5h3M153 118.5h3M105 121.5h6M186 121.5h3M63 124.5h3M105 124.5h3M114 124.5h15M147 124.5h6M183 124.5h3M60 127.5h3M105 127.5h3M105 130.5h3M57 133.5h3M105 133.5h3M57 136.5h3M105 136.5h3M57 139.5h3M105 139.5h3M231 139.5h9M105 142.5h6M177 142.5h3M231 142.5h9M111 145.5h3M177 145.5h3M117 148.5h3M51 151.5h3M48 154.5h3M177 157.5h3M39 160.5h3M177 160.5h3M36 163.5h3M129 163.5h3M177 163.5h3M33 166.5h3M141 166.5h6M177 166.5h3M30 169.5h3M147 169.5h3M177 169.5h3M30 172.5h3M147 172.5h3M180 172.5h3M270 172.5h12M27 175.5h6M150 175.5h3M183 175.5h3M270 175.5h12M18 178.5h15M150 178.5h3M273 178.5h6M15 181.5h3M192 181.5h3M15 184.5h3M153 184.5h3M18 187.5h6M153 187.5h3M231 187.5h9M24 190.5h3M198 190.5h3M231 190.5h6M24 193.5h3M201 193.5h3M24 196.5h3M204 196.5h6M24 199.5h3M207 199.5h6M21 202.5h3M210 202.5h3M15 205.5h3M153 205.5h3M210 205.5h3M6 208.5h6M153 208.5h3M210 208.5h3M153 211.5h3M207 211.5h6M153 214.5h3M207 214.5h3M207 217.5h3M153 220.5h3M207 220.5h6"/><path stroke="#efefff" d="M195 52.5h3M207 52.5h3M138 55.5h3M159 55.5h3M171 55.5h3M192 55.5h3M189 58.5h3M219 58.5h3M219 64.5h3M126 67.5h3M123 70.5h3M129 70.5h24M264 70.5h6M129 73.5h3M168 73.5h3M216 73.5h3M246 73.5h3M129 76.5h3M180 76.5h3M216 76.5h3M129 79.5h3M216 79.5h3M111 82.5h3M132 82.5h3M135 85.5h6M219 85.5h3M234 85.5h3M105 88.5h3M141 88.5h3M180 88.5h3M222 88.5h3M231 88.5h3M96 91.5h3M141 91.5h3M219 91.5h3M234 91.5h3M138 94.5h3M171 94.5h6M240 94.5h3M93 97.5h3M162 97.5h3M213 97.5h3M243 97.5h3M93 100.5h3M135 100.5h3M159 100.5h3M243 100.5h3M90 103.5h3M135 103.5h3M162 103.5h3M84 106.5h3M138 106.5h3M168 106.5h21M240 106.5h3M141 109.5h3M189 109.5h3M72 112.5h3M102 112.5h6M225 112.5h6M99 115.5h3M108 115.5h3M150 115.5h3M69 118.5h3M99 118.5h3M111 118.5h3M150 118.5h3M117 121.5h15M147 121.5h3M189 121.5h3M66 124.5h3M186 124.5h3M63 127.5h3M60 133.5h3M231 133.5h9M60 136.5h3M99 136.5h3M228 136.5h3M240 136.5h3M99 139.5h3M225 139.5h3M243 139.5h3M99 142.5h3M180 142.5h3M225 142.5h3M243 142.5h3M57 145.5h3M96 145.5h6M180 145.5h3M225 145.5h3M243 145.5h3M99 148.5h15M225 148.5h21M117 151.5h3M51 154.5h3M48 157.5h3M120 157.5h3M180 157.5h3M45 160.5h3M180 160.5h3M42 163.5h3M123 163.5h3M180 163.5h3M39 166.5h3M129 166.5h6M180 166.5h3M267 166.5h15M36 169.5h3M141 169.5h3M180 169.5h3M264 169.5h6M36 172.5h3M144 172.5h3M183 172.5h3M264 172.5h3M36 175.5h3M144 175.5h3M261 175.5h3M36 178.5h3M147 178.5h3M228 178.5h15M255 178.5h9M36 181.5h3M225 181.5h3M243 181.5h15M36 184.5h3M150 184.5h3M222 184.5h3M33 187.5h6M150 187.5h3M198 187.5h3M219 187.5h6M30 190.5h3M201 190.5h3M219 190.5h3M207 193.5h15M27 196.5h3M27 199.5h3M24 202.5h3M21 205.5h3M15 208.5h3M57 208.5h9M150 208.5h3M9 211.5h3M57 211.5h3M66 211.5h3M3 214.5h6M54 214.5h3M66 214.5h3M3 217.5h6M54 217.5h3M66 217.5h3M6 220.5h3M54 220.5h3M66 220.5h3"/><path stroke="#cfcfff" d="M198 52.5h3M204 52.5h3M135 55.5h3M216 58.5h3M129 61.5h3M189 61.5h3M129 64.5h3M132 67.5h3M183 67.5h6M156 70.5h3M183 70.5h3M216 70.5h3M117 73.5h3M126 73.5h3M183 73.5h3M252 73.5h30M114 76.5h3M126 76.5h3M183 76.5h3M240 82.5h3M129 85.5h3M216 85.5h3M237 85.5h3M111 88.5h3M135 88.5h3M216 88.5h3M237 88.5h3M105 91.5h15M135 91.5h3M183 91.5h3M213 91.5h3M240 91.5h6M255 91.5h6M99 94.5h3M114 94.5h6M135 94.5h3M180 94.5h3M210 94.5h3M246 94.5h18M114 97.5h6M171 97.5h6M207 97.5h3M249 97.5h12M96 100.5h3M132 100.5h3M165 100.5h6M204 100.5h6M249 100.5h6M96 103.5h6M132 103.5h3M168 103.5h6M180 103.5h12M207 103.5h3M246 103.5h3M90 106.5h21M132 106.5h3M192 106.5h3M210 106.5h3M243 106.5h3M81 109.5h3M96 109.5h3M108 109.5h6M135 109.5h3M96 112.5h3M111 112.5h3M141 112.5h6M219 112.5h3M234 112.5h3M96 115.5h3M114 115.5h3M147 115.5h3M72 118.5h3M117 118.5h18M147 118.5h3M138 121.5h6M192 121.5h3M69 124.5h3M192 124.5h3M273 124.5h3M186 127.5h3M273 127.5h3M66 130.5h3M183 130.5h3M228 130.5h6M237 130.5h6M273 130.5h3M63 133.5h3M96 133.5h3M198 133.5h6M225 133.5h3M243 133.5h3M96 136.5h3M198 136.5h6M222 136.5h3M246 136.5h3M93 139.5h3M198 139.5h6M219 139.5h3M249 139.5h3M60 142.5h3M93 142.5h3M183 142.5h3M219 142.5h3M249 142.5h3M90 145.5h3M216 145.5h3M252 145.5h3M57 148.5h3M90 148.5h3M216 148.5h3M249 148.5h6M90 151.5h3M108 151.5h6M216 151.5h9M246 151.5h9M54 154.5h3M90 154.5h15M117 154.5h3M216 154.5h33M51 157.5h3M183 157.5h3M183 160.5h3M264 160.5h18M48 163.5h3M120 163.5h3M261 163.5h6M45 166.5h3M120 166.5h6M261 166.5h3M42 169.5h3M132 169.5h6M183 169.5h3M258 169.5h3M42 172.5h3M57 172.5h3M138 172.5h3M186 172.5h3M219 172.5h24M255 172.5h6M42 175.5h3M57 175.5h6M141 175.5h3M219 175.5h9M243 175.5h12M42 178.5h3M60 178.5h3M219 178.5h3M42 181.5h3M144 181.5h3M216 181.5h3M42 184.5h3M198 184.5h3M216 184.5h3M42 187.5h3M201 187.5h3M213 187.5h3M39 190.5h6M33 193.5h3M150 193.5h3M150 196.5h3M30 199.5h3M51 199.5h12M150 199.5h3M30 202.5h3M51 202.5h6M63 202.5h3M27 205.5h3M51 205.5h3M66 205.5h3M21 208.5h6M51 208.5h3M69 208.5h3M147 208.5h3M15 211.5h3M51 211.5h3M72 211.5h3M12 214.5h3M51 214.5h3M72 214.5h3M144 214.5h3M12 217.5h3M51 217.5h3M72 217.5h3M144 217.5h3M12 220.5h3M51 220.5h3M72 220.5h3"/><path stroke="#bfbfff" d="M201 52.5h3M210 55.5h3M180 64.5h3M135 67.5h6M180 67.5h3M216 67.5h3M159 70.5h3M180 70.5h3M186 70.5h3M120 73.5h6M186 73.5h3M186 76.5h3M213 76.5h3M246 76.5h6M270 76.5h12M114 79.5h3M126 79.5h3M186 79.5h3M213 79.5h3M243 79.5h3M114 82.5h3M126 82.5h3M186 82.5h3M213 82.5h3M243 82.5h3M114 85.5h3M126 85.5h3M186 85.5h3M213 85.5h3M240 85.5h3M264 85.5h18M114 88.5h6M129 88.5h6M186 88.5h3M213 88.5h3M240 88.5h6M249 88.5h33M120 91.5h6M132 91.5h3M210 91.5h3M246 91.5h9M261 91.5h21M102 94.5h12M120 94.5h6M132 94.5h3M183 94.5h3M207 94.5h3M264 94.5h18M99 97.5h6M108 97.5h6M120 97.5h6M132 97.5h3M177 97.5h6M201 97.5h6M261 97.5h21M99 100.5h24M129 100.5h3M171 100.5h6M192 100.5h12M255 100.5h27M102 103.5h18M129 103.5h3M174 103.5h6M192 103.5h15M249 103.5h33M111 106.5h6M195 106.5h3M246 106.5h3M264 106.5h18M84 109.5h12M114 109.5h3M132 109.5h3M195 109.5h3M213 109.5h3M240 109.5h3M267 109.5h15M78 112.5h3M114 112.5h3M132 112.5h9M267 112.5h15M75 115.5h3M117 115.5h3M126 115.5h12M141 115.5h6M222 115.5h12M267 115.5h15M96 118.5h3M135 118.5h12M267 118.5h15M72 121.5h3M96 121.5h3M267 121.5h15M96 124.5h3M195 124.5h3M267 124.5h6M276 124.5h6M69 127.5h3M96 127.5h3M189 127.5h12M231 127.5h9M267 127.5h6M276 127.5h6M96 130.5h3M192 130.5h12M225 130.5h3M243 130.5h3M267 130.5h6M276 130.5h6M66 133.5h3M183 133.5h3M195 133.5h3M204 133.5h3M222 133.5h3M246 133.5h3M267 133.5h15M63 136.5h3M93 136.5h3M183 136.5h3M195 136.5h3M204 136.5h3M219 136.5h3M249 136.5h3M267 136.5h15M63 139.5h3M90 139.5h3M183 139.5h3M195 139.5h3M204 139.5h6M216 139.5h3M252 139.5h3M267 139.5h15M90 142.5h3M186 142.5h3M195 142.5h24M252 142.5h30M60 145.5h3M87 145.5h3M186 145.5h3M204 145.5h12M255 145.5h27M87 148.5h3M186 148.5h3M210 148.5h6M255 148.5h27M57 151.5h3M87 151.5h3M186 151.5h3M213 151.5h3M255 151.5h27M87 154.5h3M105 154.5h6M114 154.5h3M186 154.5h3M213 154.5h3M249 154.5h33M87 157.5h18M117 157.5h3M186 157.5h3M213 157.5h69M51 160.5h3M117 160.5h3M213 160.5h12M252 160.5h12M51 163.5h3M117 163.5h3M183 163.5h3M213 163.5h12M255 163.5h6M48 166.5h9M117 166.5h3M183 166.5h3M213 166.5h15M255 166.5h6M45 169.5h18M117 169.5h15M213 169.5h36M252 169.5h6M45 172.5h12M60 172.5h6M114 172.5h12M135 172.5h3M213 172.5h6M243 172.5h12M45 175.5h12M63 175.5h3M114 175.5h6M138 175.5h3M192 175.5h3M213 175.5h6M45 178.5h15M63 178.5h3M141 178.5h3M195 178.5h3M213 178.5h6M45 181.5h21M141 181.5h3M198 181.5h3M213 181.5h3M45 184.5h21M144 184.5h3M213 184.5h3M45 187.5h18M147 187.5h3M204 187.5h9M45 190.5h18M36 193.5h27M33 196.5h6M45 196.5h18M33 199.5h3M45 199.5h6M63 199.5h3M33 202.5h3M45 202.5h6M66 202.5h3M30 205.5h6M45 205.5h6M69 205.5h3M147 205.5h3M27 208.5h12M45 208.5h6M72 208.5h3M84 208.5h6M18 211.5h33M75 211.5h18M144 211.5h3M15 214.5h3M30 214.5h21M75 214.5h18M15 217.5h3M30 217.5h21M75 217.5h18M15 220.5h6M27 220.5h24M75 220.5h18M144 220.5h3"/><path stroke="#ffffff" d="M129 55.5h3M141 55.5h3M156 55.5h3M216 55.5h3M183 61.5h6M219 67.5h3M270 67.5h12M120 70.5h3M258 70.5h6M114 73.5h3M165 73.5h3M243 73.5h3M177 76.5h3M240 76.5h3M111 79.5h3M180 79.5h3M237 79.5h3M135 82.5h3M180 82.5h3M219 82.5h3M234 82.5h3M108 85.5h3M141 85.5h3M180 85.5h3M222 85.5h3M231 85.5h3M102 88.5h3M144 88.5h3M225 88.5h6M144 91.5h3M177 91.5h3M222 91.5h3M231 91.5h3M93 94.5h3M141 94.5h3M165 94.5h6M216 94.5h3M237 94.5h3M138 97.5h3M159 97.5h3M240 97.5h3M90 100.5h3M213 100.5h3M87 103.5h3M159 103.5h3M213 103.5h3M240 103.5h3M81 106.5h3M162 106.5h6M216 106.5h3M75 109.5h3M144 109.5h6M219 109.5h3M234 109.5h3M150 112.5h3M69 115.5h3M102 115.5h6M102 118.5h3M108 118.5h3M189 118.5h3M66 121.5h3M102 121.5h3M111 121.5h6M150 121.5h3M102 124.5h3M129 124.5h18M102 127.5h3M180 127.5h3M60 130.5h3M102 130.5h3M177 130.5h3M102 133.5h3M177 133.5h3M102 136.5h3M177 136.5h3M231 136.5h9M102 139.5h3M177 139.5h3M228 139.5h3M240 139.5h3M57 142.5h3M102 142.5h3M228 142.5h3M240 142.5h3M102 145.5h9M228 145.5h15M54 148.5h3M114 148.5h3M180 148.5h3M180 151.5h3M120 154.5h3M180 154.5h3M45 157.5h3M42 160.5h3M123 160.5h3M39 163.5h3M126 163.5h3M36 166.5h3M135 166.5h6M33 169.5h3M144 169.5h3M270 169.5h12M33 172.5h3M267 172.5h3M33 175.5h3M147 175.5h3M186 175.5h3M264 175.5h6M33 178.5h3M189 178.5h3M264 178.5h9M279 178.5h3M18 181.5h18M150 181.5h3M228 181.5h15M258 181.5h24M18 184.5h18M195 184.5h3M225 184.5h57M24 187.5h9M225 187.5h6M240 187.5h42M27 190.5h3M153 190.5h3M222 190.5h9M237 190.5h45M27 193.5h3M153 193.5h3M204 193.5h3M222 193.5h60M153 196.5h3M210 196.5h72M153 199.5h3M213 199.5h69M153 202.5h3M213 202.5h69M18 205.5h3M213 205.5h69M12 208.5h3M213 208.5h69M0 211.5h9M60 211.5h6M150 211.5h3M213 211.5h69M0 214.5h3M57 214.5h9M150 214.5h3M210 214.5h72M0 217.5h3M57 217.5h9M150 217.5h3M210 217.5h72M0 220.5h6M57 220.5h9M150 220.5h3M213 220.5h69"/><path stroke="#dfdfff" d="M132 55.5h3M162 55.5h9M213 55.5h3M129 58.5h3M177 58.5h3M180 61.5h3M219 61.5h3M183 64.5h6M129 67.5h3M126 70.5h3M153 70.5h3M270 70.5h12M171 73.5h12M249 73.5h3M243 76.5h3M183 79.5h3M240 79.5h3M129 82.5h3M183 82.5h3M216 82.5h3M237 82.5h3M111 85.5h3M132 85.5h3M183 85.5h3M108 88.5h3M138 88.5h3M183 88.5h3M219 88.5h3M234 88.5h3M99 91.5h6M138 91.5h3M180 91.5h3M216 91.5h3M237 91.5h3M96 94.5h3M177 94.5h3M213 94.5h3M243 94.5h3M96 97.5h3M135 97.5h3M165 97.5h6M210 97.5h3M246 97.5h3M162 100.5h3M210 100.5h3M246 100.5h3M93 103.5h3M165 103.5h3M210 103.5h3M243 103.5h3M87 106.5h3M135 106.5h3M189 106.5h3M213 106.5h3M78 109.5h3M99 109.5h9M138 109.5h3M192 109.5h3M216 109.5h3M237 109.5h3M75 112.5h3M99 112.5h3M108 112.5h3M147 112.5h3M192 112.5h3M222 112.5h3M231 112.5h3M72 115.5h3M111 115.5h3M192 115.5h3M114 118.5h3M192 118.5h3M69 121.5h3M99 121.5h3M132 121.5h6M144 121.5h3M99 124.5h3M189 124.5h3M66 127.5h3M99 127.5h3M183 127.5h3M63 130.5h3M99 130.5h3M180 130.5h3M234 130.5h3M99 133.5h3M180 133.5h3M228 133.5h3M240 133.5h3M180 136.5h3M225 136.5h3M243 136.5h3M60 139.5h3M96 139.5h3M180 139.5h3M222 139.5h3M246 139.5h3M96 142.5h3M222 142.5h3M246 142.5h3M93 145.5h3M183 145.5h3M219 145.5h6M246 145.5h6M93 148.5h6M183 148.5h3M219 148.5h6M246 148.5h3M54 151.5h3M93 151.5h15M114 151.5h3M183 151.5h3M225 151.5h21M183 154.5h3M48 160.5h3M120 160.5h3M45 163.5h3M267 163.5h15M42 166.5h3M126 166.5h3M264 166.5h3M39 169.5h3M138 169.5h3M261 169.5h3M39 172.5h3M141 172.5h3M261 172.5h3M39 175.5h3M189 175.5h3M228 175.5h15M255 175.5h6M39 178.5h3M144 178.5h3M192 178.5h3M222 178.5h6M243 178.5h12M39 181.5h3M147 181.5h3M195 181.5h3M219 181.5h6M39 184.5h3M147 184.5h3M219 184.5h3M39 187.5h3M216 187.5h3M33 190.5h6M150 190.5h3M204 190.5h15M30 193.5h3M30 196.5h3M27 202.5h3M57 202.5h6M150 202.5h3M24 205.5h3M54 205.5h12M150 205.5h3M18 208.5h3M54 208.5h3M66 208.5h3M12 211.5h3M54 211.5h3M69 211.5h3M147 211.5h3M9 214.5h3M69 214.5h3M147 214.5h3M9 217.5h3M69 217.5h3M147 217.5h3M9 220.5h3M69 220.5h3M147 220.5h3"/><path stroke="#9f9fff" d="M195 55.5h3M135 58.5h6M153 58.5h3M174 58.5h3M213 58.5h3M132 61.5h3M177 61.5h3M150 67.5h3M189 67.5h3M165 70.5h6M174 70.5h3M189 70.5h3M213 70.5h3M189 73.5h3M117 76.5h3M189 76.5h3M123 79.5h3M189 79.5h3M210 79.5h3M252 79.5h9M117 82.5h3M123 82.5h3M189 82.5h3M210 82.5h3M249 82.5h9M120 85.5h3M189 85.5h3M210 85.5h3M189 88.5h3M207 88.5h3M189 91.5h6M204 91.5h3M189 94.5h15M198 109.5h3M207 109.5h3M246 109.5h15M84 112.5h9M213 112.5h3M240 112.5h3M258 112.5h6M78 115.5h3M219 115.5h3M261 115.5h3M93 118.5h3M222 118.5h6M231 118.5h6M261 118.5h3M93 121.5h3M198 121.5h3M225 121.5h12M93 124.5h3M201 124.5h3M225 124.5h6M237 124.5h6M264 124.5h3M72 127.5h3M93 127.5h3M204 127.5h3M222 127.5h3M243 127.5h3M264 127.5h3M93 130.5h3M207 130.5h3M261 130.5h3M69 133.5h3M90 133.5h3M210 133.5h3M216 133.5h6M252 133.5h3M261 133.5h3M87 136.5h3M213 136.5h3M255 136.5h6M66 139.5h3M84 139.5h3M84 142.5h3M63 145.5h3M81 145.5h3M60 148.5h3M81 148.5h3M195 148.5h9M81 151.5h3M192 151.5h3M201 151.5h6M57 154.5h3M81 154.5h3M207 154.5h3M57 157.5h3M81 157.5h3M111 157.5h3M189 157.5h3M207 157.5h3M57 160.5h3M84 160.5h3M105 160.5h12M207 160.5h3M57 163.5h6M84 163.5h18M111 163.5h3M207 163.5h3M63 166.5h6M111 166.5h3M207 166.5h3M66 169.5h3M108 169.5h3M189 169.5h3M207 169.5h3M69 172.5h3M108 172.5h3M192 172.5h3M207 172.5h3M69 175.5h3M108 175.5h3M126 175.5h9M195 175.5h3M207 175.5h3M69 178.5h3M108 178.5h3M123 178.5h3M135 178.5h3M198 178.5h3M207 178.5h3M69 181.5h3M108 181.5h12M138 181.5h3M201 181.5h9M69 184.5h3M141 184.5h3M69 187.5h3M66 190.5h3M66 193.5h3M66 196.5h3M147 196.5h3M69 199.5h3M72 202.5h3M84 202.5h9M75 205.5h9M93 205.5h3M144 205.5h3M141 208.5h3M96 211.5h3M138 211.5h3M96 214.5h3M138 214.5h3M96 217.5h3M138 217.5h3M96 220.5h3M138 220.5h3"/><path stroke="#6f6fff" d="M198 55.5h3M204 55.5h3M162 58.5h3M210 58.5h3M150 61.5h3M150 64.5h3M192 64.5h3M213 64.5h3M159 67.5h3M174 67.5h3M192 70.5h3M192 73.5h3M207 76.5h3M195 79.5h3M204 79.5h3M195 82.5h9M198 85.5h6M201 115.5h12M246 115.5h6M81 118.5h9M201 118.5h3M213 118.5h3M243 118.5h12M81 121.5h3M204 121.5h6M213 121.5h6M246 121.5h12M78 124.5h3M210 124.5h9M249 124.5h9M78 127.5h3M87 127.5h3M213 127.5h3M78 130.5h9M78 133.5h6M69 148.5h3M66 151.5h9M63 154.5h12M63 157.5h12M198 160.5h3M195 163.5h6M195 166.5h6M78 172.5h24M78 175.5h6M96 175.5h6M78 178.5h3M99 178.5h3M78 181.5h3M99 181.5h3M78 184.5h3M99 184.5h3M117 184.5h12M78 187.5h3M99 187.5h9M129 187.5h6M78 190.5h3M135 190.5h6M78 193.5h6M141 193.5h3M78 196.5h6M90 196.5h9M141 196.5h3M96 199.5h3M141 199.5h3M99 202.5h3M138 202.5h3M99 205.5h3M135 205.5h3M102 208.5h6M126 208.5h9"/><path stroke="#5f5fff" d="M201 55.5h3M165 58.5h6M195 58.5h3M153 61.5h3M174 61.5h3M153 64.5h3M162 67.5h3M192 67.5h3M210 70.5h3M195 76.5h3M204 76.5h3M198 79.5h6M204 118.5h9M84 121.5h6M210 121.5h3M81 124.5h9M81 127.5h6M84 175.5h12M81 178.5h3M96 178.5h3M81 181.5h3M96 181.5h3M96 184.5h3M81 187.5h3M96 187.5h3M108 187.5h6M126 187.5h3M81 190.5h3M93 190.5h12M132 190.5h3M84 193.5h18M135 193.5h6M99 196.5h3M138 196.5h3M99 199.5h3M138 199.5h3M135 202.5h3M102 205.5h3M129 205.5h6M108 208.5h18"/><path stroke="#8f8fff" d="M207 55.5h3M156 58.5h3M135 61.5h3M135 64.5h6M177 64.5h3M153 67.5h3M177 67.5h3M171 70.5h3M120 76.5h3M210 76.5h3M117 79.5h6M120 82.5h3M192 82.5h3M207 82.5h3M192 85.5h3M207 85.5h3M192 88.5h3M204 88.5h3M195 91.5h9M201 109.5h6M198 112.5h3M210 112.5h3M243 112.5h3M255 112.5h3M81 115.5h3M90 115.5h3M198 115.5h3M216 115.5h3M237 115.5h3M258 115.5h3M78 118.5h3M198 118.5h3M219 118.5h3M237 118.5h3M258 118.5h3M75 121.5h3M222 121.5h3M237 121.5h3M261 121.5h3M75 124.5h3M204 124.5h3M222 124.5h3M243 124.5h3M261 124.5h3M207 127.5h3M246 127.5h3M261 127.5h3M72 130.5h3M90 130.5h3M210 130.5h3M216 130.5h6M249 130.5h6M258 130.5h3M72 133.5h3M87 133.5h3M213 133.5h3M255 133.5h6M69 136.5h3M84 136.5h3M69 139.5h3M81 139.5h3M66 142.5h3M78 142.5h6M78 145.5h3M63 148.5h3M78 148.5h3M60 151.5h3M78 151.5h3M195 151.5h6M60 154.5h3M78 154.5h3M192 154.5h6M201 154.5h6M78 157.5h3M192 157.5h3M204 157.5h3M60 160.5h3M78 160.5h6M189 160.5h3M204 160.5h3M63 163.5h6M81 163.5h3M102 163.5h9M189 163.5h3M204 163.5h3M69 166.5h3M84 166.5h27M189 166.5h3M204 166.5h3M69 169.5h6M105 169.5h3M192 169.5h3M204 169.5h3M72 172.5h3M105 172.5h3M195 172.5h3M204 172.5h3M72 175.5h3M105 175.5h3M198 175.5h9M72 178.5h3M105 178.5h3M126 178.5h9M201 178.5h6M72 181.5h3M105 181.5h3M120 181.5h18M72 184.5h3M135 184.5h6M72 187.5h3M141 187.5h3M69 190.5h3M144 190.5h3M69 193.5h3M69 196.5h3M72 199.5h3M84 199.5h9M75 202.5h9M93 202.5h3M144 202.5h3M96 205.5h3M141 205.5h3M96 208.5h3M138 208.5h3M99 211.5h3M135 211.5h3M99 214.5h6M111 214.5h18M132 214.5h6M99 217.5h6M108 217.5h21M132 217.5h6M99 220.5h3M114 220.5h12M132 220.5h6"/><path stroke="#afafff" d="M132 58.5h3M141 58.5h12M192 58.5h3M216 61.5h3M132 64.5h3M189 64.5h3M216 64.5h3M141 67.5h9M162 70.5h3M177 70.5h3M213 73.5h3M123 76.5h3M252 76.5h18M246 79.5h6M261 79.5h21M246 82.5h3M258 82.5h24M117 85.5h3M123 85.5h3M243 85.5h21M120 88.5h9M210 88.5h3M246 88.5h3M126 91.5h6M186 91.5h3M207 91.5h3M126 94.5h6M186 94.5h3M204 94.5h3M105 97.5h3M126 97.5h6M183 97.5h18M123 100.5h6M177 100.5h15M120 103.5h9M117 106.5h15M198 106.5h12M249 106.5h15M117 109.5h15M210 109.5h3M243 109.5h3M261 109.5h6M81 112.5h3M93 112.5h3M117 112.5h15M195 112.5h3M216 112.5h3M237 112.5h3M264 112.5h3M93 115.5h3M120 115.5h6M138 115.5h3M195 115.5h3M234 115.5h3M264 115.5h3M75 118.5h3M195 118.5h3M228 118.5h3M264 118.5h3M195 121.5h3M264 121.5h3M72 124.5h3M198 124.5h3M231 124.5h6M201 127.5h3M225 127.5h6M240 127.5h3M69 130.5h3M186 130.5h6M204 130.5h3M222 130.5h3M246 130.5h3M264 130.5h3M93 133.5h3M186 133.5h9M207 133.5h3M249 133.5h3M264 133.5h3M66 136.5h3M90 136.5h3M186 136.5h9M207 136.5h6M216 136.5h3M252 136.5h3M261 136.5h6M87 139.5h3M186 139.5h9M210 139.5h6M255 139.5h12M63 142.5h3M87 142.5h3M189 142.5h6M84 145.5h3M189 145.5h15M84 148.5h3M189 148.5h6M204 148.5h6M84 151.5h3M189 151.5h3M207 151.5h6M84 154.5h3M111 154.5h3M189 154.5h3M210 154.5h3M54 157.5h3M84 157.5h3M105 157.5h6M114 157.5h3M210 157.5h3M54 160.5h3M87 160.5h18M186 160.5h3M210 160.5h3M225 160.5h27M54 163.5h3M114 163.5h3M186 163.5h3M210 163.5h3M225 163.5h30M57 166.5h6M114 166.5h3M186 166.5h3M210 166.5h3M228 166.5h27M63 169.5h3M111 169.5h6M186 169.5h3M210 169.5h3M249 169.5h3M66 172.5h3M111 172.5h3M126 172.5h9M189 172.5h3M210 172.5h3M66 175.5h3M111 175.5h3M120 175.5h6M135 175.5h3M210 175.5h3M66 178.5h3M111 178.5h12M138 178.5h3M210 178.5h3M66 181.5h3M210 181.5h3M66 184.5h3M201 184.5h12M63 187.5h6M144 187.5h3M63 190.5h3M147 190.5h3M63 193.5h3M147 193.5h3M39 196.5h6M63 196.5h3M36 199.5h9M66 199.5h3M147 199.5h3M36 202.5h9M69 202.5h3M147 202.5h3M36 205.5h9M72 205.5h3M84 205.5h9M39 208.5h6M75 208.5h9M90 208.5h6M144 208.5h3M93 211.5h3M141 211.5h3M18 214.5h12M93 214.5h3M141 214.5h3M18 217.5h12M93 217.5h3M141 217.5h3M21 220.5h6M93 220.5h3M141 220.5h3"/><path stroke="#7f7fff" d="M159 58.5h3M171 58.5h3M138 61.5h12M192 61.5h3M213 61.5h3M141 64.5h9M156 67.5h3M213 67.5h3M210 73.5h3M192 76.5h3M192 79.5h3M207 79.5h3M204 82.5h3M195 85.5h3M204 85.5h3M195 88.5h9M201 112.5h9M246 112.5h9M84 115.5h6M213 115.5h3M240 115.5h6M252 115.5h6M90 118.5h3M216 118.5h3M240 118.5h3M255 118.5h3M78 121.5h3M90 121.5h3M201 121.5h3M219 121.5h3M240 121.5h6M258 121.5h3M90 124.5h3M207 124.5h3M219 124.5h3M246 124.5h3M258 124.5h3M75 127.5h3M90 127.5h3M210 127.5h3M216 127.5h6M249 127.5h12M75 130.5h3M87 130.5h3M213 130.5h3M255 130.5h3M75 133.5h3M84 133.5h3M72 136.5h12M72 139.5h9M69 142.5h9M66 145.5h12M66 148.5h3M72 148.5h6M63 151.5h3M75 151.5h3M75 154.5h3M198 154.5h3M60 157.5h3M75 157.5h3M195 157.5h9M63 160.5h15M192 160.5h6M201 160.5h3M69 163.5h12M192 163.5h3M201 163.5h3M72 166.5h12M192 166.5h3M201 166.5h3M75 169.5h30M195 169.5h9M75 172.5h3M102 172.5h3M198 172.5h6M75 175.5h3M102 175.5h3M75 178.5h3M102 178.5h3M75 181.5h3M102 181.5h3M75 184.5h3M102 184.5h15M129 184.5h6M75 187.5h3M135 187.5h6M72 190.5h6M141 190.5h3M72 193.5h6M144 193.5h3M72 196.5h6M84 196.5h6M144 196.5h3M75 199.5h9M93 199.5h3M144 199.5h3M96 202.5h3M141 202.5h3M138 205.5h3M99 208.5h3M135 208.5h3M102 211.5h33M105 214.5h6M129 214.5h3M105 217.5h3M129 217.5h3M102 220.5h12M126 220.5h6"/><path stroke="#1f1fff" d="M198 58.5h3M162 61.5h9M162 64.5h9M195 64.5h3M195 67.5h3M114 190.5h9M108 193.5h3M126 196.5h3M126 199.5h3M108 202.5h3M123 202.5h3"/><path stroke="#0f0fff" d="M201 58.5h6M207 67.5h3M198 70.5h3M204 70.5h3M111 193.5h3M123 193.5h3M108 196.5h3M108 199.5h3M123 199.5h3M111 202.5h12"/><path stroke="#3f3fff" d="M207 58.5h3M210 61.5h3M159 64.5h3M210 67.5h3M204 73.5h3M87 181.5h6M84 184.5h9M87 187.5h3M108 190.5h3M126 190.5h3M105 193.5h3M129 193.5h3M102 196.5h3M129 196.5h3M102 199.5h3M129 199.5h3M105 202.5h3M108 205.5h6M120 205.5h6"/><path stroke="#4f4fff" d="M156 61.5h3M156 64.5h3M174 64.5h3M165 67.5h9M195 73.5h3M207 73.5h3M198 76.5h6M84 178.5h12M84 181.5h3M93 181.5h3M81 184.5h3M93 184.5h3M84 187.5h3M90 187.5h6M114 187.5h12M84 190.5h9M105 190.5h3M129 190.5h3M102 193.5h3M132 193.5h3M132 196.5h6M132 199.5h6M102 202.5h3M129 202.5h6M105 205.5h3M126 205.5h3"/><path stroke="#2f2fff" d="M159 61.5h3M171 61.5h3M195 61.5h3M171 64.5h3M210 64.5h3M195 70.5h3M207 70.5h3M198 73.5h6M111 190.5h3M123 190.5h3M126 193.5h3M105 196.5h3M105 199.5h3M126 202.5h3M114 205.5h6"/><path stroke="#0000ff" d="M198 61.5h12M198 64.5h12M198 67.5h9M201 70.5h3M114 193.5h9M111 196.5h15M111 199.5h12"/></g></g></g><path d="M225.2 218.5V211.5L229 210L233 208L236 206.5L238.2 207L238.8 211L242 214L244 209L247 214.5L249 218.5ZM253 218.5L256.3 215L261 215.5L265 218.5Z" fill="#fff"/><path d="M-1.0 156.0 L4.6 151.8 L14.0 140.1 L25.8 131.4 L37.5 119.7 L46.2 116.8 L50.6 109.5 L59.4 100.7 L63.7 93.4 L72.5 87.6 L81.3 81.7 L86.1 79.0 L94.2 72.5 L96.6 66.1 L97.4 61.3 L95.8 56.5 L90.2 54.0 L91.0 50.9 L95.8 49.3 L105.4 48.5 L108.6 50.1 L109.4 46.8 L118.3 42.0 L124.7 39.6 L129.0 38.5 L135.3 36.5 L139.6 34.3 L146.9 31.4 L150.6 28.5 L155.7 24.8 L158.6 26.3 L161.5 29.2 L165.9 30.0 L173.2 29.2 L180.5 29.2 L186.4 30.4 M186.4 30.4 L177.6 32.1 L171.8 35.1 L170.3 39.4 L174.7 46.7 L182.0 52.6 L186.4 57.0 L187.1 61.3 L184.9 65.7 L184.2 70.0 L187.2 73.0 L186.4 76.0 L184.4 82.2 L178.2 83.2 L170.1 85.2 L163.9 89.3 L168.0 92.4 L169.1 96.5 L163.9 100.6 L161.9 104.7 L161.9 113.9 M179.1 33.6 L177.6 36.5 L180.5 42.4 L187.8 47.5 L198.0 49.7 L202.4 46.0 L208.3 42.4 L215.6 39.4 L222.9 36.5 L229.8 38.6 L240.0 40.6 L252.1 41.6 L264.3 40.6 L278.0 37.5 M209.7 206.8 L213.3 210.4 L215.7 215.2 L215.1 218.5 M215.7 215.8 L225.2 214.0 L225.2 210.4 L228.8 209.2 L232.4 206.8 L236.0 205.0 L238.4 205.6 L239.0 210.4 L242.0 212.8 L243.8 206.2 L245.6 210.4 L248.0 214.0 L249.2 218.5 M252.8 218.5 L256.3 214.0 L261.1 214.6 L265.9 218.5 M269.5 218.5 L273.1 214.0 L275.5 205.6 L277.5 203.0 M11.7 218.0 L10.7 210.5 L13.7 204.4 L19.8 196.3 L21.8 188.1 L25.9 178.0 L23.9 175.0 L29.9 169.9 L38.1 163.8 L38.1 158.7 L42.1 158.7 L46.2 161.8 L50.2 158.7 L58.3 161.8 L64.4 156.7 L68.5 158.7 L78.6 158.7 L86.8 155.7 L94.9 152.6 L101.0 150.6 L99.0 145.5 L92.8 141.5 L99.0 135.4 L102.6 129.2 L108.8 125.1 L112.8 119.0 L119.0 112.8 L127.2 107.7 L131.2 109.8 L137.4 111.8 L141.5 108.7 L145.5 110.8 L151.7 112.8 L155.8 111.8 L161.9 113.9 L170.1 113.9 L178.2 114.9 M178.2 114.9 L184.4 121.0 L186.4 127.1 L184.4 137.4 L186.4 145.5 L189.5 154.0 L193.3 159.7 L192.3 169.9 L197.3 182.0 L196.3 190.2 L201.4 198.3 L204.5 206.4 L204.5 219.0 M178.2 114.9 L182.3 110.8 L186.4 108.7 L192.5 106.7 L198.7 102.6 L201.8 96.5 L206.9 94.4 L214.0 92.4 L215.0 86.3 L219.1 82.2 L221.2 76.0 L223.7 69.0 L233.9 70.0 L240.0 71.0 L248.1 74.0 L254.2 79.1 L256.2 83.2 L260.3 80.2 L264.3 75.0 L270.4 71.0 L278.5 67.0" stroke="#222" stroke-width="0.6" fill="none" stroke-linejoin="round"/><rect x="0" y="0" width="277" height="218" fill="none" stroke="#8c8c8c" stroke-width="1"/><path d="M5.5 0v2.5M5.5 218v-2.5M32.9 0v2.5M32.9 218v-2.5M60.3 0v2.5M60.3 218v-2.5M87.7 0v2.5M87.7 218v-2.5M115.1 0v2.5M115.1 218v-2.5M142.5 0v2.5M142.5 218v-2.5M169.9 0v2.5M169.9 218v-2.5M197.3 0v2.5M197.3 218v-2.5M224.7 0v2.5M224.7 218v-2.5M252.1 0v2.5M252.1 218v-2.5M0 25.5h2.5M277 25.5h-2.5M0 58.8h2.5M277 58.8h-2.5M0 92.1h2.5M277 92.1h-2.5M0 125.4h2.5M277 125.4h-2.5M0 158.7h2.5M277 158.7h-2.5M0 192.0h2.5M277 192.0h-2.5" stroke="#666" stroke-width="0.8" fill="none"/><text x="5.5" y="230.9" font-size="9.6" text-anchor="middle" textLength="13.5" lengthAdjust="spacingAndGlyphs">132</text><text x="32.9" y="230.9" font-size="9.6" text-anchor="middle" textLength="20.3" lengthAdjust="spacingAndGlyphs">132.2</text><text x="60.3" y="230.9" font-size="9.6" text-anchor="middle" textLength="20.3" lengthAdjust="spacingAndGlyphs">132.4</text><text x="87.7" y="230.9" font-size="9.6" text-anchor="middle" textLength="20.3" lengthAdjust="spacingAndGlyphs">132.6</text><text x="115.1" y="230.9" font-size="9.6" text-anchor="middle" textLength="20.3" lengthAdjust="spacingAndGlyphs">132.8</text><text x="142.5" y="230.9" font-size="9.6" text-anchor="middle" textLength="13.5" lengthAdjust="spacingAndGlyphs">133</text><text x="169.9" y="230.9" font-size="9.6" text-anchor="middle" textLength="20.3" lengthAdjust="spacingAndGlyphs">133.2</text><text x="197.3" y="230.9" font-size="9.6" text-anchor="middle" textLength="20.3" lengthAdjust="spacingAndGlyphs">133.4</text><text x="224.7" y="230.9" font-size="9.6" text-anchor="middle" textLength="20.3" lengthAdjust="spacingAndGlyphs">133.6</text><text x="252.1" y="230.9" font-size="9.6" text-anchor="middle" textLength="20.3" lengthAdjust="spacingAndGlyphs">133.8</text><text x="138.2" y="242.3" font-size="9.6" text-anchor="middle" textLength="44" lengthAdjust="spacingAndGlyphs">Longitude</text><text x="1.9" y="-5.4" font-size="16.5" font-weight="bold">h</text><text x="18.0" y="-4.7" font-size="14.2" textLength="35.5" lengthAdjust="spacingAndGlyphs">3 km</text><path d="M183.7 13.8v-4.8h75.8v4.8" stroke="#666" stroke-width="0.8" fill="none"/><text x="221" y="21.7" font-size="12" text-anchor="middle" textLength="31.6" lengthAdjust="spacingAndGlyphs">50 km</text></g><path d="M418.1 605.8L539 734.5L513.5 759.5L393.7 626.8Z" fill="none" stroke="#000" stroke-width="1.4" stroke-dasharray="5 3.6"/><rect x="622.2" y="172.3" width="18.6" height="301.4" fill="url(#jet)" stroke="#444" stroke-width="0.8"/><path d="M640.8 200.3h-2.5" stroke="#333" stroke-width="0.8"/><text x="647" y="205.1" font-size="14" textLength="17.8" lengthAdjust="spacingAndGlyphs">3.6</text><path d="M640.8 226.4h-2.5" stroke="#333" stroke-width="0.8"/><text x="647" y="231.2" font-size="14" textLength="17.8" lengthAdjust="spacingAndGlyphs">3.4</text><path d="M640.8 252.4h-2.5" stroke="#333" stroke-width="0.8"/><text x="647" y="257.2" font-size="14" textLength="17.8" lengthAdjust="spacingAndGlyphs">3.2</text><path d="M640.8 278.5h-2.5" stroke="#333" stroke-width="0.8"/><text x="647" y="283.3" font-size="14" textLength="7.2" lengthAdjust="spacingAndGlyphs">3</text><path d="M640.8 304.6h-2.5" stroke="#333" stroke-width="0.8"/><text x="647" y="309.4" font-size="14" textLength="17.8" lengthAdjust="spacingAndGlyphs">2.8</text><path d="M640.8 330.6h-2.5" stroke="#333" stroke-width="0.8"/><text x="647" y="335.4" font-size="14" textLength="17.8" lengthAdjust="spacingAndGlyphs">2.6</text><path d="M640.8 356.7h-2.5" stroke="#333" stroke-width="0.8"/><text x="647" y="361.5" font-size="14" textLength="17.8" lengthAdjust="spacingAndGlyphs">2.4</text><path d="M640.8 382.8h-2.5" stroke="#333" stroke-width="0.8"/><text x="647" y="387.6" font-size="14" textLength="17.8" lengthAdjust="spacingAndGlyphs">2.2</text><path d="M640.8 408.9h-2.5" stroke="#333" stroke-width="0.8"/><text x="647" y="413.7" font-size="14" textLength="7.2" lengthAdjust="spacingAndGlyphs">2</text><path d="M640.8 434.9h-2.5" stroke="#333" stroke-width="0.8"/><text x="647" y="439.7" font-size="14" textLength="17.8" lengthAdjust="spacingAndGlyphs">1.8</text><path d="M640.8 461.0h-2.5" stroke="#333" stroke-width="0.8"/><text x="647" y="465.8" font-size="14" textLength="17.8" lengthAdjust="spacingAndGlyphs">1.6</text><text x="0" y="0" font-size="13.5" text-anchor="middle" textLength="157" lengthAdjust="spacingAndGlyphs" transform="translate(681.3,323.3) rotate(-90)">S−wave Velocity [km/s]</text><rect x="624.9" y="654.6" width="17.9" height="292.4" fill="url(#bwr)" stroke="#666" stroke-width="0.8"/><path d="M642.8 654.6h-2.5" stroke="#333" stroke-width="0.8"/><text x="648.7" y="659.4" font-size="14">8</text><path d="M642.8 691.1h-2.5" stroke="#333" stroke-width="0.8"/><text x="648.7" y="695.9" font-size="14">6</text><path d="M642.8 727.7h-2.5" stroke="#333" stroke-width="0.8"/><text x="648.7" y="732.5" font-size="14">4</text><path d="M642.8 764.2h-2.5" stroke="#333" stroke-width="0.8"/><text x="648.7" y="769.0" font-size="14">2</text><path d="M642.8 800.8h-2.5" stroke="#333" stroke-width="0.8"/><text x="648.7" y="805.6" font-size="14">0</text><path d="M642.8 837.4h-2.5" stroke="#333" stroke-width="0.8"/><text x="648.7" y="842.1" font-size="14">−2</text><path d="M642.8 873.9h-2.5" stroke="#333" stroke-width="0.8"/><text x="648.7" y="878.7" font-size="14">−4</text><path d="M642.8 910.5h-2.5" stroke="#333" stroke-width="0.8"/><text x="648.7" y="915.2" font-size="14">−6</text><path d="M642.8 947.0h-2.5" stroke="#333" stroke-width="0.8"/><text x="648.7" y="951.8" font-size="14">−8</text><text x="0" y="0" font-size="13.5" text-anchor="middle" textLength="158" lengthAdjust="spacingAndGlyphs" transform="translate(679.3,801.6) rotate(-90)">Velocity Perturbation [%]</text></svg></body></html>
